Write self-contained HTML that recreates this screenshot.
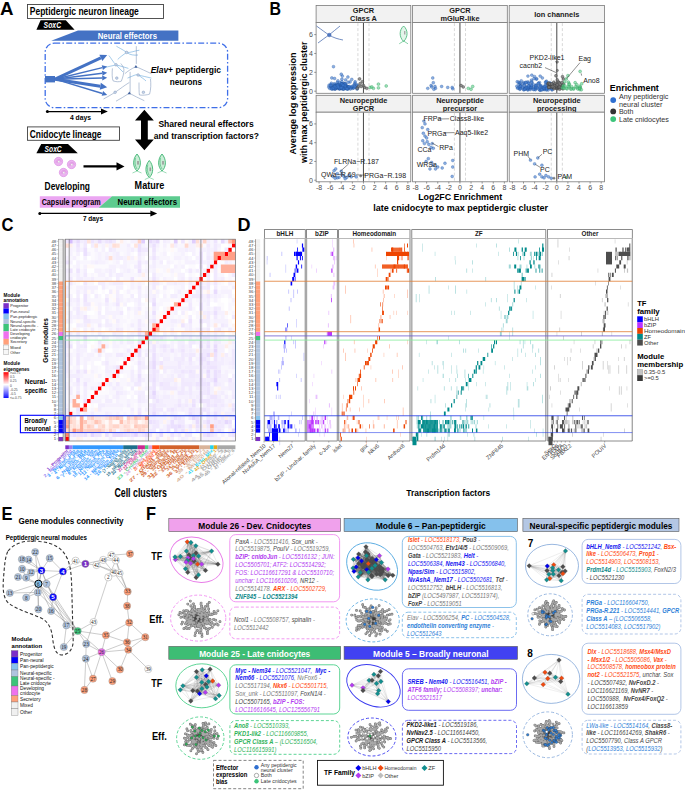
<!DOCTYPE html>
<html><head><meta charset="utf-8"><title>Figure</title>
<style>html,body{margin:0;padding:0;background:#fff;overflow:hidden;width:685px;height:790px;}svg{display:block;}text{font-family:"Liberation Sans",sans-serif;}</style>
</head><body>
<svg width="685" height="790" viewBox="0 0 685 790" font-family='"Liberation Sans", sans-serif'>
<rect width="685" height="790" fill="#fff"/>
<text x="0.0" y="15.1" font-size="18" fill="#000" font-weight="bold" textLength="13.5" lengthAdjust="spacingAndGlyphs">A</text>
<rect x="27.50" y="4.50" width="136.00" height="14.00" fill="#fff" stroke="#404040" stroke-width="0.9"/>
<text x="29.8" y="15.4" font-size="10.5" fill="#000" font-weight="bold" textLength="109.0" lengthAdjust="spacingAndGlyphs">Peptidergic neuron lineage</text>
<polygon points="36.40,29.80 40.60,20.20 65.80,20.20 74.60,29.80" fill="#000" stroke="none" stroke-width="1"/>
<text x="43.6" y="28.3" font-size="9.5" fill="#fff" font-weight="bold" font-style="italic" textLength="17.5" lengthAdjust="spacingAndGlyphs">SoxC</text>
<polygon points="51.20,40.80 78.00,30.40 178.40,30.40 178.40,40.80" fill="#4472c4" stroke="none" stroke-width="1"/>
<text x="97.7" y="38.9" font-size="9" fill="#fff" font-weight="bold" textLength="59.3" lengthAdjust="spacingAndGlyphs">Neural effectors</text>
<rect x="45.20" y="43.20" width="182.40" height="64.40" fill="none" stroke="#3f6fe8" stroke-width="1.3" rx="9" stroke-dasharray="6 2.2 1.6 2.2"/>
<rect x="45.00" y="76.00" width="10.00" height="6.40" fill="#4472c4" stroke="none" stroke-width="1"/>
<line x1="55.00" y1="79.20" x2="100.85" y2="57.94" stroke="#4472c4" stroke-width="3.0"/>
<polygon points="107.20,55.00 102.32,61.12 99.38,54.77" fill="#4472c4" stroke="none" stroke-width="1"/>
<line x1="55.00" y1="79.20" x2="102.34" y2="67.59" stroke="#4472c4" stroke-width="1.4"/>
<polygon points="107.20,66.40 102.94,70.02 101.75,65.16" fill="#4472c4" stroke="none" stroke-width="1"/>
<line x1="55.00" y1="79.20" x2="102.24" y2="73.32" stroke="#4472c4" stroke-width="1.6"/>
<polygon points="107.20,72.70 102.55,75.80 101.93,70.84" fill="#4472c4" stroke="none" stroke-width="1"/>
<line x1="55.00" y1="79.20" x2="102.20" y2="77.93" stroke="#4472c4" stroke-width="1.6"/>
<polygon points="107.20,77.80 102.27,80.43 102.13,75.43" fill="#4472c4" stroke="none" stroke-width="1"/>
<line x1="55.00" y1="79.20" x2="100.28" y2="86.23" stroke="#4472c4" stroke-width="3.0"/>
<polygon points="107.20,87.30 99.75,89.69 100.82,82.77" fill="#4472c4" stroke="none" stroke-width="1"/>
<line x1="55.00" y1="79.20" x2="102.41" y2="93.46" stroke="#4472c4" stroke-width="1.4"/>
<polygon points="107.20,94.90 101.69,95.85 103.13,91.07" fill="#4472c4" stroke="none" stroke-width="1"/>
<path d="M116.4 46.2 C119 48 122 49 126.6 52.4 C130 53 134 51 139.4 50.2" fill="none" stroke="#5aa0d8" stroke-width="0.55"/>
<path d="M117.7 59.5 C120 57 123 55 126.6 52.4" fill="none" stroke="#5aa0d8" stroke-width="0.55"/>
<path d="M126.6 52.4 C130 55 134 55.5 138 55" fill="none" stroke="#5aa0d8" stroke-width="0.55"/>
<path d="M108.9 55.5 C111 58 113 62 116 64.8" fill="none" stroke="#5aa0d8" stroke-width="0.55"/>
<path d="M105.3 67.5 C108 66.5 112 66 116 64.8 C120 66 124 67 128.4 68.4" fill="none" stroke="#5aa0d8" stroke-width="0.55"/>
<path d="M116 64.8 C118 67 121 70 123 72" fill="none" stroke="#5aa0d8" stroke-width="0.55"/>
<path d="M127.5 78.1 C133 76 136 74 138.1 75 C142 76 147 77 151.4 78.1" fill="none" stroke="#5aa0d8" stroke-width="0.55"/>
<path d="M138.1 75 C141 77 144 79 146 81" fill="none" stroke="#5aa0d8" stroke-width="0.55"/>
<path d="M136.3 46.2 L136.3 63.9" fill="none" stroke="#6f88b0" stroke-width="0.5"/>
<path d="M112.4 68.4 C112 73 112 78 113 80.8 C116 82 119 82 121.3 81.2 C123 77 124 73 123.9 69.2" fill="none" stroke="#6f88b0" stroke-width="0.5"/>
<path d="M120.8 63.5 C122 65 123.5 67 123.9 69.2" fill="none" stroke="#6f88b0" stroke-width="0.5"/>
<path d="M139 82.5 C139 87 139 92 139.4 95 C143 95.5 147 95 149.6 94.1 C151 89 151 84 150.5 79" fill="none" stroke="#6f88b0" stroke-width="0.5"/>
<path d="M135.9 66.6 C141 69 146 71 151.4 73.7" fill="none" stroke="#6f88b0" stroke-width="0.5"/>
<path d="M135.9 66.6 C131 69 128 71 124.8 73.7" fill="none" stroke="#6f88b0" stroke-width="0.5"/>
<path d="M130.1 71.9 L130.1 93.2" fill="none" stroke="#6f88b0" stroke-width="0.5"/>
<path d="M129.3 93.2 C125 96 120 99 116 101.2" fill="none" stroke="#6f88b0" stroke-width="0.5"/>
<path d="M129.3 93.2 C134 96 139 98 144.3 100.7" fill="none" stroke="#6f88b0" stroke-width="0.5"/>
<path d="M115.1 92.3 C111 95 107 97 103.5 99" fill="none" stroke="#6f88b0" stroke-width="0.5"/>
<path d="M115.1 92.3 C120 89 125 85 129.3 82.5" fill="none" stroke="#6f88b0" stroke-width="0.5"/>
<circle cx="126.60" cy="52.40" r="1.30" fill="#c8d6ea" stroke="#6f88b0" stroke-width="0.4"/>
<circle cx="116.00" cy="64.80" r="1.30" fill="#c8d6ea" stroke="#6f88b0" stroke-width="0.4"/>
<circle cx="138.10" cy="75.00" r="1.30" fill="#c8d6ea" stroke="#6f88b0" stroke-width="0.4"/>
<circle cx="116.80" cy="78.10" r="1.30" fill="#c8d6ea" stroke="#6f88b0" stroke-width="0.4"/>
<circle cx="115.10" cy="92.30" r="1.30" fill="#c8d6ea" stroke="#6f88b0" stroke-width="0.4"/>
<circle cx="143.40" cy="92.30" r="1.30" fill="#c8d6ea" stroke="#6f88b0" stroke-width="0.4"/>
<polygon points="135.90,65.00 137.50,67.70 134.30,67.70" fill="#3e5f9c" stroke="none" stroke-width="1"/>
<polygon points="129.30,91.60 130.90,94.30 127.70,94.30" fill="#3e5f9c" stroke="none" stroke-width="1"/>
<text x="150.7" y="73.4" font-size="9.5" font-weight="bold" textLength="70.3" lengthAdjust="spacingAndGlyphs"><tspan font-style="italic">Elav</tspan>+ peptidergic</text>
<text x="169.7" y="85.0" font-size="9.5" fill="#000" font-weight="bold" textLength="32.3" lengthAdjust="spacingAndGlyphs">neurons</text>
<circle cx="47.40" cy="111.60" r="1.50" fill="#000" stroke="none" stroke-width="1"/>
<line x1="47.40" y1="111.60" x2="102.00" y2="111.60" stroke="#000" stroke-width="1.3"/>
<polygon points="107.80,111.60 101.00,108.60 101.00,114.60" fill="#000" stroke="none" stroke-width="1"/>
<text x="70.0" y="119.9" font-size="7" fill="#000" font-weight="bold" textLength="21.0" lengthAdjust="spacingAndGlyphs">4 days</text>
<polygon points="144.40,109.80 135.00,120.50 141.00,120.50 141.00,139.50 135.00,139.50 144.40,150.30 153.80,139.50 147.80,139.50 147.80,120.50 153.80,120.50" fill="#000" stroke="none" stroke-width="1"/>
<text x="158.4" y="127.4" font-size="9.5" fill="#000" font-weight="bold" textLength="95.3" lengthAdjust="spacingAndGlyphs">Shared neural effectors</text>
<text x="153.7" y="138.6" font-size="9.5" fill="#000" font-weight="bold" textLength="105.2" lengthAdjust="spacingAndGlyphs">and transcription factors?</text>
<rect x="27.50" y="126.90" width="92.00" height="13.40" fill="#fff" stroke="#404040" stroke-width="0.9"/>
<text x="29.8" y="137.6" font-size="10.5" fill="#000" font-weight="bold" textLength="71.7" lengthAdjust="spacingAndGlyphs">Cnidocyte lineage</text>
<polygon points="36.40,153.30 41.20,143.90 68.00,143.90 77.80,153.30" fill="#000" stroke="none" stroke-width="1"/>
<text x="44.6" y="152.2" font-size="9.5" fill="#fff" font-weight="bold" font-style="italic" textLength="17.1" lengthAdjust="spacingAndGlyphs">SoxC</text>
<circle cx="58.50" cy="161.50" r="4.20" fill="#ebb2f0" stroke="#d98ae0" stroke-width="0.6"/>
<path d="M56.0 162.5 C56.5 159.0 60.5 158.5 61.5 161.5" fill="none" stroke="#d88ad8" stroke-width="0.6"/>
<path d="M57.0 163.0 C57.5 160.5 59.5 160.0 60.5 162.0" fill="none" stroke="#d88ad8" stroke-width="0.5"/>
<circle cx="58.80" cy="161.70" r="0.90" fill="#fff" stroke="#bbb" stroke-width="0.3"/>
<circle cx="71.50" cy="164.50" r="4.20" fill="#ebb2f0" stroke="#d98ae0" stroke-width="0.6"/>
<path d="M69.0 165.5 C69.5 162.0 73.5 161.5 74.5 164.5" fill="none" stroke="#d88ad8" stroke-width="0.6"/>
<path d="M70.0 166.0 C70.5 163.5 72.5 163.0 73.5 165.0" fill="none" stroke="#d88ad8" stroke-width="0.5"/>
<circle cx="71.80" cy="164.70" r="0.90" fill="#fff" stroke="#bbb" stroke-width="0.3"/>
<circle cx="63.50" cy="172.50" r="4.20" fill="#ebb2f0" stroke="#d98ae0" stroke-width="0.6"/>
<path d="M61.0 173.5 C61.5 170.0 65.5 169.5 66.5 172.5" fill="none" stroke="#d88ad8" stroke-width="0.6"/>
<path d="M62.0 174.0 C62.5 171.5 64.5 171.0 65.5 173.0" fill="none" stroke="#d88ad8" stroke-width="0.5"/>
<circle cx="63.80" cy="172.70" r="0.90" fill="#fff" stroke="#bbb" stroke-width="0.3"/>
<line x1="83.50" y1="166.40" x2="118.00" y2="166.40" stroke="#000" stroke-width="2.2"/>
<polygon points="124.50,166.40 116.50,162.20 116.50,170.60" fill="#000" stroke="none" stroke-width="1"/>
<path d="M137 154 C141.5 159 141.5 167 137 171 C132.5 167 132.5 159 137 154 Z" fill="#c9edd6" stroke="#3cb371" stroke-width="0.9"/>
<path d="M135.5 158 C134.5 162 135 166 137 169" fill="none" stroke="#3cb371" stroke-width="0.6"/>
<rect x="137.20" y="161.00" width="1.60" height="3.60" fill="#9a9a9a" stroke="none" stroke-width="1"/>
<path d="M132.5 173 L137 171 L141.5 173" fill="none" stroke="#5cc48a" stroke-width="0.6"/>
<path d="M149.3 160.5 C153.8 165.5 153.8 173.5 149.3 177.5 C144.8 173.5 144.8 165.5 149.3 160.5 Z" fill="#c9edd6" stroke="#3cb371" stroke-width="0.9"/>
<path d="M147.8 164.5 C146.8 168.5 147.3 172.5 149.3 175.5" fill="none" stroke="#3cb371" stroke-width="0.6"/>
<rect x="149.50" y="167.50" width="1.60" height="3.60" fill="#9a9a9a" stroke="none" stroke-width="1"/>
<path d="M144.8 179.5 L149.3 177.5 L153.8 179.5" fill="none" stroke="#5cc48a" stroke-width="0.6"/>
<path d="M162 154 C166.5 159 166.5 167 162 171 C157.5 167 157.5 159 162 154 Z" fill="#c9edd6" stroke="#3cb371" stroke-width="0.9"/>
<path d="M160.5 158 C159.5 162 160 166 162 169" fill="none" stroke="#3cb371" stroke-width="0.6"/>
<rect x="162.20" y="161.00" width="1.60" height="3.60" fill="#9a9a9a" stroke="none" stroke-width="1"/>
<path d="M157.5 173 L162 171 L166.5 173" fill="none" stroke="#5cc48a" stroke-width="0.6"/>
<text x="44.6" y="189.6" font-size="10" fill="#000" font-weight="bold" textLength="45.4" lengthAdjust="spacingAndGlyphs">Developing</text>
<text x="134.6" y="189.1" font-size="10" fill="#000" font-weight="bold" textLength="29.7" lengthAdjust="spacingAndGlyphs">Mature</text>
<polygon points="39.80,196.30 112.00,196.30 98.70,207.70 39.80,207.70" fill="#eba6f2" stroke="none" stroke-width="1"/>
<polygon points="112.00,196.30 180.00,196.30 180.00,207.70 98.70,207.70" fill="#5dcb8f" stroke="none" stroke-width="1"/>
<text x="41.7" y="204.5" font-size="8.5" fill="#000" font-weight="bold" textLength="58.9" lengthAdjust="spacingAndGlyphs">Capsule program</text>
<text x="117.5" y="204.9" font-size="8.5" fill="#000" font-weight="bold" textLength="59.5" lengthAdjust="spacingAndGlyphs">Neural effectors</text>
<circle cx="39.80" cy="213.40" r="1.50" fill="#000" stroke="none" stroke-width="1"/>
<line x1="39.80" y1="213.40" x2="151.00" y2="213.40" stroke="#000" stroke-width="1.3"/>
<polygon points="157.20,213.40 150.40,210.40 150.40,216.40" fill="#000" stroke="none" stroke-width="1"/>
<text x="83.0" y="221.2" font-size="7" fill="#000" font-weight="bold" textLength="20.0" lengthAdjust="spacingAndGlyphs">7 days</text>
<text x="269.5" y="15.1" font-size="18" fill="#000" font-weight="bold" textLength="11.5" lengthAdjust="spacingAndGlyphs">B</text>
<rect x="316.10" y="5.50" width="94.70" height="17.10" fill="#f2f2f2" stroke="#7a7a7a" stroke-width="0.8"/>
<text x="363.5" y="13.2" font-size="7.4" fill="#1a1a1a" font-weight="bold" text-anchor="middle">GPCR</text>
<text x="363.5" y="20.8" font-size="7.4" fill="#1a1a1a" font-weight="bold" text-anchor="middle">Class A</text>
<rect x="316.10" y="22.60" width="94.70" height="70.70" fill="#fff" stroke="#7a7a7a" stroke-width="0.8"/>
<line x1="357.90" y1="23.10" x2="357.90" y2="92.80" stroke="#cfcfcf" stroke-width="0.8" stroke-dasharray="3 2"/>
<line x1="369.00" y1="23.10" x2="369.00" y2="92.80" stroke="#cfcfcf" stroke-width="0.8" stroke-dasharray="3 2"/>
<line x1="363.45" y1="23.00" x2="363.45" y2="92.90" stroke="#333" stroke-width="0.9"/>
<rect x="412.60" y="5.50" width="94.70" height="17.10" fill="#f2f2f2" stroke="#7a7a7a" stroke-width="0.8"/>
<text x="460.0" y="13.2" font-size="7.4" fill="#1a1a1a" font-weight="bold" text-anchor="middle">GPCR</text>
<text x="460.0" y="20.8" font-size="7.4" fill="#1a1a1a" font-weight="bold" text-anchor="middle">mGluR-like</text>
<rect x="412.60" y="22.60" width="94.70" height="70.70" fill="#fff" stroke="#7a7a7a" stroke-width="0.8"/>
<line x1="454.40" y1="23.10" x2="454.40" y2="92.80" stroke="#cfcfcf" stroke-width="0.8" stroke-dasharray="3 2"/>
<line x1="465.50" y1="23.10" x2="465.50" y2="92.80" stroke="#cfcfcf" stroke-width="0.8" stroke-dasharray="3 2"/>
<line x1="459.95" y1="23.00" x2="459.95" y2="92.90" stroke="#333" stroke-width="0.9"/>
<rect x="509.20" y="5.50" width="95.20" height="17.10" fill="#f2f2f2" stroke="#7a7a7a" stroke-width="0.8"/>
<text x="556.8" y="16.7" font-size="7.4" fill="#1a1a1a" font-weight="bold" text-anchor="middle">Ion channels</text>
<rect x="509.20" y="22.60" width="95.20" height="70.70" fill="#fff" stroke="#7a7a7a" stroke-width="0.8"/>
<line x1="551.25" y1="23.10" x2="551.25" y2="92.80" stroke="#cfcfcf" stroke-width="0.8" stroke-dasharray="3 2"/>
<line x1="562.35" y1="23.10" x2="562.35" y2="92.80" stroke="#cfcfcf" stroke-width="0.8" stroke-dasharray="3 2"/>
<line x1="556.80" y1="23.00" x2="556.80" y2="92.90" stroke="#333" stroke-width="0.9"/>
<rect x="316.10" y="95.30" width="94.70" height="16.90" fill="#f2f2f2" stroke="#7a7a7a" stroke-width="0.8"/>
<text x="363.5" y="103.0" font-size="7.4" fill="#1a1a1a" font-weight="bold" text-anchor="middle">Neuropeptide</text>
<text x="363.5" y="110.6" font-size="7.4" fill="#1a1a1a" font-weight="bold" text-anchor="middle">GPCR</text>
<rect x="316.10" y="112.20" width="94.70" height="69.60" fill="#fff" stroke="#7a7a7a" stroke-width="0.8"/>
<line x1="357.90" y1="112.70" x2="357.90" y2="181.30" stroke="#cfcfcf" stroke-width="0.8" stroke-dasharray="3 2"/>
<line x1="369.00" y1="112.70" x2="369.00" y2="181.30" stroke="#cfcfcf" stroke-width="0.8" stroke-dasharray="3 2"/>
<line x1="363.45" y1="112.60" x2="363.45" y2="181.40" stroke="#333" stroke-width="0.9"/>
<rect x="412.60" y="95.30" width="94.70" height="16.90" fill="#f2f2f2" stroke="#7a7a7a" stroke-width="0.8"/>
<text x="460.0" y="103.0" font-size="7.4" fill="#1a1a1a" font-weight="bold" text-anchor="middle">Neuropeptide</text>
<text x="460.0" y="110.6" font-size="7.4" fill="#1a1a1a" font-weight="bold" text-anchor="middle">precursor</text>
<rect x="412.60" y="112.20" width="94.70" height="69.60" fill="#fff" stroke="#7a7a7a" stroke-width="0.8"/>
<line x1="454.40" y1="112.70" x2="454.40" y2="181.30" stroke="#cfcfcf" stroke-width="0.8" stroke-dasharray="3 2"/>
<line x1="465.50" y1="112.70" x2="465.50" y2="181.30" stroke="#cfcfcf" stroke-width="0.8" stroke-dasharray="3 2"/>
<line x1="459.95" y1="112.60" x2="459.95" y2="181.40" stroke="#333" stroke-width="0.9"/>
<rect x="509.20" y="95.30" width="95.20" height="16.90" fill="#f2f2f2" stroke="#7a7a7a" stroke-width="0.8"/>
<text x="556.8" y="103.0" font-size="7.4" fill="#1a1a1a" font-weight="bold" text-anchor="middle">Neuropeptide</text>
<text x="556.8" y="110.6" font-size="7.4" fill="#1a1a1a" font-weight="bold" text-anchor="middle">processing</text>
<rect x="509.20" y="112.20" width="95.20" height="69.60" fill="#fff" stroke="#7a7a7a" stroke-width="0.8"/>
<line x1="551.25" y1="112.70" x2="551.25" y2="181.30" stroke="#cfcfcf" stroke-width="0.8" stroke-dasharray="3 2"/>
<line x1="562.35" y1="112.70" x2="562.35" y2="181.30" stroke="#cfcfcf" stroke-width="0.8" stroke-dasharray="3 2"/>
<line x1="556.80" y1="112.60" x2="556.80" y2="181.40" stroke="#333" stroke-width="0.9"/>
<line x1="314.20" y1="91.20" x2="316.10" y2="91.20" stroke="#555" stroke-width="0.6"/>
<text x="312.8" y="93.7" font-size="7" fill="#4d4d4d" text-anchor="end">0</text>
<line x1="314.20" y1="72.34" x2="316.10" y2="72.34" stroke="#555" stroke-width="0.6"/>
<text x="312.8" y="74.9" font-size="7" fill="#4d4d4d" text-anchor="end">2</text>
<line x1="314.20" y1="53.48" x2="316.10" y2="53.48" stroke="#555" stroke-width="0.6"/>
<text x="312.8" y="56.0" font-size="7" fill="#4d4d4d" text-anchor="end">4</text>
<line x1="314.20" y1="34.62" x2="316.10" y2="34.62" stroke="#555" stroke-width="0.6"/>
<text x="312.8" y="37.1" font-size="7" fill="#4d4d4d" text-anchor="end">6</text>
<line x1="314.20" y1="180.20" x2="316.10" y2="180.20" stroke="#555" stroke-width="0.6"/>
<text x="312.8" y="182.7" font-size="7" fill="#4d4d4d" text-anchor="end">0</text>
<line x1="314.20" y1="161.44" x2="316.10" y2="161.44" stroke="#555" stroke-width="0.6"/>
<text x="312.8" y="164.0" font-size="7" fill="#4d4d4d" text-anchor="end">2</text>
<line x1="314.20" y1="142.68" x2="316.10" y2="142.68" stroke="#555" stroke-width="0.6"/>
<text x="312.8" y="145.2" font-size="7" fill="#4d4d4d" text-anchor="end">4</text>
<line x1="314.20" y1="123.92" x2="316.10" y2="123.92" stroke="#555" stroke-width="0.6"/>
<text x="312.8" y="126.4" font-size="7" fill="#4d4d4d" text-anchor="end">6</text>
<line x1="319.05" y1="181.80" x2="319.05" y2="183.60" stroke="#555" stroke-width="0.6"/>
<text x="319.1" y="189.5" font-size="7" fill="#4d4d4d" text-anchor="middle">-8</text>
<line x1="330.15" y1="181.80" x2="330.15" y2="183.60" stroke="#555" stroke-width="0.6"/>
<text x="330.2" y="189.5" font-size="7" fill="#4d4d4d" text-anchor="middle">-6</text>
<line x1="341.25" y1="181.80" x2="341.25" y2="183.60" stroke="#555" stroke-width="0.6"/>
<text x="341.3" y="189.5" font-size="7" fill="#4d4d4d" text-anchor="middle">-4</text>
<line x1="352.35" y1="181.80" x2="352.35" y2="183.60" stroke="#555" stroke-width="0.6"/>
<text x="352.4" y="189.5" font-size="7" fill="#4d4d4d" text-anchor="middle">-2</text>
<line x1="363.45" y1="181.80" x2="363.45" y2="183.60" stroke="#555" stroke-width="0.6"/>
<text x="363.5" y="189.5" font-size="7" fill="#4d4d4d" text-anchor="middle">0</text>
<line x1="374.55" y1="181.80" x2="374.55" y2="183.60" stroke="#555" stroke-width="0.6"/>
<text x="374.6" y="189.5" font-size="7" fill="#4d4d4d" text-anchor="middle">2</text>
<line x1="385.65" y1="181.80" x2="385.65" y2="183.60" stroke="#555" stroke-width="0.6"/>
<text x="385.7" y="189.5" font-size="7" fill="#4d4d4d" text-anchor="middle">4</text>
<line x1="396.75" y1="181.80" x2="396.75" y2="183.60" stroke="#555" stroke-width="0.6"/>
<text x="396.8" y="189.5" font-size="7" fill="#4d4d4d" text-anchor="middle">6</text>
<line x1="407.85" y1="181.80" x2="407.85" y2="183.60" stroke="#555" stroke-width="0.6"/>
<text x="407.9" y="189.5" font-size="7" fill="#4d4d4d" text-anchor="middle">8</text>
<line x1="415.55" y1="181.80" x2="415.55" y2="183.60" stroke="#555" stroke-width="0.6"/>
<text x="415.6" y="189.5" font-size="7" fill="#4d4d4d" text-anchor="middle">-8</text>
<line x1="426.65" y1="181.80" x2="426.65" y2="183.60" stroke="#555" stroke-width="0.6"/>
<text x="426.7" y="189.5" font-size="7" fill="#4d4d4d" text-anchor="middle">-6</text>
<line x1="437.75" y1="181.80" x2="437.75" y2="183.60" stroke="#555" stroke-width="0.6"/>
<text x="437.8" y="189.5" font-size="7" fill="#4d4d4d" text-anchor="middle">-4</text>
<line x1="448.85" y1="181.80" x2="448.85" y2="183.60" stroke="#555" stroke-width="0.6"/>
<text x="448.9" y="189.5" font-size="7" fill="#4d4d4d" text-anchor="middle">-2</text>
<line x1="459.95" y1="181.80" x2="459.95" y2="183.60" stroke="#555" stroke-width="0.6"/>
<text x="460.0" y="189.5" font-size="7" fill="#4d4d4d" text-anchor="middle">0</text>
<line x1="471.05" y1="181.80" x2="471.05" y2="183.60" stroke="#555" stroke-width="0.6"/>
<text x="471.1" y="189.5" font-size="7" fill="#4d4d4d" text-anchor="middle">2</text>
<line x1="482.15" y1="181.80" x2="482.15" y2="183.60" stroke="#555" stroke-width="0.6"/>
<text x="482.2" y="189.5" font-size="7" fill="#4d4d4d" text-anchor="middle">4</text>
<line x1="493.25" y1="181.80" x2="493.25" y2="183.60" stroke="#555" stroke-width="0.6"/>
<text x="493.3" y="189.5" font-size="7" fill="#4d4d4d" text-anchor="middle">6</text>
<line x1="504.35" y1="181.80" x2="504.35" y2="183.60" stroke="#555" stroke-width="0.6"/>
<text x="504.4" y="189.5" font-size="7" fill="#4d4d4d" text-anchor="middle">8</text>
<line x1="512.40" y1="181.80" x2="512.40" y2="183.60" stroke="#555" stroke-width="0.6"/>
<text x="512.4" y="189.5" font-size="7" fill="#4d4d4d" text-anchor="middle">-8</text>
<line x1="523.50" y1="181.80" x2="523.50" y2="183.60" stroke="#555" stroke-width="0.6"/>
<text x="523.5" y="189.5" font-size="7" fill="#4d4d4d" text-anchor="middle">-6</text>
<line x1="534.60" y1="181.80" x2="534.60" y2="183.60" stroke="#555" stroke-width="0.6"/>
<text x="534.6" y="189.5" font-size="7" fill="#4d4d4d" text-anchor="middle">-4</text>
<line x1="545.70" y1="181.80" x2="545.70" y2="183.60" stroke="#555" stroke-width="0.6"/>
<text x="545.7" y="189.5" font-size="7" fill="#4d4d4d" text-anchor="middle">-2</text>
<line x1="556.80" y1="181.80" x2="556.80" y2="183.60" stroke="#555" stroke-width="0.6"/>
<text x="556.8" y="189.5" font-size="7" fill="#4d4d4d" text-anchor="middle">0</text>
<line x1="567.90" y1="181.80" x2="567.90" y2="183.60" stroke="#555" stroke-width="0.6"/>
<text x="567.9" y="189.5" font-size="7" fill="#4d4d4d" text-anchor="middle">2</text>
<line x1="579.00" y1="181.80" x2="579.00" y2="183.60" stroke="#555" stroke-width="0.6"/>
<text x="579.0" y="189.5" font-size="7" fill="#4d4d4d" text-anchor="middle">4</text>
<line x1="590.10" y1="181.80" x2="590.10" y2="183.60" stroke="#555" stroke-width="0.6"/>
<text x="590.1" y="189.5" font-size="7" fill="#4d4d4d" text-anchor="middle">6</text>
<line x1="601.20" y1="181.80" x2="601.20" y2="183.60" stroke="#555" stroke-width="0.6"/>
<text x="601.2" y="189.5" font-size="7" fill="#4d4d4d" text-anchor="middle">8</text>
<text transform="translate(296.4,103.4) rotate(-90)" font-size="9.1" font-weight="bold" text-anchor="middle" textLength="102" lengthAdjust="spacingAndGlyphs">Average log expression</text>
<text transform="translate(306.8,102.3) rotate(-90)" font-size="9.1" font-weight="bold" text-anchor="middle" textLength="121.6" lengthAdjust="spacingAndGlyphs">with max peptidergic cluster</text>
<text x="460.2" y="200.1" font-size="9.6" fill="#000" font-weight="bold" text-anchor="middle" textLength="84.0" lengthAdjust="spacingAndGlyphs">Log2FC Enrichment</text>
<text x="460.6" y="210.7" font-size="9.6" fill="#000" font-weight="bold" text-anchor="middle" textLength="174.7" lengthAdjust="spacingAndGlyphs">late cnidocyte to max peptidergic cluster</text>
<text x="609.8" y="90.7" font-size="9.2" fill="#000" font-weight="bold" textLength="49.0" lengthAdjust="spacingAndGlyphs">Enrichment</text>
<circle cx="613.20" cy="100.10" r="2.90" fill="#2f6fd0" stroke="none" stroke-width="1"/>
<circle cx="613.20" cy="111.40" r="2.90" fill="#333" stroke="none" stroke-width="1"/>
<circle cx="613.20" cy="119.10" r="2.90" fill="#3cc47a" stroke="none" stroke-width="1"/>
<text x="618.9" y="99.3" font-size="7" fill="#333" textLength="49.5" lengthAdjust="spacingAndGlyphs">Any peptidergic</text>
<text x="618.9" y="106.6" font-size="7" fill="#333" textLength="43.5" lengthAdjust="spacingAndGlyphs">neural cluster</text>
<text x="618.9" y="113.9" font-size="7" fill="#333" textLength="14.5" lengthAdjust="spacingAndGlyphs">Both</text>
<text x="618.9" y="121.6" font-size="7" fill="#333" textLength="50.0" lengthAdjust="spacingAndGlyphs">Late cnidocytes</text>
<circle cx="334.33" cy="88.24" r="1.45" fill="#3d7ad0" stroke="#1f4f96" stroke-width="0.35" fill-opacity="0.6" stroke-opacity="0.8"/>
<circle cx="338.67" cy="87.84" r="1.45" fill="#3d7ad0" stroke="#1f4f96" stroke-width="0.35" fill-opacity="0.6" stroke-opacity="0.8"/>
<circle cx="334.38" cy="84.75" r="1.45" fill="#3d7ad0" stroke="#1f4f96" stroke-width="0.35" fill-opacity="0.6" stroke-opacity="0.8"/>
<circle cx="344.70" cy="87.80" r="1.45" fill="#3d7ad0" stroke="#1f4f96" stroke-width="0.35" fill-opacity="0.6" stroke-opacity="0.8"/>
<circle cx="357.35" cy="88.44" r="1.45" fill="#3d7ad0" stroke="#1f4f96" stroke-width="0.35" fill-opacity="0.6" stroke-opacity="0.8"/>
<circle cx="334.86" cy="86.03" r="1.45" fill="#3d7ad0" stroke="#1f4f96" stroke-width="0.35" fill-opacity="0.6" stroke-opacity="0.8"/>
<circle cx="343.47" cy="85.42" r="1.45" fill="#3d7ad0" stroke="#1f4f96" stroke-width="0.35" fill-opacity="0.6" stroke-opacity="0.8"/>
<circle cx="343.09" cy="87.56" r="1.45" fill="#3d7ad0" stroke="#1f4f96" stroke-width="0.35" fill-opacity="0.6" stroke-opacity="0.8"/>
<circle cx="332.81" cy="89.12" r="1.45" fill="#3d7ad0" stroke="#1f4f96" stroke-width="0.35" fill-opacity="0.6" stroke-opacity="0.8"/>
<circle cx="343.11" cy="84.61" r="1.45" fill="#3d7ad0" stroke="#1f4f96" stroke-width="0.35" fill-opacity="0.6" stroke-opacity="0.8"/>
<circle cx="340.05" cy="87.56" r="1.45" fill="#3d7ad0" stroke="#1f4f96" stroke-width="0.35" fill-opacity="0.6" stroke-opacity="0.8"/>
<circle cx="344.06" cy="83.29" r="1.45" fill="#3d7ad0" stroke="#1f4f96" stroke-width="0.35" fill-opacity="0.6" stroke-opacity="0.8"/>
<circle cx="353.23" cy="87.93" r="1.45" fill="#3d7ad0" stroke="#1f4f96" stroke-width="0.35" fill-opacity="0.6" stroke-opacity="0.8"/>
<circle cx="341.82" cy="81.64" r="1.45" fill="#3d7ad0" stroke="#1f4f96" stroke-width="0.35" fill-opacity="0.6" stroke-opacity="0.8"/>
<circle cx="349.52" cy="87.39" r="1.45" fill="#3d7ad0" stroke="#1f4f96" stroke-width="0.35" fill-opacity="0.6" stroke-opacity="0.8"/>
<circle cx="337.04" cy="86.11" r="1.45" fill="#3d7ad0" stroke="#1f4f96" stroke-width="0.35" fill-opacity="0.6" stroke-opacity="0.8"/>
<circle cx="345.19" cy="87.93" r="1.45" fill="#3d7ad0" stroke="#1f4f96" stroke-width="0.35" fill-opacity="0.6" stroke-opacity="0.8"/>
<circle cx="343.08" cy="85.63" r="1.45" fill="#3d7ad0" stroke="#1f4f96" stroke-width="0.35" fill-opacity="0.6" stroke-opacity="0.8"/>
<circle cx="345.41" cy="83.72" r="1.45" fill="#3d7ad0" stroke="#1f4f96" stroke-width="0.35" fill-opacity="0.6" stroke-opacity="0.8"/>
<circle cx="348.24" cy="87.07" r="1.45" fill="#3d7ad0" stroke="#1f4f96" stroke-width="0.35" fill-opacity="0.6" stroke-opacity="0.8"/>
<circle cx="352.63" cy="88.35" r="1.45" fill="#3d7ad0" stroke="#1f4f96" stroke-width="0.35" fill-opacity="0.6" stroke-opacity="0.8"/>
<circle cx="353.77" cy="85.48" r="1.45" fill="#3d7ad0" stroke="#1f4f96" stroke-width="0.35" fill-opacity="0.6" stroke-opacity="0.8"/>
<circle cx="356.66" cy="84.94" r="1.45" fill="#3d7ad0" stroke="#1f4f96" stroke-width="0.35" fill-opacity="0.6" stroke-opacity="0.8"/>
<circle cx="346.40" cy="86.79" r="1.45" fill="#3d7ad0" stroke="#1f4f96" stroke-width="0.35" fill-opacity="0.6" stroke-opacity="0.8"/>
<circle cx="348.62" cy="87.34" r="1.45" fill="#3d7ad0" stroke="#1f4f96" stroke-width="0.35" fill-opacity="0.6" stroke-opacity="0.8"/>
<circle cx="350.08" cy="82.04" r="1.45" fill="#3d7ad0" stroke="#1f4f96" stroke-width="0.35" fill-opacity="0.6" stroke-opacity="0.8"/>
<circle cx="330.87" cy="86.99" r="1.45" fill="#3d7ad0" stroke="#1f4f96" stroke-width="0.35" fill-opacity="0.6" stroke-opacity="0.8"/>
<circle cx="345.03" cy="88.39" r="1.45" fill="#3d7ad0" stroke="#1f4f96" stroke-width="0.35" fill-opacity="0.6" stroke-opacity="0.8"/>
<circle cx="340.84" cy="83.54" r="1.45" fill="#3d7ad0" stroke="#1f4f96" stroke-width="0.35" fill-opacity="0.6" stroke-opacity="0.8"/>
<circle cx="355.92" cy="87.16" r="1.45" fill="#3d7ad0" stroke="#1f4f96" stroke-width="0.35" fill-opacity="0.6" stroke-opacity="0.8"/>
<circle cx="357.00" cy="87.46" r="1.45" fill="#3d7ad0" stroke="#1f4f96" stroke-width="0.35" fill-opacity="0.6" stroke-opacity="0.8"/>
<circle cx="351.31" cy="87.71" r="1.45" fill="#3d7ad0" stroke="#1f4f96" stroke-width="0.35" fill-opacity="0.6" stroke-opacity="0.8"/>
<circle cx="346.21" cy="85.77" r="1.45" fill="#3d7ad0" stroke="#1f4f96" stroke-width="0.35" fill-opacity="0.6" stroke-opacity="0.8"/>
<circle cx="343.65" cy="87.17" r="1.45" fill="#3d7ad0" stroke="#1f4f96" stroke-width="0.35" fill-opacity="0.6" stroke-opacity="0.8"/>
<circle cx="345.39" cy="86.85" r="1.45" fill="#3d7ad0" stroke="#1f4f96" stroke-width="0.35" fill-opacity="0.6" stroke-opacity="0.8"/>
<circle cx="342.31" cy="87.33" r="1.45" fill="#3d7ad0" stroke="#1f4f96" stroke-width="0.35" fill-opacity="0.6" stroke-opacity="0.8"/>
<circle cx="338.89" cy="88.58" r="1.45" fill="#3d7ad0" stroke="#1f4f96" stroke-width="0.35" fill-opacity="0.6" stroke-opacity="0.8"/>
<circle cx="351.60" cy="87.13" r="1.45" fill="#3d7ad0" stroke="#1f4f96" stroke-width="0.35" fill-opacity="0.6" stroke-opacity="0.8"/>
<circle cx="342.84" cy="88.64" r="1.45" fill="#3d7ad0" stroke="#1f4f96" stroke-width="0.35" fill-opacity="0.6" stroke-opacity="0.8"/>
<circle cx="343.31" cy="88.65" r="1.45" fill="#3d7ad0" stroke="#1f4f96" stroke-width="0.35" fill-opacity="0.6" stroke-opacity="0.8"/>
<circle cx="331.98" cy="88.70" r="1.45" fill="#3d7ad0" stroke="#1f4f96" stroke-width="0.35" fill-opacity="0.6" stroke-opacity="0.8"/>
<circle cx="357.35" cy="85.43" r="1.45" fill="#3d7ad0" stroke="#1f4f96" stroke-width="0.35" fill-opacity="0.6" stroke-opacity="0.8"/>
<circle cx="341.03" cy="84.34" r="1.45" fill="#3d7ad0" stroke="#1f4f96" stroke-width="0.35" fill-opacity="0.6" stroke-opacity="0.8"/>
<circle cx="328.75" cy="87.12" r="1.45" fill="#3d7ad0" stroke="#1f4f96" stroke-width="0.35" fill-opacity="0.6" stroke-opacity="0.8"/>
<circle cx="332.44" cy="87.05" r="1.45" fill="#3d7ad0" stroke="#1f4f96" stroke-width="0.35" fill-opacity="0.6" stroke-opacity="0.8"/>
<circle cx="335.78" cy="86.82" r="1.45" fill="#3d7ad0" stroke="#1f4f96" stroke-width="0.35" fill-opacity="0.6" stroke-opacity="0.8"/>
<circle cx="349.44" cy="87.50" r="1.45" fill="#3d7ad0" stroke="#1f4f96" stroke-width="0.35" fill-opacity="0.6" stroke-opacity="0.8"/>
<circle cx="341.28" cy="86.19" r="1.45" fill="#3d7ad0" stroke="#1f4f96" stroke-width="0.35" fill-opacity="0.6" stroke-opacity="0.8"/>
<circle cx="330.95" cy="84.77" r="1.45" fill="#3d7ad0" stroke="#1f4f96" stroke-width="0.35" fill-opacity="0.6" stroke-opacity="0.8"/>
<circle cx="346.91" cy="86.95" r="1.45" fill="#3d7ad0" stroke="#1f4f96" stroke-width="0.35" fill-opacity="0.6" stroke-opacity="0.8"/>
<circle cx="339.52" cy="86.51" r="1.45" fill="#3d7ad0" stroke="#1f4f96" stroke-width="0.35" fill-opacity="0.6" stroke-opacity="0.8"/>
<circle cx="332.75" cy="87.14" r="1.45" fill="#3d7ad0" stroke="#1f4f96" stroke-width="0.35" fill-opacity="0.6" stroke-opacity="0.8"/>
<circle cx="342.90" cy="85.45" r="1.45" fill="#3d7ad0" stroke="#1f4f96" stroke-width="0.35" fill-opacity="0.6" stroke-opacity="0.8"/>
<circle cx="336.80" cy="87.49" r="1.45" fill="#3d7ad0" stroke="#1f4f96" stroke-width="0.35" fill-opacity="0.6" stroke-opacity="0.8"/>
<circle cx="343.87" cy="86.75" r="1.45" fill="#3d7ad0" stroke="#1f4f96" stroke-width="0.35" fill-opacity="0.6" stroke-opacity="0.8"/>
<circle cx="329.10" cy="85.14" r="1.45" fill="#3d7ad0" stroke="#1f4f96" stroke-width="0.35" fill-opacity="0.6" stroke-opacity="0.8"/>
<circle cx="346.49" cy="87.04" r="1.45" fill="#3d7ad0" stroke="#1f4f96" stroke-width="0.35" fill-opacity="0.6" stroke-opacity="0.8"/>
<circle cx="331.67" cy="87.32" r="1.45" fill="#3d7ad0" stroke="#1f4f96" stroke-width="0.35" fill-opacity="0.6" stroke-opacity="0.8"/>
<circle cx="337.14" cy="88.55" r="1.45" fill="#3d7ad0" stroke="#1f4f96" stroke-width="0.35" fill-opacity="0.6" stroke-opacity="0.8"/>
<circle cx="347.96" cy="87.07" r="1.45" fill="#3d7ad0" stroke="#1f4f96" stroke-width="0.35" fill-opacity="0.6" stroke-opacity="0.8"/>
<circle cx="348.46" cy="88.83" r="1.45" fill="#3d7ad0" stroke="#1f4f96" stroke-width="0.35" fill-opacity="0.6" stroke-opacity="0.8"/>
<circle cx="342.50" cy="85.55" r="1.45" fill="#3d7ad0" stroke="#1f4f96" stroke-width="0.35" fill-opacity="0.6" stroke-opacity="0.8"/>
<circle cx="337.89" cy="84.22" r="1.45" fill="#3d7ad0" stroke="#1f4f96" stroke-width="0.35" fill-opacity="0.6" stroke-opacity="0.8"/>
<circle cx="342.20" cy="84.19" r="1.45" fill="#3d7ad0" stroke="#1f4f96" stroke-width="0.35" fill-opacity="0.6" stroke-opacity="0.8"/>
<circle cx="343.00" cy="88.56" r="1.45" fill="#3d7ad0" stroke="#1f4f96" stroke-width="0.35" fill-opacity="0.6" stroke-opacity="0.8"/>
<circle cx="336.99" cy="86.72" r="1.45" fill="#3d7ad0" stroke="#1f4f96" stroke-width="0.35" fill-opacity="0.6" stroke-opacity="0.8"/>
<circle cx="340.18" cy="87.68" r="1.45" fill="#3d7ad0" stroke="#1f4f96" stroke-width="0.35" fill-opacity="0.6" stroke-opacity="0.8"/>
<circle cx="342.40" cy="84.93" r="1.45" fill="#3d7ad0" stroke="#1f4f96" stroke-width="0.35" fill-opacity="0.6" stroke-opacity="0.8"/>
<circle cx="341.02" cy="86.98" r="1.45" fill="#3d7ad0" stroke="#1f4f96" stroke-width="0.35" fill-opacity="0.6" stroke-opacity="0.8"/>
<circle cx="334.81" cy="89.03" r="1.45" fill="#3d7ad0" stroke="#1f4f96" stroke-width="0.35" fill-opacity="0.6" stroke-opacity="0.8"/>
<circle cx="343.97" cy="85.81" r="1.45" fill="#3d7ad0" stroke="#1f4f96" stroke-width="0.35" fill-opacity="0.6" stroke-opacity="0.8"/>
<circle cx="337.79" cy="85.96" r="1.45" fill="#3d7ad0" stroke="#1f4f96" stroke-width="0.35" fill-opacity="0.6" stroke-opacity="0.8"/>
<circle cx="336.14" cy="86.99" r="1.45" fill="#3d7ad0" stroke="#1f4f96" stroke-width="0.35" fill-opacity="0.6" stroke-opacity="0.8"/>
<circle cx="334.31" cy="85.17" r="1.45" fill="#3d7ad0" stroke="#1f4f96" stroke-width="0.35" fill-opacity="0.6" stroke-opacity="0.8"/>
<circle cx="339.83" cy="84.84" r="1.45" fill="#3d7ad0" stroke="#1f4f96" stroke-width="0.35" fill-opacity="0.6" stroke-opacity="0.8"/>
<circle cx="334.26" cy="83.77" r="1.45" fill="#3d7ad0" stroke="#1f4f96" stroke-width="0.35" fill-opacity="0.6" stroke-opacity="0.8"/>
<circle cx="331.30" cy="88.17" r="1.45" fill="#3d7ad0" stroke="#1f4f96" stroke-width="0.35" fill-opacity="0.6" stroke-opacity="0.8"/>
<circle cx="353.91" cy="87.92" r="1.45" fill="#3d7ad0" stroke="#1f4f96" stroke-width="0.35" fill-opacity="0.6" stroke-opacity="0.8"/>
<circle cx="331.88" cy="87.87" r="1.45" fill="#3d7ad0" stroke="#1f4f96" stroke-width="0.35" fill-opacity="0.6" stroke-opacity="0.8"/>
<circle cx="341.92" cy="83.91" r="1.45" fill="#3d7ad0" stroke="#1f4f96" stroke-width="0.35" fill-opacity="0.6" stroke-opacity="0.8"/>
<circle cx="336.33" cy="85.55" r="1.45" fill="#3d7ad0" stroke="#1f4f96" stroke-width="0.35" fill-opacity="0.6" stroke-opacity="0.8"/>
<circle cx="344.48" cy="88.38" r="1.45" fill="#3d7ad0" stroke="#1f4f96" stroke-width="0.35" fill-opacity="0.6" stroke-opacity="0.8"/>
<circle cx="348.51" cy="87.45" r="1.45" fill="#3d7ad0" stroke="#1f4f96" stroke-width="0.35" fill-opacity="0.6" stroke-opacity="0.8"/>
<circle cx="340.99" cy="87.20" r="1.45" fill="#3d7ad0" stroke="#1f4f96" stroke-width="0.35" fill-opacity="0.6" stroke-opacity="0.8"/>
<circle cx="337.03" cy="85.59" r="1.45" fill="#3d7ad0" stroke="#1f4f96" stroke-width="0.35" fill-opacity="0.6" stroke-opacity="0.8"/>
<circle cx="335.30" cy="85.78" r="1.45" fill="#3d7ad0" stroke="#1f4f96" stroke-width="0.35" fill-opacity="0.6" stroke-opacity="0.8"/>
<circle cx="344.89" cy="84.68" r="1.45" fill="#3d7ad0" stroke="#1f4f96" stroke-width="0.35" fill-opacity="0.6" stroke-opacity="0.8"/>
<circle cx="340.34" cy="88.24" r="1.45" fill="#3d7ad0" stroke="#1f4f96" stroke-width="0.35" fill-opacity="0.6" stroke-opacity="0.8"/>
<circle cx="340.66" cy="86.55" r="1.45" fill="#3d7ad0" stroke="#1f4f96" stroke-width="0.35" fill-opacity="0.6" stroke-opacity="0.8"/>
<circle cx="340.40" cy="88.17" r="1.45" fill="#3d7ad0" stroke="#1f4f96" stroke-width="0.35" fill-opacity="0.6" stroke-opacity="0.8"/>
<circle cx="340.99" cy="88.31" r="1.45" fill="#3d7ad0" stroke="#1f4f96" stroke-width="0.35" fill-opacity="0.6" stroke-opacity="0.8"/>
<circle cx="340.29" cy="87.47" r="1.45" fill="#3d7ad0" stroke="#1f4f96" stroke-width="0.35" fill-opacity="0.6" stroke-opacity="0.8"/>
<circle cx="346.35" cy="85.70" r="1.45" fill="#3d7ad0" stroke="#1f4f96" stroke-width="0.35" fill-opacity="0.6" stroke-opacity="0.8"/>
<circle cx="329.79" cy="88.50" r="1.45" fill="#3d7ad0" stroke="#1f4f96" stroke-width="0.35" fill-opacity="0.6" stroke-opacity="0.8"/>
<circle cx="344.67" cy="88.49" r="1.45" fill="#3d7ad0" stroke="#1f4f96" stroke-width="0.35" fill-opacity="0.6" stroke-opacity="0.8"/>
<circle cx="340.52" cy="85.77" r="1.45" fill="#3d7ad0" stroke="#1f4f96" stroke-width="0.35" fill-opacity="0.6" stroke-opacity="0.8"/>
<circle cx="336.59" cy="84.12" r="1.45" fill="#3d7ad0" stroke="#1f4f96" stroke-width="0.35" fill-opacity="0.6" stroke-opacity="0.8"/>
<circle cx="347.86" cy="87.34" r="1.45" fill="#3d7ad0" stroke="#1f4f96" stroke-width="0.35" fill-opacity="0.6" stroke-opacity="0.8"/>
<circle cx="335.38" cy="88.65" r="1.45" fill="#3d7ad0" stroke="#1f4f96" stroke-width="0.35" fill-opacity="0.6" stroke-opacity="0.8"/>
<circle cx="346.24" cy="88.27" r="1.45" fill="#3d7ad0" stroke="#1f4f96" stroke-width="0.35" fill-opacity="0.6" stroke-opacity="0.8"/>
<circle cx="336.97" cy="86.91" r="1.45" fill="#3d7ad0" stroke="#1f4f96" stroke-width="0.35" fill-opacity="0.6" stroke-opacity="0.8"/>
<circle cx="335.05" cy="88.70" r="1.45" fill="#3d7ad0" stroke="#1f4f96" stroke-width="0.35" fill-opacity="0.6" stroke-opacity="0.8"/>
<circle cx="346.16" cy="87.95" r="1.45" fill="#3d7ad0" stroke="#1f4f96" stroke-width="0.35" fill-opacity="0.6" stroke-opacity="0.8"/>
<circle cx="354.49" cy="84.20" r="1.45" fill="#3d7ad0" stroke="#1f4f96" stroke-width="0.35" fill-opacity="0.6" stroke-opacity="0.8"/>
<circle cx="342.46" cy="85.34" r="1.45" fill="#3d7ad0" stroke="#1f4f96" stroke-width="0.35" fill-opacity="0.6" stroke-opacity="0.8"/>
<circle cx="344.56" cy="83.88" r="1.45" fill="#3d7ad0" stroke="#1f4f96" stroke-width="0.35" fill-opacity="0.6" stroke-opacity="0.8"/>
<circle cx="334.20" cy="87.07" r="1.45" fill="#3d7ad0" stroke="#1f4f96" stroke-width="0.35" fill-opacity="0.6" stroke-opacity="0.8"/>
<circle cx="342.26" cy="83.87" r="1.45" fill="#3d7ad0" stroke="#1f4f96" stroke-width="0.35" fill-opacity="0.6" stroke-opacity="0.8"/>
<circle cx="331.53" cy="88.98" r="1.45" fill="#3d7ad0" stroke="#1f4f96" stroke-width="0.35" fill-opacity="0.6" stroke-opacity="0.8"/>
<circle cx="341.64" cy="87.73" r="1.45" fill="#3d7ad0" stroke="#1f4f96" stroke-width="0.35" fill-opacity="0.6" stroke-opacity="0.8"/>
<circle cx="334.85" cy="88.22" r="1.45" fill="#3d7ad0" stroke="#1f4f96" stroke-width="0.35" fill-opacity="0.6" stroke-opacity="0.8"/>
<circle cx="340.37" cy="87.84" r="1.45" fill="#3d7ad0" stroke="#1f4f96" stroke-width="0.35" fill-opacity="0.6" stroke-opacity="0.8"/>
<circle cx="344.25" cy="84.36" r="1.45" fill="#3d7ad0" stroke="#1f4f96" stroke-width="0.35" fill-opacity="0.6" stroke-opacity="0.8"/>
<circle cx="347.50" cy="88.93" r="1.45" fill="#3d7ad0" stroke="#1f4f96" stroke-width="0.35" fill-opacity="0.6" stroke-opacity="0.8"/>
<circle cx="335.36" cy="88.89" r="1.45" fill="#3d7ad0" stroke="#1f4f96" stroke-width="0.35" fill-opacity="0.6" stroke-opacity="0.8"/>
<circle cx="341.21" cy="88.29" r="1.45" fill="#3d7ad0" stroke="#1f4f96" stroke-width="0.35" fill-opacity="0.6" stroke-opacity="0.8"/>
<circle cx="341.39" cy="86.73" r="1.45" fill="#3d7ad0" stroke="#1f4f96" stroke-width="0.35" fill-opacity="0.6" stroke-opacity="0.8"/>
<circle cx="345.26" cy="84.16" r="1.45" fill="#3d7ad0" stroke="#1f4f96" stroke-width="0.35" fill-opacity="0.6" stroke-opacity="0.8"/>
<circle cx="338.40" cy="84.63" r="1.45" fill="#3d7ad0" stroke="#1f4f96" stroke-width="0.35" fill-opacity="0.6" stroke-opacity="0.8"/>
<circle cx="337.29" cy="82.41" r="1.45" fill="#3d7ad0" stroke="#1f4f96" stroke-width="0.35" fill-opacity="0.6" stroke-opacity="0.8"/>
<circle cx="341.11" cy="83.94" r="1.45" fill="#3d7ad0" stroke="#1f4f96" stroke-width="0.35" fill-opacity="0.6" stroke-opacity="0.8"/>
<circle cx="331.22" cy="84.96" r="1.45" fill="#3d7ad0" stroke="#1f4f96" stroke-width="0.35" fill-opacity="0.6" stroke-opacity="0.8"/>
<circle cx="338.26" cy="85.34" r="1.45" fill="#3d7ad0" stroke="#1f4f96" stroke-width="0.35" fill-opacity="0.6" stroke-opacity="0.8"/>
<circle cx="335.60" cy="86.44" r="1.45" fill="#3d7ad0" stroke="#1f4f96" stroke-width="0.35" fill-opacity="0.6" stroke-opacity="0.8"/>
<circle cx="347.52" cy="88.98" r="1.45" fill="#3d7ad0" stroke="#1f4f96" stroke-width="0.35" fill-opacity="0.6" stroke-opacity="0.8"/>
<circle cx="335.27" cy="85.84" r="1.45" fill="#3d7ad0" stroke="#1f4f96" stroke-width="0.35" fill-opacity="0.6" stroke-opacity="0.8"/>
<circle cx="337.55" cy="86.54" r="1.45" fill="#3d7ad0" stroke="#1f4f96" stroke-width="0.35" fill-opacity="0.6" stroke-opacity="0.8"/>
<circle cx="340.55" cy="86.83" r="1.45" fill="#3d7ad0" stroke="#1f4f96" stroke-width="0.35" fill-opacity="0.6" stroke-opacity="0.8"/>
<circle cx="343.11" cy="89.06" r="1.45" fill="#3d7ad0" stroke="#1f4f96" stroke-width="0.35" fill-opacity="0.6" stroke-opacity="0.8"/>
<circle cx="335.17" cy="88.16" r="1.45" fill="#3d7ad0" stroke="#1f4f96" stroke-width="0.35" fill-opacity="0.6" stroke-opacity="0.8"/>
<circle cx="339.83" cy="88.37" r="1.45" fill="#3d7ad0" stroke="#1f4f96" stroke-width="0.35" fill-opacity="0.6" stroke-opacity="0.8"/>
<circle cx="355.07" cy="82.97" r="1.45" fill="#3d7ad0" stroke="#1f4f96" stroke-width="0.35" fill-opacity="0.6" stroke-opacity="0.8"/>
<circle cx="350.50" cy="89.02" r="1.45" fill="#3d7ad0" stroke="#1f4f96" stroke-width="0.35" fill-opacity="0.6" stroke-opacity="0.8"/>
<circle cx="339.54" cy="89.08" r="1.45" fill="#3d7ad0" stroke="#1f4f96" stroke-width="0.35" fill-opacity="0.6" stroke-opacity="0.8"/>
<circle cx="345.50" cy="86.88" r="1.45" fill="#3d7ad0" stroke="#1f4f96" stroke-width="0.35" fill-opacity="0.6" stroke-opacity="0.8"/>
<circle cx="348.04" cy="82.19" r="1.45" fill="#3d7ad0" stroke="#1f4f96" stroke-width="0.35" fill-opacity="0.6" stroke-opacity="0.8"/>
<circle cx="333.68" cy="88.59" r="1.45" fill="#3d7ad0" stroke="#1f4f96" stroke-width="0.35" fill-opacity="0.6" stroke-opacity="0.8"/>
<circle cx="345.55" cy="87.34" r="1.45" fill="#3d7ad0" stroke="#1f4f96" stroke-width="0.35" fill-opacity="0.6" stroke-opacity="0.8"/>
<circle cx="341.51" cy="88.73" r="1.45" fill="#3d7ad0" stroke="#1f4f96" stroke-width="0.35" fill-opacity="0.6" stroke-opacity="0.8"/>
<circle cx="343.61" cy="89.06" r="1.45" fill="#3d7ad0" stroke="#1f4f96" stroke-width="0.35" fill-opacity="0.6" stroke-opacity="0.8"/>
<circle cx="341.78" cy="83.85" r="1.45" fill="#3d7ad0" stroke="#1f4f96" stroke-width="0.35" fill-opacity="0.6" stroke-opacity="0.8"/>
<circle cx="340.77" cy="87.05" r="1.45" fill="#3d7ad0" stroke="#1f4f96" stroke-width="0.35" fill-opacity="0.6" stroke-opacity="0.8"/>
<circle cx="346.30" cy="88.83" r="1.45" fill="#3d7ad0" stroke="#1f4f96" stroke-width="0.35" fill-opacity="0.6" stroke-opacity="0.8"/>
<circle cx="339.70" cy="82.71" r="1.45" fill="#3d7ad0" stroke="#1f4f96" stroke-width="0.35" fill-opacity="0.6" stroke-opacity="0.8"/>
<circle cx="339.40" cy="88.42" r="1.45" fill="#3d7ad0" stroke="#1f4f96" stroke-width="0.35" fill-opacity="0.6" stroke-opacity="0.8"/>
<circle cx="337.07" cy="85.65" r="1.45" fill="#3d7ad0" stroke="#1f4f96" stroke-width="0.35" fill-opacity="0.6" stroke-opacity="0.8"/>
<circle cx="333.32" cy="87.90" r="1.45" fill="#3d7ad0" stroke="#1f4f96" stroke-width="0.35" fill-opacity="0.6" stroke-opacity="0.8"/>
<circle cx="343.12" cy="85.55" r="1.45" fill="#3d7ad0" stroke="#1f4f96" stroke-width="0.35" fill-opacity="0.6" stroke-opacity="0.8"/>
<circle cx="356.88" cy="89.04" r="1.45" fill="#3d7ad0" stroke="#1f4f96" stroke-width="0.35" fill-opacity="0.6" stroke-opacity="0.8"/>
<circle cx="337.32" cy="85.90" r="1.45" fill="#3d7ad0" stroke="#1f4f96" stroke-width="0.35" fill-opacity="0.6" stroke-opacity="0.8"/>
<circle cx="338.73" cy="87.67" r="1.45" fill="#3d7ad0" stroke="#1f4f96" stroke-width="0.35" fill-opacity="0.6" stroke-opacity="0.8"/>
<circle cx="334.58" cy="86.48" r="1.45" fill="#3d7ad0" stroke="#1f4f96" stroke-width="0.35" fill-opacity="0.6" stroke-opacity="0.8"/>
<circle cx="341.92" cy="79.20" r="1.45" fill="#3d7ad0" stroke="#1f4f96" stroke-width="0.35" fill-opacity="0.6" stroke-opacity="0.8"/>
<circle cx="335.47" cy="86.83" r="1.45" fill="#3d7ad0" stroke="#1f4f96" stroke-width="0.35" fill-opacity="0.6" stroke-opacity="0.8"/>
<circle cx="339.78" cy="88.36" r="1.45" fill="#3d7ad0" stroke="#1f4f96" stroke-width="0.35" fill-opacity="0.6" stroke-opacity="0.8"/>
<circle cx="341.19" cy="87.79" r="1.45" fill="#3d7ad0" stroke="#1f4f96" stroke-width="0.35" fill-opacity="0.6" stroke-opacity="0.8"/>
<circle cx="336.94" cy="87.20" r="1.45" fill="#3d7ad0" stroke="#1f4f96" stroke-width="0.35" fill-opacity="0.6" stroke-opacity="0.8"/>
<circle cx="347.24" cy="88.64" r="1.45" fill="#3d7ad0" stroke="#1f4f96" stroke-width="0.35" fill-opacity="0.6" stroke-opacity="0.8"/>
<circle cx="344.91" cy="85.90" r="1.45" fill="#3d7ad0" stroke="#1f4f96" stroke-width="0.35" fill-opacity="0.6" stroke-opacity="0.8"/>
<circle cx="337.61" cy="85.48" r="1.45" fill="#3d7ad0" stroke="#1f4f96" stroke-width="0.35" fill-opacity="0.6" stroke-opacity="0.8"/>
<circle cx="331.35" cy="83.29" r="1.45" fill="#3d7ad0" stroke="#1f4f96" stroke-width="0.35" fill-opacity="0.6" stroke-opacity="0.8"/>
<circle cx="348.66" cy="86.94" r="1.45" fill="#3d7ad0" stroke="#1f4f96" stroke-width="0.35" fill-opacity="0.6" stroke-opacity="0.8"/>
<circle cx="352.02" cy="86.37" r="1.45" fill="#3d7ad0" stroke="#1f4f96" stroke-width="0.35" fill-opacity="0.6" stroke-opacity="0.8"/>
<circle cx="343.01" cy="85.28" r="1.45" fill="#3d7ad0" stroke="#1f4f96" stroke-width="0.35" fill-opacity="0.6" stroke-opacity="0.8"/>
<circle cx="342.19" cy="87.56" r="1.45" fill="#3d7ad0" stroke="#1f4f96" stroke-width="0.35" fill-opacity="0.6" stroke-opacity="0.8"/>
<circle cx="350.56" cy="87.87" r="1.45" fill="#3d7ad0" stroke="#1f4f96" stroke-width="0.35" fill-opacity="0.6" stroke-opacity="0.8"/>
<circle cx="341.11" cy="87.84" r="1.45" fill="#3d7ad0" stroke="#1f4f96" stroke-width="0.35" fill-opacity="0.6" stroke-opacity="0.8"/>
<circle cx="349.46" cy="86.38" r="1.45" fill="#3d7ad0" stroke="#1f4f96" stroke-width="0.35" fill-opacity="0.6" stroke-opacity="0.8"/>
<circle cx="354.43" cy="86.39" r="1.45" fill="#3d7ad0" stroke="#1f4f96" stroke-width="0.35" fill-opacity="0.6" stroke-opacity="0.8"/>
<circle cx="338.41" cy="86.88" r="1.45" fill="#3d7ad0" stroke="#1f4f96" stroke-width="0.35" fill-opacity="0.6" stroke-opacity="0.8"/>
<circle cx="331.82" cy="78.00" r="1.45" fill="#3d7ad0" stroke="#1f4f96" stroke-width="0.35" fill-opacity="0.6" stroke-opacity="0.8"/>
<circle cx="334.59" cy="78.47" r="1.45" fill="#3d7ad0" stroke="#1f4f96" stroke-width="0.35" fill-opacity="0.6" stroke-opacity="0.8"/>
<circle cx="341.25" cy="74.23" r="1.45" fill="#3d7ad0" stroke="#1f4f96" stroke-width="0.35" fill-opacity="0.6" stroke-opacity="0.8"/>
<circle cx="342.36" cy="76.11" r="1.45" fill="#3d7ad0" stroke="#1f4f96" stroke-width="0.35" fill-opacity="0.6" stroke-opacity="0.8"/>
<circle cx="347.91" cy="77.06" r="1.45" fill="#3d7ad0" stroke="#1f4f96" stroke-width="0.35" fill-opacity="0.6" stroke-opacity="0.8"/>
<circle cx="351.80" cy="79.41" r="1.45" fill="#3d7ad0" stroke="#1f4f96" stroke-width="0.35" fill-opacity="0.6" stroke-opacity="0.8"/>
<circle cx="337.92" cy="80.83" r="1.45" fill="#3d7ad0" stroke="#1f4f96" stroke-width="0.35" fill-opacity="0.6" stroke-opacity="0.8"/>
<circle cx="333.48" cy="66.68" r="1.45" fill="#3d7ad0" stroke="#1f4f96" stroke-width="0.35" fill-opacity="0.6" stroke-opacity="0.8"/>
<circle cx="330.71" cy="85.54" r="1.45" fill="#3d7ad0" stroke="#1f4f96" stroke-width="0.35" fill-opacity="0.6" stroke-opacity="0.8"/>
<circle cx="355.13" cy="81.77" r="1.45" fill="#3d7ad0" stroke="#1f4f96" stroke-width="0.35" fill-opacity="0.6" stroke-opacity="0.8"/>
<circle cx="345.69" cy="79.88" r="1.45" fill="#3d7ad0" stroke="#1f4f96" stroke-width="0.35" fill-opacity="0.6" stroke-opacity="0.8"/>
<circle cx="358.46" cy="86.48" r="1.45" fill="#777" stroke="#333" stroke-width="0.35" fill-opacity="0.8"/>
<circle cx="360.12" cy="83.66" r="1.45" fill="#777" stroke="#333" stroke-width="0.35" fill-opacity="0.8"/>
<circle cx="362.34" cy="81.77" r="1.45" fill="#777" stroke="#333" stroke-width="0.35" fill-opacity="0.8"/>
<circle cx="361.23" cy="86.48" r="1.45" fill="#777" stroke="#333" stroke-width="0.35" fill-opacity="0.8"/>
<circle cx="364.56" cy="87.43" r="1.45" fill="#777" stroke="#333" stroke-width="0.35" fill-opacity="0.8"/>
<circle cx="366.78" cy="88.37" r="1.45" fill="#777" stroke="#333" stroke-width="0.35" fill-opacity="0.8"/>
<circle cx="357.35" cy="88.37" r="1.45" fill="#777" stroke="#333" stroke-width="0.35" fill-opacity="0.8"/>
<circle cx="363.45" cy="85.54" r="1.45" fill="#777" stroke="#333" stroke-width="0.35" fill-opacity="0.8"/>
<circle cx="359.57" cy="78.94" r="1.45" fill="#777" stroke="#333" stroke-width="0.35" fill-opacity="0.8"/>
<circle cx="370.11" cy="87.43" r="1.45" fill="#5ccf8a" stroke="#2d9a5a" stroke-width="0.35" fill-opacity="0.6"/>
<circle cx="373.44" cy="88.37" r="1.45" fill="#5ccf8a" stroke="#2d9a5a" stroke-width="0.35" fill-opacity="0.6"/>
<circle cx="378.44" cy="84.13" r="1.45" fill="#5ccf8a" stroke="#2d9a5a" stroke-width="0.35" fill-opacity="0.6"/>
<circle cx="378.44" cy="87.90" r="1.45" fill="#5ccf8a" stroke="#2d9a5a" stroke-width="0.35" fill-opacity="0.6"/>
<circle cx="386.21" cy="86.01" r="1.45" fill="#5ccf8a" stroke="#2d9a5a" stroke-width="0.35" fill-opacity="0.6"/>
<circle cx="371.78" cy="86.96" r="1.45" fill="#5ccf8a" stroke="#2d9a5a" stroke-width="0.35" fill-opacity="0.6"/>
<circle cx="427.76" cy="88.37" r="1.45" fill="#3d7ad0" stroke="#1f4f96" stroke-width="0.35" fill-opacity="0.6" stroke-opacity="0.8"/>
<circle cx="431.09" cy="85.54" r="1.45" fill="#3d7ad0" stroke="#1f4f96" stroke-width="0.35" fill-opacity="0.6" stroke-opacity="0.8"/>
<circle cx="433.31" cy="82.71" r="1.45" fill="#3d7ad0" stroke="#1f4f96" stroke-width="0.35" fill-opacity="0.6" stroke-opacity="0.8"/>
<circle cx="432.76" cy="78.00" r="1.45" fill="#3d7ad0" stroke="#1f4f96" stroke-width="0.35" fill-opacity="0.6" stroke-opacity="0.8"/>
<circle cx="434.98" cy="86.48" r="1.45" fill="#3d7ad0" stroke="#1f4f96" stroke-width="0.35" fill-opacity="0.6" stroke-opacity="0.8"/>
<circle cx="435.53" cy="88.37" r="1.45" fill="#3d7ad0" stroke="#1f4f96" stroke-width="0.35" fill-opacity="0.6" stroke-opacity="0.8"/>
<circle cx="441.64" cy="86.48" r="1.45" fill="#3d7ad0" stroke="#1f4f96" stroke-width="0.35" fill-opacity="0.6" stroke-opacity="0.8"/>
<circle cx="447.74" cy="87.43" r="1.45" fill="#3d7ad0" stroke="#1f4f96" stroke-width="0.35" fill-opacity="0.6" stroke-opacity="0.8"/>
<circle cx="452.18" cy="87.43" r="1.45" fill="#3d7ad0" stroke="#1f4f96" stroke-width="0.35" fill-opacity="0.6" stroke-opacity="0.8"/>
<circle cx="452.74" cy="88.84" r="1.45" fill="#3d7ad0" stroke="#1f4f96" stroke-width="0.35" fill-opacity="0.6" stroke-opacity="0.8"/>
<circle cx="431.65" cy="86.96" r="1.45" fill="#3d7ad0" stroke="#1f4f96" stroke-width="0.35" fill-opacity="0.6" stroke-opacity="0.8"/>
<circle cx="433.87" cy="89.31" r="1.45" fill="#3d7ad0" stroke="#1f4f96" stroke-width="0.35" fill-opacity="0.6" stroke-opacity="0.8"/>
<circle cx="461.06" cy="85.54" r="1.45" fill="#777" stroke="#333" stroke-width="0.35" fill-opacity="0.8"/>
<circle cx="463.28" cy="86.96" r="1.45" fill="#777" stroke="#333" stroke-width="0.35" fill-opacity="0.8"/>
<circle cx="468.28" cy="88.37" r="1.45" fill="#5ccf8a" stroke="#2d9a5a" stroke-width="0.35" fill-opacity="0.6"/>
<circle cx="472.72" cy="86.48" r="1.45" fill="#5ccf8a" stroke="#2d9a5a" stroke-width="0.35" fill-opacity="0.6"/>
<circle cx="471.05" cy="89.31" r="1.45" fill="#5ccf8a" stroke="#2d9a5a" stroke-width="0.35" fill-opacity="0.6"/>
<circle cx="550.04" cy="87.45" r="1.45" fill="#3d7ad0" stroke="#1f4f96" stroke-width="0.35" fill-opacity="0.6" stroke-opacity="0.8"/>
<circle cx="529.69" cy="88.07" r="1.45" fill="#3d7ad0" stroke="#1f4f96" stroke-width="0.35" fill-opacity="0.6" stroke-opacity="0.8"/>
<circle cx="529.82" cy="87.17" r="1.45" fill="#3d7ad0" stroke="#1f4f96" stroke-width="0.35" fill-opacity="0.6" stroke-opacity="0.8"/>
<circle cx="530.61" cy="86.67" r="1.45" fill="#3d7ad0" stroke="#1f4f96" stroke-width="0.35" fill-opacity="0.6" stroke-opacity="0.8"/>
<circle cx="523.76" cy="82.50" r="1.45" fill="#3d7ad0" stroke="#1f4f96" stroke-width="0.35" fill-opacity="0.6" stroke-opacity="0.8"/>
<circle cx="536.04" cy="86.97" r="1.45" fill="#3d7ad0" stroke="#1f4f96" stroke-width="0.35" fill-opacity="0.6" stroke-opacity="0.8"/>
<circle cx="546.55" cy="87.54" r="1.45" fill="#3d7ad0" stroke="#1f4f96" stroke-width="0.35" fill-opacity="0.6" stroke-opacity="0.8"/>
<circle cx="543.80" cy="89.13" r="1.45" fill="#3d7ad0" stroke="#1f4f96" stroke-width="0.35" fill-opacity="0.6" stroke-opacity="0.8"/>
<circle cx="548.13" cy="90.06" r="1.45" fill="#3d7ad0" stroke="#1f4f96" stroke-width="0.35" fill-opacity="0.6" stroke-opacity="0.8"/>
<circle cx="535.16" cy="89.28" r="1.45" fill="#3d7ad0" stroke="#1f4f96" stroke-width="0.35" fill-opacity="0.6" stroke-opacity="0.8"/>
<circle cx="536.17" cy="79.06" r="1.45" fill="#3d7ad0" stroke="#1f4f96" stroke-width="0.35" fill-opacity="0.6" stroke-opacity="0.8"/>
<circle cx="539.97" cy="85.20" r="1.45" fill="#3d7ad0" stroke="#1f4f96" stroke-width="0.35" fill-opacity="0.6" stroke-opacity="0.8"/>
<circle cx="545.41" cy="84.80" r="1.45" fill="#3d7ad0" stroke="#1f4f96" stroke-width="0.35" fill-opacity="0.6" stroke-opacity="0.8"/>
<circle cx="544.83" cy="87.93" r="1.45" fill="#3d7ad0" stroke="#1f4f96" stroke-width="0.35" fill-opacity="0.6" stroke-opacity="0.8"/>
<circle cx="519.83" cy="83.54" r="1.45" fill="#3d7ad0" stroke="#1f4f96" stroke-width="0.35" fill-opacity="0.6" stroke-opacity="0.8"/>
<circle cx="548.78" cy="86.47" r="1.45" fill="#3d7ad0" stroke="#1f4f96" stroke-width="0.35" fill-opacity="0.6" stroke-opacity="0.8"/>
<circle cx="519.85" cy="88.51" r="1.45" fill="#3d7ad0" stroke="#1f4f96" stroke-width="0.35" fill-opacity="0.6" stroke-opacity="0.8"/>
<circle cx="543.33" cy="88.30" r="1.45" fill="#3d7ad0" stroke="#1f4f96" stroke-width="0.35" fill-opacity="0.6" stroke-opacity="0.8"/>
<circle cx="539.89" cy="90.16" r="1.45" fill="#3d7ad0" stroke="#1f4f96" stroke-width="0.35" fill-opacity="0.6" stroke-opacity="0.8"/>
<circle cx="544.03" cy="86.93" r="1.45" fill="#3d7ad0" stroke="#1f4f96" stroke-width="0.35" fill-opacity="0.6" stroke-opacity="0.8"/>
<circle cx="535.37" cy="89.82" r="1.45" fill="#3d7ad0" stroke="#1f4f96" stroke-width="0.35" fill-opacity="0.6" stroke-opacity="0.8"/>
<circle cx="528.84" cy="85.56" r="1.45" fill="#3d7ad0" stroke="#1f4f96" stroke-width="0.35" fill-opacity="0.6" stroke-opacity="0.8"/>
<circle cx="551.23" cy="87.68" r="1.45" fill="#3d7ad0" stroke="#1f4f96" stroke-width="0.35" fill-opacity="0.6" stroke-opacity="0.8"/>
<circle cx="535.93" cy="85.40" r="1.45" fill="#3d7ad0" stroke="#1f4f96" stroke-width="0.35" fill-opacity="0.6" stroke-opacity="0.8"/>
<circle cx="542.45" cy="87.54" r="1.45" fill="#3d7ad0" stroke="#1f4f96" stroke-width="0.35" fill-opacity="0.6" stroke-opacity="0.8"/>
<circle cx="531.42" cy="80.15" r="1.45" fill="#3d7ad0" stroke="#1f4f96" stroke-width="0.35" fill-opacity="0.6" stroke-opacity="0.8"/>
<circle cx="546.19" cy="85.64" r="1.45" fill="#3d7ad0" stroke="#1f4f96" stroke-width="0.35" fill-opacity="0.6" stroke-opacity="0.8"/>
<circle cx="545.47" cy="82.25" r="1.45" fill="#3d7ad0" stroke="#1f4f96" stroke-width="0.35" fill-opacity="0.6" stroke-opacity="0.8"/>
<circle cx="546.46" cy="81.18" r="1.45" fill="#3d7ad0" stroke="#1f4f96" stroke-width="0.35" fill-opacity="0.6" stroke-opacity="0.8"/>
<circle cx="539.58" cy="82.62" r="1.45" fill="#3d7ad0" stroke="#1f4f96" stroke-width="0.35" fill-opacity="0.6" stroke-opacity="0.8"/>
<circle cx="535.45" cy="88.15" r="1.45" fill="#3d7ad0" stroke="#1f4f96" stroke-width="0.35" fill-opacity="0.6" stroke-opacity="0.8"/>
<circle cx="531.82" cy="82.03" r="1.45" fill="#3d7ad0" stroke="#1f4f96" stroke-width="0.35" fill-opacity="0.6" stroke-opacity="0.8"/>
<circle cx="531.77" cy="85.55" r="1.45" fill="#3d7ad0" stroke="#1f4f96" stroke-width="0.35" fill-opacity="0.6" stroke-opacity="0.8"/>
<circle cx="552.04" cy="84.10" r="1.45" fill="#3d7ad0" stroke="#1f4f96" stroke-width="0.35" fill-opacity="0.6" stroke-opacity="0.8"/>
<circle cx="530.18" cy="88.68" r="1.45" fill="#3d7ad0" stroke="#1f4f96" stroke-width="0.35" fill-opacity="0.6" stroke-opacity="0.8"/>
<circle cx="531.93" cy="87.49" r="1.45" fill="#3d7ad0" stroke="#1f4f96" stroke-width="0.35" fill-opacity="0.6" stroke-opacity="0.8"/>
<circle cx="527.21" cy="88.64" r="1.45" fill="#3d7ad0" stroke="#1f4f96" stroke-width="0.35" fill-opacity="0.6" stroke-opacity="0.8"/>
<circle cx="527.80" cy="89.95" r="1.45" fill="#3d7ad0" stroke="#1f4f96" stroke-width="0.35" fill-opacity="0.6" stroke-opacity="0.8"/>
<circle cx="520.92" cy="85.38" r="1.45" fill="#3d7ad0" stroke="#1f4f96" stroke-width="0.35" fill-opacity="0.6" stroke-opacity="0.8"/>
<circle cx="523.21" cy="83.72" r="1.45" fill="#3d7ad0" stroke="#1f4f96" stroke-width="0.35" fill-opacity="0.6" stroke-opacity="0.8"/>
<circle cx="519.05" cy="84.22" r="1.45" fill="#3d7ad0" stroke="#1f4f96" stroke-width="0.35" fill-opacity="0.6" stroke-opacity="0.8"/>
<circle cx="549.14" cy="88.66" r="1.45" fill="#3d7ad0" stroke="#1f4f96" stroke-width="0.35" fill-opacity="0.6" stroke-opacity="0.8"/>
<circle cx="518.13" cy="87.92" r="1.45" fill="#3d7ad0" stroke="#1f4f96" stroke-width="0.35" fill-opacity="0.6" stroke-opacity="0.8"/>
<circle cx="524.56" cy="88.36" r="1.45" fill="#3d7ad0" stroke="#1f4f96" stroke-width="0.35" fill-opacity="0.6" stroke-opacity="0.8"/>
<circle cx="525.20" cy="88.96" r="1.45" fill="#3d7ad0" stroke="#1f4f96" stroke-width="0.35" fill-opacity="0.6" stroke-opacity="0.8"/>
<circle cx="524.80" cy="84.05" r="1.45" fill="#3d7ad0" stroke="#1f4f96" stroke-width="0.35" fill-opacity="0.6" stroke-opacity="0.8"/>
<circle cx="523.41" cy="89.69" r="1.45" fill="#3d7ad0" stroke="#1f4f96" stroke-width="0.35" fill-opacity="0.6" stroke-opacity="0.8"/>
<circle cx="543.75" cy="87.41" r="1.45" fill="#3d7ad0" stroke="#1f4f96" stroke-width="0.35" fill-opacity="0.6" stroke-opacity="0.8"/>
<circle cx="527.91" cy="81.96" r="1.45" fill="#3d7ad0" stroke="#1f4f96" stroke-width="0.35" fill-opacity="0.6" stroke-opacity="0.8"/>
<circle cx="533.87" cy="87.66" r="1.45" fill="#3d7ad0" stroke="#1f4f96" stroke-width="0.35" fill-opacity="0.6" stroke-opacity="0.8"/>
<circle cx="526.09" cy="82.31" r="1.45" fill="#3d7ad0" stroke="#1f4f96" stroke-width="0.35" fill-opacity="0.6" stroke-opacity="0.8"/>
<circle cx="528.99" cy="83.47" r="1.45" fill="#3d7ad0" stroke="#1f4f96" stroke-width="0.35" fill-opacity="0.6" stroke-opacity="0.8"/>
<circle cx="536.28" cy="85.04" r="1.45" fill="#3d7ad0" stroke="#1f4f96" stroke-width="0.35" fill-opacity="0.6" stroke-opacity="0.8"/>
<circle cx="524.69" cy="88.81" r="1.45" fill="#3d7ad0" stroke="#1f4f96" stroke-width="0.35" fill-opacity="0.6" stroke-opacity="0.8"/>
<circle cx="518.61" cy="82.24" r="1.45" fill="#3d7ad0" stroke="#1f4f96" stroke-width="0.35" fill-opacity="0.6" stroke-opacity="0.8"/>
<circle cx="530.51" cy="87.51" r="1.45" fill="#3d7ad0" stroke="#1f4f96" stroke-width="0.35" fill-opacity="0.6" stroke-opacity="0.8"/>
<circle cx="535.58" cy="86.50" r="1.45" fill="#3d7ad0" stroke="#1f4f96" stroke-width="0.35" fill-opacity="0.6" stroke-opacity="0.8"/>
<circle cx="552.01" cy="89.88" r="1.45" fill="#3d7ad0" stroke="#1f4f96" stroke-width="0.35" fill-opacity="0.6" stroke-opacity="0.8"/>
<circle cx="540.20" cy="90.20" r="1.45" fill="#3d7ad0" stroke="#1f4f96" stroke-width="0.35" fill-opacity="0.6" stroke-opacity="0.8"/>
<circle cx="533.63" cy="89.56" r="1.45" fill="#3d7ad0" stroke="#1f4f96" stroke-width="0.35" fill-opacity="0.6" stroke-opacity="0.8"/>
<circle cx="530.04" cy="88.10" r="1.45" fill="#3d7ad0" stroke="#1f4f96" stroke-width="0.35" fill-opacity="0.6" stroke-opacity="0.8"/>
<circle cx="538.37" cy="83.12" r="1.45" fill="#3d7ad0" stroke="#1f4f96" stroke-width="0.35" fill-opacity="0.6" stroke-opacity="0.8"/>
<circle cx="522.43" cy="87.96" r="1.45" fill="#3d7ad0" stroke="#1f4f96" stroke-width="0.35" fill-opacity="0.6" stroke-opacity="0.8"/>
<circle cx="526.05" cy="86.79" r="1.45" fill="#3d7ad0" stroke="#1f4f96" stroke-width="0.35" fill-opacity="0.6" stroke-opacity="0.8"/>
<circle cx="547.72" cy="83.58" r="1.45" fill="#3d7ad0" stroke="#1f4f96" stroke-width="0.35" fill-opacity="0.6" stroke-opacity="0.8"/>
<circle cx="552.12" cy="89.58" r="1.45" fill="#3d7ad0" stroke="#1f4f96" stroke-width="0.35" fill-opacity="0.6" stroke-opacity="0.8"/>
<circle cx="526.31" cy="87.63" r="1.45" fill="#3d7ad0" stroke="#1f4f96" stroke-width="0.35" fill-opacity="0.6" stroke-opacity="0.8"/>
<circle cx="544.20" cy="89.68" r="1.45" fill="#3d7ad0" stroke="#1f4f96" stroke-width="0.35" fill-opacity="0.6" stroke-opacity="0.8"/>
<circle cx="516.89" cy="86.30" r="1.45" fill="#3d7ad0" stroke="#1f4f96" stroke-width="0.35" fill-opacity="0.6" stroke-opacity="0.8"/>
<circle cx="546.04" cy="82.04" r="1.45" fill="#3d7ad0" stroke="#1f4f96" stroke-width="0.35" fill-opacity="0.6" stroke-opacity="0.8"/>
<circle cx="519.77" cy="89.32" r="1.45" fill="#3d7ad0" stroke="#1f4f96" stroke-width="0.35" fill-opacity="0.6" stroke-opacity="0.8"/>
<circle cx="520.29" cy="82.83" r="1.45" fill="#3d7ad0" stroke="#1f4f96" stroke-width="0.35" fill-opacity="0.6" stroke-opacity="0.8"/>
<circle cx="533.89" cy="78.72" r="1.45" fill="#3d7ad0" stroke="#1f4f96" stroke-width="0.35" fill-opacity="0.6" stroke-opacity="0.8"/>
<circle cx="537.68" cy="87.96" r="1.45" fill="#3d7ad0" stroke="#1f4f96" stroke-width="0.35" fill-opacity="0.6" stroke-opacity="0.8"/>
<circle cx="547.29" cy="87.51" r="1.45" fill="#3d7ad0" stroke="#1f4f96" stroke-width="0.35" fill-opacity="0.6" stroke-opacity="0.8"/>
<circle cx="531.65" cy="82.40" r="1.45" fill="#3d7ad0" stroke="#1f4f96" stroke-width="0.35" fill-opacity="0.6" stroke-opacity="0.8"/>
<circle cx="549.40" cy="82.84" r="1.45" fill="#3d7ad0" stroke="#1f4f96" stroke-width="0.35" fill-opacity="0.6" stroke-opacity="0.8"/>
<circle cx="524.24" cy="85.49" r="1.45" fill="#3d7ad0" stroke="#1f4f96" stroke-width="0.35" fill-opacity="0.6" stroke-opacity="0.8"/>
<circle cx="536.14" cy="87.53" r="1.45" fill="#3d7ad0" stroke="#1f4f96" stroke-width="0.35" fill-opacity="0.6" stroke-opacity="0.8"/>
<circle cx="546.39" cy="89.81" r="1.45" fill="#3d7ad0" stroke="#1f4f96" stroke-width="0.35" fill-opacity="0.6" stroke-opacity="0.8"/>
<circle cx="527.90" cy="89.56" r="1.45" fill="#3d7ad0" stroke="#1f4f96" stroke-width="0.35" fill-opacity="0.6" stroke-opacity="0.8"/>
<circle cx="527.70" cy="88.52" r="1.45" fill="#3d7ad0" stroke="#1f4f96" stroke-width="0.35" fill-opacity="0.6" stroke-opacity="0.8"/>
<circle cx="533.44" cy="89.29" r="1.45" fill="#3d7ad0" stroke="#1f4f96" stroke-width="0.35" fill-opacity="0.6" stroke-opacity="0.8"/>
<circle cx="541.25" cy="85.91" r="1.45" fill="#3d7ad0" stroke="#1f4f96" stroke-width="0.35" fill-opacity="0.6" stroke-opacity="0.8"/>
<circle cx="520.60" cy="86.13" r="1.45" fill="#3d7ad0" stroke="#1f4f96" stroke-width="0.35" fill-opacity="0.6" stroke-opacity="0.8"/>
<circle cx="551.18" cy="87.02" r="1.45" fill="#3d7ad0" stroke="#1f4f96" stroke-width="0.35" fill-opacity="0.6" stroke-opacity="0.8"/>
<circle cx="546.31" cy="89.84" r="1.45" fill="#3d7ad0" stroke="#1f4f96" stroke-width="0.35" fill-opacity="0.6" stroke-opacity="0.8"/>
<circle cx="530.24" cy="89.65" r="1.45" fill="#3d7ad0" stroke="#1f4f96" stroke-width="0.35" fill-opacity="0.6" stroke-opacity="0.8"/>
<circle cx="542.06" cy="89.78" r="1.45" fill="#3d7ad0" stroke="#1f4f96" stroke-width="0.35" fill-opacity="0.6" stroke-opacity="0.8"/>
<circle cx="533.11" cy="84.20" r="1.45" fill="#3d7ad0" stroke="#1f4f96" stroke-width="0.35" fill-opacity="0.6" stroke-opacity="0.8"/>
<circle cx="517.21" cy="81.82" r="1.45" fill="#3d7ad0" stroke="#1f4f96" stroke-width="0.35" fill-opacity="0.6" stroke-opacity="0.8"/>
<circle cx="524.18" cy="89.81" r="1.45" fill="#3d7ad0" stroke="#1f4f96" stroke-width="0.35" fill-opacity="0.6" stroke-opacity="0.8"/>
<circle cx="538.72" cy="89.11" r="1.45" fill="#3d7ad0" stroke="#1f4f96" stroke-width="0.35" fill-opacity="0.6" stroke-opacity="0.8"/>
<circle cx="536.01" cy="85.82" r="1.45" fill="#3d7ad0" stroke="#1f4f96" stroke-width="0.35" fill-opacity="0.6" stroke-opacity="0.8"/>
<circle cx="527.43" cy="87.80" r="1.45" fill="#3d7ad0" stroke="#1f4f96" stroke-width="0.35" fill-opacity="0.6" stroke-opacity="0.8"/>
<circle cx="540.52" cy="86.24" r="1.45" fill="#3d7ad0" stroke="#1f4f96" stroke-width="0.35" fill-opacity="0.6" stroke-opacity="0.8"/>
<circle cx="525.95" cy="87.89" r="1.45" fill="#3d7ad0" stroke="#1f4f96" stroke-width="0.35" fill-opacity="0.6" stroke-opacity="0.8"/>
<circle cx="528.54" cy="82.99" r="1.45" fill="#3d7ad0" stroke="#1f4f96" stroke-width="0.35" fill-opacity="0.6" stroke-opacity="0.8"/>
<circle cx="550.41" cy="83.27" r="1.45" fill="#3d7ad0" stroke="#1f4f96" stroke-width="0.35" fill-opacity="0.6" stroke-opacity="0.8"/>
<circle cx="528.62" cy="87.35" r="1.45" fill="#3d7ad0" stroke="#1f4f96" stroke-width="0.35" fill-opacity="0.6" stroke-opacity="0.8"/>
<circle cx="546.21" cy="88.08" r="1.45" fill="#3d7ad0" stroke="#1f4f96" stroke-width="0.35" fill-opacity="0.6" stroke-opacity="0.8"/>
<circle cx="520.19" cy="88.83" r="1.45" fill="#3d7ad0" stroke="#1f4f96" stroke-width="0.35" fill-opacity="0.6" stroke-opacity="0.8"/>
<circle cx="540.91" cy="89.49" r="1.45" fill="#3d7ad0" stroke="#1f4f96" stroke-width="0.35" fill-opacity="0.6" stroke-opacity="0.8"/>
<circle cx="531.13" cy="87.39" r="1.45" fill="#3d7ad0" stroke="#1f4f96" stroke-width="0.35" fill-opacity="0.6" stroke-opacity="0.8"/>
<circle cx="546.57" cy="88.55" r="1.45" fill="#3d7ad0" stroke="#1f4f96" stroke-width="0.35" fill-opacity="0.6" stroke-opacity="0.8"/>
<circle cx="524.89" cy="89.13" r="1.45" fill="#3d7ad0" stroke="#1f4f96" stroke-width="0.35" fill-opacity="0.6" stroke-opacity="0.8"/>
<circle cx="522.42" cy="86.83" r="1.45" fill="#3d7ad0" stroke="#1f4f96" stroke-width="0.35" fill-opacity="0.6" stroke-opacity="0.8"/>
<circle cx="519.42" cy="86.87" r="1.45" fill="#3d7ad0" stroke="#1f4f96" stroke-width="0.35" fill-opacity="0.6" stroke-opacity="0.8"/>
<circle cx="549.54" cy="85.20" r="1.45" fill="#3d7ad0" stroke="#1f4f96" stroke-width="0.35" fill-opacity="0.6" stroke-opacity="0.8"/>
<circle cx="539.83" cy="87.76" r="1.45" fill="#3d7ad0" stroke="#1f4f96" stroke-width="0.35" fill-opacity="0.6" stroke-opacity="0.8"/>
<circle cx="544.08" cy="88.25" r="1.45" fill="#3d7ad0" stroke="#1f4f96" stroke-width="0.35" fill-opacity="0.6" stroke-opacity="0.8"/>
<circle cx="528.61" cy="86.06" r="1.45" fill="#3d7ad0" stroke="#1f4f96" stroke-width="0.35" fill-opacity="0.6" stroke-opacity="0.8"/>
<circle cx="531.48" cy="85.51" r="1.45" fill="#3d7ad0" stroke="#1f4f96" stroke-width="0.35" fill-opacity="0.6" stroke-opacity="0.8"/>
<circle cx="541.70" cy="89.80" r="1.45" fill="#3d7ad0" stroke="#1f4f96" stroke-width="0.35" fill-opacity="0.6" stroke-opacity="0.8"/>
<circle cx="551.72" cy="88.55" r="1.45" fill="#3d7ad0" stroke="#1f4f96" stroke-width="0.35" fill-opacity="0.6" stroke-opacity="0.8"/>
<circle cx="538.46" cy="83.54" r="1.45" fill="#3d7ad0" stroke="#1f4f96" stroke-width="0.35" fill-opacity="0.6" stroke-opacity="0.8"/>
<circle cx="517.50" cy="88.15" r="1.45" fill="#3d7ad0" stroke="#1f4f96" stroke-width="0.35" fill-opacity="0.6" stroke-opacity="0.8"/>
<circle cx="539.95" cy="86.49" r="1.45" fill="#3d7ad0" stroke="#1f4f96" stroke-width="0.35" fill-opacity="0.6" stroke-opacity="0.8"/>
<circle cx="520.61" cy="86.21" r="1.45" fill="#3d7ad0" stroke="#1f4f96" stroke-width="0.35" fill-opacity="0.6" stroke-opacity="0.8"/>
<circle cx="544.85" cy="86.34" r="1.45" fill="#3d7ad0" stroke="#1f4f96" stroke-width="0.35" fill-opacity="0.6" stroke-opacity="0.8"/>
<circle cx="527.94" cy="76.11" r="1.45" fill="#3d7ad0" stroke="#1f4f96" stroke-width="0.35" fill-opacity="0.6" stroke-opacity="0.8"/>
<circle cx="531.82" cy="75.17" r="1.45" fill="#3d7ad0" stroke="#1f4f96" stroke-width="0.35" fill-opacity="0.6" stroke-opacity="0.8"/>
<circle cx="534.60" cy="76.58" r="1.45" fill="#3d7ad0" stroke="#1f4f96" stroke-width="0.35" fill-opacity="0.6" stroke-opacity="0.8"/>
<circle cx="540.15" cy="76.11" r="1.45" fill="#3d7ad0" stroke="#1f4f96" stroke-width="0.35" fill-opacity="0.6" stroke-opacity="0.8"/>
<circle cx="542.37" cy="78.00" r="1.45" fill="#3d7ad0" stroke="#1f4f96" stroke-width="0.35" fill-opacity="0.6" stroke-opacity="0.8"/>
<circle cx="521.28" cy="80.83" r="1.45" fill="#3d7ad0" stroke="#1f4f96" stroke-width="0.35" fill-opacity="0.6" stroke-opacity="0.8"/>
<circle cx="525.72" cy="82.71" r="1.45" fill="#3d7ad0" stroke="#1f4f96" stroke-width="0.35" fill-opacity="0.6" stroke-opacity="0.8"/>
<circle cx="536.82" cy="78.94" r="1.45" fill="#3d7ad0" stroke="#1f4f96" stroke-width="0.35" fill-opacity="0.6" stroke-opacity="0.8"/>
<circle cx="560.74" cy="87.20" r="1.45" fill="#777" stroke="#333" stroke-width="0.35" fill-opacity="0.8"/>
<circle cx="559.83" cy="87.53" r="1.45" fill="#777" stroke="#333" stroke-width="0.35" fill-opacity="0.8"/>
<circle cx="561.95" cy="85.12" r="1.45" fill="#777" stroke="#333" stroke-width="0.35" fill-opacity="0.8"/>
<circle cx="555.70" cy="88.00" r="1.45" fill="#777" stroke="#333" stroke-width="0.35" fill-opacity="0.8"/>
<circle cx="550.12" cy="86.15" r="1.45" fill="#777" stroke="#333" stroke-width="0.35" fill-opacity="0.8"/>
<circle cx="555.94" cy="75.81" r="1.45" fill="#777" stroke="#333" stroke-width="0.35" fill-opacity="0.8"/>
<circle cx="559.04" cy="87.71" r="1.45" fill="#777" stroke="#333" stroke-width="0.35" fill-opacity="0.8"/>
<circle cx="562.60" cy="86.63" r="1.45" fill="#777" stroke="#333" stroke-width="0.35" fill-opacity="0.8"/>
<circle cx="557.67" cy="88.68" r="1.45" fill="#777" stroke="#333" stroke-width="0.35" fill-opacity="0.8"/>
<circle cx="551.72" cy="87.45" r="1.45" fill="#777" stroke="#333" stroke-width="0.35" fill-opacity="0.8"/>
<circle cx="556.88" cy="87.94" r="1.45" fill="#777" stroke="#333" stroke-width="0.35" fill-opacity="0.8"/>
<circle cx="562.36" cy="85.33" r="1.45" fill="#777" stroke="#333" stroke-width="0.35" fill-opacity="0.8"/>
<circle cx="553.53" cy="86.95" r="1.45" fill="#777" stroke="#333" stroke-width="0.35" fill-opacity="0.8"/>
<circle cx="563.05" cy="88.76" r="1.45" fill="#777" stroke="#333" stroke-width="0.35" fill-opacity="0.8"/>
<circle cx="550.03" cy="84.45" r="1.45" fill="#777" stroke="#333" stroke-width="0.35" fill-opacity="0.8"/>
<circle cx="556.63" cy="85.97" r="1.45" fill="#777" stroke="#333" stroke-width="0.35" fill-opacity="0.8"/>
<circle cx="556.63" cy="88.38" r="1.45" fill="#777" stroke="#333" stroke-width="0.35" fill-opacity="0.8"/>
<circle cx="563.34" cy="79.02" r="1.45" fill="#777" stroke="#333" stroke-width="0.35" fill-opacity="0.8"/>
<circle cx="560.62" cy="87.38" r="1.45" fill="#777" stroke="#333" stroke-width="0.35" fill-opacity="0.8"/>
<circle cx="560.74" cy="87.88" r="1.45" fill="#777" stroke="#333" stroke-width="0.35" fill-opacity="0.8"/>
<circle cx="552.40" cy="86.52" r="1.45" fill="#777" stroke="#333" stroke-width="0.35" fill-opacity="0.8"/>
<circle cx="556.83" cy="87.20" r="1.45" fill="#777" stroke="#333" stroke-width="0.35" fill-opacity="0.8"/>
<circle cx="560.83" cy="86.97" r="1.45" fill="#777" stroke="#333" stroke-width="0.35" fill-opacity="0.8"/>
<circle cx="549.11" cy="83.85" r="1.45" fill="#777" stroke="#333" stroke-width="0.35" fill-opacity="0.8"/>
<circle cx="548.42" cy="83.40" r="1.45" fill="#777" stroke="#333" stroke-width="0.35" fill-opacity="0.8"/>
<circle cx="562.52" cy="76.74" r="1.45" fill="#777" stroke="#333" stroke-width="0.35" fill-opacity="0.8"/>
<circle cx="558.15" cy="86.82" r="1.45" fill="#777" stroke="#333" stroke-width="0.35" fill-opacity="0.8"/>
<circle cx="559.38" cy="82.74" r="1.45" fill="#777" stroke="#333" stroke-width="0.35" fill-opacity="0.8"/>
<circle cx="553.85" cy="82.18" r="1.45" fill="#777" stroke="#333" stroke-width="0.35" fill-opacity="0.8"/>
<circle cx="548.17" cy="84.67" r="1.45" fill="#777" stroke="#333" stroke-width="0.35" fill-opacity="0.8"/>
<circle cx="551.02" cy="86.75" r="1.45" fill="#777" stroke="#333" stroke-width="0.35" fill-opacity="0.8"/>
<circle cx="553.92" cy="88.79" r="1.45" fill="#777" stroke="#333" stroke-width="0.35" fill-opacity="0.8"/>
<circle cx="556.77" cy="86.68" r="1.45" fill="#777" stroke="#333" stroke-width="0.35" fill-opacity="0.8"/>
<circle cx="552.02" cy="84.25" r="1.45" fill="#777" stroke="#333" stroke-width="0.35" fill-opacity="0.8"/>
<circle cx="556.75" cy="85.98" r="1.45" fill="#777" stroke="#333" stroke-width="0.35" fill-opacity="0.8"/>
<circle cx="548.51" cy="83.44" r="1.45" fill="#777" stroke="#333" stroke-width="0.35" fill-opacity="0.8"/>
<circle cx="558.35" cy="81.99" r="1.45" fill="#777" stroke="#333" stroke-width="0.35" fill-opacity="0.8"/>
<circle cx="557.25" cy="79.90" r="1.45" fill="#777" stroke="#333" stroke-width="0.35" fill-opacity="0.8"/>
<circle cx="555.22" cy="83.72" r="1.45" fill="#777" stroke="#333" stroke-width="0.35" fill-opacity="0.8"/>
<circle cx="558.63" cy="85.83" r="1.45" fill="#777" stroke="#333" stroke-width="0.35" fill-opacity="0.8"/>
<circle cx="559.70" cy="89.26" r="1.45" fill="#777" stroke="#333" stroke-width="0.35" fill-opacity="0.8"/>
<circle cx="563.38" cy="83.88" r="1.45" fill="#777" stroke="#333" stroke-width="0.35" fill-opacity="0.8"/>
<circle cx="560.95" cy="86.35" r="1.45" fill="#777" stroke="#333" stroke-width="0.35" fill-opacity="0.8"/>
<circle cx="554.66" cy="85.49" r="1.45" fill="#777" stroke="#333" stroke-width="0.35" fill-opacity="0.8"/>
<circle cx="556.72" cy="84.54" r="1.45" fill="#777" stroke="#333" stroke-width="0.35" fill-opacity="0.8"/>
<circle cx="556.08" cy="86.08" r="1.45" fill="#777" stroke="#333" stroke-width="0.35" fill-opacity="0.8"/>
<circle cx="554.64" cy="85.90" r="1.45" fill="#777" stroke="#333" stroke-width="0.35" fill-opacity="0.8"/>
<circle cx="548.77" cy="86.97" r="1.45" fill="#777" stroke="#333" stroke-width="0.35" fill-opacity="0.8"/>
<circle cx="559.20" cy="83.12" r="1.45" fill="#777" stroke="#333" stroke-width="0.35" fill-opacity="0.8"/>
<circle cx="557.21" cy="84.82" r="1.45" fill="#777" stroke="#333" stroke-width="0.35" fill-opacity="0.8"/>
<circle cx="559.60" cy="87.18" r="1.45" fill="#777" stroke="#333" stroke-width="0.35" fill-opacity="0.8"/>
<circle cx="549.00" cy="83.36" r="1.45" fill="#777" stroke="#333" stroke-width="0.35" fill-opacity="0.8"/>
<circle cx="549.85" cy="84.05" r="1.45" fill="#777" stroke="#333" stroke-width="0.35" fill-opacity="0.8"/>
<circle cx="554.09" cy="87.49" r="1.45" fill="#777" stroke="#333" stroke-width="0.35" fill-opacity="0.8"/>
<circle cx="548.73" cy="87.36" r="1.45" fill="#777" stroke="#333" stroke-width="0.35" fill-opacity="0.8"/>
<circle cx="551.64" cy="83.89" r="1.45" fill="#777" stroke="#333" stroke-width="0.35" fill-opacity="0.8"/>
<circle cx="552.68" cy="86.57" r="1.45" fill="#777" stroke="#333" stroke-width="0.35" fill-opacity="0.8"/>
<circle cx="548.98" cy="87.20" r="1.45" fill="#777" stroke="#333" stroke-width="0.35" fill-opacity="0.8"/>
<circle cx="562.08" cy="82.49" r="1.45" fill="#777" stroke="#333" stroke-width="0.35" fill-opacity="0.8"/>
<circle cx="561.39" cy="87.85" r="1.45" fill="#777" stroke="#333" stroke-width="0.35" fill-opacity="0.8"/>
<circle cx="557.35" cy="61.97" r="1.10" fill="#777" stroke="#333" stroke-width="0.35" fill-opacity="0.8"/>
<circle cx="557.35" cy="70.45" r="1.10" fill="#777" stroke="#333" stroke-width="0.35" fill-opacity="0.8"/>
<circle cx="570.54" cy="88.99" r="1.45" fill="#5ccf8a" stroke="#2d9a5a" stroke-width="0.35" fill-opacity="0.6"/>
<circle cx="576.85" cy="87.59" r="1.45" fill="#5ccf8a" stroke="#2d9a5a" stroke-width="0.35" fill-opacity="0.6"/>
<circle cx="573.36" cy="88.55" r="1.45" fill="#5ccf8a" stroke="#2d9a5a" stroke-width="0.35" fill-opacity="0.6"/>
<circle cx="577.74" cy="88.93" r="1.45" fill="#5ccf8a" stroke="#2d9a5a" stroke-width="0.35" fill-opacity="0.6"/>
<circle cx="564.75" cy="81.91" r="1.45" fill="#5ccf8a" stroke="#2d9a5a" stroke-width="0.35" fill-opacity="0.6"/>
<circle cx="562.36" cy="87.89" r="1.45" fill="#5ccf8a" stroke="#2d9a5a" stroke-width="0.35" fill-opacity="0.6"/>
<circle cx="567.09" cy="88.89" r="1.45" fill="#5ccf8a" stroke="#2d9a5a" stroke-width="0.35" fill-opacity="0.6"/>
<circle cx="563.57" cy="87.00" r="1.45" fill="#5ccf8a" stroke="#2d9a5a" stroke-width="0.35" fill-opacity="0.6"/>
<circle cx="579.74" cy="88.46" r="1.45" fill="#5ccf8a" stroke="#2d9a5a" stroke-width="0.35" fill-opacity="0.6"/>
<circle cx="569.27" cy="86.74" r="1.45" fill="#5ccf8a" stroke="#2d9a5a" stroke-width="0.35" fill-opacity="0.6"/>
<circle cx="573.72" cy="88.99" r="1.45" fill="#5ccf8a" stroke="#2d9a5a" stroke-width="0.35" fill-opacity="0.6"/>
<circle cx="579.80" cy="89.55" r="1.45" fill="#5ccf8a" stroke="#2d9a5a" stroke-width="0.35" fill-opacity="0.6"/>
<circle cx="568.33" cy="82.09" r="1.45" fill="#5ccf8a" stroke="#2d9a5a" stroke-width="0.35" fill-opacity="0.6"/>
<circle cx="581.33" cy="89.71" r="1.45" fill="#5ccf8a" stroke="#2d9a5a" stroke-width="0.35" fill-opacity="0.6"/>
<circle cx="571.53" cy="89.04" r="1.45" fill="#5ccf8a" stroke="#2d9a5a" stroke-width="0.35" fill-opacity="0.6"/>
<circle cx="580.27" cy="87.13" r="1.45" fill="#5ccf8a" stroke="#2d9a5a" stroke-width="0.35" fill-opacity="0.6"/>
<circle cx="579.77" cy="87.67" r="1.45" fill="#5ccf8a" stroke="#2d9a5a" stroke-width="0.35" fill-opacity="0.6"/>
<circle cx="569.23" cy="83.85" r="1.45" fill="#5ccf8a" stroke="#2d9a5a" stroke-width="0.35" fill-opacity="0.6"/>
<circle cx="571.53" cy="86.58" r="1.45" fill="#5ccf8a" stroke="#2d9a5a" stroke-width="0.35" fill-opacity="0.6"/>
<circle cx="581.69" cy="83.79" r="1.45" fill="#5ccf8a" stroke="#2d9a5a" stroke-width="0.35" fill-opacity="0.6"/>
<circle cx="566.27" cy="88.34" r="1.45" fill="#5ccf8a" stroke="#2d9a5a" stroke-width="0.35" fill-opacity="0.6"/>
<circle cx="579.45" cy="88.19" r="1.45" fill="#5ccf8a" stroke="#2d9a5a" stroke-width="0.35" fill-opacity="0.6"/>
<circle cx="563.32" cy="85.61" r="1.45" fill="#5ccf8a" stroke="#2d9a5a" stroke-width="0.35" fill-opacity="0.6"/>
<circle cx="568.43" cy="86.50" r="1.45" fill="#5ccf8a" stroke="#2d9a5a" stroke-width="0.35" fill-opacity="0.6"/>
<circle cx="579.84" cy="86.22" r="1.45" fill="#5ccf8a" stroke="#2d9a5a" stroke-width="0.35" fill-opacity="0.6"/>
<circle cx="564.97" cy="85.97" r="1.45" fill="#5ccf8a" stroke="#2d9a5a" stroke-width="0.35" fill-opacity="0.6"/>
<circle cx="575.87" cy="86.47" r="1.45" fill="#5ccf8a" stroke="#2d9a5a" stroke-width="0.35" fill-opacity="0.6"/>
<circle cx="563.88" cy="88.42" r="1.45" fill="#5ccf8a" stroke="#2d9a5a" stroke-width="0.35" fill-opacity="0.6"/>
<circle cx="567.90" cy="75.64" r="1.45" fill="#5ccf8a" stroke="#2d9a5a" stroke-width="0.35" fill-opacity="0.6"/>
<circle cx="580.11" cy="71.40" r="1.45" fill="#5ccf8a" stroke="#2d9a5a" stroke-width="0.35" fill-opacity="0.6"/>
<circle cx="566.23" cy="78.94" r="1.45" fill="#5ccf8a" stroke="#2d9a5a" stroke-width="0.35" fill-opacity="0.6"/>
<circle cx="575.12" cy="82.71" r="1.45" fill="#5ccf8a" stroke="#2d9a5a" stroke-width="0.35" fill-opacity="0.6"/>
<circle cx="576.78" cy="84.60" r="1.45" fill="#5ccf8a" stroke="#2d9a5a" stroke-width="0.35" fill-opacity="0.6"/>
<circle cx="569.01" cy="84.60" r="1.45" fill="#5ccf8a" stroke="#2d9a5a" stroke-width="0.35" fill-opacity="0.6"/>
<text x="529.5" y="59.5" font-size="7" fill="#222">PKD2-like1</text>
<line x1="555.60" y1="61.00" x2="556.80" y2="63.60" stroke="#222" stroke-width="0.5"/>
<text x="519.5" y="68.3" font-size="7" fill="#222">cacnb2</text>
<line x1="545.00" y1="67.60" x2="556.20" y2="72.60" stroke="#222" stroke-width="0.5"/>
<text x="578.5" y="60.5" font-size="7" fill="#222">Eag</text>
<line x1="580.00" y1="62.60" x2="566.50" y2="78.60" stroke="#222" stroke-width="0.5"/>
<text x="583.3" y="82.7" font-size="7" fill="#222">Ano8</text>
<line x1="581.20" y1="73.40" x2="581.60" y2="75.60" stroke="#222" stroke-width="0.5"/>
<circle cx="334.04" cy="170.82" r="1.45" fill="#3d7ad0" stroke="#1f4f96" stroke-width="0.35" fill-opacity="0.6" stroke-opacity="0.8"/>
<circle cx="335.70" cy="168.94" r="1.45" fill="#3d7ad0" stroke="#1f4f96" stroke-width="0.35" fill-opacity="0.6" stroke-opacity="0.8"/>
<circle cx="337.37" cy="173.63" r="1.45" fill="#3d7ad0" stroke="#1f4f96" stroke-width="0.35" fill-opacity="0.6" stroke-opacity="0.8"/>
<circle cx="332.93" cy="176.45" r="1.45" fill="#3d7ad0" stroke="#1f4f96" stroke-width="0.35" fill-opacity="0.6" stroke-opacity="0.8"/>
<circle cx="335.15" cy="178.32" r="1.45" fill="#3d7ad0" stroke="#1f4f96" stroke-width="0.35" fill-opacity="0.6" stroke-opacity="0.8"/>
<circle cx="339.03" cy="177.39" r="1.45" fill="#3d7ad0" stroke="#1f4f96" stroke-width="0.35" fill-opacity="0.6" stroke-opacity="0.8"/>
<circle cx="341.81" cy="174.57" r="1.45" fill="#3d7ad0" stroke="#1f4f96" stroke-width="0.35" fill-opacity="0.6" stroke-opacity="0.8"/>
<circle cx="344.03" cy="176.45" r="1.45" fill="#3d7ad0" stroke="#1f4f96" stroke-width="0.35" fill-opacity="0.6" stroke-opacity="0.8"/>
<circle cx="346.80" cy="177.39" r="1.45" fill="#3d7ad0" stroke="#1f4f96" stroke-width="0.35" fill-opacity="0.6" stroke-opacity="0.8"/>
<circle cx="349.02" cy="175.51" r="1.45" fill="#3d7ad0" stroke="#1f4f96" stroke-width="0.35" fill-opacity="0.6" stroke-opacity="0.8"/>
<circle cx="341.25" cy="171.29" r="1.45" fill="#3d7ad0" stroke="#1f4f96" stroke-width="0.35" fill-opacity="0.6" stroke-opacity="0.8"/>
<circle cx="345.14" cy="178.79" r="1.45" fill="#3d7ad0" stroke="#1f4f96" stroke-width="0.35" fill-opacity="0.6" stroke-opacity="0.8"/>
<circle cx="351.24" cy="176.92" r="1.45" fill="#3d7ad0" stroke="#1f4f96" stroke-width="0.35" fill-opacity="0.6" stroke-opacity="0.8"/>
<circle cx="356.24" cy="176.92" r="1.45" fill="#3d7ad0" stroke="#1f4f96" stroke-width="0.35" fill-opacity="0.6" stroke-opacity="0.8"/>
<circle cx="337.37" cy="177.85" r="1.45" fill="#3d7ad0" stroke="#1f4f96" stroke-width="0.35" fill-opacity="0.6" stroke-opacity="0.8"/>
<circle cx="360.68" cy="175.98" r="1.10" fill="#777" stroke="#333" stroke-width="0.35" fill-opacity="0.8"/>
<text x="334.0" y="163.5" font-size="7" fill="#222">FLRNa−R.187</text>
<line x1="348.50" y1="164.00" x2="340.00" y2="171.60" stroke="#222" stroke-width="0.5"/>
<text x="321.0" y="176.5" font-size="7" fill="#222">QWa−R.69</text>
<text x="364.3" y="178.0" font-size="7" fill="#222">PRGa−R.198</text>
<line x1="356.00" y1="174.80" x2="365.50" y2="175.20" stroke="#222" stroke-width="0.5"/>
<circle cx="423.88" cy="121.11" r="1.45" fill="#3d7ad0" stroke="#1f4f96" stroke-width="0.35" fill-opacity="0.6" stroke-opacity="0.8"/>
<circle cx="424.99" cy="123.92" r="1.45" fill="#3d7ad0" stroke="#1f4f96" stroke-width="0.35" fill-opacity="0.6" stroke-opacity="0.8"/>
<circle cx="422.21" cy="127.67" r="1.45" fill="#3d7ad0" stroke="#1f4f96" stroke-width="0.35" fill-opacity="0.6" stroke-opacity="0.8"/>
<circle cx="423.32" cy="133.30" r="1.45" fill="#3d7ad0" stroke="#1f4f96" stroke-width="0.35" fill-opacity="0.6" stroke-opacity="0.8"/>
<circle cx="424.99" cy="136.11" r="1.45" fill="#3d7ad0" stroke="#1f4f96" stroke-width="0.35" fill-opacity="0.6" stroke-opacity="0.8"/>
<circle cx="426.65" cy="137.99" r="1.45" fill="#3d7ad0" stroke="#1f4f96" stroke-width="0.35" fill-opacity="0.6" stroke-opacity="0.8"/>
<circle cx="422.77" cy="140.80" r="1.45" fill="#3d7ad0" stroke="#1f4f96" stroke-width="0.35" fill-opacity="0.6" stroke-opacity="0.8"/>
<circle cx="427.21" cy="141.74" r="1.45" fill="#3d7ad0" stroke="#1f4f96" stroke-width="0.35" fill-opacity="0.6" stroke-opacity="0.8"/>
<circle cx="428.87" cy="144.56" r="1.45" fill="#3d7ad0" stroke="#1f4f96" stroke-width="0.35" fill-opacity="0.6" stroke-opacity="0.8"/>
<circle cx="431.09" cy="147.37" r="1.45" fill="#3d7ad0" stroke="#1f4f96" stroke-width="0.35" fill-opacity="0.6" stroke-opacity="0.8"/>
<circle cx="432.20" cy="143.62" r="1.45" fill="#3d7ad0" stroke="#1f4f96" stroke-width="0.35" fill-opacity="0.6" stroke-opacity="0.8"/>
<circle cx="424.43" cy="143.62" r="1.45" fill="#3d7ad0" stroke="#1f4f96" stroke-width="0.35" fill-opacity="0.6" stroke-opacity="0.8"/>
<circle cx="427.76" cy="129.55" r="1.45" fill="#3d7ad0" stroke="#1f4f96" stroke-width="0.35" fill-opacity="0.6" stroke-opacity="0.8"/>
<circle cx="433.31" cy="148.31" r="1.45" fill="#3d7ad0" stroke="#1f4f96" stroke-width="0.35" fill-opacity="0.6" stroke-opacity="0.8"/>
<circle cx="426.10" cy="161.44" r="1.45" fill="#3d7ad0" stroke="#1f4f96" stroke-width="0.35" fill-opacity="0.6" stroke-opacity="0.8"/>
<circle cx="428.32" cy="158.63" r="1.45" fill="#3d7ad0" stroke="#1f4f96" stroke-width="0.35" fill-opacity="0.6" stroke-opacity="0.8"/>
<circle cx="431.65" cy="162.38" r="1.45" fill="#3d7ad0" stroke="#1f4f96" stroke-width="0.35" fill-opacity="0.6" stroke-opacity="0.8"/>
<circle cx="433.31" cy="165.19" r="1.45" fill="#3d7ad0" stroke="#1f4f96" stroke-width="0.35" fill-opacity="0.6" stroke-opacity="0.8"/>
<circle cx="435.53" cy="168.94" r="1.45" fill="#3d7ad0" stroke="#1f4f96" stroke-width="0.35" fill-opacity="0.6" stroke-opacity="0.8"/>
<circle cx="437.75" cy="167.07" r="1.45" fill="#3d7ad0" stroke="#1f4f96" stroke-width="0.35" fill-opacity="0.6" stroke-opacity="0.8"/>
<circle cx="442.19" cy="168.01" r="1.45" fill="#3d7ad0" stroke="#1f4f96" stroke-width="0.35" fill-opacity="0.6" stroke-opacity="0.8"/>
<circle cx="444.97" cy="163.32" r="1.45" fill="#3d7ad0" stroke="#1f4f96" stroke-width="0.35" fill-opacity="0.6" stroke-opacity="0.8"/>
<circle cx="452.74" cy="160.50" r="1.45" fill="#3d7ad0" stroke="#1f4f96" stroke-width="0.35" fill-opacity="0.6" stroke-opacity="0.8"/>
<circle cx="452.74" cy="167.07" r="1.45" fill="#3d7ad0" stroke="#1f4f96" stroke-width="0.35" fill-opacity="0.6" stroke-opacity="0.8"/>
<circle cx="452.18" cy="176.45" r="1.45" fill="#3d7ad0" stroke="#1f4f96" stroke-width="0.35" fill-opacity="0.6" stroke-opacity="0.8"/>
<circle cx="429.98" cy="168.94" r="1.45" fill="#3d7ad0" stroke="#1f4f96" stroke-width="0.35" fill-opacity="0.6" stroke-opacity="0.8"/>
<text x="423.4" y="121.3" font-size="7" fill="#222">FRPa</text>
<line x1="437.50" y1="119.00" x2="449.00" y2="118.80" stroke="#222" stroke-width="0.5"/>
<text x="449.8" y="121.3" font-size="7" fill="#222">Class8-like</text>
<text x="427.4" y="135.9" font-size="7" fill="#222">PRGa</text>
<line x1="444.00" y1="132.80" x2="454.50" y2="132.60" stroke="#222" stroke-width="0.5"/>
<text x="455.0" y="135.1" font-size="7" fill="#222">Aaq5-like2</text>
<text x="417.5" y="151.6" font-size="7" fill="#222">CCa</text>
<line x1="432.00" y1="143.00" x2="438.50" y2="146.60" stroke="#222" stroke-width="0.5"/>
<text x="439.2" y="149.7" font-size="7" fill="#222">RPa</text>
<text x="416.7" y="166.6" font-size="7" fill="#222">WRSa</text>
<circle cx="530.49" cy="160.13" r="1.45" fill="#3d7ad0" stroke="#1f4f96" stroke-width="0.35" fill-opacity="0.6" stroke-opacity="0.8"/>
<circle cx="534.60" cy="163.88" r="1.45" fill="#3d7ad0" stroke="#1f4f96" stroke-width="0.35" fill-opacity="0.6" stroke-opacity="0.8"/>
<circle cx="541.93" cy="165.29" r="1.45" fill="#3d7ad0" stroke="#1f4f96" stroke-width="0.35" fill-opacity="0.6" stroke-opacity="0.8"/>
<circle cx="537.82" cy="157.97" r="1.45" fill="#3d7ad0" stroke="#1f4f96" stroke-width="0.35" fill-opacity="0.6" stroke-opacity="0.8"/>
<circle cx="535.10" cy="176.92" r="1.45" fill="#3d7ad0" stroke="#1f4f96" stroke-width="0.35" fill-opacity="0.6" stroke-opacity="0.8"/>
<circle cx="541.93" cy="176.92" r="1.45" fill="#3d7ad0" stroke="#1f4f96" stroke-width="0.35" fill-opacity="0.6" stroke-opacity="0.8"/>
<circle cx="545.92" cy="175.51" r="1.45" fill="#3d7ad0" stroke="#1f4f96" stroke-width="0.35" fill-opacity="0.6" stroke-opacity="0.8"/>
<circle cx="548.59" cy="176.92" r="1.45" fill="#3d7ad0" stroke="#1f4f96" stroke-width="0.35" fill-opacity="0.6" stroke-opacity="0.8"/>
<circle cx="539.71" cy="174.20" r="1.45" fill="#3d7ad0" stroke="#1f4f96" stroke-width="0.35" fill-opacity="0.6" stroke-opacity="0.8"/>
<circle cx="551.31" cy="178.23" r="1.45" fill="#3d7ad0" stroke="#1f4f96" stroke-width="0.35" fill-opacity="0.6" stroke-opacity="0.8"/>
<circle cx="544.03" cy="177.85" r="1.45" fill="#3d7ad0" stroke="#1f4f96" stroke-width="0.35" fill-opacity="0.6" stroke-opacity="0.8"/>
<circle cx="554.02" cy="178.23" r="1.10" fill="#777" stroke="#333" stroke-width="0.35" fill-opacity="0.8"/>
<circle cx="566.18" cy="177.39" r="1.10" fill="#5ccf8a" stroke="#2d9a5a" stroke-width="0.35" fill-opacity="0.6"/>
<text x="513.5" y="155.9" font-size="7" fill="#222">PHM</text>
<line x1="527.50" y1="155.60" x2="530.20" y2="159.40" stroke="#222" stroke-width="0.5"/>
<text x="542.7" y="153.7" font-size="7" fill="#222">PC</text>
<line x1="542.00" y1="154.20" x2="538.20" y2="157.60" stroke="#222" stroke-width="0.5"/>
<text x="540.0" y="172.1" font-size="7" fill="#222">PC</text>
<line x1="540.00" y1="167.20" x2="535.50" y2="164.50" stroke="#222" stroke-width="0.5"/>
<text x="557.5" y="178.8" font-size="7" fill="#222">PAM</text>
<path d="M316.5 26 C322 30 326 33 329 35 C333 32 336 29 340 26" fill="none" stroke="#3a5fa8" stroke-width="0.7"/>
<path d="M318 43 C322 40 326 37 329 35 C334 38 338 39 343 40" fill="none" stroke="#3a5fa8" stroke-width="0.7"/>
<circle cx="329.30" cy="35.00" r="1.80" fill="#4d79c4" stroke="#3a5fa8" stroke-width="0.5"/>
<path d="M403.6 26.0 C408.2 30 408.2 37 403.6 41.5 C399 37 399 30 403.6 26.0 Z" fill="#e3f5ea" stroke="#3cb371" stroke-width="0.8"/>
<path d="M399.2 43.8 L403.6 41 L408 43.8" fill="none" stroke="#3cb371" stroke-width="0.6"/>
<rect x="404.00" y="31.00" width="1.40" height="3.50" fill="#aaa" stroke="none" stroke-width="1"/>
<text x="1.5" y="231.0" font-size="18" fill="#000" font-weight="bold" textLength="12.0" lengthAdjust="spacingAndGlyphs">C</text>
<path fill="#ff0000" d="M65.3 436.8h3.7v4.3h-3.7zM68.9 411.6h3.7v4.3h-3.7zM79.8 407.4h3.7v4.3h-3.7zM83.4 403.2h3.7v4.3h-3.7zM87.0 399.0h3.7v4.3h-3.7zM90.6 394.8h3.7v4.3h-3.7zM94.3 390.6h3.7v4.3h-3.7zM97.9 386.3h3.7v4.3h-3.7zM101.5 382.1h3.7v4.3h-3.7zM105.1 377.9h3.7v4.3h-3.7zM112.3 373.7h3.7v4.3h-3.7zM116.0 369.5h3.7v4.3h-3.7zM119.6 365.3h3.7v4.3h-3.7zM123.2 361.1h3.7v4.3h-3.7zM126.8 356.9h3.7v4.3h-3.7zM130.4 352.7h3.7v4.3h-3.7zM134.1 348.5h3.7v4.3h-3.7zM137.7 344.3h3.7v4.3h-3.7zM141.3 340.1h3.7v4.3h-3.7zM144.9 335.9h3.7v4.3h-3.7zM148.5 331.7h3.7v4.3h-3.7zM152.2 327.5h3.7v4.3h-3.7zM155.8 323.3h3.7v4.3h-3.7zM159.4 319.1h3.7v4.3h-3.7zM163.0 314.9h3.7v4.3h-3.7zM166.6 310.7h3.7v4.3h-3.7zM170.3 306.5h3.7v4.3h-3.7zM177.5 302.3h3.7v4.3h-3.7zM181.1 298.1h3.7v4.3h-3.7zM184.7 293.9h3.7v4.3h-3.7zM188.4 289.6h3.7v4.3h-3.7zM192.0 285.4h3.7v4.3h-3.7zM195.6 281.2h3.7v4.3h-3.7zM199.2 277.0h3.7v4.3h-3.7zM202.8 272.8h3.7v4.3h-3.7zM206.4 268.6h3.7v4.3h-3.7zM210.1 264.4h3.7v4.3h-3.7zM213.7 260.2h3.7v4.3h-3.7zM217.3 256.0h3.7v4.3h-3.7zM224.5 251.8h3.7v4.3h-3.7zM228.2 247.6h3.7v4.3h-3.7zM231.8 243.4h3.7v4.3h-3.7z"/>
<path fill="#f9f6fe" d="M68.9 436.8h3.7v4.3h-3.7zM72.5 436.8h3.7v4.3h-3.7zM94.3 436.8h3.7v4.3h-3.7zM112.3 436.8h3.7v4.3h-3.7zM177.5 436.8h3.7v4.3h-3.7zM199.2 436.8h3.7v4.3h-3.7zM224.5 436.8h3.7v4.3h-3.7zM231.8 436.8h3.7v4.3h-3.7zM166.6 432.6h3.7v4.3h-3.7zM116.0 428.4h3.7v4.3h-3.7zM94.3 424.2h3.7v4.3h-3.7zM159.4 424.2h3.7v4.3h-3.7zM224.5 424.2h3.7v4.3h-3.7zM72.5 411.6h3.7v4.3h-3.7zM87.0 411.6h3.7v4.3h-3.7zM94.3 411.6h3.7v4.3h-3.7zM97.9 411.6h3.7v4.3h-3.7zM101.5 411.6h3.7v4.3h-3.7zM112.3 411.6h3.7v4.3h-3.7zM123.2 411.6h3.7v4.3h-3.7zM159.4 411.6h3.7v4.3h-3.7zM166.6 411.6h3.7v4.3h-3.7zM202.8 411.6h3.7v4.3h-3.7zM90.6 407.4h3.7v4.3h-3.7zM101.5 407.4h3.7v4.3h-3.7zM105.1 407.4h3.7v4.3h-3.7zM108.7 407.4h3.7v4.3h-3.7zM112.3 407.4h3.7v4.3h-3.7zM116.0 407.4h3.7v4.3h-3.7zM119.6 407.4h3.7v4.3h-3.7zM210.1 407.4h3.7v4.3h-3.7zM224.5 407.4h3.7v4.3h-3.7zM123.2 403.2h3.7v4.3h-3.7zM130.4 403.2h3.7v4.3h-3.7zM141.3 403.2h3.7v4.3h-3.7zM144.9 403.2h3.7v4.3h-3.7zM195.6 403.2h3.7v4.3h-3.7zM65.3 399.0h3.7v4.3h-3.7zM119.6 399.0h3.7v4.3h-3.7zM123.2 399.0h3.7v4.3h-3.7zM130.4 399.0h3.7v4.3h-3.7zM134.1 399.0h3.7v4.3h-3.7zM181.1 399.0h3.7v4.3h-3.7zM224.5 399.0h3.7v4.3h-3.7zM231.8 399.0h3.7v4.3h-3.7zM65.3 394.8h3.7v4.3h-3.7zM68.9 394.8h3.7v4.3h-3.7zM72.5 394.8h3.7v4.3h-3.7zM79.8 394.8h3.7v4.3h-3.7zM94.3 394.8h3.7v4.3h-3.7zM97.9 394.8h3.7v4.3h-3.7zM101.5 394.8h3.7v4.3h-3.7zM119.6 394.8h3.7v4.3h-3.7zM123.2 394.8h3.7v4.3h-3.7zM130.4 394.8h3.7v4.3h-3.7zM144.9 394.8h3.7v4.3h-3.7zM173.9 394.8h3.7v4.3h-3.7zM202.8 394.8h3.7v4.3h-3.7zM220.9 394.8h3.7v4.3h-3.7zM228.2 394.8h3.7v4.3h-3.7zM65.3 390.6h3.7v4.3h-3.7zM108.7 390.6h3.7v4.3h-3.7zM112.3 390.6h3.7v4.3h-3.7zM126.8 390.6h3.7v4.3h-3.7zM159.4 390.6h3.7v4.3h-3.7zM166.6 390.6h3.7v4.3h-3.7zM173.9 390.6h3.7v4.3h-3.7zM224.5 390.6h3.7v4.3h-3.7zM87.0 386.3h3.7v4.3h-3.7zM108.7 386.3h3.7v4.3h-3.7zM141.3 386.3h3.7v4.3h-3.7zM184.7 386.3h3.7v4.3h-3.7zM192.0 386.3h3.7v4.3h-3.7zM68.9 382.1h3.7v4.3h-3.7zM79.8 382.1h3.7v4.3h-3.7zM87.0 382.1h3.7v4.3h-3.7zM90.6 382.1h3.7v4.3h-3.7zM94.3 382.1h3.7v4.3h-3.7zM112.3 382.1h3.7v4.3h-3.7zM119.6 382.1h3.7v4.3h-3.7zM123.2 382.1h3.7v4.3h-3.7zM130.4 382.1h3.7v4.3h-3.7zM144.9 382.1h3.7v4.3h-3.7zM148.5 382.1h3.7v4.3h-3.7zM177.5 382.1h3.7v4.3h-3.7zM210.1 382.1h3.7v4.3h-3.7zM65.3 377.9h3.7v4.3h-3.7zM79.8 377.9h3.7v4.3h-3.7zM90.6 377.9h3.7v4.3h-3.7zM112.3 377.9h3.7v4.3h-3.7zM119.6 377.9h3.7v4.3h-3.7zM123.2 377.9h3.7v4.3h-3.7zM144.9 377.9h3.7v4.3h-3.7zM83.4 373.7h3.7v4.3h-3.7zM87.0 373.7h3.7v4.3h-3.7zM90.6 373.7h3.7v4.3h-3.7zM126.8 373.7h3.7v4.3h-3.7zM134.1 373.7h3.7v4.3h-3.7zM141.3 373.7h3.7v4.3h-3.7zM144.9 373.7h3.7v4.3h-3.7zM163.0 373.7h3.7v4.3h-3.7zM173.9 373.7h3.7v4.3h-3.7zM184.7 373.7h3.7v4.3h-3.7zM72.5 369.5h3.7v4.3h-3.7zM94.3 369.5h3.7v4.3h-3.7zM123.2 369.5h3.7v4.3h-3.7zM126.8 369.5h3.7v4.3h-3.7zM166.6 369.5h3.7v4.3h-3.7zM220.9 369.5h3.7v4.3h-3.7zM228.2 369.5h3.7v4.3h-3.7zM231.8 369.5h3.7v4.3h-3.7zM72.5 365.3h3.7v4.3h-3.7zM90.6 365.3h3.7v4.3h-3.7zM94.3 365.3h3.7v4.3h-3.7zM130.4 365.3h3.7v4.3h-3.7zM155.8 365.3h3.7v4.3h-3.7zM220.9 365.3h3.7v4.3h-3.7zM224.5 365.3h3.7v4.3h-3.7zM79.8 361.1h3.7v4.3h-3.7zM90.6 361.1h3.7v4.3h-3.7zM108.7 361.1h3.7v4.3h-3.7zM112.3 361.1h3.7v4.3h-3.7zM134.1 361.1h3.7v4.3h-3.7zM195.6 361.1h3.7v4.3h-3.7zM79.8 356.9h3.7v4.3h-3.7zM90.6 356.9h3.7v4.3h-3.7zM94.3 356.9h3.7v4.3h-3.7zM97.9 356.9h3.7v4.3h-3.7zM108.7 356.9h3.7v4.3h-3.7zM112.3 356.9h3.7v4.3h-3.7zM116.0 356.9h3.7v4.3h-3.7zM170.3 356.9h3.7v4.3h-3.7zM184.7 356.9h3.7v4.3h-3.7zM72.5 352.7h3.7v4.3h-3.7zM83.4 352.7h3.7v4.3h-3.7zM112.3 352.7h3.7v4.3h-3.7zM126.8 352.7h3.7v4.3h-3.7zM148.5 352.7h3.7v4.3h-3.7zM170.3 352.7h3.7v4.3h-3.7zM177.5 352.7h3.7v4.3h-3.7zM195.6 352.7h3.7v4.3h-3.7zM228.2 352.7h3.7v4.3h-3.7zM72.5 348.5h3.7v4.3h-3.7zM90.6 348.5h3.7v4.3h-3.7zM112.3 348.5h3.7v4.3h-3.7zM116.0 348.5h3.7v4.3h-3.7zM123.2 348.5h3.7v4.3h-3.7zM130.4 348.5h3.7v4.3h-3.7zM141.3 348.5h3.7v4.3h-3.7zM155.8 348.5h3.7v4.3h-3.7zM228.2 348.5h3.7v4.3h-3.7zM119.6 344.3h3.7v4.3h-3.7zM123.2 344.3h3.7v4.3h-3.7zM134.1 344.3h3.7v4.3h-3.7zM210.1 344.3h3.7v4.3h-3.7zM228.2 344.3h3.7v4.3h-3.7zM101.5 340.1h3.7v4.3h-3.7zM105.1 340.1h3.7v4.3h-3.7zM116.0 340.1h3.7v4.3h-3.7zM123.2 340.1h3.7v4.3h-3.7zM173.9 340.1h3.7v4.3h-3.7zM210.1 340.1h3.7v4.3h-3.7zM220.9 340.1h3.7v4.3h-3.7zM224.5 340.1h3.7v4.3h-3.7zM68.9 335.9h3.7v4.3h-3.7zM72.5 335.9h3.7v4.3h-3.7zM79.8 335.9h3.7v4.3h-3.7zM87.0 335.9h3.7v4.3h-3.7zM94.3 335.9h3.7v4.3h-3.7zM112.3 335.9h3.7v4.3h-3.7zM130.4 335.9h3.7v4.3h-3.7zM166.6 335.9h3.7v4.3h-3.7zM192.0 335.9h3.7v4.3h-3.7zM224.5 335.9h3.7v4.3h-3.7zM72.5 331.7h3.7v4.3h-3.7zM79.8 331.7h3.7v4.3h-3.7zM90.6 331.7h3.7v4.3h-3.7zM101.5 331.7h3.7v4.3h-3.7zM126.8 331.7h3.7v4.3h-3.7zM134.1 331.7h3.7v4.3h-3.7zM155.8 331.7h3.7v4.3h-3.7zM173.9 331.7h3.7v4.3h-3.7zM192.0 331.7h3.7v4.3h-3.7zM210.1 331.7h3.7v4.3h-3.7zM217.3 331.7h3.7v4.3h-3.7zM76.2 327.5h3.7v4.3h-3.7zM97.9 327.5h3.7v4.3h-3.7zM112.3 327.5h3.7v4.3h-3.7zM126.8 327.5h3.7v4.3h-3.7zM134.1 327.5h3.7v4.3h-3.7zM141.3 327.5h3.7v4.3h-3.7zM144.9 327.5h3.7v4.3h-3.7zM148.5 327.5h3.7v4.3h-3.7zM159.4 327.5h3.7v4.3h-3.7zM163.0 327.5h3.7v4.3h-3.7zM192.0 327.5h3.7v4.3h-3.7zM220.9 327.5h3.7v4.3h-3.7zM231.8 327.5h3.7v4.3h-3.7zM90.6 323.3h3.7v4.3h-3.7zM101.5 323.3h3.7v4.3h-3.7zM112.3 323.3h3.7v4.3h-3.7zM119.6 323.3h3.7v4.3h-3.7zM126.8 323.3h3.7v4.3h-3.7zM134.1 323.3h3.7v4.3h-3.7zM144.9 323.3h3.7v4.3h-3.7zM148.5 323.3h3.7v4.3h-3.7zM163.0 323.3h3.7v4.3h-3.7zM166.6 323.3h3.7v4.3h-3.7zM173.9 323.3h3.7v4.3h-3.7zM210.1 323.3h3.7v4.3h-3.7zM108.7 319.1h3.7v4.3h-3.7zM119.6 319.1h3.7v4.3h-3.7zM123.2 319.1h3.7v4.3h-3.7zM130.4 319.1h3.7v4.3h-3.7zM134.1 319.1h3.7v4.3h-3.7zM141.3 319.1h3.7v4.3h-3.7zM155.8 319.1h3.7v4.3h-3.7zM163.0 319.1h3.7v4.3h-3.7zM166.6 319.1h3.7v4.3h-3.7zM210.1 319.1h3.7v4.3h-3.7zM87.0 314.9h3.7v4.3h-3.7zM105.1 314.9h3.7v4.3h-3.7zM116.0 314.9h3.7v4.3h-3.7zM119.6 314.9h3.7v4.3h-3.7zM126.8 314.9h3.7v4.3h-3.7zM134.1 314.9h3.7v4.3h-3.7zM137.7 314.9h3.7v4.3h-3.7zM141.3 314.9h3.7v4.3h-3.7zM148.5 314.9h3.7v4.3h-3.7zM170.3 314.9h3.7v4.3h-3.7zM177.5 314.9h3.7v4.3h-3.7zM195.6 314.9h3.7v4.3h-3.7zM217.3 314.9h3.7v4.3h-3.7zM65.3 310.7h3.7v4.3h-3.7zM83.4 310.7h3.7v4.3h-3.7zM126.8 310.7h3.7v4.3h-3.7zM163.0 310.7h3.7v4.3h-3.7zM170.3 310.7h3.7v4.3h-3.7zM195.6 310.7h3.7v4.3h-3.7zM231.8 310.7h3.7v4.3h-3.7zM108.7 306.5h3.7v4.3h-3.7zM119.6 306.5h3.7v4.3h-3.7zM130.4 306.5h3.7v4.3h-3.7zM144.9 306.5h3.7v4.3h-3.7zM155.8 306.5h3.7v4.3h-3.7zM163.0 306.5h3.7v4.3h-3.7zM177.5 306.5h3.7v4.3h-3.7zM192.0 306.5h3.7v4.3h-3.7zM202.8 306.5h3.7v4.3h-3.7zM210.1 306.5h3.7v4.3h-3.7zM228.2 306.5h3.7v4.3h-3.7zM72.5 302.3h3.7v4.3h-3.7zM94.3 302.3h3.7v4.3h-3.7zM101.5 302.3h3.7v4.3h-3.7zM108.7 302.3h3.7v4.3h-3.7zM134.1 302.3h3.7v4.3h-3.7zM141.3 302.3h3.7v4.3h-3.7zM155.8 302.3h3.7v4.3h-3.7zM159.4 302.3h3.7v4.3h-3.7zM202.8 302.3h3.7v4.3h-3.7zM228.2 302.3h3.7v4.3h-3.7zM231.8 302.3h3.7v4.3h-3.7zM87.0 298.1h3.7v4.3h-3.7zM90.6 298.1h3.7v4.3h-3.7zM94.3 298.1h3.7v4.3h-3.7zM97.9 298.1h3.7v4.3h-3.7zM123.2 298.1h3.7v4.3h-3.7zM130.4 298.1h3.7v4.3h-3.7zM159.4 298.1h3.7v4.3h-3.7zM163.0 298.1h3.7v4.3h-3.7zM166.6 298.1h3.7v4.3h-3.7zM177.5 298.1h3.7v4.3h-3.7zM195.6 298.1h3.7v4.3h-3.7zM87.0 293.9h3.7v4.3h-3.7zM97.9 293.9h3.7v4.3h-3.7zM141.3 293.9h3.7v4.3h-3.7zM155.8 293.9h3.7v4.3h-3.7zM177.5 293.9h3.7v4.3h-3.7zM181.1 293.9h3.7v4.3h-3.7zM220.9 293.9h3.7v4.3h-3.7zM79.8 289.6h3.7v4.3h-3.7zM144.9 289.6h3.7v4.3h-3.7zM163.0 289.6h3.7v4.3h-3.7zM173.9 289.6h3.7v4.3h-3.7zM181.1 289.6h3.7v4.3h-3.7zM184.7 289.6h3.7v4.3h-3.7zM217.3 289.6h3.7v4.3h-3.7zM68.9 285.4h3.7v4.3h-3.7zM105.1 285.4h3.7v4.3h-3.7zM134.1 285.4h3.7v4.3h-3.7zM144.9 285.4h3.7v4.3h-3.7zM148.5 285.4h3.7v4.3h-3.7zM173.9 285.4h3.7v4.3h-3.7zM177.5 285.4h3.7v4.3h-3.7zM195.6 285.4h3.7v4.3h-3.7zM220.9 285.4h3.7v4.3h-3.7zM224.5 285.4h3.7v4.3h-3.7zM65.3 281.2h3.7v4.3h-3.7zM72.5 281.2h3.7v4.3h-3.7zM87.0 281.2h3.7v4.3h-3.7zM90.6 281.2h3.7v4.3h-3.7zM105.1 281.2h3.7v4.3h-3.7zM134.1 281.2h3.7v4.3h-3.7zM141.3 281.2h3.7v4.3h-3.7zM159.4 281.2h3.7v4.3h-3.7zM192.0 281.2h3.7v4.3h-3.7zM210.1 281.2h3.7v4.3h-3.7zM217.3 281.2h3.7v4.3h-3.7zM231.8 281.2h3.7v4.3h-3.7zM94.3 277.0h3.7v4.3h-3.7zM97.9 277.0h3.7v4.3h-3.7zM101.5 277.0h3.7v4.3h-3.7zM108.7 277.0h3.7v4.3h-3.7zM123.2 277.0h3.7v4.3h-3.7zM126.8 277.0h3.7v4.3h-3.7zM141.3 277.0h3.7v4.3h-3.7zM144.9 277.0h3.7v4.3h-3.7zM148.5 277.0h3.7v4.3h-3.7zM166.6 277.0h3.7v4.3h-3.7zM170.3 277.0h3.7v4.3h-3.7zM192.0 277.0h3.7v4.3h-3.7zM228.2 277.0h3.7v4.3h-3.7zM72.5 272.8h3.7v4.3h-3.7zM79.8 272.8h3.7v4.3h-3.7zM90.6 272.8h3.7v4.3h-3.7zM112.3 272.8h3.7v4.3h-3.7zM123.2 272.8h3.7v4.3h-3.7zM126.8 272.8h3.7v4.3h-3.7zM130.4 272.8h3.7v4.3h-3.7zM134.1 272.8h3.7v4.3h-3.7zM144.9 272.8h3.7v4.3h-3.7zM155.8 272.8h3.7v4.3h-3.7zM159.4 272.8h3.7v4.3h-3.7zM170.3 272.8h3.7v4.3h-3.7zM188.4 272.8h3.7v4.3h-3.7zM217.3 272.8h3.7v4.3h-3.7zM220.9 272.8h3.7v4.3h-3.7zM228.2 272.8h3.7v4.3h-3.7zM79.8 268.6h3.7v4.3h-3.7zM101.5 268.6h3.7v4.3h-3.7zM119.6 268.6h3.7v4.3h-3.7zM130.4 268.6h3.7v4.3h-3.7zM141.3 268.6h3.7v4.3h-3.7zM148.5 268.6h3.7v4.3h-3.7zM163.0 268.6h3.7v4.3h-3.7zM173.9 268.6h3.7v4.3h-3.7zM177.5 268.6h3.7v4.3h-3.7zM184.7 268.6h3.7v4.3h-3.7zM192.0 268.6h3.7v4.3h-3.7zM65.3 264.4h3.7v4.3h-3.7zM72.5 264.4h3.7v4.3h-3.7zM116.0 264.4h3.7v4.3h-3.7zM126.8 264.4h3.7v4.3h-3.7zM144.9 264.4h3.7v4.3h-3.7zM155.8 264.4h3.7v4.3h-3.7zM159.4 264.4h3.7v4.3h-3.7zM163.0 264.4h3.7v4.3h-3.7zM166.6 264.4h3.7v4.3h-3.7zM177.5 264.4h3.7v4.3h-3.7zM217.3 264.4h3.7v4.3h-3.7zM79.8 260.2h3.7v4.3h-3.7zM83.4 260.2h3.7v4.3h-3.7zM87.0 260.2h3.7v4.3h-3.7zM105.1 260.2h3.7v4.3h-3.7zM112.3 260.2h3.7v4.3h-3.7zM126.8 260.2h3.7v4.3h-3.7zM130.4 260.2h3.7v4.3h-3.7zM134.1 260.2h3.7v4.3h-3.7zM155.8 260.2h3.7v4.3h-3.7zM170.3 260.2h3.7v4.3h-3.7zM177.5 260.2h3.7v4.3h-3.7zM195.6 260.2h3.7v4.3h-3.7zM231.8 260.2h3.7v4.3h-3.7zM68.9 256.0h3.7v4.3h-3.7zM94.3 256.0h3.7v4.3h-3.7zM101.5 256.0h3.7v4.3h-3.7zM141.3 256.0h3.7v4.3h-3.7zM159.4 256.0h3.7v4.3h-3.7zM163.0 256.0h3.7v4.3h-3.7zM166.6 256.0h3.7v4.3h-3.7zM181.1 256.0h3.7v4.3h-3.7zM188.4 256.0h3.7v4.3h-3.7zM65.3 251.8h3.7v4.3h-3.7zM94.3 251.8h3.7v4.3h-3.7zM101.5 251.8h3.7v4.3h-3.7zM108.7 251.8h3.7v4.3h-3.7zM123.2 251.8h3.7v4.3h-3.7zM144.9 251.8h3.7v4.3h-3.7zM159.4 251.8h3.7v4.3h-3.7zM173.9 251.8h3.7v4.3h-3.7zM177.5 251.8h3.7v4.3h-3.7zM210.1 251.8h3.7v4.3h-3.7zM65.3 247.6h3.7v4.3h-3.7zM72.5 247.6h3.7v4.3h-3.7zM116.0 247.6h3.7v4.3h-3.7zM119.6 247.6h3.7v4.3h-3.7zM123.2 247.6h3.7v4.3h-3.7zM134.1 247.6h3.7v4.3h-3.7zM155.8 247.6h3.7v4.3h-3.7zM163.0 247.6h3.7v4.3h-3.7zM217.3 247.6h3.7v4.3h-3.7zM72.5 243.4h3.7v4.3h-3.7zM79.8 243.4h3.7v4.3h-3.7zM97.9 243.4h3.7v4.3h-3.7zM119.6 243.4h3.7v4.3h-3.7zM123.2 243.4h3.7v4.3h-3.7zM144.9 243.4h3.7v4.3h-3.7zM177.5 243.4h3.7v4.3h-3.7zM181.1 243.4h3.7v4.3h-3.7zM210.1 243.4h3.7v4.3h-3.7zM228.2 243.4h3.7v4.3h-3.7zM123.2 239.2h3.7v4.3h-3.7zM210.1 239.2h3.7v4.3h-3.7z"/>
<path fill="#ffefeb" d="M76.2 436.8h3.7v4.3h-3.7zM166.6 436.8h3.7v4.3h-3.7zM184.7 428.4h3.7v4.3h-3.7zM192.0 424.2h3.7v4.3h-3.7zM202.8 424.2h3.7v4.3h-3.7zM101.5 420.0h3.7v4.3h-3.7zM141.3 420.0h3.7v4.3h-3.7zM224.5 415.8h3.7v4.3h-3.7zM228.2 403.2h3.7v4.3h-3.7zM213.7 390.6h3.7v4.3h-3.7zM173.9 377.9h3.7v4.3h-3.7zM220.9 352.7h3.7v4.3h-3.7zM195.6 348.5h3.7v4.3h-3.7zM224.5 344.3h3.7v4.3h-3.7zM228.2 340.1h3.7v4.3h-3.7zM87.0 323.3h3.7v4.3h-3.7zM181.1 319.1h3.7v4.3h-3.7zM202.8 314.9h3.7v4.3h-3.7zM199.2 310.7h3.7v4.3h-3.7zM224.5 310.7h3.7v4.3h-3.7zM83.4 306.5h3.7v4.3h-3.7zM166.6 306.5h3.7v4.3h-3.7zM206.4 289.6h3.7v4.3h-3.7zM141.3 272.8h3.7v4.3h-3.7zM126.8 256.0h3.7v4.3h-3.7zM68.9 243.4h3.7v4.3h-3.7zM195.6 243.4h3.7v4.3h-3.7zM119.6 239.2h3.7v4.3h-3.7z"/>
<path fill="#fff4f1" d="M79.8 436.8h3.7v4.3h-3.7zM199.2 432.6h3.7v4.3h-3.7zM228.2 428.4h3.7v4.3h-3.7zM105.1 424.2h3.7v4.3h-3.7zM130.4 424.2h3.7v4.3h-3.7zM76.2 420.0h3.7v4.3h-3.7zM163.0 420.0h3.7v4.3h-3.7zM166.6 415.8h3.7v4.3h-3.7zM220.9 411.6h3.7v4.3h-3.7zM94.3 407.4h3.7v4.3h-3.7zM188.4 399.0h3.7v4.3h-3.7zM170.3 390.6h3.7v4.3h-3.7zM137.7 386.3h3.7v4.3h-3.7zM217.3 386.3h3.7v4.3h-3.7zM152.2 340.1h3.7v4.3h-3.7zM231.8 331.7h3.7v4.3h-3.7zM72.5 327.5h3.7v4.3h-3.7zM231.8 323.3h3.7v4.3h-3.7zM137.7 310.7h3.7v4.3h-3.7zM79.8 306.5h3.7v4.3h-3.7zM144.9 298.1h3.7v4.3h-3.7zM166.6 268.6h3.7v4.3h-3.7zM105.1 243.4h3.7v4.3h-3.7z"/>
<path fill="#fcfafe" d="M83.4 436.8h3.7v4.3h-3.7zM90.6 436.8h3.7v4.3h-3.7zM97.9 436.8h3.7v4.3h-3.7zM105.1 436.8h3.7v4.3h-3.7zM126.8 436.8h3.7v4.3h-3.7zM134.1 436.8h3.7v4.3h-3.7zM137.7 436.8h3.7v4.3h-3.7zM148.5 436.8h3.7v4.3h-3.7zM159.4 436.8h3.7v4.3h-3.7zM217.3 432.6h3.7v4.3h-3.7zM224.5 432.6h3.7v4.3h-3.7zM192.0 428.4h3.7v4.3h-3.7zM231.8 424.2h3.7v4.3h-3.7zM184.7 420.0h3.7v4.3h-3.7zM188.4 420.0h3.7v4.3h-3.7zM184.7 415.8h3.7v4.3h-3.7zM202.8 415.8h3.7v4.3h-3.7zM79.8 411.6h3.7v4.3h-3.7zM119.6 411.6h3.7v4.3h-3.7zM126.8 411.6h3.7v4.3h-3.7zM141.3 411.6h3.7v4.3h-3.7zM177.5 411.6h3.7v4.3h-3.7zM181.1 411.6h3.7v4.3h-3.7zM68.9 407.4h3.7v4.3h-3.7zM72.5 407.4h3.7v4.3h-3.7zM87.0 407.4h3.7v4.3h-3.7zM123.2 407.4h3.7v4.3h-3.7zM126.8 407.4h3.7v4.3h-3.7zM134.1 407.4h3.7v4.3h-3.7zM141.3 407.4h3.7v4.3h-3.7zM163.0 407.4h3.7v4.3h-3.7zM68.9 403.2h3.7v4.3h-3.7zM90.6 403.2h3.7v4.3h-3.7zM134.1 403.2h3.7v4.3h-3.7zM76.2 399.0h3.7v4.3h-3.7zM79.8 399.0h3.7v4.3h-3.7zM101.5 399.0h3.7v4.3h-3.7zM112.3 399.0h3.7v4.3h-3.7zM87.0 394.8h3.7v4.3h-3.7zM108.7 394.8h3.7v4.3h-3.7zM72.5 390.6h3.7v4.3h-3.7zM79.8 390.6h3.7v4.3h-3.7zM87.0 390.6h3.7v4.3h-3.7zM97.9 390.6h3.7v4.3h-3.7zM101.5 390.6h3.7v4.3h-3.7zM105.1 390.6h3.7v4.3h-3.7zM130.4 390.6h3.7v4.3h-3.7zM228.2 390.6h3.7v4.3h-3.7zM72.5 386.3h3.7v4.3h-3.7zM79.8 386.3h3.7v4.3h-3.7zM105.1 386.3h3.7v4.3h-3.7zM123.2 386.3h3.7v4.3h-3.7zM155.8 386.3h3.7v4.3h-3.7zM141.3 382.1h3.7v4.3h-3.7zM224.5 382.1h3.7v4.3h-3.7zM72.5 377.9h3.7v4.3h-3.7zM94.3 377.9h3.7v4.3h-3.7zM97.9 377.9h3.7v4.3h-3.7zM101.5 377.9h3.7v4.3h-3.7zM101.5 373.7h3.7v4.3h-3.7zM123.2 373.7h3.7v4.3h-3.7zM97.9 369.5h3.7v4.3h-3.7zM101.5 369.5h3.7v4.3h-3.7zM134.1 369.5h3.7v4.3h-3.7zM141.3 369.5h3.7v4.3h-3.7zM68.9 365.3h3.7v4.3h-3.7zM97.9 365.3h3.7v4.3h-3.7zM123.2 365.3h3.7v4.3h-3.7zM72.5 361.1h3.7v4.3h-3.7zM87.0 361.1h3.7v4.3h-3.7zM116.0 361.1h3.7v4.3h-3.7zM130.4 361.1h3.7v4.3h-3.7zM144.9 361.1h3.7v4.3h-3.7zM72.5 356.9h3.7v4.3h-3.7zM119.6 356.9h3.7v4.3h-3.7zM134.1 356.9h3.7v4.3h-3.7zM144.9 356.9h3.7v4.3h-3.7zM159.4 356.9h3.7v4.3h-3.7zM192.0 356.9h3.7v4.3h-3.7zM210.1 356.9h3.7v4.3h-3.7zM94.3 352.7h3.7v4.3h-3.7zM101.5 352.7h3.7v4.3h-3.7zM141.3 352.7h3.7v4.3h-3.7zM68.9 348.5h3.7v4.3h-3.7zM119.6 348.5h3.7v4.3h-3.7zM94.3 344.3h3.7v4.3h-3.7zM108.7 344.3h3.7v4.3h-3.7zM126.8 344.3h3.7v4.3h-3.7zM141.3 344.3h3.7v4.3h-3.7zM144.9 344.3h3.7v4.3h-3.7zM173.9 344.3h3.7v4.3h-3.7zM195.6 344.3h3.7v4.3h-3.7zM72.5 340.1h3.7v4.3h-3.7zM79.8 340.1h3.7v4.3h-3.7zM87.0 340.1h3.7v4.3h-3.7zM94.3 340.1h3.7v4.3h-3.7zM134.1 340.1h3.7v4.3h-3.7zM166.6 340.1h3.7v4.3h-3.7zM184.7 340.1h3.7v4.3h-3.7zM90.6 335.9h3.7v4.3h-3.7zM108.7 335.9h3.7v4.3h-3.7zM123.2 335.9h3.7v4.3h-3.7zM170.3 335.9h3.7v4.3h-3.7zM87.0 331.7h3.7v4.3h-3.7zM94.3 331.7h3.7v4.3h-3.7zM105.1 331.7h3.7v4.3h-3.7zM108.7 331.7h3.7v4.3h-3.7zM166.6 331.7h3.7v4.3h-3.7zM195.6 331.7h3.7v4.3h-3.7zM65.3 327.5h3.7v4.3h-3.7zM68.9 327.5h3.7v4.3h-3.7zM87.0 327.5h3.7v4.3h-3.7zM94.3 327.5h3.7v4.3h-3.7zM105.1 327.5h3.7v4.3h-3.7zM123.2 327.5h3.7v4.3h-3.7zM130.4 327.5h3.7v4.3h-3.7zM166.6 327.5h3.7v4.3h-3.7zM173.9 327.5h3.7v4.3h-3.7zM177.5 327.5h3.7v4.3h-3.7zM181.1 327.5h3.7v4.3h-3.7zM224.5 327.5h3.7v4.3h-3.7zM68.9 323.3h3.7v4.3h-3.7zM94.3 323.3h3.7v4.3h-3.7zM123.2 323.3h3.7v4.3h-3.7zM159.4 323.3h3.7v4.3h-3.7zM192.0 323.3h3.7v4.3h-3.7zM195.6 323.3h3.7v4.3h-3.7zM217.3 323.3h3.7v4.3h-3.7zM228.2 323.3h3.7v4.3h-3.7zM72.5 319.1h3.7v4.3h-3.7zM79.8 319.1h3.7v4.3h-3.7zM126.8 319.1h3.7v4.3h-3.7zM192.0 319.1h3.7v4.3h-3.7zM195.6 319.1h3.7v4.3h-3.7zM65.3 314.9h3.7v4.3h-3.7zM90.6 314.9h3.7v4.3h-3.7zM94.3 314.9h3.7v4.3h-3.7zM123.2 314.9h3.7v4.3h-3.7zM130.4 314.9h3.7v4.3h-3.7zM173.9 314.9h3.7v4.3h-3.7zM181.1 314.9h3.7v4.3h-3.7zM210.1 314.9h3.7v4.3h-3.7zM224.5 314.9h3.7v4.3h-3.7zM72.5 310.7h3.7v4.3h-3.7zM94.3 310.7h3.7v4.3h-3.7zM130.4 310.7h3.7v4.3h-3.7zM141.3 310.7h3.7v4.3h-3.7zM148.5 310.7h3.7v4.3h-3.7zM155.8 310.7h3.7v4.3h-3.7zM192.0 310.7h3.7v4.3h-3.7zM228.2 310.7h3.7v4.3h-3.7zM65.3 306.5h3.7v4.3h-3.7zM68.9 306.5h3.7v4.3h-3.7zM90.6 306.5h3.7v4.3h-3.7zM112.3 306.5h3.7v4.3h-3.7zM141.3 306.5h3.7v4.3h-3.7zM220.9 306.5h3.7v4.3h-3.7zM231.8 306.5h3.7v4.3h-3.7zM79.8 302.3h3.7v4.3h-3.7zM144.9 302.3h3.7v4.3h-3.7zM163.0 302.3h3.7v4.3h-3.7zM166.6 302.3h3.7v4.3h-3.7zM181.1 302.3h3.7v4.3h-3.7zM184.7 302.3h3.7v4.3h-3.7zM192.0 302.3h3.7v4.3h-3.7zM195.6 302.3h3.7v4.3h-3.7zM217.3 302.3h3.7v4.3h-3.7zM220.9 302.3h3.7v4.3h-3.7zM79.8 298.1h3.7v4.3h-3.7zM101.5 298.1h3.7v4.3h-3.7zM108.7 298.1h3.7v4.3h-3.7zM155.8 298.1h3.7v4.3h-3.7zM173.9 298.1h3.7v4.3h-3.7zM192.0 298.1h3.7v4.3h-3.7zM210.1 298.1h3.7v4.3h-3.7zM217.3 298.1h3.7v4.3h-3.7zM228.2 298.1h3.7v4.3h-3.7zM112.3 293.9h3.7v4.3h-3.7zM123.2 293.9h3.7v4.3h-3.7zM126.8 293.9h3.7v4.3h-3.7zM166.6 293.9h3.7v4.3h-3.7zM224.5 293.9h3.7v4.3h-3.7zM231.8 293.9h3.7v4.3h-3.7zM68.9 289.6h3.7v4.3h-3.7zM72.5 289.6h3.7v4.3h-3.7zM94.3 289.6h3.7v4.3h-3.7zM101.5 289.6h3.7v4.3h-3.7zM123.2 289.6h3.7v4.3h-3.7zM130.4 289.6h3.7v4.3h-3.7zM134.1 289.6h3.7v4.3h-3.7zM141.3 289.6h3.7v4.3h-3.7zM159.4 289.6h3.7v4.3h-3.7zM166.6 289.6h3.7v4.3h-3.7zM192.0 289.6h3.7v4.3h-3.7zM210.1 289.6h3.7v4.3h-3.7zM72.5 285.4h3.7v4.3h-3.7zM108.7 285.4h3.7v4.3h-3.7zM112.3 285.4h3.7v4.3h-3.7zM126.8 285.4h3.7v4.3h-3.7zM141.3 285.4h3.7v4.3h-3.7zM166.6 285.4h3.7v4.3h-3.7zM170.3 285.4h3.7v4.3h-3.7zM217.3 285.4h3.7v4.3h-3.7zM228.2 285.4h3.7v4.3h-3.7zM76.2 281.2h3.7v4.3h-3.7zM123.2 281.2h3.7v4.3h-3.7zM126.8 281.2h3.7v4.3h-3.7zM163.0 281.2h3.7v4.3h-3.7zM184.7 281.2h3.7v4.3h-3.7zM220.9 281.2h3.7v4.3h-3.7zM72.5 277.0h3.7v4.3h-3.7zM119.6 277.0h3.7v4.3h-3.7zM134.1 277.0h3.7v4.3h-3.7zM159.4 277.0h3.7v4.3h-3.7zM184.7 277.0h3.7v4.3h-3.7zM224.5 277.0h3.7v4.3h-3.7zM231.8 277.0h3.7v4.3h-3.7zM87.0 272.8h3.7v4.3h-3.7zM94.3 272.8h3.7v4.3h-3.7zM105.1 272.8h3.7v4.3h-3.7zM163.0 272.8h3.7v4.3h-3.7zM166.6 272.8h3.7v4.3h-3.7zM192.0 272.8h3.7v4.3h-3.7zM72.5 268.6h3.7v4.3h-3.7zM134.1 268.6h3.7v4.3h-3.7zM159.4 268.6h3.7v4.3h-3.7zM68.9 264.4h3.7v4.3h-3.7zM79.8 264.4h3.7v4.3h-3.7zM94.3 264.4h3.7v4.3h-3.7zM97.9 264.4h3.7v4.3h-3.7zM101.5 264.4h3.7v4.3h-3.7zM105.1 264.4h3.7v4.3h-3.7zM130.4 264.4h3.7v4.3h-3.7zM141.3 264.4h3.7v4.3h-3.7zM188.4 264.4h3.7v4.3h-3.7zM192.0 264.4h3.7v4.3h-3.7zM108.7 260.2h3.7v4.3h-3.7zM148.5 260.2h3.7v4.3h-3.7zM173.9 260.2h3.7v4.3h-3.7zM181.1 260.2h3.7v4.3h-3.7zM217.3 260.2h3.7v4.3h-3.7zM220.9 260.2h3.7v4.3h-3.7zM76.2 256.0h3.7v4.3h-3.7zM90.6 256.0h3.7v4.3h-3.7zM170.3 256.0h3.7v4.3h-3.7zM202.8 256.0h3.7v4.3h-3.7zM72.5 251.8h3.7v4.3h-3.7zM90.6 251.8h3.7v4.3h-3.7zM119.6 251.8h3.7v4.3h-3.7zM130.4 251.8h3.7v4.3h-3.7zM148.5 251.8h3.7v4.3h-3.7zM155.8 251.8h3.7v4.3h-3.7zM170.3 251.8h3.7v4.3h-3.7zM184.7 251.8h3.7v4.3h-3.7zM195.6 251.8h3.7v4.3h-3.7zM202.8 251.8h3.7v4.3h-3.7zM87.0 247.6h3.7v4.3h-3.7zM90.6 247.6h3.7v4.3h-3.7zM97.9 247.6h3.7v4.3h-3.7zM148.5 247.6h3.7v4.3h-3.7zM159.4 247.6h3.7v4.3h-3.7zM166.6 247.6h3.7v4.3h-3.7zM173.9 247.6h3.7v4.3h-3.7zM195.6 247.6h3.7v4.3h-3.7zM130.4 243.4h3.7v4.3h-3.7zM159.4 243.4h3.7v4.3h-3.7zM166.6 243.4h3.7v4.3h-3.7zM202.8 243.4h3.7v4.3h-3.7zM116.0 239.2h3.7v4.3h-3.7zM126.8 239.2h3.7v4.3h-3.7zM144.9 239.2h3.7v4.3h-3.7zM159.4 239.2h3.7v4.3h-3.7zM170.3 239.2h3.7v4.3h-3.7zM217.3 239.2h3.7v4.3h-3.7z"/>
<path fill="#fff9f8" d="M87.0 436.8h3.7v4.3h-3.7zM101.5 436.8h3.7v4.3h-3.7zM119.6 436.8h3.7v4.3h-3.7zM141.3 436.8h3.7v4.3h-3.7zM152.2 436.8h3.7v4.3h-3.7zM163.0 436.8h3.7v4.3h-3.7zM188.4 436.8h3.7v4.3h-3.7zM195.6 436.8h3.7v4.3h-3.7zM220.9 436.8h3.7v4.3h-3.7zM228.2 436.8h3.7v4.3h-3.7zM101.5 432.6h3.7v4.3h-3.7zM152.2 432.6h3.7v4.3h-3.7zM163.0 432.6h3.7v4.3h-3.7zM181.1 432.6h3.7v4.3h-3.7zM105.1 420.0h3.7v4.3h-3.7zM112.3 420.0h3.7v4.3h-3.7zM116.0 420.0h3.7v4.3h-3.7zM137.7 420.0h3.7v4.3h-3.7zM134.1 411.6h3.7v4.3h-3.7zM144.9 411.6h3.7v4.3h-3.7zM213.7 386.3h3.7v4.3h-3.7zM108.7 377.9h3.7v4.3h-3.7zM116.0 377.9h3.7v4.3h-3.7zM126.8 377.9h3.7v4.3h-3.7zM177.5 377.9h3.7v4.3h-3.7zM94.3 373.7h3.7v4.3h-3.7zM202.8 373.7h3.7v4.3h-3.7zM87.0 369.5h3.7v4.3h-3.7zM195.6 369.5h3.7v4.3h-3.7zM126.8 365.3h3.7v4.3h-3.7zM90.6 344.3h3.7v4.3h-3.7zM108.7 340.1h3.7v4.3h-3.7zM228.2 331.7h3.7v4.3h-3.7zM177.5 323.3h3.7v4.3h-3.7zM76.2 319.1h3.7v4.3h-3.7zM112.3 319.1h3.7v4.3h-3.7zM144.9 319.1h3.7v4.3h-3.7zM228.2 319.1h3.7v4.3h-3.7zM108.7 314.9h3.7v4.3h-3.7zM155.8 314.9h3.7v4.3h-3.7zM159.4 314.9h3.7v4.3h-3.7zM184.7 314.9h3.7v4.3h-3.7zM159.4 310.7h3.7v4.3h-3.7zM184.7 310.7h3.7v4.3h-3.7zM94.3 306.5h3.7v4.3h-3.7zM148.5 306.5h3.7v4.3h-3.7zM90.6 302.3h3.7v4.3h-3.7zM119.6 302.3h3.7v4.3h-3.7zM112.3 298.1h3.7v4.3h-3.7zM170.3 298.1h3.7v4.3h-3.7zM108.7 293.9h3.7v4.3h-3.7zM87.0 289.6h3.7v4.3h-3.7zM112.3 289.6h3.7v4.3h-3.7zM152.2 289.6h3.7v4.3h-3.7zM202.8 289.6h3.7v4.3h-3.7zM155.8 285.4h3.7v4.3h-3.7zM137.7 277.0h3.7v4.3h-3.7zM173.9 272.8h3.7v4.3h-3.7zM155.8 268.6h3.7v4.3h-3.7zM210.1 268.6h3.7v4.3h-3.7zM217.3 268.6h3.7v4.3h-3.7zM87.0 264.4h3.7v4.3h-3.7zM90.6 264.4h3.7v4.3h-3.7zM134.1 256.0h3.7v4.3h-3.7zM170.3 247.6h3.7v4.3h-3.7zM177.5 239.2h3.7v4.3h-3.7zM184.7 239.2h3.7v4.3h-3.7z"/>
<path fill="#f3edfe" d="M108.7 436.8h3.7v4.3h-3.7zM144.9 436.8h3.7v4.3h-3.7zM181.1 436.8h3.7v4.3h-3.7zM213.7 432.6h3.7v4.3h-3.7zM177.5 428.4h3.7v4.3h-3.7zM188.4 428.4h3.7v4.3h-3.7zM206.4 428.4h3.7v4.3h-3.7zM220.9 428.4h3.7v4.3h-3.7zM210.1 420.0h3.7v4.3h-3.7zM148.5 415.8h3.7v4.3h-3.7zM152.2 415.8h3.7v4.3h-3.7zM170.3 415.8h3.7v4.3h-3.7zM181.1 415.8h3.7v4.3h-3.7zM199.2 415.8h3.7v4.3h-3.7zM210.1 415.8h3.7v4.3h-3.7zM228.2 415.8h3.7v4.3h-3.7zM231.8 415.8h3.7v4.3h-3.7zM65.3 411.6h3.7v4.3h-3.7zM90.6 411.6h3.7v4.3h-3.7zM105.1 411.6h3.7v4.3h-3.7zM148.5 411.6h3.7v4.3h-3.7zM155.8 411.6h3.7v4.3h-3.7zM163.0 411.6h3.7v4.3h-3.7zM170.3 411.6h3.7v4.3h-3.7zM195.6 411.6h3.7v4.3h-3.7zM217.3 411.6h3.7v4.3h-3.7zM224.5 411.6h3.7v4.3h-3.7zM228.2 411.6h3.7v4.3h-3.7zM231.8 411.6h3.7v4.3h-3.7zM65.3 407.4h3.7v4.3h-3.7zM97.9 407.4h3.7v4.3h-3.7zM130.4 407.4h3.7v4.3h-3.7zM148.5 407.4h3.7v4.3h-3.7zM173.9 407.4h3.7v4.3h-3.7zM181.1 407.4h3.7v4.3h-3.7zM195.6 407.4h3.7v4.3h-3.7zM213.7 407.4h3.7v4.3h-3.7zM217.3 407.4h3.7v4.3h-3.7zM97.9 403.2h3.7v4.3h-3.7zM101.5 403.2h3.7v4.3h-3.7zM126.8 403.2h3.7v4.3h-3.7zM155.8 403.2h3.7v4.3h-3.7zM159.4 403.2h3.7v4.3h-3.7zM163.0 403.2h3.7v4.3h-3.7zM173.9 403.2h3.7v4.3h-3.7zM181.1 403.2h3.7v4.3h-3.7zM217.3 403.2h3.7v4.3h-3.7zM105.1 399.0h3.7v4.3h-3.7zM108.7 399.0h3.7v4.3h-3.7zM141.3 399.0h3.7v4.3h-3.7zM152.2 399.0h3.7v4.3h-3.7zM159.4 399.0h3.7v4.3h-3.7zM184.7 399.0h3.7v4.3h-3.7zM210.1 399.0h3.7v4.3h-3.7zM220.9 399.0h3.7v4.3h-3.7zM83.4 394.8h3.7v4.3h-3.7zM116.0 394.8h3.7v4.3h-3.7zM141.3 394.8h3.7v4.3h-3.7zM155.8 394.8h3.7v4.3h-3.7zM163.0 394.8h3.7v4.3h-3.7zM166.6 394.8h3.7v4.3h-3.7zM188.4 394.8h3.7v4.3h-3.7zM195.6 394.8h3.7v4.3h-3.7zM206.4 394.8h3.7v4.3h-3.7zM217.3 394.8h3.7v4.3h-3.7zM224.5 394.8h3.7v4.3h-3.7zM68.9 390.6h3.7v4.3h-3.7zM83.4 390.6h3.7v4.3h-3.7zM119.6 390.6h3.7v4.3h-3.7zM137.7 390.6h3.7v4.3h-3.7zM141.3 390.6h3.7v4.3h-3.7zM148.5 390.6h3.7v4.3h-3.7zM184.7 390.6h3.7v4.3h-3.7zM220.9 390.6h3.7v4.3h-3.7zM231.8 390.6h3.7v4.3h-3.7zM68.9 386.3h3.7v4.3h-3.7zM76.2 386.3h3.7v4.3h-3.7zM83.4 386.3h3.7v4.3h-3.7zM90.6 386.3h3.7v4.3h-3.7zM112.3 386.3h3.7v4.3h-3.7zM130.4 386.3h3.7v4.3h-3.7zM159.4 386.3h3.7v4.3h-3.7zM195.6 386.3h3.7v4.3h-3.7zM228.2 386.3h3.7v4.3h-3.7zM231.8 386.3h3.7v4.3h-3.7zM108.7 382.1h3.7v4.3h-3.7zM173.9 382.1h3.7v4.3h-3.7zM192.0 382.1h3.7v4.3h-3.7zM217.3 382.1h3.7v4.3h-3.7zM228.2 382.1h3.7v4.3h-3.7zM231.8 382.1h3.7v4.3h-3.7zM130.4 377.9h3.7v4.3h-3.7zM141.3 377.9h3.7v4.3h-3.7zM155.8 377.9h3.7v4.3h-3.7zM163.0 377.9h3.7v4.3h-3.7zM166.6 377.9h3.7v4.3h-3.7zM170.3 377.9h3.7v4.3h-3.7zM184.7 377.9h3.7v4.3h-3.7zM188.4 377.9h3.7v4.3h-3.7zM192.0 377.9h3.7v4.3h-3.7zM206.4 377.9h3.7v4.3h-3.7zM68.9 373.7h3.7v4.3h-3.7zM72.5 373.7h3.7v4.3h-3.7zM76.2 373.7h3.7v4.3h-3.7zM116.0 373.7h3.7v4.3h-3.7zM130.4 373.7h3.7v4.3h-3.7zM155.8 373.7h3.7v4.3h-3.7zM170.3 373.7h3.7v4.3h-3.7zM181.1 373.7h3.7v4.3h-3.7zM195.6 373.7h3.7v4.3h-3.7zM231.8 373.7h3.7v4.3h-3.7zM65.3 369.5h3.7v4.3h-3.7zM105.1 369.5h3.7v4.3h-3.7zM108.7 369.5h3.7v4.3h-3.7zM130.4 369.5h3.7v4.3h-3.7zM148.5 369.5h3.7v4.3h-3.7zM163.0 369.5h3.7v4.3h-3.7zM173.9 369.5h3.7v4.3h-3.7zM177.5 369.5h3.7v4.3h-3.7zM65.3 365.3h3.7v4.3h-3.7zM105.1 365.3h3.7v4.3h-3.7zM112.3 365.3h3.7v4.3h-3.7zM141.3 365.3h3.7v4.3h-3.7zM163.0 365.3h3.7v4.3h-3.7zM166.6 365.3h3.7v4.3h-3.7zM170.3 365.3h3.7v4.3h-3.7zM173.9 365.3h3.7v4.3h-3.7zM184.7 365.3h3.7v4.3h-3.7zM188.4 365.3h3.7v4.3h-3.7zM192.0 365.3h3.7v4.3h-3.7zM195.6 365.3h3.7v4.3h-3.7zM217.3 365.3h3.7v4.3h-3.7zM231.8 365.3h3.7v4.3h-3.7zM65.3 361.1h3.7v4.3h-3.7zM141.3 361.1h3.7v4.3h-3.7zM155.8 361.1h3.7v4.3h-3.7zM181.1 361.1h3.7v4.3h-3.7zM202.8 361.1h3.7v4.3h-3.7zM217.3 361.1h3.7v4.3h-3.7zM220.9 361.1h3.7v4.3h-3.7zM228.2 361.1h3.7v4.3h-3.7zM137.7 356.9h3.7v4.3h-3.7zM163.0 356.9h3.7v4.3h-3.7zM166.6 356.9h3.7v4.3h-3.7zM173.9 356.9h3.7v4.3h-3.7zM177.5 356.9h3.7v4.3h-3.7zM206.4 356.9h3.7v4.3h-3.7zM220.9 356.9h3.7v4.3h-3.7zM65.3 352.7h3.7v4.3h-3.7zM97.9 352.7h3.7v4.3h-3.7zM144.9 352.7h3.7v4.3h-3.7zM159.4 352.7h3.7v4.3h-3.7zM184.7 352.7h3.7v4.3h-3.7zM224.5 352.7h3.7v4.3h-3.7zM76.2 348.5h3.7v4.3h-3.7zM94.3 348.5h3.7v4.3h-3.7zM148.5 348.5h3.7v4.3h-3.7zM177.5 348.5h3.7v4.3h-3.7zM188.4 348.5h3.7v4.3h-3.7zM76.2 344.3h3.7v4.3h-3.7zM79.8 344.3h3.7v4.3h-3.7zM166.6 344.3h3.7v4.3h-3.7zM177.5 344.3h3.7v4.3h-3.7zM76.2 340.1h3.7v4.3h-3.7zM83.4 340.1h3.7v4.3h-3.7zM119.6 340.1h3.7v4.3h-3.7zM126.8 340.1h3.7v4.3h-3.7zM130.4 340.1h3.7v4.3h-3.7zM155.8 340.1h3.7v4.3h-3.7zM177.5 340.1h3.7v4.3h-3.7zM181.1 340.1h3.7v4.3h-3.7zM202.8 340.1h3.7v4.3h-3.7zM217.3 340.1h3.7v4.3h-3.7zM231.8 340.1h3.7v4.3h-3.7zM65.3 335.9h3.7v4.3h-3.7zM101.5 335.9h3.7v4.3h-3.7zM137.7 335.9h3.7v4.3h-3.7zM141.3 335.9h3.7v4.3h-3.7zM163.0 335.9h3.7v4.3h-3.7zM181.1 335.9h3.7v4.3h-3.7zM210.1 335.9h3.7v4.3h-3.7zM217.3 335.9h3.7v4.3h-3.7zM231.8 335.9h3.7v4.3h-3.7zM65.3 331.7h3.7v4.3h-3.7zM68.9 331.7h3.7v4.3h-3.7zM97.9 331.7h3.7v4.3h-3.7zM112.3 331.7h3.7v4.3h-3.7zM141.3 331.7h3.7v4.3h-3.7zM181.1 331.7h3.7v4.3h-3.7zM206.4 331.7h3.7v4.3h-3.7zM213.7 331.7h3.7v4.3h-3.7zM90.6 327.5h3.7v4.3h-3.7zM119.6 327.5h3.7v4.3h-3.7zM170.3 327.5h3.7v4.3h-3.7zM188.4 327.5h3.7v4.3h-3.7zM213.7 327.5h3.7v4.3h-3.7zM228.2 327.5h3.7v4.3h-3.7zM76.2 323.3h3.7v4.3h-3.7zM83.4 323.3h3.7v4.3h-3.7zM105.1 323.3h3.7v4.3h-3.7zM108.7 323.3h3.7v4.3h-3.7zM130.4 323.3h3.7v4.3h-3.7zM188.4 323.3h3.7v4.3h-3.7zM199.2 323.3h3.7v4.3h-3.7zM206.4 323.3h3.7v4.3h-3.7zM224.5 323.3h3.7v4.3h-3.7zM105.1 319.1h3.7v4.3h-3.7zM116.0 319.1h3.7v4.3h-3.7zM148.5 319.1h3.7v4.3h-3.7zM170.3 319.1h3.7v4.3h-3.7zM173.9 319.1h3.7v4.3h-3.7zM202.8 319.1h3.7v4.3h-3.7zM206.4 319.1h3.7v4.3h-3.7zM68.9 314.9h3.7v4.3h-3.7zM76.2 314.9h3.7v4.3h-3.7zM152.2 314.9h3.7v4.3h-3.7zM188.4 314.9h3.7v4.3h-3.7zM68.9 310.7h3.7v4.3h-3.7zM97.9 310.7h3.7v4.3h-3.7zM181.1 310.7h3.7v4.3h-3.7zM202.8 310.7h3.7v4.3h-3.7zM126.8 306.5h3.7v4.3h-3.7zM152.2 306.5h3.7v4.3h-3.7zM217.3 306.5h3.7v4.3h-3.7zM76.2 302.3h3.7v4.3h-3.7zM105.1 302.3h3.7v4.3h-3.7zM137.7 302.3h3.7v4.3h-3.7zM206.4 302.3h3.7v4.3h-3.7zM68.9 298.1h3.7v4.3h-3.7zM137.7 298.1h3.7v4.3h-3.7zM184.7 298.1h3.7v4.3h-3.7zM188.4 298.1h3.7v4.3h-3.7zM206.4 298.1h3.7v4.3h-3.7zM65.3 293.9h3.7v4.3h-3.7zM76.2 293.9h3.7v4.3h-3.7zM94.3 293.9h3.7v4.3h-3.7zM116.0 293.9h3.7v4.3h-3.7zM130.4 293.9h3.7v4.3h-3.7zM137.7 293.9h3.7v4.3h-3.7zM152.2 293.9h3.7v4.3h-3.7zM170.3 293.9h3.7v4.3h-3.7zM173.9 293.9h3.7v4.3h-3.7zM213.7 293.9h3.7v4.3h-3.7zM76.2 289.6h3.7v4.3h-3.7zM83.4 289.6h3.7v4.3h-3.7zM108.7 289.6h3.7v4.3h-3.7zM116.0 289.6h3.7v4.3h-3.7zM137.7 289.6h3.7v4.3h-3.7zM177.5 289.6h3.7v4.3h-3.7zM195.6 289.6h3.7v4.3h-3.7zM65.3 285.4h3.7v4.3h-3.7zM83.4 285.4h3.7v4.3h-3.7zM101.5 285.4h3.7v4.3h-3.7zM163.0 285.4h3.7v4.3h-3.7zM202.8 285.4h3.7v4.3h-3.7zM213.7 285.4h3.7v4.3h-3.7zM231.8 285.4h3.7v4.3h-3.7zM97.9 281.2h3.7v4.3h-3.7zM101.5 281.2h3.7v4.3h-3.7zM112.3 281.2h3.7v4.3h-3.7zM116.0 281.2h3.7v4.3h-3.7zM119.6 281.2h3.7v4.3h-3.7zM155.8 281.2h3.7v4.3h-3.7zM173.9 281.2h3.7v4.3h-3.7zM188.4 281.2h3.7v4.3h-3.7zM76.2 277.0h3.7v4.3h-3.7zM79.8 277.0h3.7v4.3h-3.7zM90.6 277.0h3.7v4.3h-3.7zM116.0 277.0h3.7v4.3h-3.7zM181.1 277.0h3.7v4.3h-3.7zM188.4 277.0h3.7v4.3h-3.7zM206.4 277.0h3.7v4.3h-3.7zM220.9 277.0h3.7v4.3h-3.7zM76.2 272.8h3.7v4.3h-3.7zM108.7 272.8h3.7v4.3h-3.7zM116.0 272.8h3.7v4.3h-3.7zM119.6 272.8h3.7v4.3h-3.7zM199.2 272.8h3.7v4.3h-3.7zM65.3 268.6h3.7v4.3h-3.7zM83.4 268.6h3.7v4.3h-3.7zM108.7 268.6h3.7v4.3h-3.7zM126.8 268.6h3.7v4.3h-3.7zM195.6 268.6h3.7v4.3h-3.7zM134.1 264.4h3.7v4.3h-3.7zM152.2 264.4h3.7v4.3h-3.7zM206.4 264.4h3.7v4.3h-3.7zM94.3 260.2h3.7v4.3h-3.7zM144.9 260.2h3.7v4.3h-3.7zM152.2 260.2h3.7v4.3h-3.7zM159.4 260.2h3.7v4.3h-3.7zM206.4 260.2h3.7v4.3h-3.7zM224.5 260.2h3.7v4.3h-3.7zM105.1 256.0h3.7v4.3h-3.7zM116.0 256.0h3.7v4.3h-3.7zM119.6 256.0h3.7v4.3h-3.7zM137.7 256.0h3.7v4.3h-3.7zM116.0 251.8h3.7v4.3h-3.7zM206.4 251.8h3.7v4.3h-3.7zM112.3 247.6h3.7v4.3h-3.7zM130.4 247.6h3.7v4.3h-3.7zM184.7 247.6h3.7v4.3h-3.7zM206.4 247.6h3.7v4.3h-3.7zM90.6 243.4h3.7v4.3h-3.7zM126.8 243.4h3.7v4.3h-3.7zM148.5 243.4h3.7v4.3h-3.7zM173.9 243.4h3.7v4.3h-3.7zM79.8 239.2h3.7v4.3h-3.7zM94.3 239.2h3.7v4.3h-3.7zM101.5 239.2h3.7v4.3h-3.7zM163.0 239.2h3.7v4.3h-3.7zM199.2 239.2h3.7v4.3h-3.7zM206.4 239.2h3.7v4.3h-3.7z"/>
<path fill="#ffffff" d="M116.0 436.8h3.7v4.3h-3.7zM123.2 436.8h3.7v4.3h-3.7zM173.9 436.8h3.7v4.3h-3.7zM192.0 432.6h3.7v4.3h-3.7zM195.6 432.6h3.7v4.3h-3.7zM155.8 428.4h3.7v4.3h-3.7zM170.3 428.4h3.7v4.3h-3.7zM224.5 428.4h3.7v4.3h-3.7zM231.8 420.0h3.7v4.3h-3.7zM76.2 415.8h3.7v4.3h-3.7zM83.4 415.8h3.7v4.3h-3.7zM123.2 415.8h3.7v4.3h-3.7zM79.8 403.2h3.7v4.3h-3.7zM87.0 403.2h3.7v4.3h-3.7zM94.3 403.2h3.7v4.3h-3.7zM199.2 403.2h3.7v4.3h-3.7zM148.5 399.0h3.7v4.3h-3.7zM126.8 394.8h3.7v4.3h-3.7zM134.1 394.8h3.7v4.3h-3.7zM90.6 390.6h3.7v4.3h-3.7zM144.9 390.6h3.7v4.3h-3.7zM101.5 386.3h3.7v4.3h-3.7zM126.8 386.3h3.7v4.3h-3.7zM134.1 386.3h3.7v4.3h-3.7zM119.6 373.7h3.7v4.3h-3.7zM228.2 373.7h3.7v4.3h-3.7zM144.9 369.5h3.7v4.3h-3.7zM159.4 369.5h3.7v4.3h-3.7zM79.8 365.3h3.7v4.3h-3.7zM87.0 365.3h3.7v4.3h-3.7zM101.5 365.3h3.7v4.3h-3.7zM134.1 365.3h3.7v4.3h-3.7zM94.3 361.1h3.7v4.3h-3.7zM97.9 361.1h3.7v4.3h-3.7zM119.6 361.1h3.7v4.3h-3.7zM126.8 361.1h3.7v4.3h-3.7zM101.5 356.9h3.7v4.3h-3.7zM87.0 348.5h3.7v4.3h-3.7zM105.1 348.5h3.7v4.3h-3.7zM108.7 348.5h3.7v4.3h-3.7zM224.5 348.5h3.7v4.3h-3.7zM72.5 344.3h3.7v4.3h-3.7zM87.0 344.3h3.7v4.3h-3.7zM192.0 344.3h3.7v4.3h-3.7zM90.6 340.1h3.7v4.3h-3.7zM97.9 335.9h3.7v4.3h-3.7zM134.1 335.9h3.7v4.3h-3.7zM123.2 331.7h3.7v4.3h-3.7zM159.4 331.7h3.7v4.3h-3.7zM177.5 331.7h3.7v4.3h-3.7zM224.5 331.7h3.7v4.3h-3.7zM79.8 327.5h3.7v4.3h-3.7zM101.5 327.5h3.7v4.3h-3.7zM210.1 327.5h3.7v4.3h-3.7zM65.3 323.3h3.7v4.3h-3.7zM72.5 323.3h3.7v4.3h-3.7zM202.8 323.3h3.7v4.3h-3.7zM101.5 319.1h3.7v4.3h-3.7zM184.7 319.1h3.7v4.3h-3.7zM231.8 319.1h3.7v4.3h-3.7zM192.0 314.9h3.7v4.3h-3.7zM228.2 314.9h3.7v4.3h-3.7zM87.0 310.7h3.7v4.3h-3.7zM90.6 310.7h3.7v4.3h-3.7zM101.5 310.7h3.7v4.3h-3.7zM123.2 310.7h3.7v4.3h-3.7zM177.5 310.7h3.7v4.3h-3.7zM188.4 310.7h3.7v4.3h-3.7zM101.5 306.5h3.7v4.3h-3.7zM123.2 306.5h3.7v4.3h-3.7zM159.4 306.5h3.7v4.3h-3.7zM195.6 306.5h3.7v4.3h-3.7zM224.5 306.5h3.7v4.3h-3.7zM126.8 302.3h3.7v4.3h-3.7zM130.4 302.3h3.7v4.3h-3.7zM148.5 302.3h3.7v4.3h-3.7zM170.3 302.3h3.7v4.3h-3.7zM210.1 302.3h3.7v4.3h-3.7zM213.7 302.3h3.7v4.3h-3.7zM224.5 302.3h3.7v4.3h-3.7zM65.3 298.1h3.7v4.3h-3.7zM141.3 298.1h3.7v4.3h-3.7zM220.9 298.1h3.7v4.3h-3.7zM224.5 298.1h3.7v4.3h-3.7zM72.5 293.9h3.7v4.3h-3.7zM79.8 293.9h3.7v4.3h-3.7zM90.6 293.9h3.7v4.3h-3.7zM101.5 293.9h3.7v4.3h-3.7zM134.1 293.9h3.7v4.3h-3.7zM159.4 293.9h3.7v4.3h-3.7zM97.9 289.6h3.7v4.3h-3.7zM105.1 289.6h3.7v4.3h-3.7zM119.6 289.6h3.7v4.3h-3.7zM170.3 289.6h3.7v4.3h-3.7zM231.8 289.6h3.7v4.3h-3.7zM97.9 285.4h3.7v4.3h-3.7zM123.2 285.4h3.7v4.3h-3.7zM159.4 285.4h3.7v4.3h-3.7zM184.7 285.4h3.7v4.3h-3.7zM210.1 285.4h3.7v4.3h-3.7zM79.8 281.2h3.7v4.3h-3.7zM94.3 281.2h3.7v4.3h-3.7zM144.9 281.2h3.7v4.3h-3.7zM224.5 281.2h3.7v4.3h-3.7zM112.3 277.0h3.7v4.3h-3.7zM173.9 277.0h3.7v4.3h-3.7zM202.8 277.0h3.7v4.3h-3.7zM210.1 277.0h3.7v4.3h-3.7zM148.5 272.8h3.7v4.3h-3.7zM184.7 272.8h3.7v4.3h-3.7zM195.6 272.8h3.7v4.3h-3.7zM210.1 272.8h3.7v4.3h-3.7zM224.5 272.8h3.7v4.3h-3.7zM87.0 268.6h3.7v4.3h-3.7zM90.6 268.6h3.7v4.3h-3.7zM116.0 268.6h3.7v4.3h-3.7zM181.1 268.6h3.7v4.3h-3.7zM170.3 264.4h3.7v4.3h-3.7zM184.7 264.4h3.7v4.3h-3.7zM195.6 264.4h3.7v4.3h-3.7zM202.8 264.4h3.7v4.3h-3.7zM72.5 260.2h3.7v4.3h-3.7zM119.6 260.2h3.7v4.3h-3.7zM163.0 260.2h3.7v4.3h-3.7zM79.8 256.0h3.7v4.3h-3.7zM87.0 256.0h3.7v4.3h-3.7zM144.9 256.0h3.7v4.3h-3.7zM192.0 256.0h3.7v4.3h-3.7zM79.8 251.8h3.7v4.3h-3.7zM134.1 251.8h3.7v4.3h-3.7zM166.6 251.8h3.7v4.3h-3.7zM188.4 251.8h3.7v4.3h-3.7zM105.1 247.6h3.7v4.3h-3.7zM220.9 247.6h3.7v4.3h-3.7zM231.8 247.6h3.7v4.3h-3.7zM87.0 243.4h3.7v4.3h-3.7zM220.9 243.4h3.7v4.3h-3.7zM224.5 243.4h3.7v4.3h-3.7z"/>
<path fill="#f6f1fe" d="M130.4 436.8h3.7v4.3h-3.7zM170.3 436.8h3.7v4.3h-3.7zM184.7 436.8h3.7v4.3h-3.7zM192.0 436.8h3.7v4.3h-3.7zM202.8 436.8h3.7v4.3h-3.7zM206.4 436.8h3.7v4.3h-3.7zM210.1 436.8h3.7v4.3h-3.7zM213.7 436.8h3.7v4.3h-3.7zM217.3 436.8h3.7v4.3h-3.7zM87.0 432.6h3.7v4.3h-3.7zM108.7 432.6h3.7v4.3h-3.7zM155.8 432.6h3.7v4.3h-3.7zM173.9 432.6h3.7v4.3h-3.7zM220.9 432.6h3.7v4.3h-3.7zM163.0 428.4h3.7v4.3h-3.7zM199.2 428.4h3.7v4.3h-3.7zM202.8 428.4h3.7v4.3h-3.7zM148.5 424.2h3.7v4.3h-3.7zM163.0 424.2h3.7v4.3h-3.7zM184.7 424.2h3.7v4.3h-3.7zM159.4 420.0h3.7v4.3h-3.7zM166.6 420.0h3.7v4.3h-3.7zM173.9 420.0h3.7v4.3h-3.7zM192.0 420.0h3.7v4.3h-3.7zM199.2 420.0h3.7v4.3h-3.7zM155.8 415.8h3.7v4.3h-3.7zM159.4 415.8h3.7v4.3h-3.7zM163.0 415.8h3.7v4.3h-3.7zM217.3 415.8h3.7v4.3h-3.7zM83.4 411.6h3.7v4.3h-3.7zM108.7 411.6h3.7v4.3h-3.7zM116.0 411.6h3.7v4.3h-3.7zM130.4 411.6h3.7v4.3h-3.7zM173.9 411.6h3.7v4.3h-3.7zM184.7 411.6h3.7v4.3h-3.7zM210.1 411.6h3.7v4.3h-3.7zM144.9 407.4h3.7v4.3h-3.7zM177.5 407.4h3.7v4.3h-3.7zM184.7 407.4h3.7v4.3h-3.7zM220.9 407.4h3.7v4.3h-3.7zM228.2 407.4h3.7v4.3h-3.7zM65.3 403.2h3.7v4.3h-3.7zM105.1 403.2h3.7v4.3h-3.7zM108.7 403.2h3.7v4.3h-3.7zM112.3 403.2h3.7v4.3h-3.7zM116.0 403.2h3.7v4.3h-3.7zM119.6 403.2h3.7v4.3h-3.7zM137.7 403.2h3.7v4.3h-3.7zM166.6 403.2h3.7v4.3h-3.7zM170.3 403.2h3.7v4.3h-3.7zM188.4 403.2h3.7v4.3h-3.7zM202.8 403.2h3.7v4.3h-3.7zM224.5 403.2h3.7v4.3h-3.7zM68.9 399.0h3.7v4.3h-3.7zM90.6 399.0h3.7v4.3h-3.7zM94.3 399.0h3.7v4.3h-3.7zM97.9 399.0h3.7v4.3h-3.7zM116.0 399.0h3.7v4.3h-3.7zM126.8 399.0h3.7v4.3h-3.7zM144.9 399.0h3.7v4.3h-3.7zM163.0 399.0h3.7v4.3h-3.7zM166.6 399.0h3.7v4.3h-3.7zM170.3 399.0h3.7v4.3h-3.7zM173.9 399.0h3.7v4.3h-3.7zM195.6 399.0h3.7v4.3h-3.7zM228.2 399.0h3.7v4.3h-3.7zM105.1 394.8h3.7v4.3h-3.7zM112.3 394.8h3.7v4.3h-3.7zM159.4 394.8h3.7v4.3h-3.7zM170.3 394.8h3.7v4.3h-3.7zM177.5 394.8h3.7v4.3h-3.7zM181.1 394.8h3.7v4.3h-3.7zM184.7 394.8h3.7v4.3h-3.7zM192.0 394.8h3.7v4.3h-3.7zM123.2 390.6h3.7v4.3h-3.7zM134.1 390.6h3.7v4.3h-3.7zM155.8 390.6h3.7v4.3h-3.7zM163.0 390.6h3.7v4.3h-3.7zM192.0 390.6h3.7v4.3h-3.7zM195.6 390.6h3.7v4.3h-3.7zM210.1 390.6h3.7v4.3h-3.7zM217.3 390.6h3.7v4.3h-3.7zM65.3 386.3h3.7v4.3h-3.7zM94.3 386.3h3.7v4.3h-3.7zM116.0 386.3h3.7v4.3h-3.7zM119.6 386.3h3.7v4.3h-3.7zM144.9 386.3h3.7v4.3h-3.7zM177.5 386.3h3.7v4.3h-3.7zM210.1 386.3h3.7v4.3h-3.7zM220.9 386.3h3.7v4.3h-3.7zM224.5 386.3h3.7v4.3h-3.7zM65.3 382.1h3.7v4.3h-3.7zM72.5 382.1h3.7v4.3h-3.7zM97.9 382.1h3.7v4.3h-3.7zM105.1 382.1h3.7v4.3h-3.7zM126.8 382.1h3.7v4.3h-3.7zM155.8 382.1h3.7v4.3h-3.7zM170.3 382.1h3.7v4.3h-3.7zM220.9 382.1h3.7v4.3h-3.7zM68.9 377.9h3.7v4.3h-3.7zM83.4 377.9h3.7v4.3h-3.7zM87.0 377.9h3.7v4.3h-3.7zM134.1 377.9h3.7v4.3h-3.7zM159.4 377.9h3.7v4.3h-3.7zM195.6 377.9h3.7v4.3h-3.7zM217.3 377.9h3.7v4.3h-3.7zM220.9 377.9h3.7v4.3h-3.7zM224.5 377.9h3.7v4.3h-3.7zM231.8 377.9h3.7v4.3h-3.7zM65.3 373.7h3.7v4.3h-3.7zM79.8 373.7h3.7v4.3h-3.7zM97.9 373.7h3.7v4.3h-3.7zM105.1 373.7h3.7v4.3h-3.7zM108.7 373.7h3.7v4.3h-3.7zM159.4 373.7h3.7v4.3h-3.7zM166.6 373.7h3.7v4.3h-3.7zM210.1 373.7h3.7v4.3h-3.7zM220.9 373.7h3.7v4.3h-3.7zM224.5 373.7h3.7v4.3h-3.7zM68.9 369.5h3.7v4.3h-3.7zM79.8 369.5h3.7v4.3h-3.7zM90.6 369.5h3.7v4.3h-3.7zM112.3 369.5h3.7v4.3h-3.7zM119.6 369.5h3.7v4.3h-3.7zM170.3 369.5h3.7v4.3h-3.7zM202.8 369.5h3.7v4.3h-3.7zM210.1 369.5h3.7v4.3h-3.7zM224.5 369.5h3.7v4.3h-3.7zM76.2 365.3h3.7v4.3h-3.7zM83.4 365.3h3.7v4.3h-3.7zM108.7 365.3h3.7v4.3h-3.7zM144.9 365.3h3.7v4.3h-3.7zM181.1 365.3h3.7v4.3h-3.7zM228.2 365.3h3.7v4.3h-3.7zM68.9 361.1h3.7v4.3h-3.7zM83.4 361.1h3.7v4.3h-3.7zM101.5 361.1h3.7v4.3h-3.7zM163.0 361.1h3.7v4.3h-3.7zM166.6 361.1h3.7v4.3h-3.7zM170.3 361.1h3.7v4.3h-3.7zM173.9 361.1h3.7v4.3h-3.7zM184.7 361.1h3.7v4.3h-3.7zM192.0 361.1h3.7v4.3h-3.7zM224.5 361.1h3.7v4.3h-3.7zM65.3 356.9h3.7v4.3h-3.7zM68.9 356.9h3.7v4.3h-3.7zM83.4 356.9h3.7v4.3h-3.7zM87.0 356.9h3.7v4.3h-3.7zM105.1 356.9h3.7v4.3h-3.7zM123.2 356.9h3.7v4.3h-3.7zM130.4 356.9h3.7v4.3h-3.7zM141.3 356.9h3.7v4.3h-3.7zM148.5 356.9h3.7v4.3h-3.7zM155.8 356.9h3.7v4.3h-3.7zM195.6 356.9h3.7v4.3h-3.7zM217.3 356.9h3.7v4.3h-3.7zM224.5 356.9h3.7v4.3h-3.7zM228.2 356.9h3.7v4.3h-3.7zM68.9 352.7h3.7v4.3h-3.7zM79.8 352.7h3.7v4.3h-3.7zM87.0 352.7h3.7v4.3h-3.7zM90.6 352.7h3.7v4.3h-3.7zM105.1 352.7h3.7v4.3h-3.7zM108.7 352.7h3.7v4.3h-3.7zM123.2 352.7h3.7v4.3h-3.7zM134.1 352.7h3.7v4.3h-3.7zM155.8 352.7h3.7v4.3h-3.7zM163.0 352.7h3.7v4.3h-3.7zM166.6 352.7h3.7v4.3h-3.7zM173.9 352.7h3.7v4.3h-3.7zM217.3 352.7h3.7v4.3h-3.7zM65.3 348.5h3.7v4.3h-3.7zM79.8 348.5h3.7v4.3h-3.7zM83.4 348.5h3.7v4.3h-3.7zM101.5 348.5h3.7v4.3h-3.7zM144.9 348.5h3.7v4.3h-3.7zM159.4 348.5h3.7v4.3h-3.7zM166.6 348.5h3.7v4.3h-3.7zM173.9 348.5h3.7v4.3h-3.7zM184.7 348.5h3.7v4.3h-3.7zM192.0 348.5h3.7v4.3h-3.7zM210.1 348.5h3.7v4.3h-3.7zM217.3 348.5h3.7v4.3h-3.7zM220.9 348.5h3.7v4.3h-3.7zM97.9 344.3h3.7v4.3h-3.7zM105.1 344.3h3.7v4.3h-3.7zM112.3 344.3h3.7v4.3h-3.7zM116.0 344.3h3.7v4.3h-3.7zM130.4 344.3h3.7v4.3h-3.7zM148.5 344.3h3.7v4.3h-3.7zM155.8 344.3h3.7v4.3h-3.7zM170.3 344.3h3.7v4.3h-3.7zM184.7 344.3h3.7v4.3h-3.7zM202.8 344.3h3.7v4.3h-3.7zM217.3 344.3h3.7v4.3h-3.7zM220.9 344.3h3.7v4.3h-3.7zM231.8 344.3h3.7v4.3h-3.7zM68.9 340.1h3.7v4.3h-3.7zM112.3 340.1h3.7v4.3h-3.7zM144.9 340.1h3.7v4.3h-3.7zM159.4 340.1h3.7v4.3h-3.7zM163.0 340.1h3.7v4.3h-3.7zM170.3 340.1h3.7v4.3h-3.7zM195.6 340.1h3.7v4.3h-3.7zM76.2 335.9h3.7v4.3h-3.7zM105.1 335.9h3.7v4.3h-3.7zM116.0 335.9h3.7v4.3h-3.7zM119.6 335.9h3.7v4.3h-3.7zM126.8 335.9h3.7v4.3h-3.7zM148.5 335.9h3.7v4.3h-3.7zM177.5 335.9h3.7v4.3h-3.7zM184.7 335.9h3.7v4.3h-3.7zM195.6 335.9h3.7v4.3h-3.7zM220.9 335.9h3.7v4.3h-3.7zM83.4 331.7h3.7v4.3h-3.7zM116.0 331.7h3.7v4.3h-3.7zM119.6 331.7h3.7v4.3h-3.7zM130.4 331.7h3.7v4.3h-3.7zM163.0 331.7h3.7v4.3h-3.7zM170.3 331.7h3.7v4.3h-3.7zM184.7 331.7h3.7v4.3h-3.7zM188.4 331.7h3.7v4.3h-3.7zM202.8 331.7h3.7v4.3h-3.7zM220.9 331.7h3.7v4.3h-3.7zM83.4 327.5h3.7v4.3h-3.7zM108.7 327.5h3.7v4.3h-3.7zM184.7 327.5h3.7v4.3h-3.7zM195.6 327.5h3.7v4.3h-3.7zM202.8 327.5h3.7v4.3h-3.7zM79.8 323.3h3.7v4.3h-3.7zM116.0 323.3h3.7v4.3h-3.7zM141.3 323.3h3.7v4.3h-3.7zM170.3 323.3h3.7v4.3h-3.7zM184.7 323.3h3.7v4.3h-3.7zM65.3 319.1h3.7v4.3h-3.7zM68.9 319.1h3.7v4.3h-3.7zM90.6 319.1h3.7v4.3h-3.7zM94.3 319.1h3.7v4.3h-3.7zM97.9 319.1h3.7v4.3h-3.7zM177.5 319.1h3.7v4.3h-3.7zM213.7 319.1h3.7v4.3h-3.7zM217.3 319.1h3.7v4.3h-3.7zM220.9 319.1h3.7v4.3h-3.7zM224.5 319.1h3.7v4.3h-3.7zM72.5 314.9h3.7v4.3h-3.7zM79.8 314.9h3.7v4.3h-3.7zM97.9 314.9h3.7v4.3h-3.7zM101.5 314.9h3.7v4.3h-3.7zM112.3 314.9h3.7v4.3h-3.7zM144.9 314.9h3.7v4.3h-3.7zM166.6 314.9h3.7v4.3h-3.7zM199.2 314.9h3.7v4.3h-3.7zM220.9 314.9h3.7v4.3h-3.7zM79.8 310.7h3.7v4.3h-3.7zM105.1 310.7h3.7v4.3h-3.7zM108.7 310.7h3.7v4.3h-3.7zM112.3 310.7h3.7v4.3h-3.7zM116.0 310.7h3.7v4.3h-3.7zM134.1 310.7h3.7v4.3h-3.7zM144.9 310.7h3.7v4.3h-3.7zM173.9 310.7h3.7v4.3h-3.7zM210.1 310.7h3.7v4.3h-3.7zM217.3 310.7h3.7v4.3h-3.7zM220.9 310.7h3.7v4.3h-3.7zM72.5 306.5h3.7v4.3h-3.7zM87.0 306.5h3.7v4.3h-3.7zM97.9 306.5h3.7v4.3h-3.7zM105.1 306.5h3.7v4.3h-3.7zM116.0 306.5h3.7v4.3h-3.7zM134.1 306.5h3.7v4.3h-3.7zM173.9 306.5h3.7v4.3h-3.7zM181.1 306.5h3.7v4.3h-3.7zM184.7 306.5h3.7v4.3h-3.7zM206.4 306.5h3.7v4.3h-3.7zM65.3 302.3h3.7v4.3h-3.7zM68.9 302.3h3.7v4.3h-3.7zM97.9 302.3h3.7v4.3h-3.7zM112.3 302.3h3.7v4.3h-3.7zM123.2 302.3h3.7v4.3h-3.7zM72.5 298.1h3.7v4.3h-3.7zM119.6 298.1h3.7v4.3h-3.7zM126.8 298.1h3.7v4.3h-3.7zM134.1 298.1h3.7v4.3h-3.7zM148.5 298.1h3.7v4.3h-3.7zM202.8 298.1h3.7v4.3h-3.7zM213.7 298.1h3.7v4.3h-3.7zM231.8 298.1h3.7v4.3h-3.7zM68.9 293.9h3.7v4.3h-3.7zM105.1 293.9h3.7v4.3h-3.7zM119.6 293.9h3.7v4.3h-3.7zM144.9 293.9h3.7v4.3h-3.7zM148.5 293.9h3.7v4.3h-3.7zM163.0 293.9h3.7v4.3h-3.7zM188.4 293.9h3.7v4.3h-3.7zM202.8 293.9h3.7v4.3h-3.7zM210.1 293.9h3.7v4.3h-3.7zM217.3 293.9h3.7v4.3h-3.7zM228.2 293.9h3.7v4.3h-3.7zM65.3 289.6h3.7v4.3h-3.7zM90.6 289.6h3.7v4.3h-3.7zM126.8 289.6h3.7v4.3h-3.7zM148.5 289.6h3.7v4.3h-3.7zM155.8 289.6h3.7v4.3h-3.7zM220.9 289.6h3.7v4.3h-3.7zM224.5 289.6h3.7v4.3h-3.7zM228.2 289.6h3.7v4.3h-3.7zM76.2 285.4h3.7v4.3h-3.7zM79.8 285.4h3.7v4.3h-3.7zM87.0 285.4h3.7v4.3h-3.7zM90.6 285.4h3.7v4.3h-3.7zM94.3 285.4h3.7v4.3h-3.7zM116.0 285.4h3.7v4.3h-3.7zM119.6 285.4h3.7v4.3h-3.7zM130.4 285.4h3.7v4.3h-3.7zM181.1 285.4h3.7v4.3h-3.7zM188.4 285.4h3.7v4.3h-3.7zM108.7 281.2h3.7v4.3h-3.7zM130.4 281.2h3.7v4.3h-3.7zM137.7 281.2h3.7v4.3h-3.7zM148.5 281.2h3.7v4.3h-3.7zM166.6 281.2h3.7v4.3h-3.7zM170.3 281.2h3.7v4.3h-3.7zM177.5 281.2h3.7v4.3h-3.7zM181.1 281.2h3.7v4.3h-3.7zM202.8 281.2h3.7v4.3h-3.7zM228.2 281.2h3.7v4.3h-3.7zM65.3 277.0h3.7v4.3h-3.7zM83.4 277.0h3.7v4.3h-3.7zM87.0 277.0h3.7v4.3h-3.7zM105.1 277.0h3.7v4.3h-3.7zM155.8 277.0h3.7v4.3h-3.7zM163.0 277.0h3.7v4.3h-3.7zM177.5 277.0h3.7v4.3h-3.7zM195.6 277.0h3.7v4.3h-3.7zM217.3 277.0h3.7v4.3h-3.7zM65.3 272.8h3.7v4.3h-3.7zM68.9 272.8h3.7v4.3h-3.7zM97.9 272.8h3.7v4.3h-3.7zM101.5 272.8h3.7v4.3h-3.7zM137.7 272.8h3.7v4.3h-3.7zM177.5 272.8h3.7v4.3h-3.7zM181.1 272.8h3.7v4.3h-3.7zM94.3 268.6h3.7v4.3h-3.7zM97.9 268.6h3.7v4.3h-3.7zM105.1 268.6h3.7v4.3h-3.7zM112.3 268.6h3.7v4.3h-3.7zM123.2 268.6h3.7v4.3h-3.7zM144.9 268.6h3.7v4.3h-3.7zM152.2 268.6h3.7v4.3h-3.7zM170.3 268.6h3.7v4.3h-3.7zM199.2 268.6h3.7v4.3h-3.7zM202.8 268.6h3.7v4.3h-3.7zM76.2 264.4h3.7v4.3h-3.7zM83.4 264.4h3.7v4.3h-3.7zM108.7 264.4h3.7v4.3h-3.7zM112.3 264.4h3.7v4.3h-3.7zM119.6 264.4h3.7v4.3h-3.7zM123.2 264.4h3.7v4.3h-3.7zM148.5 264.4h3.7v4.3h-3.7zM173.9 264.4h3.7v4.3h-3.7zM181.1 264.4h3.7v4.3h-3.7zM68.9 260.2h3.7v4.3h-3.7zM76.2 260.2h3.7v4.3h-3.7zM90.6 260.2h3.7v4.3h-3.7zM97.9 260.2h3.7v4.3h-3.7zM101.5 260.2h3.7v4.3h-3.7zM116.0 260.2h3.7v4.3h-3.7zM123.2 260.2h3.7v4.3h-3.7zM141.3 260.2h3.7v4.3h-3.7zM166.6 260.2h3.7v4.3h-3.7zM184.7 260.2h3.7v4.3h-3.7zM188.4 260.2h3.7v4.3h-3.7zM192.0 260.2h3.7v4.3h-3.7zM202.8 260.2h3.7v4.3h-3.7zM210.1 260.2h3.7v4.3h-3.7zM228.2 260.2h3.7v4.3h-3.7zM65.3 256.0h3.7v4.3h-3.7zM72.5 256.0h3.7v4.3h-3.7zM83.4 256.0h3.7v4.3h-3.7zM97.9 256.0h3.7v4.3h-3.7zM112.3 256.0h3.7v4.3h-3.7zM123.2 256.0h3.7v4.3h-3.7zM130.4 256.0h3.7v4.3h-3.7zM148.5 256.0h3.7v4.3h-3.7zM155.8 256.0h3.7v4.3h-3.7zM173.9 256.0h3.7v4.3h-3.7zM177.5 256.0h3.7v4.3h-3.7zM184.7 256.0h3.7v4.3h-3.7zM195.6 256.0h3.7v4.3h-3.7zM210.1 256.0h3.7v4.3h-3.7zM68.9 251.8h3.7v4.3h-3.7zM76.2 251.8h3.7v4.3h-3.7zM87.0 251.8h3.7v4.3h-3.7zM97.9 251.8h3.7v4.3h-3.7zM105.1 251.8h3.7v4.3h-3.7zM112.3 251.8h3.7v4.3h-3.7zM126.8 251.8h3.7v4.3h-3.7zM141.3 251.8h3.7v4.3h-3.7zM163.0 251.8h3.7v4.3h-3.7zM181.1 251.8h3.7v4.3h-3.7zM192.0 251.8h3.7v4.3h-3.7zM68.9 247.6h3.7v4.3h-3.7zM79.8 247.6h3.7v4.3h-3.7zM94.3 247.6h3.7v4.3h-3.7zM101.5 247.6h3.7v4.3h-3.7zM126.8 247.6h3.7v4.3h-3.7zM177.5 247.6h3.7v4.3h-3.7zM181.1 247.6h3.7v4.3h-3.7zM188.4 247.6h3.7v4.3h-3.7zM192.0 247.6h3.7v4.3h-3.7zM202.8 247.6h3.7v4.3h-3.7zM210.1 247.6h3.7v4.3h-3.7zM101.5 243.4h3.7v4.3h-3.7zM108.7 243.4h3.7v4.3h-3.7zM141.3 243.4h3.7v4.3h-3.7zM155.8 243.4h3.7v4.3h-3.7zM163.0 243.4h3.7v4.3h-3.7zM188.4 243.4h3.7v4.3h-3.7zM192.0 243.4h3.7v4.3h-3.7zM217.3 243.4h3.7v4.3h-3.7zM130.4 239.2h3.7v4.3h-3.7zM134.1 239.2h3.7v4.3h-3.7zM166.6 239.2h3.7v4.3h-3.7zM188.4 239.2h3.7v4.3h-3.7zM224.5 239.2h3.7v4.3h-3.7z"/>
<path fill="#f1e9fe" d="M155.8 436.8h3.7v4.3h-3.7zM68.9 432.6h3.7v4.3h-3.7zM137.7 432.6h3.7v4.3h-3.7zM177.5 432.6h3.7v4.3h-3.7zM184.7 432.6h3.7v4.3h-3.7zM188.4 432.6h3.7v4.3h-3.7zM228.2 432.6h3.7v4.3h-3.7zM148.5 428.4h3.7v4.3h-3.7zM152.2 428.4h3.7v4.3h-3.7zM159.4 428.4h3.7v4.3h-3.7zM195.6 428.4h3.7v4.3h-3.7zM213.7 428.4h3.7v4.3h-3.7zM152.2 424.2h3.7v4.3h-3.7zM155.8 424.2h3.7v4.3h-3.7zM199.2 424.2h3.7v4.3h-3.7zM217.3 424.2h3.7v4.3h-3.7zM220.9 424.2h3.7v4.3h-3.7zM228.2 424.2h3.7v4.3h-3.7zM155.8 420.0h3.7v4.3h-3.7zM177.5 420.0h3.7v4.3h-3.7zM181.1 420.0h3.7v4.3h-3.7zM202.8 420.0h3.7v4.3h-3.7zM213.7 420.0h3.7v4.3h-3.7zM220.9 420.0h3.7v4.3h-3.7zM188.4 415.8h3.7v4.3h-3.7zM206.4 415.8h3.7v4.3h-3.7zM220.9 415.8h3.7v4.3h-3.7zM76.2 411.6h3.7v4.3h-3.7zM192.0 411.6h3.7v4.3h-3.7zM137.7 407.4h3.7v4.3h-3.7zM155.8 407.4h3.7v4.3h-3.7zM159.4 407.4h3.7v4.3h-3.7zM166.6 407.4h3.7v4.3h-3.7zM192.0 407.4h3.7v4.3h-3.7zM206.4 407.4h3.7v4.3h-3.7zM148.5 403.2h3.7v4.3h-3.7zM184.7 403.2h3.7v4.3h-3.7zM210.1 403.2h3.7v4.3h-3.7zM220.9 403.2h3.7v4.3h-3.7zM137.7 399.0h3.7v4.3h-3.7zM177.5 399.0h3.7v4.3h-3.7zM213.7 399.0h3.7v4.3h-3.7zM217.3 399.0h3.7v4.3h-3.7zM137.7 394.8h3.7v4.3h-3.7zM148.5 394.8h3.7v4.3h-3.7zM231.8 394.8h3.7v4.3h-3.7zM76.2 390.6h3.7v4.3h-3.7zM116.0 390.6h3.7v4.3h-3.7zM177.5 390.6h3.7v4.3h-3.7zM181.1 390.6h3.7v4.3h-3.7zM188.4 390.6h3.7v4.3h-3.7zM202.8 390.6h3.7v4.3h-3.7zM148.5 386.3h3.7v4.3h-3.7zM163.0 386.3h3.7v4.3h-3.7zM166.6 386.3h3.7v4.3h-3.7zM170.3 386.3h3.7v4.3h-3.7zM173.9 386.3h3.7v4.3h-3.7zM181.1 386.3h3.7v4.3h-3.7zM188.4 386.3h3.7v4.3h-3.7zM202.8 386.3h3.7v4.3h-3.7zM76.2 382.1h3.7v4.3h-3.7zM116.0 382.1h3.7v4.3h-3.7zM134.1 382.1h3.7v4.3h-3.7zM137.7 382.1h3.7v4.3h-3.7zM163.0 382.1h3.7v4.3h-3.7zM166.6 382.1h3.7v4.3h-3.7zM181.1 382.1h3.7v4.3h-3.7zM184.7 382.1h3.7v4.3h-3.7zM188.4 382.1h3.7v4.3h-3.7zM148.5 377.9h3.7v4.3h-3.7zM181.1 377.9h3.7v4.3h-3.7zM202.8 377.9h3.7v4.3h-3.7zM210.1 377.9h3.7v4.3h-3.7zM148.5 373.7h3.7v4.3h-3.7zM177.5 373.7h3.7v4.3h-3.7zM188.4 373.7h3.7v4.3h-3.7zM192.0 373.7h3.7v4.3h-3.7zM217.3 373.7h3.7v4.3h-3.7zM137.7 369.5h3.7v4.3h-3.7zM155.8 369.5h3.7v4.3h-3.7zM184.7 369.5h3.7v4.3h-3.7zM192.0 369.5h3.7v4.3h-3.7zM137.7 365.3h3.7v4.3h-3.7zM148.5 365.3h3.7v4.3h-3.7zM177.5 365.3h3.7v4.3h-3.7zM202.8 365.3h3.7v4.3h-3.7zM76.2 361.1h3.7v4.3h-3.7zM105.1 361.1h3.7v4.3h-3.7zM148.5 361.1h3.7v4.3h-3.7zM177.5 361.1h3.7v4.3h-3.7zM188.4 361.1h3.7v4.3h-3.7zM210.1 361.1h3.7v4.3h-3.7zM213.7 361.1h3.7v4.3h-3.7zM231.8 361.1h3.7v4.3h-3.7zM76.2 356.9h3.7v4.3h-3.7zM181.1 356.9h3.7v4.3h-3.7zM231.8 356.9h3.7v4.3h-3.7zM76.2 352.7h3.7v4.3h-3.7zM116.0 352.7h3.7v4.3h-3.7zM119.6 352.7h3.7v4.3h-3.7zM181.1 352.7h3.7v4.3h-3.7zM188.4 352.7h3.7v4.3h-3.7zM192.0 352.7h3.7v4.3h-3.7zM202.8 352.7h3.7v4.3h-3.7zM231.8 352.7h3.7v4.3h-3.7zM126.8 348.5h3.7v4.3h-3.7zM163.0 348.5h3.7v4.3h-3.7zM199.2 348.5h3.7v4.3h-3.7zM202.8 348.5h3.7v4.3h-3.7zM206.4 348.5h3.7v4.3h-3.7zM231.8 348.5h3.7v4.3h-3.7zM65.3 344.3h3.7v4.3h-3.7zM83.4 344.3h3.7v4.3h-3.7zM159.4 344.3h3.7v4.3h-3.7zM181.1 344.3h3.7v4.3h-3.7zM188.4 344.3h3.7v4.3h-3.7zM65.3 340.1h3.7v4.3h-3.7zM97.9 340.1h3.7v4.3h-3.7zM148.5 340.1h3.7v4.3h-3.7zM188.4 340.1h3.7v4.3h-3.7zM192.0 340.1h3.7v4.3h-3.7zM213.7 340.1h3.7v4.3h-3.7zM155.8 335.9h3.7v4.3h-3.7zM173.9 335.9h3.7v4.3h-3.7zM188.4 335.9h3.7v4.3h-3.7zM199.2 335.9h3.7v4.3h-3.7zM228.2 335.9h3.7v4.3h-3.7zM76.2 331.7h3.7v4.3h-3.7zM152.2 331.7h3.7v4.3h-3.7zM116.0 327.5h3.7v4.3h-3.7zM206.4 327.5h3.7v4.3h-3.7zM217.3 327.5h3.7v4.3h-3.7zM97.9 323.3h3.7v4.3h-3.7zM137.7 323.3h3.7v4.3h-3.7zM220.9 323.3h3.7v4.3h-3.7zM83.4 319.1h3.7v4.3h-3.7zM87.0 319.1h3.7v4.3h-3.7zM137.7 319.1h3.7v4.3h-3.7zM206.4 314.9h3.7v4.3h-3.7zM213.7 314.9h3.7v4.3h-3.7zM231.8 314.9h3.7v4.3h-3.7zM76.2 310.7h3.7v4.3h-3.7zM119.6 310.7h3.7v4.3h-3.7zM206.4 310.7h3.7v4.3h-3.7zM76.2 306.5h3.7v4.3h-3.7zM137.7 306.5h3.7v4.3h-3.7zM188.4 306.5h3.7v4.3h-3.7zM213.7 306.5h3.7v4.3h-3.7zM83.4 302.3h3.7v4.3h-3.7zM87.0 302.3h3.7v4.3h-3.7zM188.4 302.3h3.7v4.3h-3.7zM76.2 298.1h3.7v4.3h-3.7zM116.0 298.1h3.7v4.3h-3.7zM199.2 298.1h3.7v4.3h-3.7zM192.0 293.9h3.7v4.3h-3.7zM195.6 293.9h3.7v4.3h-3.7zM199.2 289.6h3.7v4.3h-3.7zM137.7 285.4h3.7v4.3h-3.7zM152.2 285.4h3.7v4.3h-3.7zM206.4 285.4h3.7v4.3h-3.7zM68.9 281.2h3.7v4.3h-3.7zM83.4 281.2h3.7v4.3h-3.7zM152.2 281.2h3.7v4.3h-3.7zM206.4 281.2h3.7v4.3h-3.7zM213.7 281.2h3.7v4.3h-3.7zM68.9 277.0h3.7v4.3h-3.7zM213.7 277.0h3.7v4.3h-3.7zM83.4 272.8h3.7v4.3h-3.7zM152.2 272.8h3.7v4.3h-3.7zM206.4 272.8h3.7v4.3h-3.7zM213.7 272.8h3.7v4.3h-3.7zM231.8 272.8h3.7v4.3h-3.7zM188.4 268.6h3.7v4.3h-3.7zM213.7 268.6h3.7v4.3h-3.7zM213.7 264.4h3.7v4.3h-3.7zM206.4 256.0h3.7v4.3h-3.7zM137.7 251.8h3.7v4.3h-3.7zM152.2 251.8h3.7v4.3h-3.7zM76.2 247.6h3.7v4.3h-3.7zM108.7 247.6h3.7v4.3h-3.7zM141.3 247.6h3.7v4.3h-3.7zM144.9 247.6h3.7v4.3h-3.7zM199.2 247.6h3.7v4.3h-3.7zM213.7 247.6h3.7v4.3h-3.7zM224.5 247.6h3.7v4.3h-3.7zM83.4 243.4h3.7v4.3h-3.7zM206.4 243.4h3.7v4.3h-3.7zM213.7 243.4h3.7v4.3h-3.7zM72.5 239.2h3.7v4.3h-3.7zM83.4 239.2h3.7v4.3h-3.7zM112.3 239.2h3.7v4.3h-3.7z"/>
<path fill="#ff896c" d="M65.3 432.6h3.7v4.3h-3.7z"/>
<path fill="#ebe0fe" d="M72.5 432.6h3.7v4.3h-3.7zM83.4 432.6h3.7v4.3h-3.7zM105.1 432.6h3.7v4.3h-3.7zM123.2 432.6h3.7v4.3h-3.7zM130.4 432.6h3.7v4.3h-3.7zM173.9 428.4h3.7v4.3h-3.7zM181.1 428.4h3.7v4.3h-3.7zM217.3 428.4h3.7v4.3h-3.7zM170.3 424.2h3.7v4.3h-3.7zM173.9 424.2h3.7v4.3h-3.7zM195.6 424.2h3.7v4.3h-3.7zM213.7 424.2h3.7v4.3h-3.7zM148.5 420.0h3.7v4.3h-3.7zM170.3 420.0h3.7v4.3h-3.7zM228.2 420.0h3.7v4.3h-3.7zM173.9 415.8h3.7v4.3h-3.7zM195.6 415.8h3.7v4.3h-3.7zM213.7 415.8h3.7v4.3h-3.7zM188.4 411.6h3.7v4.3h-3.7zM199.2 411.6h3.7v4.3h-3.7zM213.7 411.6h3.7v4.3h-3.7zM231.8 407.4h3.7v4.3h-3.7zM192.0 403.2h3.7v4.3h-3.7zM152.2 394.8h3.7v4.3h-3.7zM199.2 390.6h3.7v4.3h-3.7zM206.4 382.1h3.7v4.3h-3.7zM76.2 377.9h3.7v4.3h-3.7zM152.2 377.9h3.7v4.3h-3.7zM137.7 373.7h3.7v4.3h-3.7zM206.4 373.7h3.7v4.3h-3.7zM213.7 373.7h3.7v4.3h-3.7zM213.7 369.5h3.7v4.3h-3.7zM206.4 361.1h3.7v4.3h-3.7zM152.2 356.9h3.7v4.3h-3.7zM137.7 352.7h3.7v4.3h-3.7zM152.2 352.7h3.7v4.3h-3.7zM213.7 352.7h3.7v4.3h-3.7zM137.7 348.5h3.7v4.3h-3.7zM206.4 344.3h3.7v4.3h-3.7zM137.7 340.1h3.7v4.3h-3.7zM199.2 340.1h3.7v4.3h-3.7zM137.7 331.7h3.7v4.3h-3.7zM199.2 331.7h3.7v4.3h-3.7zM199.2 319.1h3.7v4.3h-3.7zM152.2 310.7h3.7v4.3h-3.7zM213.7 310.7h3.7v4.3h-3.7zM199.2 306.5h3.7v4.3h-3.7zM199.2 302.3h3.7v4.3h-3.7zM199.2 293.9h3.7v4.3h-3.7zM199.2 285.4h3.7v4.3h-3.7zM137.7 268.6h3.7v4.3h-3.7zM199.2 260.2h3.7v4.3h-3.7zM199.2 256.0h3.7v4.3h-3.7zM83.4 251.8h3.7v4.3h-3.7zM199.2 251.8h3.7v4.3h-3.7zM83.4 247.6h3.7v4.3h-3.7zM137.7 247.6h3.7v4.3h-3.7zM137.7 243.4h3.7v4.3h-3.7zM152.2 243.4h3.7v4.3h-3.7zM108.7 239.2h3.7v4.3h-3.7z"/>
<path fill="#eee4fe" d="M76.2 432.6h3.7v4.3h-3.7zM79.8 432.6h3.7v4.3h-3.7zM94.3 432.6h3.7v4.3h-3.7zM97.9 432.6h3.7v4.3h-3.7zM126.8 432.6h3.7v4.3h-3.7zM141.3 432.6h3.7v4.3h-3.7zM148.5 432.6h3.7v4.3h-3.7zM170.3 432.6h3.7v4.3h-3.7zM202.8 432.6h3.7v4.3h-3.7zM210.1 432.6h3.7v4.3h-3.7zM231.8 432.6h3.7v4.3h-3.7zM166.6 428.4h3.7v4.3h-3.7zM166.6 424.2h3.7v4.3h-3.7zM181.1 424.2h3.7v4.3h-3.7zM188.4 424.2h3.7v4.3h-3.7zM206.4 424.2h3.7v4.3h-3.7zM152.2 420.0h3.7v4.3h-3.7zM217.3 420.0h3.7v4.3h-3.7zM177.5 415.8h3.7v4.3h-3.7zM137.7 411.6h3.7v4.3h-3.7zM206.4 411.6h3.7v4.3h-3.7zM76.2 407.4h3.7v4.3h-3.7zM152.2 407.4h3.7v4.3h-3.7zM170.3 407.4h3.7v4.3h-3.7zM188.4 407.4h3.7v4.3h-3.7zM199.2 407.4h3.7v4.3h-3.7zM202.8 407.4h3.7v4.3h-3.7zM152.2 403.2h3.7v4.3h-3.7zM177.5 403.2h3.7v4.3h-3.7zM206.4 403.2h3.7v4.3h-3.7zM213.7 403.2h3.7v4.3h-3.7zM231.8 403.2h3.7v4.3h-3.7zM83.4 399.0h3.7v4.3h-3.7zM155.8 399.0h3.7v4.3h-3.7zM192.0 399.0h3.7v4.3h-3.7zM202.8 399.0h3.7v4.3h-3.7zM206.4 399.0h3.7v4.3h-3.7zM199.2 394.8h3.7v4.3h-3.7zM210.1 394.8h3.7v4.3h-3.7zM213.7 394.8h3.7v4.3h-3.7zM206.4 390.6h3.7v4.3h-3.7zM152.2 386.3h3.7v4.3h-3.7zM199.2 386.3h3.7v4.3h-3.7zM206.4 386.3h3.7v4.3h-3.7zM83.4 382.1h3.7v4.3h-3.7zM152.2 382.1h3.7v4.3h-3.7zM159.4 382.1h3.7v4.3h-3.7zM195.6 382.1h3.7v4.3h-3.7zM202.8 382.1h3.7v4.3h-3.7zM213.7 382.1h3.7v4.3h-3.7zM137.7 377.9h3.7v4.3h-3.7zM228.2 377.9h3.7v4.3h-3.7zM152.2 373.7h3.7v4.3h-3.7zM199.2 373.7h3.7v4.3h-3.7zM76.2 369.5h3.7v4.3h-3.7zM83.4 369.5h3.7v4.3h-3.7zM152.2 369.5h3.7v4.3h-3.7zM181.1 369.5h3.7v4.3h-3.7zM188.4 369.5h3.7v4.3h-3.7zM199.2 369.5h3.7v4.3h-3.7zM217.3 369.5h3.7v4.3h-3.7zM116.0 365.3h3.7v4.3h-3.7zM199.2 365.3h3.7v4.3h-3.7zM206.4 365.3h3.7v4.3h-3.7zM210.1 365.3h3.7v4.3h-3.7zM213.7 365.3h3.7v4.3h-3.7zM137.7 361.1h3.7v4.3h-3.7zM159.4 361.1h3.7v4.3h-3.7zM188.4 356.9h3.7v4.3h-3.7zM202.8 356.9h3.7v4.3h-3.7zM213.7 356.9h3.7v4.3h-3.7zM152.2 348.5h3.7v4.3h-3.7zM170.3 348.5h3.7v4.3h-3.7zM181.1 348.5h3.7v4.3h-3.7zM68.9 344.3h3.7v4.3h-3.7zM152.2 344.3h3.7v4.3h-3.7zM163.0 344.3h3.7v4.3h-3.7zM206.4 340.1h3.7v4.3h-3.7zM152.2 335.9h3.7v4.3h-3.7zM159.4 335.9h3.7v4.3h-3.7zM202.8 335.9h3.7v4.3h-3.7zM206.4 335.9h3.7v4.3h-3.7zM213.7 335.9h3.7v4.3h-3.7zM137.7 327.5h3.7v4.3h-3.7zM199.2 327.5h3.7v4.3h-3.7zM181.1 323.3h3.7v4.3h-3.7zM152.2 319.1h3.7v4.3h-3.7zM188.4 319.1h3.7v4.3h-3.7zM83.4 314.9h3.7v4.3h-3.7zM116.0 302.3h3.7v4.3h-3.7zM83.4 298.1h3.7v4.3h-3.7zM105.1 298.1h3.7v4.3h-3.7zM152.2 298.1h3.7v4.3h-3.7zM83.4 293.9h3.7v4.3h-3.7zM206.4 293.9h3.7v4.3h-3.7zM199.2 281.2h3.7v4.3h-3.7zM130.4 277.0h3.7v4.3h-3.7zM152.2 277.0h3.7v4.3h-3.7zM68.9 268.6h3.7v4.3h-3.7zM76.2 268.6h3.7v4.3h-3.7zM137.7 264.4h3.7v4.3h-3.7zM199.2 264.4h3.7v4.3h-3.7zM65.3 260.2h3.7v4.3h-3.7zM137.7 260.2h3.7v4.3h-3.7zM152.2 256.0h3.7v4.3h-3.7zM152.2 247.6h3.7v4.3h-3.7zM76.2 243.4h3.7v4.3h-3.7zM65.3 239.2h3.7v4.3h-3.7zM90.6 239.2h3.7v4.3h-3.7zM105.1 239.2h3.7v4.3h-3.7zM152.2 239.2h3.7v4.3h-3.7zM181.1 239.2h3.7v4.3h-3.7zM213.7 239.2h3.7v4.3h-3.7z"/>
<path fill="#e5d7fd" d="M90.6 432.6h3.7v4.3h-3.7zM231.8 428.4h3.7v4.3h-3.7zM224.5 420.0h3.7v4.3h-3.7zM192.0 415.8h3.7v4.3h-3.7zM152.2 390.6h3.7v4.3h-3.7zM213.7 377.9h3.7v4.3h-3.7zM199.2 356.9h3.7v4.3h-3.7zM213.7 348.5h3.7v4.3h-3.7zM220.9 239.2h3.7v4.3h-3.7z"/>
<path fill="#e8dbfd" d="M112.3 432.6h3.7v4.3h-3.7zM116.0 432.6h3.7v4.3h-3.7zM119.6 432.6h3.7v4.3h-3.7zM144.9 432.6h3.7v4.3h-3.7zM159.4 432.6h3.7v4.3h-3.7zM206.4 432.6h3.7v4.3h-3.7zM177.5 424.2h3.7v4.3h-3.7zM195.6 420.0h3.7v4.3h-3.7zM206.4 420.0h3.7v4.3h-3.7zM152.2 411.6h3.7v4.3h-3.7zM199.2 399.0h3.7v4.3h-3.7zM199.2 382.1h3.7v4.3h-3.7zM199.2 377.9h3.7v4.3h-3.7zM206.4 369.5h3.7v4.3h-3.7zM152.2 365.3h3.7v4.3h-3.7zM152.2 361.1h3.7v4.3h-3.7zM199.2 361.1h3.7v4.3h-3.7zM199.2 352.7h3.7v4.3h-3.7zM206.4 352.7h3.7v4.3h-3.7zM199.2 344.3h3.7v4.3h-3.7zM213.7 344.3h3.7v4.3h-3.7zM83.4 335.9h3.7v4.3h-3.7zM152.2 302.3h3.7v4.3h-3.7zM213.7 289.6h3.7v4.3h-3.7zM76.2 239.2h3.7v4.3h-3.7zM97.9 239.2h3.7v4.3h-3.7zM148.5 239.2h3.7v4.3h-3.7zM155.8 239.2h3.7v4.3h-3.7z"/>
<path fill="#e3d3fd" d="M134.1 432.6h3.7v4.3h-3.7z"/>
<path fill="#ffd9d0" d="M65.3 428.4h3.7v4.3h-3.7zM101.5 428.4h3.7v4.3h-3.7zM141.3 428.4h3.7v4.3h-3.7zM90.6 424.2h3.7v4.3h-3.7zM123.2 424.2h3.7v4.3h-3.7zM126.8 420.0h3.7v4.3h-3.7zM134.1 420.0h3.7v4.3h-3.7zM68.9 415.8h3.7v4.3h-3.7zM87.0 415.8h3.7v4.3h-3.7zM184.7 243.4h3.7v4.3h-3.7z"/>
<path fill="#ffdfd7" d="M68.9 428.4h3.7v4.3h-3.7zM123.2 428.4h3.7v4.3h-3.7zM130.4 428.4h3.7v4.3h-3.7zM72.5 424.2h3.7v4.3h-3.7zM97.9 424.2h3.7v4.3h-3.7zM108.7 424.2h3.7v4.3h-3.7zM126.8 424.2h3.7v4.3h-3.7zM72.5 420.0h3.7v4.3h-3.7zM108.7 420.0h3.7v4.3h-3.7zM144.9 420.0h3.7v4.3h-3.7zM105.1 415.8h3.7v4.3h-3.7zM130.4 415.8h3.7v4.3h-3.7zM141.3 415.8h3.7v4.3h-3.7zM108.7 256.0h3.7v4.3h-3.7zM65.3 243.4h3.7v4.3h-3.7zM112.3 243.4h3.7v4.3h-3.7zM195.6 239.2h3.7v4.3h-3.7z"/>
<path fill="#ff9f87" d="M72.5 428.4h3.7v4.3h-3.7zM65.3 424.2h3.7v4.3h-3.7zM210.1 424.2h3.7v4.3h-3.7zM144.9 415.8h3.7v4.3h-3.7zM213.7 256.0h3.7v4.3h-3.7zM220.9 256.0h3.7v4.3h-3.7zM224.5 256.0h3.7v4.3h-3.7zM228.2 256.0h3.7v4.3h-3.7zM231.8 256.0h3.7v4.3h-3.7zM213.7 251.8h3.7v4.3h-3.7zM217.3 251.8h3.7v4.3h-3.7zM220.9 251.8h3.7v4.3h-3.7zM228.2 251.8h3.7v4.3h-3.7zM231.8 251.8h3.7v4.3h-3.7z"/>
<path fill="#ffbfaf" d="M76.2 428.4h3.7v4.3h-3.7zM210.1 428.4h3.7v4.3h-3.7zM119.6 420.0h3.7v4.3h-3.7zM228.2 239.2h3.7v4.3h-3.7z"/>
<path fill="#ffaf9b" d="M79.8 428.4h3.7v4.3h-3.7zM79.8 424.2h3.7v4.3h-3.7zM65.3 420.0h3.7v4.3h-3.7zM79.8 420.0h3.7v4.3h-3.7zM79.8 415.8h3.7v4.3h-3.7zM83.4 407.4h3.7v4.3h-3.7zM72.5 403.2h3.7v4.3h-3.7zM76.2 403.2h3.7v4.3h-3.7zM72.5 399.0h3.7v4.3h-3.7zM76.2 394.8h3.7v4.3h-3.7zM97.9 348.5h3.7v4.3h-3.7zM101.5 344.3h3.7v4.3h-3.7zM144.9 331.7h3.7v4.3h-3.7zM155.8 327.5h3.7v4.3h-3.7zM152.2 323.3h3.7v4.3h-3.7zM173.9 302.3h3.7v4.3h-3.7zM220.9 268.6h3.7v4.3h-3.7zM224.5 268.6h3.7v4.3h-3.7zM228.2 268.6h3.7v4.3h-3.7zM231.8 268.6h3.7v4.3h-3.7zM220.9 264.4h3.7v4.3h-3.7zM224.5 264.4h3.7v4.3h-3.7zM228.2 264.4h3.7v4.3h-3.7zM231.8 264.4h3.7v4.3h-3.7z"/>
<path fill="#ffd4c9" d="M83.4 428.4h3.7v4.3h-3.7zM126.8 428.4h3.7v4.3h-3.7zM137.7 428.4h3.7v4.3h-3.7zM101.5 424.2h3.7v4.3h-3.7zM112.3 424.2h3.7v4.3h-3.7zM116.0 424.2h3.7v4.3h-3.7zM137.7 424.2h3.7v4.3h-3.7zM144.9 424.2h3.7v4.3h-3.7zM97.9 420.0h3.7v4.3h-3.7zM112.3 415.8h3.7v4.3h-3.7zM119.6 415.8h3.7v4.3h-3.7zM137.7 415.8h3.7v4.3h-3.7zM137.7 239.2h3.7v4.3h-3.7zM202.8 239.2h3.7v4.3h-3.7z"/>
<path fill="#ffcfc3" d="M87.0 428.4h3.7v4.3h-3.7zM90.6 428.4h3.7v4.3h-3.7zM94.3 428.4h3.7v4.3h-3.7zM108.7 428.4h3.7v4.3h-3.7zM141.3 424.2h3.7v4.3h-3.7zM68.9 420.0h3.7v4.3h-3.7zM90.6 415.8h3.7v4.3h-3.7zM108.7 415.8h3.7v4.3h-3.7zM126.8 415.8h3.7v4.3h-3.7z"/>
<path fill="#ffc9bc" d="M97.9 428.4h3.7v4.3h-3.7zM87.0 424.2h3.7v4.3h-3.7zM134.1 424.2h3.7v4.3h-3.7zM83.4 420.0h3.7v4.3h-3.7zM65.3 415.8h3.7v4.3h-3.7z"/>
<path fill="#ffe9e4" d="M105.1 428.4h3.7v4.3h-3.7zM119.6 428.4h3.7v4.3h-3.7zM144.9 428.4h3.7v4.3h-3.7zM76.2 424.2h3.7v4.3h-3.7zM119.6 424.2h3.7v4.3h-3.7zM87.0 420.0h3.7v4.3h-3.7zM123.2 420.0h3.7v4.3h-3.7zM130.4 420.0h3.7v4.3h-3.7zM101.5 415.8h3.7v4.3h-3.7zM159.4 365.3h3.7v4.3h-3.7zM213.7 323.3h3.7v4.3h-3.7zM170.3 243.4h3.7v4.3h-3.7z"/>
<path fill="#ffe4dd" d="M112.3 428.4h3.7v4.3h-3.7zM134.1 428.4h3.7v4.3h-3.7zM68.9 424.2h3.7v4.3h-3.7zM83.4 424.2h3.7v4.3h-3.7zM90.6 420.0h3.7v4.3h-3.7zM72.5 415.8h3.7v4.3h-3.7zM94.3 415.8h3.7v4.3h-3.7zM97.9 415.8h3.7v4.3h-3.7zM210.1 352.7h3.7v4.3h-3.7zM94.3 243.4h3.7v4.3h-3.7zM116.0 243.4h3.7v4.3h-3.7zM134.1 243.4h3.7v4.3h-3.7zM199.2 243.4h3.7v4.3h-3.7zM87.0 239.2h3.7v4.3h-3.7z"/>
<path fill="#ffc4b5" d="M94.3 420.0h3.7v4.3h-3.7zM116.0 415.8h3.7v4.3h-3.7zM134.1 415.8h3.7v4.3h-3.7z"/>
<path fill="#d5bdfd" d="M68.9 239.2h3.7v4.3h-3.7z"/>
<path fill="#e0cefd" d="M141.3 239.2h3.7v4.3h-3.7zM173.9 239.2h3.7v4.3h-3.7zM192.0 239.2h3.7v4.3h-3.7z"/>
<path fill="#ff9479" d="M231.8 239.2h3.7v4.3h-3.7z"/>
<rect x="65.30" y="239.20" width="170.10" height="201.80" fill="none" stroke="#6e6e6e" stroke-width="0.7"/>
<line x1="69.20" y1="239.20" x2="69.20" y2="441.00" stroke="#6e6e6e" stroke-width="0.7"/>
<line x1="148.50" y1="239.20" x2="148.50" y2="441.00" stroke="#6e6e6e" stroke-width="0.7"/>
<line x1="200.90" y1="239.20" x2="200.90" y2="441.00" stroke="#6e6e6e" stroke-width="0.7"/>
<rect x="58.40" y="436.80" width="4.60" height="4.25" fill="#7b2fc8" stroke="none" stroke-width="1"/>
<rect x="58.40" y="432.59" width="4.60" height="4.25" fill="#ffffff" stroke="none" stroke-width="1"/>
<rect x="58.40" y="428.39" width="4.60" height="4.25" fill="#0000ff" stroke="none" stroke-width="1"/>
<rect x="58.40" y="424.18" width="4.60" height="4.25" fill="#0000ff" stroke="none" stroke-width="1"/>
<rect x="58.40" y="419.98" width="4.60" height="4.25" fill="#0000ff" stroke="none" stroke-width="1"/>
<rect x="58.40" y="415.77" width="4.60" height="4.25" fill="#86c3ee" stroke="none" stroke-width="1"/>
<rect x="58.40" y="411.57" width="4.60" height="4.25" fill="#b0c4de" stroke="none" stroke-width="1"/>
<rect x="58.40" y="407.37" width="4.60" height="4.25" fill="#b0c4de" stroke="none" stroke-width="1"/>
<rect x="58.40" y="403.16" width="4.60" height="4.25" fill="#b0c4de" stroke="none" stroke-width="1"/>
<rect x="58.40" y="398.96" width="4.60" height="4.25" fill="#b0c4de" stroke="none" stroke-width="1"/>
<rect x="58.40" y="394.75" width="4.60" height="4.25" fill="#b0c4de" stroke="none" stroke-width="1"/>
<rect x="58.40" y="390.55" width="4.60" height="4.25" fill="#b0c4de" stroke="none" stroke-width="1"/>
<rect x="58.40" y="386.35" width="4.60" height="4.25" fill="#b0c4de" stroke="none" stroke-width="1"/>
<rect x="58.40" y="382.14" width="4.60" height="4.25" fill="#b0c4de" stroke="none" stroke-width="1"/>
<rect x="58.40" y="377.94" width="4.60" height="4.25" fill="#b0c4de" stroke="none" stroke-width="1"/>
<rect x="58.40" y="373.73" width="4.60" height="4.25" fill="#b0c4de" stroke="none" stroke-width="1"/>
<rect x="58.40" y="369.53" width="4.60" height="4.25" fill="#b0c4de" stroke="none" stroke-width="1"/>
<rect x="58.40" y="365.32" width="4.60" height="4.25" fill="#b0c4de" stroke="none" stroke-width="1"/>
<rect x="58.40" y="361.12" width="4.60" height="4.25" fill="#b0c4de" stroke="none" stroke-width="1"/>
<rect x="58.40" y="356.92" width="4.60" height="4.25" fill="#b0c4de" stroke="none" stroke-width="1"/>
<rect x="58.40" y="352.71" width="4.60" height="4.25" fill="#b0c4de" stroke="none" stroke-width="1"/>
<rect x="58.40" y="348.51" width="4.60" height="4.25" fill="#b0c4de" stroke="none" stroke-width="1"/>
<rect x="58.40" y="344.30" width="4.60" height="4.25" fill="#b0c4de" stroke="none" stroke-width="1"/>
<rect x="58.40" y="340.10" width="4.60" height="4.25" fill="#b0c4de" stroke="none" stroke-width="1"/>
<rect x="58.40" y="335.90" width="4.60" height="4.25" fill="#3cc47a" stroke="none" stroke-width="1"/>
<rect x="58.40" y="331.69" width="4.60" height="4.25" fill="#ee72ee" stroke="none" stroke-width="1"/>
<rect x="58.40" y="327.49" width="4.60" height="4.25" fill="#ffa07a" stroke="none" stroke-width="1"/>
<rect x="58.40" y="323.28" width="4.60" height="4.25" fill="#ffa07a" stroke="none" stroke-width="1"/>
<rect x="58.40" y="319.08" width="4.60" height="4.25" fill="#ffa07a" stroke="none" stroke-width="1"/>
<rect x="58.40" y="314.88" width="4.60" height="4.25" fill="#ffa07a" stroke="none" stroke-width="1"/>
<rect x="58.40" y="310.67" width="4.60" height="4.25" fill="#ffa07a" stroke="none" stroke-width="1"/>
<rect x="58.40" y="306.47" width="4.60" height="4.25" fill="#ffa07a" stroke="none" stroke-width="1"/>
<rect x="58.40" y="302.26" width="4.60" height="4.25" fill="#ffa07a" stroke="none" stroke-width="1"/>
<rect x="58.40" y="298.06" width="4.60" height="4.25" fill="#ffa07a" stroke="none" stroke-width="1"/>
<rect x="58.40" y="293.85" width="4.60" height="4.25" fill="#ffa07a" stroke="none" stroke-width="1"/>
<rect x="58.40" y="289.65" width="4.60" height="4.25" fill="#ffa07a" stroke="none" stroke-width="1"/>
<rect x="58.40" y="285.45" width="4.60" height="4.25" fill="#ffa07a" stroke="none" stroke-width="1"/>
<rect x="58.40" y="281.24" width="4.60" height="4.25" fill="#ffa07a" stroke="none" stroke-width="1"/>
<rect x="58.40" y="277.04" width="4.60" height="4.25" fill="#f0f0f0" stroke="none" stroke-width="1"/>
<rect x="58.40" y="272.83" width="4.60" height="4.25" fill="#f0f0f0" stroke="none" stroke-width="1"/>
<rect x="58.40" y="268.63" width="4.60" height="4.25" fill="#f0f0f0" stroke="none" stroke-width="1"/>
<rect x="58.40" y="264.43" width="4.60" height="4.25" fill="#f0f0f0" stroke="none" stroke-width="1"/>
<rect x="58.40" y="260.22" width="4.60" height="4.25" fill="#f0f0f0" stroke="none" stroke-width="1"/>
<rect x="58.40" y="256.02" width="4.60" height="4.25" fill="#f0f0f0" stroke="none" stroke-width="1"/>
<rect x="58.40" y="251.81" width="4.60" height="4.25" fill="#f0f0f0" stroke="none" stroke-width="1"/>
<rect x="58.40" y="247.61" width="4.60" height="4.25" fill="#f0f0f0" stroke="none" stroke-width="1"/>
<rect x="58.40" y="243.40" width="4.60" height="4.25" fill="#f0f0f0" stroke="none" stroke-width="1"/>
<rect x="58.40" y="239.20" width="4.60" height="4.25" fill="#f0f0f0" stroke="none" stroke-width="1"/>
<rect x="63.00" y="239.20" width="2.00" height="201.80" fill="#c4c4c4" stroke="none" stroke-width="1"/>
<rect x="58.40" y="239.20" width="4.60" height="201.80" fill="none" stroke="#777" stroke-width="0.5"/>
<rect x="65.30" y="281.24" width="170.10" height="50.45" fill="none" stroke="#e07b30" stroke-width="0.8"/>
<rect x="65.30" y="335.90" width="170.10" height="79.88" fill="none" stroke="#6a86b4" stroke-width="0.8"/>
<line x1="65.30" y1="340.10" x2="235.40" y2="340.10" stroke="#86ee9a" stroke-width="0.8"/>
<rect x="65.30" y="415.77" width="170.10" height="16.82" fill="none" stroke="#1c35e6" stroke-width="0.9"/>
<rect x="20.40" y="415.30" width="43.50" height="17.40" fill="none" stroke="#0000ff" stroke-width="1.1"/>
<text x="56.2" y="440.4" font-size="4.3" fill="#444" text-anchor="end">1</text>
<line x1="56.60" y1="438.90" x2="58.40" y2="438.90" stroke="#777" stroke-width="0.35"/>
<text x="56.2" y="436.2" font-size="4.3" fill="#444" text-anchor="end">2</text>
<line x1="56.60" y1="434.69" x2="58.40" y2="434.69" stroke="#777" stroke-width="0.35"/>
<text x="56.2" y="432.0" font-size="4.3" fill="#444" text-anchor="end">3</text>
<line x1="56.60" y1="430.49" x2="58.40" y2="430.49" stroke="#777" stroke-width="0.35"/>
<text x="56.2" y="427.8" font-size="4.3" fill="#444" text-anchor="end">4</text>
<line x1="56.60" y1="426.29" x2="58.40" y2="426.29" stroke="#777" stroke-width="0.35"/>
<text x="56.2" y="423.6" font-size="4.3" fill="#444" text-anchor="end">5</text>
<line x1="56.60" y1="422.08" x2="58.40" y2="422.08" stroke="#777" stroke-width="0.35"/>
<text x="56.2" y="419.4" font-size="4.3" fill="#444" text-anchor="end">6</text>
<line x1="56.60" y1="417.88" x2="58.40" y2="417.88" stroke="#777" stroke-width="0.35"/>
<text x="56.2" y="415.2" font-size="4.3" fill="#444" text-anchor="end">7</text>
<line x1="56.60" y1="413.67" x2="58.40" y2="413.67" stroke="#777" stroke-width="0.35"/>
<text x="56.2" y="411.0" font-size="4.3" fill="#444" text-anchor="end">8</text>
<line x1="56.60" y1="409.47" x2="58.40" y2="409.47" stroke="#777" stroke-width="0.35"/>
<text x="56.2" y="406.8" font-size="4.3" fill="#444" text-anchor="end">9</text>
<line x1="56.60" y1="405.26" x2="58.40" y2="405.26" stroke="#777" stroke-width="0.35"/>
<text x="56.2" y="402.6" font-size="4.3" fill="#444" text-anchor="end">10</text>
<line x1="56.60" y1="401.06" x2="58.40" y2="401.06" stroke="#777" stroke-width="0.35"/>
<text x="56.2" y="398.4" font-size="4.3" fill="#444" text-anchor="end">11</text>
<line x1="56.60" y1="396.86" x2="58.40" y2="396.86" stroke="#777" stroke-width="0.35"/>
<text x="56.2" y="394.2" font-size="4.3" fill="#444" text-anchor="end">12</text>
<line x1="56.60" y1="392.65" x2="58.40" y2="392.65" stroke="#777" stroke-width="0.35"/>
<text x="56.2" y="389.9" font-size="4.3" fill="#444" text-anchor="end">13</text>
<line x1="56.60" y1="388.45" x2="58.40" y2="388.45" stroke="#777" stroke-width="0.35"/>
<text x="56.2" y="385.7" font-size="4.3" fill="#444" text-anchor="end">14</text>
<line x1="56.60" y1="384.24" x2="58.40" y2="384.24" stroke="#777" stroke-width="0.35"/>
<text x="56.2" y="381.5" font-size="4.3" fill="#444" text-anchor="end">15</text>
<line x1="56.60" y1="380.04" x2="58.40" y2="380.04" stroke="#777" stroke-width="0.35"/>
<text x="56.2" y="377.3" font-size="4.3" fill="#444" text-anchor="end">16</text>
<line x1="56.60" y1="375.84" x2="58.40" y2="375.84" stroke="#777" stroke-width="0.35"/>
<text x="56.2" y="373.1" font-size="4.3" fill="#444" text-anchor="end">17</text>
<line x1="56.60" y1="371.63" x2="58.40" y2="371.63" stroke="#777" stroke-width="0.35"/>
<text x="56.2" y="368.9" font-size="4.3" fill="#444" text-anchor="end">18</text>
<line x1="56.60" y1="367.43" x2="58.40" y2="367.43" stroke="#777" stroke-width="0.35"/>
<text x="56.2" y="364.7" font-size="4.3" fill="#444" text-anchor="end">19</text>
<line x1="56.60" y1="363.22" x2="58.40" y2="363.22" stroke="#777" stroke-width="0.35"/>
<text x="56.2" y="360.5" font-size="4.3" fill="#444" text-anchor="end">20</text>
<line x1="56.60" y1="359.02" x2="58.40" y2="359.02" stroke="#777" stroke-width="0.35"/>
<text x="56.2" y="356.3" font-size="4.3" fill="#444" text-anchor="end">21</text>
<line x1="56.60" y1="354.81" x2="58.40" y2="354.81" stroke="#777" stroke-width="0.35"/>
<text x="56.2" y="352.1" font-size="4.3" fill="#444" text-anchor="end">22</text>
<line x1="56.60" y1="350.61" x2="58.40" y2="350.61" stroke="#777" stroke-width="0.35"/>
<text x="56.2" y="347.9" font-size="4.3" fill="#444" text-anchor="end">23</text>
<line x1="56.60" y1="346.41" x2="58.40" y2="346.41" stroke="#777" stroke-width="0.35"/>
<text x="56.2" y="343.7" font-size="4.3" fill="#444" text-anchor="end">24</text>
<line x1="56.60" y1="342.20" x2="58.40" y2="342.20" stroke="#777" stroke-width="0.35"/>
<text x="56.2" y="339.5" font-size="4.3" fill="#444" text-anchor="end">25</text>
<line x1="56.60" y1="338.00" x2="58.40" y2="338.00" stroke="#777" stroke-width="0.35"/>
<text x="56.2" y="335.3" font-size="4.3" fill="#444" text-anchor="end">26</text>
<line x1="56.60" y1="333.79" x2="58.40" y2="333.79" stroke="#777" stroke-width="0.35"/>
<text x="56.2" y="331.1" font-size="4.3" fill="#444" text-anchor="end">27</text>
<line x1="56.60" y1="329.59" x2="58.40" y2="329.59" stroke="#777" stroke-width="0.35"/>
<text x="56.2" y="326.9" font-size="4.3" fill="#444" text-anchor="end">28</text>
<line x1="56.60" y1="325.39" x2="58.40" y2="325.39" stroke="#777" stroke-width="0.35"/>
<text x="56.2" y="322.7" font-size="4.3" fill="#444" text-anchor="end">29</text>
<line x1="56.60" y1="321.18" x2="58.40" y2="321.18" stroke="#777" stroke-width="0.35"/>
<text x="56.2" y="318.5" font-size="4.3" fill="#444" text-anchor="end">30</text>
<line x1="56.60" y1="316.98" x2="58.40" y2="316.98" stroke="#777" stroke-width="0.35"/>
<text x="56.2" y="314.3" font-size="4.3" fill="#444" text-anchor="end">31</text>
<line x1="56.60" y1="312.77" x2="58.40" y2="312.77" stroke="#777" stroke-width="0.35"/>
<text x="56.2" y="310.1" font-size="4.3" fill="#444" text-anchor="end">32</text>
<line x1="56.60" y1="308.57" x2="58.40" y2="308.57" stroke="#777" stroke-width="0.35"/>
<text x="56.2" y="305.9" font-size="4.3" fill="#444" text-anchor="end">33</text>
<line x1="56.60" y1="304.36" x2="58.40" y2="304.36" stroke="#777" stroke-width="0.35"/>
<text x="56.2" y="301.7" font-size="4.3" fill="#444" text-anchor="end">34</text>
<line x1="56.60" y1="300.16" x2="58.40" y2="300.16" stroke="#777" stroke-width="0.35"/>
<text x="56.2" y="297.5" font-size="4.3" fill="#444" text-anchor="end">35</text>
<line x1="56.60" y1="295.96" x2="58.40" y2="295.96" stroke="#777" stroke-width="0.35"/>
<text x="56.2" y="293.3" font-size="4.3" fill="#444" text-anchor="end">36</text>
<line x1="56.60" y1="291.75" x2="58.40" y2="291.75" stroke="#777" stroke-width="0.35"/>
<text x="56.2" y="289.0" font-size="4.3" fill="#444" text-anchor="end">37</text>
<line x1="56.60" y1="287.55" x2="58.40" y2="287.55" stroke="#777" stroke-width="0.35"/>
<text x="56.2" y="284.8" font-size="4.3" fill="#444" text-anchor="end">38</text>
<line x1="56.60" y1="283.34" x2="58.40" y2="283.34" stroke="#777" stroke-width="0.35"/>
<text x="56.2" y="280.6" font-size="4.3" fill="#444" text-anchor="end">39</text>
<line x1="56.60" y1="279.14" x2="58.40" y2="279.14" stroke="#777" stroke-width="0.35"/>
<text x="56.2" y="276.4" font-size="4.3" fill="#444" text-anchor="end">40</text>
<line x1="56.60" y1="274.94" x2="58.40" y2="274.94" stroke="#777" stroke-width="0.35"/>
<text x="56.2" y="272.2" font-size="4.3" fill="#444" text-anchor="end">41</text>
<line x1="56.60" y1="270.73" x2="58.40" y2="270.73" stroke="#777" stroke-width="0.35"/>
<text x="56.2" y="268.0" font-size="4.3" fill="#444" text-anchor="end">42</text>
<line x1="56.60" y1="266.53" x2="58.40" y2="266.53" stroke="#777" stroke-width="0.35"/>
<text x="56.2" y="263.8" font-size="4.3" fill="#444" text-anchor="end">43</text>
<line x1="56.60" y1="262.32" x2="58.40" y2="262.32" stroke="#777" stroke-width="0.35"/>
<text x="56.2" y="259.6" font-size="4.3" fill="#444" text-anchor="end">44</text>
<line x1="56.60" y1="258.12" x2="58.40" y2="258.12" stroke="#777" stroke-width="0.35"/>
<text x="56.2" y="255.4" font-size="4.3" fill="#444" text-anchor="end">45</text>
<line x1="56.60" y1="253.91" x2="58.40" y2="253.91" stroke="#777" stroke-width="0.35"/>
<text x="56.2" y="251.2" font-size="4.3" fill="#444" text-anchor="end">46</text>
<line x1="56.60" y1="249.71" x2="58.40" y2="249.71" stroke="#777" stroke-width="0.35"/>
<text x="56.2" y="247.0" font-size="4.3" fill="#444" text-anchor="end">47</text>
<line x1="56.60" y1="245.51" x2="58.40" y2="245.51" stroke="#777" stroke-width="0.35"/>
<text x="56.2" y="242.8" font-size="4.3" fill="#444" text-anchor="end">48</text>
<line x1="56.60" y1="241.30" x2="58.40" y2="241.30" stroke="#777" stroke-width="0.35"/>
<rect x="65.30" y="445.30" width="3.62" height="3.90" fill="#7b2fc8" stroke="none" stroke-width="1"/>
<rect x="68.92" y="445.30" width="3.62" height="3.90" fill="#9a7ff0" stroke="none" stroke-width="1"/>
<rect x="72.54" y="445.30" width="50.67" height="3.90" fill="#3399ff" stroke="none" stroke-width="1"/>
<rect x="123.21" y="445.30" width="14.48" height="3.90" fill="#1f6f8b" stroke="none" stroke-width="1"/>
<rect x="137.68" y="445.30" width="7.24" height="3.90" fill="#cc2a90" stroke="none" stroke-width="1"/>
<rect x="144.92" y="445.30" width="3.62" height="3.90" fill="#4fd17f" stroke="none" stroke-width="1"/>
<rect x="148.54" y="445.30" width="3.62" height="3.90" fill="#dba2dd" stroke="none" stroke-width="1"/>
<rect x="152.16" y="445.30" width="7.24" height="3.90" fill="#ff4a12" stroke="none" stroke-width="1"/>
<rect x="159.40" y="445.30" width="39.81" height="3.90" fill="#d2632c" stroke="none" stroke-width="1"/>
<rect x="199.21" y="445.30" width="10.86" height="3.90" fill="#d9b49a" stroke="none" stroke-width="1"/>
<rect x="210.07" y="445.30" width="3.62" height="3.90" fill="#22d3ee" stroke="none" stroke-width="1"/>
<rect x="213.69" y="445.30" width="3.62" height="3.90" fill="#e6a817" stroke="none" stroke-width="1"/>
<rect x="217.30" y="445.30" width="18.10" height="3.90" fill="#a8a8a8" stroke="none" stroke-width="1"/>
<text transform="translate(68.4,451.0) rotate(-45)" font-size="4.4" font-weight="bold" fill="#7b2fc8" text-anchor="end" textLength="28.0" lengthAdjust="spacingAndGlyphs">1 - Progenitor</text>
<text transform="translate(72.0,451.0) rotate(-45)" font-size="4.4" font-weight="bold" fill="#9a7ff0" text-anchor="end" textLength="38.0" lengthAdjust="spacingAndGlyphs">2 - Neural_prog</text>
<text transform="translate(75.6,451.0) rotate(-45)" font-size="4.4" font-weight="bold" fill="#3399ff" text-anchor="end" textLength="37.5" lengthAdjust="spacingAndGlyphs">3 - Neuron_pep</text>
<text transform="translate(79.3,451.0) rotate(-45)" font-size="4.4" font-weight="bold" fill="#3399ff" text-anchor="end" textLength="33.3" lengthAdjust="spacingAndGlyphs">4 - Neuron_pep</text>
<text transform="translate(82.9,451.0) rotate(-45)" font-size="4.4" font-weight="bold" fill="#3399ff" text-anchor="end" textLength="24.0" lengthAdjust="spacingAndGlyphs">5 - Neuron_GLWa</text>
<text transform="translate(86.5,451.0) rotate(-45)" font-size="4.4" font-weight="bold" fill="#3399ff" text-anchor="end" textLength="40.7" lengthAdjust="spacingAndGlyphs">6 - Neuron_RFa</text>
<text transform="translate(90.1,451.0) rotate(-45)" font-size="4.4" font-weight="bold" fill="#3399ff" text-anchor="end" textLength="37.7" lengthAdjust="spacingAndGlyphs">7 - Neuron_PRGa</text>
<text transform="translate(93.7,451.0) rotate(-45)" font-size="4.4" font-weight="bold" fill="#3399ff" text-anchor="end" textLength="34.4" lengthAdjust="spacingAndGlyphs">8 - Neuron_lwa</text>
<text transform="translate(97.4,451.0) rotate(-45)" font-size="4.4" font-weight="bold" fill="#3399ff" text-anchor="end" textLength="32.5" lengthAdjust="spacingAndGlyphs">9 - Neuron_Nem</text>
<text transform="translate(101.0,451.0) rotate(-45)" font-size="4.4" font-weight="bold" fill="#3399ff" text-anchor="end" textLength="38.0" lengthAdjust="spacingAndGlyphs">10 - Neuron_pep2</text>
<text transform="translate(104.6,451.0) rotate(-45)" font-size="4.4" font-weight="bold" fill="#3399ff" text-anchor="end" textLength="34.9" lengthAdjust="spacingAndGlyphs">11 - Neuron_RPa</text>
<text transform="translate(108.2,451.0) rotate(-45)" font-size="4.4" font-weight="bold" fill="#3399ff" text-anchor="end" textLength="35.0" lengthAdjust="spacingAndGlyphs">12 - Neuron_CCa</text>
<text transform="translate(111.8,451.0) rotate(-45)" font-size="4.4" font-weight="bold" fill="#3399ff" text-anchor="end" textLength="25.4" lengthAdjust="spacingAndGlyphs">13 - Neuron_WRSa</text>
<text transform="translate(115.5,451.0) rotate(-45)" font-size="4.4" font-weight="bold" fill="#3399ff" text-anchor="end" textLength="42.0" lengthAdjust="spacingAndGlyphs">14 - Neuron_QWa</text>
<text transform="translate(119.1,451.0) rotate(-45)" font-size="4.4" font-weight="bold" fill="#3399ff" text-anchor="end" textLength="34.4" lengthAdjust="spacingAndGlyphs">15 - Neuron_FLRNa</text>
<text transform="translate(122.7,451.0) rotate(-45)" font-size="4.4" font-weight="bold" fill="#3399ff" text-anchor="end" textLength="35.7" lengthAdjust="spacingAndGlyphs">16 - Neuron_x</text>
<text transform="translate(126.3,451.0) rotate(-45)" font-size="4.4" font-weight="bold" fill="#1f6f8b" text-anchor="end" textLength="31.7" lengthAdjust="spacingAndGlyphs">17 - Neuron_cnido</text>
<text transform="translate(129.9,451.0) rotate(-45)" font-size="4.4" font-weight="bold" fill="#1f6f8b" text-anchor="end" textLength="23.0" lengthAdjust="spacingAndGlyphs">18 - Neuron_sens</text>
<text transform="translate(133.6,451.0) rotate(-45)" font-size="4.4" font-weight="bold" fill="#1f6f8b" text-anchor="end" textLength="36.3" lengthAdjust="spacingAndGlyphs">19 - Neuron_sens2</text>
<text transform="translate(137.2,451.0) rotate(-45)" font-size="4.4" font-weight="bold" fill="#1f6f8b" text-anchor="end" textLength="34.1" lengthAdjust="spacingAndGlyphs">20 - Neuron_unk</text>
<text transform="translate(140.8,451.0) rotate(-45)" font-size="4.4" font-weight="bold" fill="#cc2a90" text-anchor="end" textLength="29.8" lengthAdjust="spacingAndGlyphs">21 - Cnido_early</text>
<text transform="translate(144.4,451.0) rotate(-45)" font-size="4.4" font-weight="bold" fill="#cc2a90" text-anchor="end" textLength="27.4" lengthAdjust="spacingAndGlyphs">22 - Cnido_mid</text>
<text transform="translate(148.0,451.0) rotate(-45)" font-size="4.4" font-weight="bold" fill="#4fd17f" text-anchor="end" textLength="41.3" lengthAdjust="spacingAndGlyphs">23 - Cnido_late</text>
<text transform="translate(151.7,451.0) rotate(-45)" font-size="4.4" font-weight="bold" fill="#dba2dd" text-anchor="end" textLength="34.9" lengthAdjust="spacingAndGlyphs">24 - Cnido_dev</text>
<text transform="translate(155.3,451.0) rotate(-45)" font-size="4.4" font-weight="bold" fill="#ff4a12" text-anchor="end" textLength="28.2" lengthAdjust="spacingAndGlyphs">25 - Gland_mucous</text>
<text transform="translate(158.9,451.0) rotate(-45)" font-size="4.4" font-weight="bold" fill="#ff4a12" text-anchor="end" textLength="24.5" lengthAdjust="spacingAndGlyphs">26 - Gland_S1</text>
<text transform="translate(162.5,451.0) rotate(-45)" font-size="4.4" font-weight="bold" fill="#d2632c" text-anchor="end" textLength="44.7" lengthAdjust="spacingAndGlyphs">27 - Gland_S2</text>
<text transform="translate(166.1,451.0) rotate(-45)" font-size="4.4" font-weight="bold" fill="#d2632c" text-anchor="end" textLength="34.7" lengthAdjust="spacingAndGlyphs">28 - Gland_digest</text>
<text transform="translate(169.7,451.0) rotate(-45)" font-size="4.4" font-weight="bold" fill="#d2632c" text-anchor="end" textLength="37.5" lengthAdjust="spacingAndGlyphs">29 - Gland_Sec</text>
<text transform="translate(173.4,451.0) rotate(-45)" font-size="4.4" font-weight="bold" fill="#d2632c" text-anchor="end" textLength="28.8" lengthAdjust="spacingAndGlyphs">30 - Gland_A</text>
<text transform="translate(177.0,451.0) rotate(-45)" font-size="4.4" font-weight="bold" fill="#d2632c" text-anchor="end" textLength="39.5" lengthAdjust="spacingAndGlyphs">31 - Gland_B</text>
<text transform="translate(180.6,451.0) rotate(-45)" font-size="4.4" font-weight="bold" fill="#d2632c" text-anchor="end" textLength="39.1" lengthAdjust="spacingAndGlyphs">32 - Gland_C</text>
<text transform="translate(184.2,451.0) rotate(-45)" font-size="4.4" font-weight="bold" fill="#d2632c" text-anchor="end" textLength="30.7" lengthAdjust="spacingAndGlyphs">33 - Gland_D</text>
<text transform="translate(187.8,451.0) rotate(-45)" font-size="4.4" font-weight="bold" fill="#d2632c" text-anchor="end" textLength="28.2" lengthAdjust="spacingAndGlyphs">34 - Gland_E</text>
<text transform="translate(191.5,451.0) rotate(-45)" font-size="4.4" font-weight="bold" fill="#d2632c" text-anchor="end" textLength="27.3" lengthAdjust="spacingAndGlyphs">35 - Gland_F</text>
<text transform="translate(195.1,451.0) rotate(-45)" font-size="4.4" font-weight="bold" fill="#d2632c" text-anchor="end" textLength="38.3" lengthAdjust="spacingAndGlyphs">36 - Gland_G</text>
<text transform="translate(198.7,451.0) rotate(-45)" font-size="4.4" font-weight="bold" fill="#d2632c" text-anchor="end" textLength="31.7" lengthAdjust="spacingAndGlyphs">37 - Endo_1</text>
<text transform="translate(202.3,451.0) rotate(-45)" font-size="4.4" font-weight="bold" fill="#d9b49a" text-anchor="end" textLength="32.9" lengthAdjust="spacingAndGlyphs">38 - Endo_2</text>
<text transform="translate(205.9,451.0) rotate(-45)" font-size="4.4" font-weight="bold" fill="#d9b49a" text-anchor="end" textLength="25.3" lengthAdjust="spacingAndGlyphs">39 - Endo_3</text>
<text transform="translate(209.6,451.0) rotate(-45)" font-size="4.4" font-weight="bold" fill="#d9b49a" text-anchor="end" textLength="44.7" lengthAdjust="spacingAndGlyphs">40 - Muscle</text>
<text transform="translate(213.2,451.0) rotate(-45)" font-size="4.4" font-weight="bold" fill="#22d3ee" text-anchor="end" textLength="33.7" lengthAdjust="spacingAndGlyphs">41 - Ecto_Mix</text>
<text transform="translate(216.8,451.0) rotate(-45)" font-size="4.4" font-weight="bold" fill="#e6a817" text-anchor="end" textLength="29.5" lengthAdjust="spacingAndGlyphs">42 - Other_1</text>
<text transform="translate(220.4,451.0) rotate(-45)" font-size="4.4" font-weight="bold" fill="#a8a8a8" text-anchor="end" textLength="26.6" lengthAdjust="spacingAndGlyphs">43 - Other_2</text>
<text transform="translate(224.0,451.0) rotate(-45)" font-size="4.4" font-weight="bold" fill="#a8a8a8" text-anchor="end" textLength="44.3" lengthAdjust="spacingAndGlyphs">44 - Other_3</text>
<text transform="translate(227.7,451.0) rotate(-45)" font-size="4.4" font-weight="bold" fill="#a8a8a8" text-anchor="end" textLength="40.9" lengthAdjust="spacingAndGlyphs">45 - Other_4</text>
<text transform="translate(231.3,451.0) rotate(-45)" font-size="4.4" font-weight="bold" fill="#a8a8a8" text-anchor="end" textLength="36.3" lengthAdjust="spacingAndGlyphs">46 - Other_5</text>
<text transform="translate(234.9,451.0) rotate(-45)" font-size="4.4" font-weight="bold" fill="#a8a8a8" text-anchor="end" textLength="27.0" lengthAdjust="spacingAndGlyphs">47 - Other_6</text>
<text x="140.6" y="496.9" font-size="12" fill="#000" font-weight="bold" text-anchor="middle" textLength="52.4" lengthAdjust="spacingAndGlyphs">Cell clusters</text>
<text transform="translate(48.3,340.5) rotate(-90)" font-size="6.6" font-weight="bold" text-anchor="middle" textLength="44.5" lengthAdjust="spacingAndGlyphs">Gene modules</text>
<text x="3.5" y="296.5" font-size="5.2" fill="#000" font-weight="bold" textLength="16.5" lengthAdjust="spacingAndGlyphs">Module</text>
<text x="3.5" y="301.8" font-size="5.2" fill="#000" font-weight="bold" textLength="24.6" lengthAdjust="spacingAndGlyphs">annotation</text>
<rect x="3.40" y="303.20" width="5.40" height="5.30" fill="#7b2fc8" stroke="none" stroke-width="0.4"/>
<text x="10.3" y="307.3" font-size="3.9" fill="#222">Progenitor</text>
<rect x="3.40" y="308.50" width="5.40" height="5.20" fill="#0000ff" stroke="none" stroke-width="0.4"/>
<text x="10.3" y="312.5" font-size="3.9" fill="#222">Pan-neural</text>
<rect x="3.40" y="313.70" width="5.40" height="5.30" fill="#86c3ee" stroke="none" stroke-width="0.4"/>
<text x="10.3" y="317.8" font-size="3.9" fill="#222">Pan-peptidergic</text>
<rect x="3.40" y="319.00" width="5.40" height="5.00" fill="#b0c4de" stroke="none" stroke-width="0.4"/>
<text x="10.3" y="322.9" font-size="3.9" fill="#222">Neural-specific</text>
<rect x="3.40" y="324.00" width="5.40" height="7.40" fill="#3cc47a" stroke="none" stroke-width="0.4"/>
<rect x="3.40" y="331.40" width="5.40" height="7.50" fill="#ee72ee" stroke="none" stroke-width="0.4"/>
<rect x="3.40" y="338.90" width="5.40" height="5.70" fill="#ffa07a" stroke="none" stroke-width="0.4"/>
<text x="10.3" y="343.2" font-size="3.9" fill="#222">Secretory</text>
<rect x="3.40" y="345.00" width="5.40" height="4.60" fill="#f7f7f7" stroke="#999" stroke-width="0.4"/>
<text x="10.3" y="348.7" font-size="3.9" fill="#222">Mixed</text>
<rect x="3.40" y="349.60" width="5.40" height="5.10" fill="#f7f7f7" stroke="#999" stroke-width="0.4"/>
<text x="10.3" y="353.6" font-size="3.9" fill="#222">Other</text>
<text x="10.3" y="327.2" font-size="3.9" fill="#222">Neural-specific -</text>
<text x="10.3" y="331.2" font-size="3.9" fill="#222">Late cnidocyte</text>
<text x="10.3" y="334.8" font-size="3.9" fill="#222">Developing</text>
<text x="10.3" y="338.8" font-size="3.9" fill="#222">cnidocyte</text>
<text x="3.5" y="365.4" font-size="5.2" fill="#000" font-weight="bold" textLength="16.5" lengthAdjust="spacingAndGlyphs">Module</text>
<text x="3.5" y="370.8" font-size="5.2" fill="#000" font-weight="bold" textLength="26.0" lengthAdjust="spacingAndGlyphs">eigengenes</text>
<defs><linearGradient id="eg" x1="0" y1="0" x2="0" y2="1"><stop offset="0" stop-color="#ff0000"/><stop offset="0.48" stop-color="#ffffff"/><stop offset="1" stop-color="#1010ff"/></linearGradient></defs>
<rect x="3.50" y="372.20" width="5.10" height="25.80" fill="url(#eg)" stroke="none" stroke-width="1"/>
<text x="10.1" y="374.0" font-size="3.3" fill="#444">&gt;=0.75</text>
<text x="10.1" y="378.2" font-size="3.3" fill="#444">0.5</text>
<text x="10.1" y="382.4" font-size="3.3" fill="#444">0.25</text>
<text x="10.1" y="386.6" font-size="3.3" fill="#444">0</text>
<text x="10.1" y="390.8" font-size="3.3" fill="#444">-0.25</text>
<text x="10.1" y="395.0" font-size="3.3" fill="#444">-0.5</text>
<text x="10.1" y="399.2" font-size="3.3" fill="#444">&lt;=-0.75</text>
<text x="24.8" y="383.9" font-size="8" fill="#000" font-weight="bold" textLength="22.3" lengthAdjust="spacingAndGlyphs">Neural-</text>
<text x="24.8" y="392.6" font-size="8" fill="#000" font-weight="bold" textLength="22.3" lengthAdjust="spacingAndGlyphs">specific</text>
<text x="24.5" y="422.6" font-size="7.5" fill="#000" font-weight="bold" textLength="22.5" lengthAdjust="spacingAndGlyphs">Broadly</text>
<text x="24.5" y="431.3" font-size="7.5" fill="#000" font-weight="bold" textLength="26.1" lengthAdjust="spacingAndGlyphs">neuronal</text>
<text x="237.5" y="230.6" font-size="18" fill="#000" font-weight="bold" textLength="13.0" lengthAdjust="spacingAndGlyphs">D</text>
<rect x="255.60" y="436.80" width="4.60" height="4.25" fill="#7b2fc8" stroke="none" stroke-width="1"/>
<rect x="255.60" y="432.59" width="4.60" height="4.25" fill="#ffffff" stroke="none" stroke-width="1"/>
<rect x="255.60" y="428.39" width="4.60" height="4.25" fill="#0000ff" stroke="none" stroke-width="1"/>
<rect x="255.60" y="424.18" width="4.60" height="4.25" fill="#0000ff" stroke="none" stroke-width="1"/>
<rect x="255.60" y="419.98" width="4.60" height="4.25" fill="#0000ff" stroke="none" stroke-width="1"/>
<rect x="255.60" y="415.77" width="4.60" height="4.25" fill="#86c3ee" stroke="none" stroke-width="1"/>
<rect x="255.60" y="411.57" width="4.60" height="4.25" fill="#b0c4de" stroke="none" stroke-width="1"/>
<rect x="255.60" y="407.37" width="4.60" height="4.25" fill="#b0c4de" stroke="none" stroke-width="1"/>
<rect x="255.60" y="403.16" width="4.60" height="4.25" fill="#b0c4de" stroke="none" stroke-width="1"/>
<rect x="255.60" y="398.96" width="4.60" height="4.25" fill="#b0c4de" stroke="none" stroke-width="1"/>
<rect x="255.60" y="394.75" width="4.60" height="4.25" fill="#b0c4de" stroke="none" stroke-width="1"/>
<rect x="255.60" y="390.55" width="4.60" height="4.25" fill="#b0c4de" stroke="none" stroke-width="1"/>
<rect x="255.60" y="386.35" width="4.60" height="4.25" fill="#b0c4de" stroke="none" stroke-width="1"/>
<rect x="255.60" y="382.14" width="4.60" height="4.25" fill="#b0c4de" stroke="none" stroke-width="1"/>
<rect x="255.60" y="377.94" width="4.60" height="4.25" fill="#b0c4de" stroke="none" stroke-width="1"/>
<rect x="255.60" y="373.73" width="4.60" height="4.25" fill="#b0c4de" stroke="none" stroke-width="1"/>
<rect x="255.60" y="369.53" width="4.60" height="4.25" fill="#b0c4de" stroke="none" stroke-width="1"/>
<rect x="255.60" y="365.32" width="4.60" height="4.25" fill="#b0c4de" stroke="none" stroke-width="1"/>
<rect x="255.60" y="361.12" width="4.60" height="4.25" fill="#b0c4de" stroke="none" stroke-width="1"/>
<rect x="255.60" y="356.92" width="4.60" height="4.25" fill="#b0c4de" stroke="none" stroke-width="1"/>
<rect x="255.60" y="352.71" width="4.60" height="4.25" fill="#b0c4de" stroke="none" stroke-width="1"/>
<rect x="255.60" y="348.51" width="4.60" height="4.25" fill="#b0c4de" stroke="none" stroke-width="1"/>
<rect x="255.60" y="344.30" width="4.60" height="4.25" fill="#b0c4de" stroke="none" stroke-width="1"/>
<rect x="255.60" y="340.10" width="4.60" height="4.25" fill="#b0c4de" stroke="none" stroke-width="1"/>
<rect x="255.60" y="335.90" width="4.60" height="4.25" fill="#3cc47a" stroke="none" stroke-width="1"/>
<rect x="255.60" y="331.69" width="4.60" height="4.25" fill="#ee72ee" stroke="none" stroke-width="1"/>
<rect x="255.60" y="327.49" width="4.60" height="4.25" fill="#ffa07a" stroke="none" stroke-width="1"/>
<rect x="255.60" y="323.28" width="4.60" height="4.25" fill="#ffa07a" stroke="none" stroke-width="1"/>
<rect x="255.60" y="319.08" width="4.60" height="4.25" fill="#ffa07a" stroke="none" stroke-width="1"/>
<rect x="255.60" y="314.88" width="4.60" height="4.25" fill="#ffa07a" stroke="none" stroke-width="1"/>
<rect x="255.60" y="310.67" width="4.60" height="4.25" fill="#ffa07a" stroke="none" stroke-width="1"/>
<rect x="255.60" y="306.47" width="4.60" height="4.25" fill="#ffa07a" stroke="none" stroke-width="1"/>
<rect x="255.60" y="302.26" width="4.60" height="4.25" fill="#ffa07a" stroke="none" stroke-width="1"/>
<rect x="255.60" y="298.06" width="4.60" height="4.25" fill="#ffa07a" stroke="none" stroke-width="1"/>
<rect x="255.60" y="293.85" width="4.60" height="4.25" fill="#ffa07a" stroke="none" stroke-width="1"/>
<rect x="255.60" y="289.65" width="4.60" height="4.25" fill="#ffa07a" stroke="none" stroke-width="1"/>
<rect x="255.60" y="285.45" width="4.60" height="4.25" fill="#ffa07a" stroke="none" stroke-width="1"/>
<rect x="255.60" y="281.24" width="4.60" height="4.25" fill="#ffa07a" stroke="none" stroke-width="1"/>
<rect x="255.60" y="277.04" width="4.60" height="4.25" fill="#f0f0f0" stroke="none" stroke-width="1"/>
<rect x="255.60" y="272.83" width="4.60" height="4.25" fill="#f0f0f0" stroke="none" stroke-width="1"/>
<rect x="255.60" y="268.63" width="4.60" height="4.25" fill="#f0f0f0" stroke="none" stroke-width="1"/>
<rect x="255.60" y="264.43" width="4.60" height="4.25" fill="#f0f0f0" stroke="none" stroke-width="1"/>
<rect x="255.60" y="260.22" width="4.60" height="4.25" fill="#f0f0f0" stroke="none" stroke-width="1"/>
<rect x="255.60" y="256.02" width="4.60" height="4.25" fill="#f0f0f0" stroke="none" stroke-width="1"/>
<rect x="255.60" y="251.81" width="4.60" height="4.25" fill="#f0f0f0" stroke="none" stroke-width="1"/>
<rect x="255.60" y="247.61" width="4.60" height="4.25" fill="#f0f0f0" stroke="none" stroke-width="1"/>
<rect x="255.60" y="243.40" width="4.60" height="4.25" fill="#f0f0f0" stroke="none" stroke-width="1"/>
<rect x="255.60" y="239.20" width="4.60" height="4.25" fill="#f0f0f0" stroke="none" stroke-width="1"/>
<line x1="255.50" y1="239.20" x2="255.50" y2="441.00" stroke="#7a6a60" stroke-width="0.6"/>
<text x="253.4" y="440.4" font-size="4.3" fill="#444" text-anchor="end">1</text>
<line x1="253.80" y1="438.90" x2="255.50" y2="438.90" stroke="#777" stroke-width="0.35"/>
<text x="253.4" y="436.2" font-size="4.3" fill="#444" text-anchor="end">2</text>
<line x1="253.80" y1="434.69" x2="255.50" y2="434.69" stroke="#777" stroke-width="0.35"/>
<text x="253.4" y="432.0" font-size="4.3" fill="#444" text-anchor="end">3</text>
<line x1="253.80" y1="430.49" x2="255.50" y2="430.49" stroke="#777" stroke-width="0.35"/>
<text x="253.4" y="427.8" font-size="4.3" fill="#444" text-anchor="end">4</text>
<line x1="253.80" y1="426.29" x2="255.50" y2="426.29" stroke="#777" stroke-width="0.35"/>
<text x="253.4" y="423.6" font-size="4.3" fill="#444" text-anchor="end">5</text>
<line x1="253.80" y1="422.08" x2="255.50" y2="422.08" stroke="#777" stroke-width="0.35"/>
<text x="253.4" y="419.4" font-size="4.3" fill="#444" text-anchor="end">6</text>
<line x1="253.80" y1="417.88" x2="255.50" y2="417.88" stroke="#777" stroke-width="0.35"/>
<text x="253.4" y="415.2" font-size="4.3" fill="#444" text-anchor="end">7</text>
<line x1="253.80" y1="413.67" x2="255.50" y2="413.67" stroke="#777" stroke-width="0.35"/>
<text x="253.4" y="411.0" font-size="4.3" fill="#444" text-anchor="end">8</text>
<line x1="253.80" y1="409.47" x2="255.50" y2="409.47" stroke="#777" stroke-width="0.35"/>
<text x="253.4" y="406.8" font-size="4.3" fill="#444" text-anchor="end">9</text>
<line x1="253.80" y1="405.26" x2="255.50" y2="405.26" stroke="#777" stroke-width="0.35"/>
<text x="253.4" y="402.6" font-size="4.3" fill="#444" text-anchor="end">10</text>
<line x1="253.80" y1="401.06" x2="255.50" y2="401.06" stroke="#777" stroke-width="0.35"/>
<text x="253.4" y="398.4" font-size="4.3" fill="#444" text-anchor="end">11</text>
<line x1="253.80" y1="396.86" x2="255.50" y2="396.86" stroke="#777" stroke-width="0.35"/>
<text x="253.4" y="394.2" font-size="4.3" fill="#444" text-anchor="end">12</text>
<line x1="253.80" y1="392.65" x2="255.50" y2="392.65" stroke="#777" stroke-width="0.35"/>
<text x="253.4" y="389.9" font-size="4.3" fill="#444" text-anchor="end">13</text>
<line x1="253.80" y1="388.45" x2="255.50" y2="388.45" stroke="#777" stroke-width="0.35"/>
<text x="253.4" y="385.7" font-size="4.3" fill="#444" text-anchor="end">14</text>
<line x1="253.80" y1="384.24" x2="255.50" y2="384.24" stroke="#777" stroke-width="0.35"/>
<text x="253.4" y="381.5" font-size="4.3" fill="#444" text-anchor="end">15</text>
<line x1="253.80" y1="380.04" x2="255.50" y2="380.04" stroke="#777" stroke-width="0.35"/>
<text x="253.4" y="377.3" font-size="4.3" fill="#444" text-anchor="end">16</text>
<line x1="253.80" y1="375.84" x2="255.50" y2="375.84" stroke="#777" stroke-width="0.35"/>
<text x="253.4" y="373.1" font-size="4.3" fill="#444" text-anchor="end">17</text>
<line x1="253.80" y1="371.63" x2="255.50" y2="371.63" stroke="#777" stroke-width="0.35"/>
<text x="253.4" y="368.9" font-size="4.3" fill="#444" text-anchor="end">18</text>
<line x1="253.80" y1="367.43" x2="255.50" y2="367.43" stroke="#777" stroke-width="0.35"/>
<text x="253.4" y="364.7" font-size="4.3" fill="#444" text-anchor="end">19</text>
<line x1="253.80" y1="363.22" x2="255.50" y2="363.22" stroke="#777" stroke-width="0.35"/>
<text x="253.4" y="360.5" font-size="4.3" fill="#444" text-anchor="end">20</text>
<line x1="253.80" y1="359.02" x2="255.50" y2="359.02" stroke="#777" stroke-width="0.35"/>
<text x="253.4" y="356.3" font-size="4.3" fill="#444" text-anchor="end">21</text>
<line x1="253.80" y1="354.81" x2="255.50" y2="354.81" stroke="#777" stroke-width="0.35"/>
<text x="253.4" y="352.1" font-size="4.3" fill="#444" text-anchor="end">22</text>
<line x1="253.80" y1="350.61" x2="255.50" y2="350.61" stroke="#777" stroke-width="0.35"/>
<text x="253.4" y="347.9" font-size="4.3" fill="#444" text-anchor="end">23</text>
<line x1="253.80" y1="346.41" x2="255.50" y2="346.41" stroke="#777" stroke-width="0.35"/>
<text x="253.4" y="343.7" font-size="4.3" fill="#444" text-anchor="end">24</text>
<line x1="253.80" y1="342.20" x2="255.50" y2="342.20" stroke="#777" stroke-width="0.35"/>
<text x="253.4" y="339.5" font-size="4.3" fill="#444" text-anchor="end">25</text>
<line x1="253.80" y1="338.00" x2="255.50" y2="338.00" stroke="#777" stroke-width="0.35"/>
<text x="253.4" y="335.3" font-size="4.3" fill="#444" text-anchor="end">26</text>
<line x1="253.80" y1="333.79" x2="255.50" y2="333.79" stroke="#777" stroke-width="0.35"/>
<text x="253.4" y="331.1" font-size="4.3" fill="#444" text-anchor="end">27</text>
<line x1="253.80" y1="329.59" x2="255.50" y2="329.59" stroke="#777" stroke-width="0.35"/>
<text x="253.4" y="326.9" font-size="4.3" fill="#444" text-anchor="end">28</text>
<line x1="253.80" y1="325.39" x2="255.50" y2="325.39" stroke="#777" stroke-width="0.35"/>
<text x="253.4" y="322.7" font-size="4.3" fill="#444" text-anchor="end">29</text>
<line x1="253.80" y1="321.18" x2="255.50" y2="321.18" stroke="#777" stroke-width="0.35"/>
<text x="253.4" y="318.5" font-size="4.3" fill="#444" text-anchor="end">30</text>
<line x1="253.80" y1="316.98" x2="255.50" y2="316.98" stroke="#777" stroke-width="0.35"/>
<text x="253.4" y="314.3" font-size="4.3" fill="#444" text-anchor="end">31</text>
<line x1="253.80" y1="312.77" x2="255.50" y2="312.77" stroke="#777" stroke-width="0.35"/>
<text x="253.4" y="310.1" font-size="4.3" fill="#444" text-anchor="end">32</text>
<line x1="253.80" y1="308.57" x2="255.50" y2="308.57" stroke="#777" stroke-width="0.35"/>
<text x="253.4" y="305.9" font-size="4.3" fill="#444" text-anchor="end">33</text>
<line x1="253.80" y1="304.36" x2="255.50" y2="304.36" stroke="#777" stroke-width="0.35"/>
<text x="253.4" y="301.7" font-size="4.3" fill="#444" text-anchor="end">34</text>
<line x1="253.80" y1="300.16" x2="255.50" y2="300.16" stroke="#777" stroke-width="0.35"/>
<text x="253.4" y="297.5" font-size="4.3" fill="#444" text-anchor="end">35</text>
<line x1="253.80" y1="295.96" x2="255.50" y2="295.96" stroke="#777" stroke-width="0.35"/>
<text x="253.4" y="293.3" font-size="4.3" fill="#444" text-anchor="end">36</text>
<line x1="253.80" y1="291.75" x2="255.50" y2="291.75" stroke="#777" stroke-width="0.35"/>
<text x="253.4" y="289.0" font-size="4.3" fill="#444" text-anchor="end">37</text>
<line x1="253.80" y1="287.55" x2="255.50" y2="287.55" stroke="#777" stroke-width="0.35"/>
<text x="253.4" y="284.8" font-size="4.3" fill="#444" text-anchor="end">38</text>
<line x1="253.80" y1="283.34" x2="255.50" y2="283.34" stroke="#777" stroke-width="0.35"/>
<text x="253.4" y="280.6" font-size="4.3" fill="#444" text-anchor="end">39</text>
<line x1="253.80" y1="279.14" x2="255.50" y2="279.14" stroke="#777" stroke-width="0.35"/>
<text x="253.4" y="276.4" font-size="4.3" fill="#444" text-anchor="end">40</text>
<line x1="253.80" y1="274.94" x2="255.50" y2="274.94" stroke="#777" stroke-width="0.35"/>
<text x="253.4" y="272.2" font-size="4.3" fill="#444" text-anchor="end">41</text>
<line x1="253.80" y1="270.73" x2="255.50" y2="270.73" stroke="#777" stroke-width="0.35"/>
<text x="253.4" y="268.0" font-size="4.3" fill="#444" text-anchor="end">42</text>
<line x1="253.80" y1="266.53" x2="255.50" y2="266.53" stroke="#777" stroke-width="0.35"/>
<text x="253.4" y="263.8" font-size="4.3" fill="#444" text-anchor="end">43</text>
<line x1="253.80" y1="262.32" x2="255.50" y2="262.32" stroke="#777" stroke-width="0.35"/>
<text x="253.4" y="259.6" font-size="4.3" fill="#444" text-anchor="end">44</text>
<line x1="253.80" y1="258.12" x2="255.50" y2="258.12" stroke="#777" stroke-width="0.35"/>
<text x="253.4" y="255.4" font-size="4.3" fill="#444" text-anchor="end">45</text>
<line x1="253.80" y1="253.91" x2="255.50" y2="253.91" stroke="#777" stroke-width="0.35"/>
<text x="253.4" y="251.2" font-size="4.3" fill="#444" text-anchor="end">46</text>
<line x1="253.80" y1="249.71" x2="255.50" y2="249.71" stroke="#777" stroke-width="0.35"/>
<text x="253.4" y="247.0" font-size="4.3" fill="#444" text-anchor="end">47</text>
<line x1="253.80" y1="245.51" x2="255.50" y2="245.51" stroke="#777" stroke-width="0.35"/>
<text x="253.4" y="242.8" font-size="4.3" fill="#444" text-anchor="end">48</text>
<line x1="253.80" y1="241.30" x2="255.50" y2="241.30" stroke="#777" stroke-width="0.35"/>
<rect x="264.40" y="229.60" width="40.90" height="8.90" fill="#fff" stroke="#6e6e6e" stroke-width="0.8"/>
<text x="284.9" y="236.3" font-size="6.3" fill="#1a1a1a" font-weight="bold" text-anchor="middle">bHLH</text>
<rect x="264.40" y="238.60" width="40.90" height="202.40" fill="#fff" stroke="none" stroke-width="1"/>
<path fill="#b4b4ff" d="M281.5 251.8h0.7v4.2h-0.7zM296.4 373.7h0.5v4.2h-0.5zM279.6 436.8h0.5v8.4h-0.5zM300.8 377.9h0.7v4.2h-0.7zM295.0 340.1h0.7v8.4h-0.7zM286.1 348.5h0.7v4.2h-0.7zM296.8 239.2h0.5v4.2h-0.5zM293.4 289.6h0.7v8.4h-0.7zM266.8 260.2h0.5v4.2h-0.5zM291.3 411.6h0.5v4.2h-0.5zM297.2 289.6h0.7v4.2h-0.7zM281.1 365.3h0.7v4.2h-0.7zM303.6 352.7h0.7v8.4h-0.7zM271.5 415.8h0.5v8.4h-0.5zM288.4 289.6h0.7v4.2h-0.7zM269.7 272.8h0.7v4.2h-0.7zM278.7 394.8h0.5v4.2h-0.5zM300.8 420.0h0.7v4.2h-0.7zM266.8 256.0h0.7v4.2h-0.7zM302.3 415.8h0.7v4.2h-0.7zM291.0 335.9h0.5v4.2h-0.5zM296.3 319.1h0.5v8.4h-0.5zM298.2 432.6h0.5v4.2h-0.5zM280.5 394.8h0.5v4.2h-0.5zM293.4 340.1h0.7v4.2h-0.7zM285.6 264.4h0.5v8.4h-0.5zM274.0 411.6h0.8v4.2h-0.8zM273.1 411.6h1.8v4.2h-1.8zM275.9 394.8h0.6v4.2h-0.6zM279.3 377.9h0.8v4.2h-0.8zM278.4 369.5h0.6v4.2h-0.6zM279.6 369.5h0.6v4.2h-0.6zM281.5 361.1h1.0v4.2h-1.0zM282.1 361.1h1.8v4.2h-1.8zM282.3 356.9h1.0v4.2h-1.0zM284.0 348.5h0.6v4.2h-0.6zM283.9 348.5h1.0v4.2h-1.0zM284.1 344.3h1.8v4.2h-1.8zM283.4 344.3h1.0v4.2h-1.0zM285.3 335.9h1.2v4.2h-1.2zM286.2 327.5h1.2v4.2h-1.2zM288.8 306.5h0.8v4.2h-0.8zM290.6 298.1h0.8v4.2h-0.8zM294.5 268.6h1.0v4.2h-1.0zM270.6 428.4h1.5v4.2h-1.5zM281.3 420.0h1.0v4.2h-1.0zM278.1 428.4h1.5v4.2h-1.5zM277.9 428.4h1.5v4.2h-1.5zM283.4 420.0h0.6v4.2h-0.6zM284.5 428.4h0.6v4.2h-0.6zM268.8 428.4h1.5v4.2h-1.5zM270.3 428.4h1.0v4.2h-1.0zM269.5 415.8h0.6v4.2h-0.6zM275.6 428.4h1.0v4.2h-1.0zM276.2 420.0h0.6v4.2h-0.6zM267.1 424.2h1.5v4.2h-1.5zM279.4 428.4h0.6v4.2h-0.6zM269.8 415.8h1.0v4.2h-1.0zM282.1 420.0h1.0v4.2h-1.0zM269.2 424.2h1.5v4.2h-1.5zM269.7 415.8h1.5v4.2h-1.5zM276.5 420.0h1.0v4.2h-1.0zM290.7 424.2h1.0v4.2h-1.0zM295.1 428.4h1.5v4.2h-1.5zM270.5 424.2h1.0v4.2h-1.0zM288.8 415.8h0.6v4.2h-0.6zM271.1 415.8h1.5v4.2h-1.5zM266.8 424.2h1.0v4.2h-1.0zM272.1 420.0h0.6v4.2h-0.6zM299.2 420.0h0.6v4.2h-0.6zM287.2 420.0h1.0v4.2h-1.0zM274.0 428.4h0.6v4.2h-0.6zM273.5 415.8h1.5v4.2h-1.5zM286.6 428.4h0.6v4.2h-0.6zM276.8 420.0h0.6v4.2h-0.6zM281.7 424.2h1.0v4.2h-1.0zM287.7 428.4h0.6v4.2h-0.6zM271.9 428.4h0.6v4.2h-0.6zM278.1 424.2h1.5v4.2h-1.5zM285.2 428.4h1.0v4.2h-1.0zM273.9 428.4h0.6v4.2h-0.6zM267.1 420.0h1.5v4.2h-1.5zM268.0 428.4h1.5v4.2h-1.5zM299.2 428.4h0.6v4.2h-0.6zM277.8 415.8h1.5v4.2h-1.5zM275.9 420.0h0.6v4.2h-0.6zM268.4 420.0h1.0v4.2h-1.0zM283.7 424.2h1.5v4.2h-1.5zM294.5 424.2h0.6v4.2h-0.6zM287.8 428.4h1.0v4.2h-1.0zM300.5 256.0h0.8v4.2h-0.8z"/>
<path fill="#0000ff" d="M267.0 436.8h1.8v4.2h-1.8zM265.2 436.8h1.2v4.2h-1.2zM269.1 432.6h0.8v4.2h-0.8zM269.2 432.6h0.6v4.2h-0.6zM277.2 386.3h1.0v4.2h-1.0zM276.4 382.1h1.8v4.2h-1.8zM284.2 340.1h1.2v4.2h-1.2zM285.6 327.5h0.6v4.2h-0.6zM287.4 323.3h0.6v4.2h-0.6zM291.2 281.2h1.0v4.2h-1.0zM290.6 281.2h1.2v4.2h-1.2zM294.9 277.0h0.6v4.2h-0.6zM292.2 277.0h0.8v4.2h-0.8zM292.4 277.0h1.8v4.2h-1.8zM294.1 272.8h1.2v4.2h-1.2zM293.5 272.8h0.8v4.2h-0.8zM294.0 272.8h0.8v4.2h-0.8zM294.8 268.6h0.6v4.2h-0.6zM296.6 268.6h1.8v4.2h-1.8zM295.9 264.4h1.2v4.2h-1.2zM295.7 264.4h1.2v4.2h-1.2zM297.9 260.2h1.2v4.2h-1.2zM299.9 256.0h1.0v4.2h-1.0zM300.1 251.8h1.2v4.2h-1.2zM302.8 247.6h0.8v4.2h-0.8zM302.1 243.4h1.0v4.2h-1.0zM301.9 243.4h1.2v4.2h-1.2zM272.2 428.4h1.0v4.2h-1.0zM284.1 428.4h0.6v4.2h-0.6zM287.7 420.0h1.5v4.2h-1.5zM268.6 420.0h0.6v4.2h-0.6zM291.3 424.2h1.0v4.2h-1.0zM289.6 424.2h1.0v4.2h-1.0zM278.3 424.2h1.5v4.2h-1.5zM283.1 428.4h1.5v4.2h-1.5zM273.9 424.2h1.0v4.2h-1.0zM273.9 420.0h1.0v4.2h-1.0zM275.1 424.2h0.6v4.2h-0.6zM287.5 424.2h1.5v4.2h-1.5zM279.0 428.4h1.5v4.2h-1.5zM269.2 420.0h1.0v4.2h-1.0zM274.2 424.2h1.0v4.2h-1.0zM284.3 420.0h1.5v4.2h-1.5zM267.7 420.0h1.5v4.2h-1.5zM288.0 424.2h1.0v4.2h-1.0zM276.1 424.2h0.6v4.2h-0.6zM294.0 251.8h1.2v4.2h-1.2zM297.0 247.6h0.8v4.2h-0.8zM295.5 251.8h2.0v4.2h-2.0zM296.2 251.8h0.8v4.2h-0.8zM301.3 251.8h0.8v4.2h-0.8zM302.1 256.0h0.8v4.2h-0.8zM296.5 256.0h1.2v4.2h-1.2zM301.3 264.4h0.8v4.2h-0.8zM302.4 247.6h2.0v4.2h-2.0z"/>
<line x1="264.40" y1="238.60" x2="264.40" y2="441.00" stroke="#a8a8a8" stroke-width="1.4"/>
<line x1="305.30" y1="238.60" x2="305.30" y2="441.00" stroke="#a8a8a8" stroke-width="1.4"/>
<line x1="264.40" y1="441.00" x2="305.30" y2="441.00" stroke="#6e6e6e" stroke-width="0.8"/>
<rect x="306.50" y="229.60" width="30.90" height="8.90" fill="#fff" stroke="#6e6e6e" stroke-width="0.8"/>
<text x="321.9" y="236.3" font-size="6.3" fill="#1a1a1a" font-weight="bold" text-anchor="middle">bZIP</text>
<rect x="306.50" y="238.60" width="30.90" height="202.40" fill="#fff" stroke="none" stroke-width="1"/>
<path fill="#e9c2ff" d="M323.9 432.6h0.7v4.2h-0.7zM321.2 361.1h0.5v4.2h-0.5zM329.5 403.2h0.5v4.2h-0.5zM326.4 340.1h0.7v4.2h-0.7zM309.0 399.0h0.5v4.2h-0.5zM328.9 403.2h0.7v4.2h-0.7zM315.2 407.4h0.5v8.4h-0.5zM332.1 239.2h0.5v8.4h-0.5zM313.7 373.7h0.5v4.2h-0.5zM316.1 268.6h0.7v4.2h-0.7zM319.6 432.6h0.5v4.2h-0.5zM312.2 382.1h0.5v4.2h-0.5zM331.6 407.4h0.5v8.4h-0.5zM331.5 369.5h0.7v4.2h-0.7zM327.1 415.8h0.5v8.4h-0.5zM311.6 264.4h0.5v4.2h-0.5zM313.3 411.6h1.0v4.2h-1.0zM315.6 394.8h1.8v4.2h-1.8zM316.2 394.8h0.8v4.2h-0.8zM323.4 344.3h0.6v4.2h-0.6zM326.6 331.7h1.0v4.2h-1.0zM327.0 331.7h1.2v4.2h-1.2zM327.9 323.3h1.0v4.2h-1.0zM328.4 310.7h0.8v4.2h-0.8zM330.8 293.9h1.0v4.2h-1.0zM332.6 285.4h1.8v4.2h-1.8zM333.4 281.2h1.8v4.2h-1.8zM333.4 272.8h1.0v4.2h-1.0zM333.2 264.4h0.6v4.2h-0.6zM334.2 260.2h0.8v4.2h-0.8zM332.9 256.0h1.2v4.2h-1.2zM333.1 247.6h1.2v4.2h-1.2zM333.3 247.6h0.6v4.2h-0.6zM325.5 424.2h0.6v4.2h-0.6zM322.7 428.4h0.6v4.2h-0.6zM313.5 415.8h1.5v4.2h-1.5zM309.9 424.2h1.0v4.2h-1.0zM309.3 424.2h1.5v4.2h-1.5zM320.3 428.4h0.6v4.2h-0.6zM312.1 415.8h0.6v4.2h-0.6zM311.9 415.8h0.6v4.2h-0.6zM312.6 420.0h1.5v4.2h-1.5zM314.7 428.4h0.6v4.2h-0.6zM319.3 420.0h1.5v4.2h-1.5zM310.1 428.4h0.6v4.2h-0.6zM322.0 415.8h1.5v4.2h-1.5zM308.5 424.2h1.0v4.2h-1.0zM310.5 415.8h1.5v4.2h-1.5zM329.3 420.0h1.5v4.2h-1.5zM316.4 415.8h1.5v4.2h-1.5zM309.9 424.2h0.6v4.2h-0.6zM310.1 428.4h1.5v4.2h-1.5zM319.3 424.2h0.6v4.2h-0.6zM321.2 420.0h1.5v4.2h-1.5zM330.2 424.2h1.0v4.2h-1.0zM321.1 424.2h1.5v4.2h-1.5zM325.0 415.8h1.0v4.2h-1.0zM328.7 424.2h0.6v4.2h-0.6zM309.0 415.8h0.6v4.2h-0.6zM320.7 415.8h1.0v4.2h-1.0zM324.1 428.4h1.5v4.2h-1.5zM318.1 420.0h0.6v4.2h-0.6zM324.3 424.2h1.0v4.2h-1.0zM310.3 420.0h1.0v4.2h-1.0zM323.7 420.0h1.0v4.2h-1.0zM336.5 256.0h0.8v4.2h-0.8zM334.1 256.0h1.2v4.2h-1.2zM333.0 251.8h0.8v4.2h-0.8zM330.2 251.8h2.0v4.2h-2.0zM332.0 264.4h0.8v4.2h-0.8z"/>
<path fill="#bb33ff" d="M324.2 340.1h1.2v4.2h-1.2zM331.1 298.1h0.8v4.2h-0.8zM309.7 428.4h1.5v4.2h-1.5zM327.3 428.4h1.0v4.2h-1.0zM315.2 420.0h1.5v4.2h-1.5zM312.2 428.4h0.6v4.2h-0.6zM311.5 428.4h1.0v4.2h-1.0zM311.6 420.0h1.5v4.2h-1.5zM317.3 428.4h0.6v4.2h-0.6zM310.3 424.2h1.0v4.2h-1.0zM311.7 428.4h1.5v4.2h-1.5zM312.1 420.0h0.6v4.2h-0.6zM316.8 428.4h1.5v4.2h-1.5zM311.5 415.8h1.5v4.2h-1.5zM308.8 424.2h1.0v4.2h-1.0zM317.4 420.0h1.5v4.2h-1.5zM312.9 428.4h0.6v4.2h-0.6zM324.6 415.8h0.6v4.2h-0.6zM313.9 428.4h1.5v4.2h-1.5zM325.1 415.8h1.0v4.2h-1.0zM309.2 424.2h1.0v4.2h-1.0zM322.9 420.0h1.0v4.2h-1.0zM318.6 428.4h0.6v4.2h-0.6zM325.1 428.4h1.0v4.2h-1.0zM311.2 420.0h1.0v4.2h-1.0zM331.3 268.6h1.2v4.2h-1.2zM331.7 251.8h1.2v4.2h-1.2z"/>
<line x1="306.50" y1="238.60" x2="306.50" y2="441.00" stroke="#a8a8a8" stroke-width="1.4"/>
<line x1="337.40" y1="238.60" x2="337.40" y2="441.00" stroke="#a8a8a8" stroke-width="1.4"/>
<line x1="306.50" y1="441.00" x2="337.40" y2="441.00" stroke="#6e6e6e" stroke-width="0.8"/>
<rect x="338.60" y="229.60" width="71.40" height="8.90" fill="#fff" stroke="#6e6e6e" stroke-width="0.8"/>
<text x="374.3" y="236.3" font-size="6.3" fill="#1a1a1a" font-weight="bold" text-anchor="middle">Homeodomain</text>
<rect x="338.60" y="238.60" width="71.40" height="202.40" fill="#fff" stroke="none" stroke-width="1"/>
<path fill="#ffb9a0" d="M345.6 420.0h0.7v8.4h-0.7zM355.3 377.9h0.5v4.2h-0.5zM353.6 243.4h0.7v4.2h-0.7zM353.2 239.2h0.7v4.2h-0.7zM396.5 415.8h0.5v4.2h-0.5zM402.8 407.4h0.7v8.4h-0.7zM407.3 340.1h0.5v4.2h-0.5zM341.9 403.2h0.7v8.4h-0.7zM371.6 247.6h0.7v4.2h-0.7zM343.1 348.5h0.7v4.2h-0.7zM348.7 428.4h0.5v4.2h-0.5zM398.1 369.5h0.5v8.4h-0.5zM357.5 428.4h0.7v4.2h-0.7zM393.6 310.7h0.5v4.2h-0.5zM390.5 268.6h0.5v4.2h-0.5zM354.6 348.5h0.7v4.2h-0.7zM383.7 352.7h0.5v4.2h-0.5zM407.1 310.7h0.5v4.2h-0.5zM349.2 428.4h0.7v4.2h-0.7zM396.8 352.7h0.7v4.2h-0.7zM343.1 394.8h0.5v4.2h-0.5zM368.5 399.0h0.7v4.2h-0.7zM353.9 340.1h0.7v4.2h-0.7zM400.0 432.6h0.5v4.2h-0.5zM377.0 268.6h0.5v8.4h-0.5zM363.0 394.8h0.5v4.2h-0.5zM350.4 314.9h0.7v8.4h-0.7zM396.9 420.0h0.7v8.4h-0.7zM349.8 407.4h0.7v4.2h-0.7zM407.0 289.6h0.7v8.4h-0.7zM359.2 407.4h0.7v4.2h-0.7zM396.3 310.7h0.5v4.2h-0.5zM389.7 314.9h0.7v4.2h-0.7zM398.9 247.6h0.7v4.2h-0.7zM374.9 264.4h0.7v4.2h-0.7zM365.6 428.4h0.7v4.2h-0.7zM392.4 377.9h0.7v4.2h-0.7zM345.2 352.7h0.7v8.4h-0.7zM375.5 377.9h0.7v4.2h-0.7zM394.5 293.9h0.5v4.2h-0.5zM366.4 436.8h0.5v8.4h-0.5zM386.8 415.8h0.5v4.2h-0.5zM386.1 251.8h0.5v8.4h-0.5zM367.0 348.5h0.5v4.2h-0.5zM345.0 285.4h0.7v8.4h-0.7zM372.9 420.0h0.5v8.4h-0.5zM398.1 264.4h0.7v4.2h-0.7zM361.0 386.3h0.7v4.2h-0.7zM389.2 344.3h0.7v4.2h-0.7zM370.7 365.3h0.5v4.2h-0.5zM348.5 424.2h0.7v8.4h-0.7zM384.2 399.0h0.7v4.2h-0.7zM402.3 365.3h0.7v4.2h-0.7zM392.1 369.5h0.7v4.2h-0.7zM363.0 399.0h0.5v8.4h-0.5zM378.3 327.5h1.8v4.2h-1.8zM378.3 323.3h0.8v4.2h-0.8zM380.2 319.1h0.6v4.2h-0.6zM380.6 314.9h0.6v4.2h-0.6zM380.3 314.9h1.2v4.2h-1.2zM383.2 298.1h0.8v4.2h-0.8zM383.7 293.9h1.0v4.2h-1.0zM382.8 289.6h0.8v4.2h-0.8zM399.6 256.0h0.6v4.2h-0.6zM378.7 415.8h0.6v4.2h-0.6zM362.5 424.2h0.6v4.2h-0.6zM398.3 415.8h0.6v4.2h-0.6zM343.9 424.2h1.0v4.2h-1.0zM347.5 424.2h1.0v4.2h-1.0zM351.9 415.8h1.5v4.2h-1.5zM346.7 415.8h1.5v4.2h-1.5zM383.8 424.2h1.0v4.2h-1.0zM373.4 424.2h1.0v4.2h-1.0zM377.7 415.8h0.6v4.2h-0.6zM356.8 420.0h0.6v4.2h-0.6zM344.6 428.4h1.0v4.2h-1.0zM343.9 428.4h0.6v4.2h-0.6zM400.6 247.6h2.0v4.2h-2.0zM393.4 251.8h1.2v4.2h-1.2zM392.5 247.6h1.2v4.2h-1.2zM406.5 268.6h2.0v4.2h-2.0zM394.3 251.8h2.0v4.2h-2.0zM401.0 256.0h2.0v4.2h-2.0z"/>
<path fill="#ee4400" d="M340.6 436.8h1.2v4.2h-1.2zM340.2 432.6h0.8v4.2h-0.8zM343.4 411.6h1.2v4.2h-1.2zM341.7 411.6h1.0v4.2h-1.0zM345.9 407.4h0.6v4.2h-0.6zM346.7 403.2h1.0v4.2h-1.0zM346.5 403.2h0.8v4.2h-0.8zM347.6 399.0h0.8v4.2h-0.8zM349.0 399.0h1.2v4.2h-1.2zM350.5 394.8h1.2v4.2h-1.2zM351.3 394.8h1.0v4.2h-1.0zM349.0 394.8h1.8v4.2h-1.8zM353.4 390.6h0.8v4.2h-0.8zM353.0 386.3h1.0v4.2h-1.0zM355.0 386.3h1.0v4.2h-1.0zM357.0 382.1h0.6v4.2h-0.6zM358.0 377.9h1.2v4.2h-1.2zM358.3 377.9h1.8v4.2h-1.8zM356.9 377.9h0.6v4.2h-0.6zM359.8 373.7h1.2v4.2h-1.2zM359.9 373.7h1.2v4.2h-1.2zM358.8 373.7h0.8v4.2h-0.8zM360.2 369.5h0.8v4.2h-0.8zM363.8 365.3h0.8v4.2h-0.8zM365.0 361.1h1.8v4.2h-1.8zM367.1 361.1h1.8v4.2h-1.8zM368.5 356.9h1.8v4.2h-1.8zM368.4 356.9h1.2v4.2h-1.2zM368.5 356.9h1.8v4.2h-1.8zM370.8 352.7h0.8v4.2h-0.8zM370.2 352.7h0.6v4.2h-0.6zM372.0 348.5h0.8v4.2h-0.8zM372.7 344.3h0.8v4.2h-0.8zM373.0 344.3h1.8v4.2h-1.8zM376.1 340.1h1.2v4.2h-1.2zM375.9 340.1h0.6v4.2h-0.6zM375.1 340.1h1.0v4.2h-1.0zM379.0 335.9h1.0v4.2h-1.0zM377.1 335.9h0.6v4.2h-0.6zM378.8 327.5h1.2v4.2h-1.2zM381.5 319.1h1.2v4.2h-1.2zM379.6 319.1h0.6v4.2h-0.6zM382.1 310.7h1.8v4.2h-1.8zM382.2 306.5h0.6v4.2h-0.6zM382.5 302.3h0.6v4.2h-0.6zM380.0 302.3h0.6v4.2h-0.6zM385.0 285.4h1.8v4.2h-1.8zM387.3 285.4h1.8v4.2h-1.8zM385.7 277.0h1.0v4.2h-1.0zM386.4 277.0h1.2v4.2h-1.2zM387.9 277.0h0.6v4.2h-0.6zM388.7 272.8h1.8v4.2h-1.8zM391.8 268.6h1.8v4.2h-1.8zM393.0 268.6h0.6v4.2h-0.6zM394.5 264.4h1.0v4.2h-1.0zM393.7 264.4h1.0v4.2h-1.0zM397.0 260.2h1.2v4.2h-1.2zM400.2 251.8h1.2v4.2h-1.2zM401.9 251.8h0.6v4.2h-0.6zM401.3 251.8h1.2v4.2h-1.2zM404.4 247.6h0.6v4.2h-0.6zM404.2 247.6h0.6v4.2h-0.6zM404.3 243.4h0.6v4.2h-0.6zM407.0 243.4h1.0v4.2h-1.0zM358.5 420.0h1.0v4.2h-1.0zM351.5 428.4h1.5v4.2h-1.5zM369.0 424.2h0.6v4.2h-0.6zM405.5 420.0h1.0v4.2h-1.0zM342.8 428.4h0.6v4.2h-0.6zM359.6 424.2h1.5v4.2h-1.5zM353.1 415.8h1.5v4.2h-1.5zM344.2 420.0h1.0v4.2h-1.0zM355.0 428.4h1.5v4.2h-1.5zM393.1 428.4h1.5v4.2h-1.5zM403.6 424.2h1.5v4.2h-1.5zM391.0 247.6h2.0v4.2h-2.0zM397.0 256.0h2.0v4.2h-2.0zM407.5 256.0h1.2v4.2h-1.2zM403.8 264.4h1.2v4.2h-1.2zM407.1 251.8h2.0v4.2h-2.0zM398.3 251.8h0.8v4.2h-0.8zM404.8 251.8h1.2v4.2h-1.2zM396.6 251.8h0.8v4.2h-0.8zM407.3 268.6h2.0v4.2h-2.0zM396.3 268.6h0.8v4.2h-0.8zM393.5 264.4h1.2v4.2h-1.2z"/>
<line x1="338.60" y1="238.60" x2="338.60" y2="441.00" stroke="#a8a8a8" stroke-width="1.4"/>
<line x1="410.00" y1="238.60" x2="410.00" y2="441.00" stroke="#a8a8a8" stroke-width="1.4"/>
<line x1="338.60" y1="441.00" x2="410.00" y2="441.00" stroke="#6e6e6e" stroke-width="0.8"/>
<rect x="411.80" y="229.60" width="134.00" height="8.90" fill="#fff" stroke="#6e6e6e" stroke-width="0.8"/>
<text x="478.8" y="236.3" font-size="6.3" fill="#1a1a1a" font-weight="bold" text-anchor="middle">ZF</text>
<rect x="411.80" y="238.60" width="134.00" height="202.40" fill="#fff" stroke="none" stroke-width="1"/>
<path fill="#9fd6d6" d="M526.8 382.1h0.5v8.4h-0.5zM468.2 382.1h0.5v8.4h-0.5zM417.6 386.3h0.5v4.2h-0.5zM538.4 348.5h0.7v4.2h-0.7zM450.9 386.3h0.7v4.2h-0.7zM488.6 407.4h0.5v4.2h-0.5zM466.6 289.6h0.5v4.2h-0.5zM485.5 382.1h0.5v4.2h-0.5zM448.1 285.4h0.5v4.2h-0.5zM526.4 298.1h0.5v4.2h-0.5zM512.1 356.9h0.5v4.2h-0.5zM488.2 424.2h0.5v4.2h-0.5zM532.0 344.3h0.5v8.4h-0.5zM465.4 348.5h0.7v4.2h-0.7zM434.0 365.3h0.5v4.2h-0.5zM522.9 340.1h0.7v8.4h-0.7zM456.8 369.5h0.5v4.2h-0.5zM457.1 373.7h0.7v4.2h-0.7zM434.8 394.8h0.5v8.4h-0.5zM517.9 399.0h0.5v8.4h-0.5zM487.9 352.7h0.7v4.2h-0.7zM455.4 377.9h0.7v4.2h-0.7zM466.3 399.0h0.7v8.4h-0.7zM507.0 293.9h0.5v8.4h-0.5zM483.6 365.3h0.5v4.2h-0.5zM421.3 432.6h0.5v4.2h-0.5zM542.8 428.4h0.5v8.4h-0.5zM535.3 377.9h0.5v4.2h-0.5zM436.5 340.1h0.7v4.2h-0.7zM445.1 403.2h0.7v4.2h-0.7zM510.5 382.1h0.5v8.4h-0.5zM428.2 369.5h0.5v4.2h-0.5zM524.7 340.1h0.5v4.2h-0.5zM455.1 260.2h0.5v4.2h-0.5zM518.7 399.0h0.7v8.4h-0.7zM472.1 268.6h0.5v4.2h-0.5zM430.6 399.0h0.7v4.2h-0.7zM464.8 428.4h0.7v4.2h-0.7zM513.6 411.6h0.5v8.4h-0.5zM489.6 403.2h0.7v4.2h-0.7zM459.2 340.1h0.7v4.2h-0.7zM426.5 432.6h0.7v4.2h-0.7zM451.2 310.7h0.5v4.2h-0.5zM418.9 352.7h0.5v4.2h-0.5zM518.3 239.2h0.5v4.2h-0.5zM454.5 310.7h0.5v4.2h-0.5zM530.1 340.1h0.7v4.2h-0.7zM504.3 365.3h0.5v4.2h-0.5zM533.4 256.0h0.5v8.4h-0.5zM437.3 340.1h0.7v4.2h-0.7zM500.8 310.7h0.5v8.4h-0.5zM455.2 285.4h0.7v8.4h-0.7zM534.5 428.4h0.5v4.2h-0.5zM476.3 382.1h0.5v4.2h-0.5zM540.0 251.8h0.7v4.2h-0.7zM463.1 348.5h0.7v4.2h-0.7zM447.6 432.6h0.5v8.4h-0.5zM465.3 377.9h0.5v4.2h-0.5zM416.3 415.8h0.5v8.4h-0.5zM507.5 382.1h0.7v8.4h-0.7zM525.0 352.7h0.5v4.2h-0.5zM466.4 268.6h0.7v4.2h-0.7zM446.0 420.0h0.7v4.2h-0.7zM476.5 243.4h0.5v4.2h-0.5zM422.8 377.9h0.5v4.2h-0.5zM415.8 293.9h0.7v8.4h-0.7zM443.9 386.3h0.7v4.2h-0.7zM485.4 277.0h0.7v4.2h-0.7zM464.6 369.5h0.7v8.4h-0.7zM435.3 436.8h0.5v4.2h-0.5zM437.5 365.3h0.7v8.4h-0.7zM532.4 369.5h0.5v4.2h-0.5zM483.6 415.8h0.5v4.2h-0.5zM485.0 302.3h0.5v4.2h-0.5zM494.9 361.1h0.5v4.2h-0.5zM536.3 432.6h0.7v4.2h-0.7zM419.2 293.9h0.5v8.4h-0.5zM426.2 340.1h0.5v4.2h-0.5zM443.2 373.7h0.5v4.2h-0.5zM443.3 361.1h0.5v8.4h-0.5zM513.4 407.4h0.5v4.2h-0.5zM506.5 386.3h0.7v8.4h-0.7zM521.8 247.6h0.5v4.2h-0.5zM442.7 373.7h0.7v4.2h-0.7zM448.4 335.9h0.5v4.2h-0.5zM509.1 331.7h0.5v8.4h-0.5zM441.3 436.8h0.5v4.2h-0.5zM473.6 432.6h0.7v4.2h-0.7zM465.3 403.2h0.5v8.4h-0.5zM449.4 377.9h0.5v4.2h-0.5zM542.3 394.8h0.7v8.4h-0.7zM449.0 428.4h0.7v8.4h-0.7zM448.0 428.4h0.7v8.4h-0.7zM486.9 394.8h0.5v4.2h-0.5zM430.3 411.6h0.7v8.4h-0.7zM532.8 310.7h0.5v8.4h-0.5zM434.5 436.8h0.7v4.2h-0.7zM513.8 281.2h0.7v8.4h-0.7zM478.4 348.5h0.5v4.2h-0.5zM526.6 264.4h0.7v4.2h-0.7zM521.0 348.5h0.7v4.2h-0.7zM509.4 373.7h0.5v4.2h-0.5zM421.5 428.4h0.5v4.2h-0.5zM535.2 365.3h0.5v4.2h-0.5zM472.2 260.2h0.7v4.2h-0.7zM429.7 420.0h0.7v4.2h-0.7zM454.8 256.0h0.5v4.2h-0.5zM528.2 436.8h0.5v4.2h-0.5zM442.6 361.1h0.5v4.2h-0.5zM422.5 243.4h0.5v8.4h-0.5zM540.1 373.7h0.7v4.2h-0.7zM519.7 340.1h0.7v4.2h-0.7zM535.1 352.7h0.7v4.2h-0.7zM506.1 424.2h0.5v4.2h-0.5zM474.5 436.8h0.7v4.2h-0.7zM428.7 285.4h0.7v8.4h-0.7zM431.8 361.1h0.7v4.2h-0.7zM498.9 306.5h0.7v4.2h-0.7zM533.0 382.1h0.7v4.2h-0.7zM435.2 277.0h0.7v4.2h-0.7zM451.0 365.3h0.5v8.4h-0.5zM532.8 344.3h0.5v4.2h-0.5zM525.7 268.6h0.5v4.2h-0.5zM456.4 390.6h0.7v4.2h-0.7zM517.6 348.5h0.5v8.4h-0.5zM527.5 386.3h0.7v4.2h-0.7zM479.6 365.3h0.5v4.2h-0.5zM530.5 420.0h0.5v8.4h-0.5zM466.6 428.4h0.5v4.2h-0.5zM482.9 369.5h0.5v4.2h-0.5zM502.3 436.8h0.7v4.2h-0.7zM496.3 243.4h0.7v4.2h-0.7zM418.0 432.6h0.7v8.4h-0.7zM467.3 432.6h0.5v4.2h-0.5zM451.1 352.7h0.5v4.2h-0.5zM498.1 251.8h0.5v4.2h-0.5zM496.1 298.1h0.7v4.2h-0.7zM485.8 394.8h0.7v4.2h-0.7zM434.8 251.8h0.5v4.2h-0.5zM456.6 365.3h0.5v8.4h-0.5zM456.6 386.3h0.7v4.2h-0.7zM444.4 436.8h0.5v4.2h-0.5zM501.3 327.5h0.5v8.4h-0.5zM470.3 310.7h0.5v4.2h-0.5zM490.9 298.1h0.7v4.2h-0.7zM535.4 285.4h0.5v4.2h-0.5zM540.0 356.9h0.7v8.4h-0.7zM512.4 327.5h0.7v8.4h-0.7zM500.1 331.7h1.2v4.2h-1.2zM499.9 331.7h0.8v4.2h-0.8zM502.7 327.5h0.6v4.2h-0.6zM502.9 323.3h0.8v4.2h-0.8zM505.8 319.1h1.8v4.2h-1.8zM506.6 314.9h1.8v4.2h-1.8zM504.1 314.9h1.8v4.2h-1.8zM509.2 306.5h1.8v4.2h-1.8zM512.5 302.3h0.6v4.2h-0.6zM512.2 302.3h1.0v4.2h-1.0zM517.4 289.6h1.8v4.2h-1.8zM519.6 285.4h1.0v4.2h-1.0zM517.4 285.4h0.6v4.2h-0.6zM520.8 281.2h0.8v4.2h-0.8zM432.7 428.4h0.6v4.2h-0.6zM436.9 424.2h1.0v4.2h-1.0zM454.7 428.4h0.6v4.2h-0.6zM466.1 420.0h0.6v4.2h-0.6zM476.8 420.0h1.0v4.2h-1.0zM461.2 424.2h0.6v4.2h-0.6zM449.9 424.2h1.5v4.2h-1.5zM441.8 428.4h1.0v4.2h-1.0zM416.8 424.2h0.6v4.2h-0.6zM439.0 428.4h1.0v4.2h-1.0zM422.9 424.2h1.5v4.2h-1.5zM443.6 428.4h0.6v4.2h-0.6zM450.0 420.0h1.5v4.2h-1.5zM473.6 420.0h1.5v4.2h-1.5zM429.8 420.0h1.5v4.2h-1.5zM468.0 424.2h1.0v4.2h-1.0zM475.5 424.2h1.0v4.2h-1.0zM438.1 428.4h1.5v4.2h-1.5zM456.9 428.4h1.5v4.2h-1.5zM430.1 420.0h1.0v4.2h-1.0zM450.2 415.8h1.5v4.2h-1.5zM440.8 424.2h1.5v4.2h-1.5zM444.1 428.4h0.6v4.2h-0.6zM417.4 415.8h1.5v4.2h-1.5zM467.3 420.0h1.0v4.2h-1.0zM464.2 420.0h0.6v4.2h-0.6zM448.4 424.2h1.5v4.2h-1.5zM459.8 415.8h1.5v4.2h-1.5zM431.2 420.0h1.5v4.2h-1.5zM458.6 428.4h0.6v4.2h-0.6zM426.9 428.4h0.6v4.2h-0.6zM422.6 415.8h0.6v4.2h-0.6zM425.9 420.0h1.5v4.2h-1.5zM449.7 424.2h0.6v4.2h-0.6zM417.5 424.2h1.5v4.2h-1.5zM466.9 420.0h0.6v4.2h-0.6zM419.6 428.4h0.6v4.2h-0.6zM465.7 428.4h0.6v4.2h-0.6zM453.6 420.0h1.0v4.2h-1.0zM442.0 424.2h1.0v4.2h-1.0zM432.2 428.4h0.6v4.2h-0.6zM466.9 415.8h0.6v4.2h-0.6zM447.3 424.2h1.0v4.2h-1.0zM424.6 428.4h1.5v4.2h-1.5zM426.3 428.4h1.0v4.2h-1.0zM439.4 424.2h1.5v4.2h-1.5zM432.7 428.4h0.6v4.2h-0.6zM470.7 420.0h0.6v4.2h-0.6zM471.7 420.0h1.0v4.2h-1.0zM466.0 415.8h1.0v4.2h-1.0zM442.2 420.0h1.0v4.2h-1.0zM464.8 424.2h1.5v4.2h-1.5zM447.2 428.4h1.5v4.2h-1.5zM436.4 428.4h1.0v4.2h-1.0zM422.5 415.8h0.6v4.2h-0.6zM418.8 424.2h1.0v4.2h-1.0zM429.6 428.4h0.6v4.2h-0.6zM422.7 424.2h1.5v4.2h-1.5zM419.3 420.0h0.6v4.2h-0.6zM436.6 420.0h1.5v4.2h-1.5zM455.4 420.0h1.5v4.2h-1.5zM429.7 415.8h1.5v4.2h-1.5zM423.1 424.2h0.6v4.2h-0.6zM423.3 420.0h1.5v4.2h-1.5zM465.2 428.4h1.5v4.2h-1.5zM421.6 424.2h0.6v4.2h-0.6zM463.9 420.0h0.6v4.2h-0.6zM459.6 428.4h1.0v4.2h-1.0zM427.8 424.2h1.5v4.2h-1.5zM465.0 420.0h0.6v4.2h-0.6zM425.0 428.4h1.5v4.2h-1.5zM439.0 420.0h1.0v4.2h-1.0zM429.6 424.2h1.0v4.2h-1.0zM426.2 415.8h1.0v4.2h-1.0zM422.6 420.0h1.0v4.2h-1.0zM454.5 420.0h0.6v4.2h-0.6zM443.0 420.0h1.0v4.2h-1.0zM464.9 424.2h1.5v4.2h-1.5zM523.6 256.0h0.8v4.2h-0.8zM530.8 256.0h1.2v4.2h-1.2zM522.2 251.8h2.0v4.2h-2.0zM530.6 251.8h1.2v4.2h-1.2zM517.5 256.0h0.8v4.2h-0.8zM539.6 264.4h1.2v4.2h-1.2zM517.8 251.8h0.8v4.2h-0.8zM519.5 264.4h2.0v4.2h-2.0zM537.5 251.8h1.2v4.2h-1.2zM534.4 264.4h0.8v4.2h-0.8zM517.7 268.6h1.2v4.2h-1.2zM508.8 264.4h2.0v4.2h-2.0zM509.2 247.6h0.8v4.2h-0.8zM529.9 251.8h1.2v4.2h-1.2zM541.8 251.8h1.2v4.2h-1.2z"/>
<path fill="#008b8b" d="M412.8 436.8h1.8v4.2h-1.8zM416.9 436.8h1.2v4.2h-1.2zM412.6 436.8h0.8v4.2h-0.8zM417.1 432.6h1.0v4.2h-1.0zM415.8 432.6h1.2v4.2h-1.2zM443.9 411.6h1.8v4.2h-1.8zM448.2 407.4h1.2v4.2h-1.2zM448.2 407.4h0.6v4.2h-0.6zM447.4 407.4h1.8v4.2h-1.8zM451.0 403.2h1.2v4.2h-1.2zM453.6 399.0h1.2v4.2h-1.2zM456.6 394.8h0.6v4.2h-0.6zM457.8 390.6h0.8v4.2h-0.8zM460.7 390.6h1.0v4.2h-1.0zM461.1 386.3h0.6v4.2h-0.6zM463.3 386.3h0.8v4.2h-0.8zM461.6 386.3h1.2v4.2h-1.2zM466.1 382.1h1.2v4.2h-1.2zM465.8 382.1h1.8v4.2h-1.8zM468.7 377.9h1.8v4.2h-1.8zM470.4 377.9h1.0v4.2h-1.0zM472.3 373.7h1.0v4.2h-1.0zM468.0 373.7h0.6v4.2h-0.6zM475.8 369.5h1.0v4.2h-1.0zM474.6 369.5h0.8v4.2h-0.8zM473.8 369.5h1.2v4.2h-1.2zM475.7 365.3h1.2v4.2h-1.2zM478.5 365.3h1.8v4.2h-1.8zM477.1 361.1h1.2v4.2h-1.2zM480.5 361.1h1.8v4.2h-1.8zM484.0 356.9h1.2v4.2h-1.2zM482.7 356.9h1.8v4.2h-1.8zM487.4 352.7h0.6v4.2h-0.6zM491.2 348.5h1.8v4.2h-1.8zM493.1 344.3h1.2v4.2h-1.2zM491.3 344.3h0.6v4.2h-0.6zM496.0 340.1h1.0v4.2h-1.0zM494.0 340.1h1.2v4.2h-1.2zM508.3 310.7h0.8v4.2h-0.8zM508.1 310.7h1.2v4.2h-1.2zM509.3 306.5h1.2v4.2h-1.2zM511.1 306.5h1.0v4.2h-1.0zM513.6 298.1h1.2v4.2h-1.2zM514.4 289.6h1.0v4.2h-1.0zM518.9 289.6h1.2v4.2h-1.2zM519.6 285.4h1.8v4.2h-1.8zM521.6 277.0h1.8v4.2h-1.8zM523.4 277.0h0.8v4.2h-0.8zM524.6 277.0h1.0v4.2h-1.0zM521.8 272.8h0.6v4.2h-0.6zM527.2 268.6h0.6v4.2h-0.6zM527.1 268.6h1.8v4.2h-1.8zM525.8 268.6h0.8v4.2h-0.8zM530.0 264.4h1.8v4.2h-1.8zM529.5 260.2h1.2v4.2h-1.2zM533.4 260.2h1.2v4.2h-1.2zM536.1 256.0h0.8v4.2h-0.8zM535.6 251.8h1.8v4.2h-1.8zM539.3 251.8h1.8v4.2h-1.8zM539.0 247.6h0.8v4.2h-0.8zM542.2 243.4h1.2v4.2h-1.2zM463.4 428.4h1.0v4.2h-1.0zM419.7 420.0h1.0v4.2h-1.0zM419.7 428.4h0.6v4.2h-0.6zM427.4 420.0h0.6v4.2h-0.6zM418.1 420.0h0.6v4.2h-0.6zM419.2 420.0h1.5v4.2h-1.5zM422.2 420.0h1.0v4.2h-1.0zM444.0 428.4h0.6v4.2h-0.6zM470.5 415.8h0.6v4.2h-0.6zM454.4 424.2h1.5v4.2h-1.5zM460.7 424.2h1.0v4.2h-1.0zM433.6 424.2h1.5v4.2h-1.5zM419.7 424.2h0.6v4.2h-0.6zM445.0 420.0h1.0v4.2h-1.0zM418.9 428.4h1.0v4.2h-1.0zM423.8 420.0h0.6v4.2h-0.6zM421.1 415.8h1.5v4.2h-1.5zM421.0 424.2h0.6v4.2h-0.6zM422.4 420.0h1.0v4.2h-1.0zM418.4 420.0h1.5v4.2h-1.5zM448.2 428.4h1.5v4.2h-1.5zM468.6 424.2h0.6v4.2h-0.6zM448.5 428.4h0.6v4.2h-0.6zM422.0 424.2h1.0v4.2h-1.0zM459.4 424.2h0.6v4.2h-0.6zM418.9 428.4h1.5v4.2h-1.5zM440.7 424.2h1.0v4.2h-1.0zM417.6 420.0h0.6v4.2h-0.6zM426.0 420.0h1.0v4.2h-1.0zM454.9 428.4h1.0v4.2h-1.0zM457.2 424.2h0.6v4.2h-0.6zM434.4 420.0h1.5v4.2h-1.5zM418.9 420.0h1.0v4.2h-1.0zM418.4 424.2h0.6v4.2h-0.6zM440.2 428.4h1.5v4.2h-1.5zM445.1 428.4h1.5v4.2h-1.5zM455.0 424.2h1.0v4.2h-1.0zM419.9 428.4h1.0v4.2h-1.0zM452.0 420.0h0.6v4.2h-0.6zM455.4 424.2h1.0v4.2h-1.0zM432.2 428.4h1.0v4.2h-1.0zM427.2 428.4h0.6v4.2h-0.6zM454.3 428.4h1.5v4.2h-1.5zM443.3 424.2h1.5v4.2h-1.5zM440.0 424.2h0.6v4.2h-0.6zM433.9 428.4h1.5v4.2h-1.5zM425.1 424.2h0.6v4.2h-0.6zM457.6 428.4h0.6v4.2h-0.6zM472.0 428.4h1.0v4.2h-1.0zM454.0 428.4h0.6v4.2h-0.6zM421.6 424.2h1.0v4.2h-1.0zM427.6 428.4h1.5v4.2h-1.5zM434.2 428.4h1.5v4.2h-1.5zM422.4 424.2h1.0v4.2h-1.0zM429.6 424.2h0.6v4.2h-0.6zM418.2 428.4h0.6v4.2h-0.6zM471.3 415.8h1.5v4.2h-1.5zM419.5 428.4h0.6v4.2h-0.6zM462.6 424.2h1.5v4.2h-1.5zM465.8 424.2h1.0v4.2h-1.0zM448.0 420.0h1.5v4.2h-1.5zM446.3 420.0h1.5v4.2h-1.5zM475.9 428.4h1.5v4.2h-1.5zM432.2 428.4h1.5v4.2h-1.5zM418.5 420.0h1.0v4.2h-1.0zM462.5 420.0h1.0v4.2h-1.0zM421.1 424.2h1.0v4.2h-1.0zM454.2 420.0h0.6v4.2h-0.6zM454.4 420.0h1.5v4.2h-1.5zM525.5 247.6h1.2v4.2h-1.2zM524.7 247.6h1.2v4.2h-1.2zM542.0 247.6h2.0v4.2h-2.0zM535.6 268.6h0.8v4.2h-0.8zM517.3 268.6h1.2v4.2h-1.2zM521.7 247.6h1.2v4.2h-1.2zM518.9 268.6h2.0v4.2h-2.0zM524.0 251.8h1.2v4.2h-1.2zM534.1 251.8h0.8v4.2h-0.8zM514.2 264.4h2.0v4.2h-2.0zM520.2 256.0h0.8v4.2h-0.8zM513.1 251.8h0.8v4.2h-0.8zM515.9 251.8h1.2v4.2h-1.2zM538.4 264.4h1.2v4.2h-1.2zM541.7 268.6h0.8v4.2h-0.8zM539.4 268.6h0.8v4.2h-0.8zM514.4 247.6h2.0v4.2h-2.0zM538.7 256.0h2.0v4.2h-2.0z"/>
<line x1="411.80" y1="238.60" x2="411.80" y2="441.00" stroke="#a8a8a8" stroke-width="1.4"/>
<line x1="545.80" y1="238.60" x2="545.80" y2="441.00" stroke="#a8a8a8" stroke-width="1.4"/>
<line x1="411.80" y1="441.00" x2="545.80" y2="441.00" stroke="#6e6e6e" stroke-width="0.8"/>
<rect x="547.60" y="229.60" width="84.70" height="8.90" fill="#fff" stroke="#6e6e6e" stroke-width="0.8"/>
<text x="590.0" y="236.3" font-size="6.3" fill="#1a1a1a" font-weight="bold" text-anchor="middle">Other</text>
<rect x="547.60" y="238.60" width="84.70" height="202.40" fill="#fff" stroke="none" stroke-width="1"/>
<path fill="#c4c4c4" d="M627.9 302.3h0.5v4.2h-0.5zM559.9 293.9h0.7v4.2h-0.7zM610.8 403.2h0.7v8.4h-0.7zM629.6 340.1h0.7v4.2h-0.7zM551.5 285.4h0.5v4.2h-0.5zM550.4 428.4h0.5v8.4h-0.5zM563.0 335.9h0.7v4.2h-0.7zM607.5 361.1h0.5v8.4h-0.5zM592.2 361.1h0.7v8.4h-0.7zM611.6 331.7h0.5v4.2h-0.5zM618.1 356.9h0.5v4.2h-0.5zM623.9 356.9h0.7v4.2h-0.7zM601.9 298.1h0.7v4.2h-0.7zM627.5 403.2h0.5v4.2h-0.5zM594.6 340.1h0.7v4.2h-0.7zM568.3 377.9h0.5v4.2h-0.5zM549.0 394.8h0.5v4.2h-0.5zM557.6 239.2h0.7v8.4h-0.7zM579.3 407.4h0.5v4.2h-0.5zM602.8 361.1h0.7v8.4h-0.7zM626.8 260.2h0.7v4.2h-0.7zM564.7 424.2h0.5v8.4h-0.5zM550.1 386.3h0.7v4.2h-0.7zM626.7 386.3h0.5v4.2h-0.5zM551.6 272.8h0.7v4.2h-0.7zM609.5 386.3h0.5v4.2h-0.5zM568.7 256.0h0.7v4.2h-0.7zM601.1 340.1h0.5v8.4h-0.5zM596.4 348.5h0.7v8.4h-0.7zM592.8 344.3h0.7v4.2h-0.7zM620.2 285.4h0.5v4.2h-0.5zM569.5 247.6h0.5v4.2h-0.5zM603.8 310.7h0.7v8.4h-0.7zM589.1 428.4h0.5v4.2h-0.5zM567.5 403.2h0.5v8.4h-0.5zM626.4 365.3h0.7v8.4h-0.7zM569.9 356.9h0.7v4.2h-0.7zM607.4 298.1h0.7v4.2h-0.7zM618.9 386.3h0.7v8.4h-0.7zM556.7 331.7h0.5v4.2h-0.5zM554.0 365.3h0.7v4.2h-0.7zM560.8 310.7h0.5v8.4h-0.5zM618.4 365.3h0.7v8.4h-0.7zM559.4 327.5h0.7v4.2h-0.7zM570.7 348.5h0.7v4.2h-0.7zM600.7 436.8h0.7v4.2h-0.7zM573.8 340.1h0.5v4.2h-0.5zM595.3 281.2h0.5v4.2h-0.5zM620.9 386.3h0.7v8.4h-0.7zM550.2 386.3h0.7v4.2h-0.7zM614.8 239.2h0.5v4.2h-0.5zM572.1 432.6h0.7v4.2h-0.7zM564.4 356.9h0.5v4.2h-0.5zM551.7 403.2h0.5v4.2h-0.5zM621.1 344.3h0.7v4.2h-0.7zM603.1 432.6h0.5v4.2h-0.5zM625.7 344.3h0.5v4.2h-0.5zM560.5 390.6h0.5v4.2h-0.5zM580.5 348.5h0.5v4.2h-0.5zM602.3 331.7h0.7v4.2h-0.7zM608.1 365.3h0.5v8.4h-0.5zM609.6 365.3h0.7v8.4h-0.7zM597.7 268.6h0.5v4.2h-0.5zM624.3 428.4h0.7v4.2h-0.7zM558.3 373.7h0.5v8.4h-0.5zM558.1 260.2h0.5v4.2h-0.5zM559.8 377.9h0.7v4.2h-0.7zM582.2 365.3h0.7v4.2h-0.7zM582.3 361.1h0.7v4.2h-0.7zM567.5 356.9h0.5v8.4h-0.5zM581.2 331.7h0.7v4.2h-0.7zM580.7 382.1h1.2v4.2h-1.2zM601.8 331.7h0.6v4.2h-0.6zM602.8 327.5h1.8v4.2h-1.8zM604.1 319.1h0.8v4.2h-0.8zM607.3 310.7h1.0v4.2h-1.0zM604.5 302.3h1.2v4.2h-1.2zM605.0 293.9h0.8v4.2h-0.8zM607.2 285.4h0.6v4.2h-0.6zM622.0 256.0h1.0v4.2h-1.0zM567.2 428.4h1.0v4.2h-1.0zM589.1 428.4h0.6v4.2h-0.6zM568.4 420.0h1.0v4.2h-1.0zM579.6 424.2h1.5v4.2h-1.5zM556.7 415.8h1.5v4.2h-1.5zM573.9 428.4h1.5v4.2h-1.5zM586.1 424.2h1.0v4.2h-1.0zM565.6 420.0h1.5v4.2h-1.5zM573.7 428.4h1.0v4.2h-1.0zM551.9 428.4h0.6v4.2h-0.6zM568.0 424.2h0.6v4.2h-0.6zM560.5 424.2h0.6v4.2h-0.6zM582.4 428.4h1.5v4.2h-1.5zM558.9 424.2h0.6v4.2h-0.6zM562.4 424.2h0.6v4.2h-0.6zM551.7 420.0h1.5v4.2h-1.5zM576.9 420.0h0.6v4.2h-0.6zM568.2 424.2h1.5v4.2h-1.5zM572.1 420.0h1.5v4.2h-1.5zM551.2 420.0h0.6v4.2h-0.6zM577.5 424.2h1.0v4.2h-1.0zM552.8 420.0h0.6v4.2h-0.6zM563.8 424.2h1.5v4.2h-1.5zM584.6 424.2h1.0v4.2h-1.0zM551.9 420.0h1.0v4.2h-1.0zM577.9 420.0h1.5v4.2h-1.5zM566.2 420.0h1.5v4.2h-1.5zM569.4 428.4h1.0v4.2h-1.0zM558.1 424.2h0.6v4.2h-0.6zM553.8 424.2h0.6v4.2h-0.6zM584.1 420.0h0.6v4.2h-0.6zM564.1 420.0h1.5v4.2h-1.5zM555.7 420.0h1.0v4.2h-1.0zM572.3 415.8h1.0v4.2h-1.0zM581.2 428.4h1.5v4.2h-1.5zM551.8 420.0h1.0v4.2h-1.0zM585.7 420.0h0.6v4.2h-0.6zM562.0 420.0h1.5v4.2h-1.5zM558.0 415.8h1.0v4.2h-1.0zM566.2 415.8h0.6v4.2h-0.6zM582.8 420.0h0.6v4.2h-0.6zM624.1 268.6h0.8v4.2h-0.8zM628.1 247.6h2.0v4.2h-2.0zM626.9 268.6h1.2v4.2h-1.2zM628.7 256.0h2.0v4.2h-2.0zM616.8 251.8h2.0v4.2h-2.0zM614.9 251.8h2.0v4.2h-2.0z"/>
<path fill="#4d4d4d" d="M548.4 436.8h1.0v4.2h-1.0zM551.9 436.8h0.8v4.2h-0.8zM550.9 432.6h1.2v4.2h-1.2zM551.2 432.6h1.8v4.2h-1.8zM552.3 432.6h0.8v4.2h-0.8zM566.7 411.6h0.8v4.2h-0.8zM565.5 407.4h1.2v4.2h-1.2zM566.6 407.4h1.0v4.2h-1.0zM567.5 407.4h1.8v4.2h-1.8zM569.7 403.2h1.0v4.2h-1.0zM568.6 403.2h1.2v4.2h-1.2zM568.4 403.2h0.6v4.2h-0.6zM571.7 399.0h1.0v4.2h-1.0zM569.7 399.0h0.6v4.2h-0.6zM576.2 394.8h1.2v4.2h-1.2zM573.3 394.8h0.8v4.2h-0.8zM574.5 390.6h1.2v4.2h-1.2zM576.2 390.6h1.2v4.2h-1.2zM576.5 390.6h1.8v4.2h-1.8zM577.8 386.3h0.8v4.2h-0.8zM578.1 386.3h1.2v4.2h-1.2zM577.4 386.3h1.0v4.2h-1.0zM584.3 377.9h1.2v4.2h-1.2zM582.6 377.9h1.2v4.2h-1.2zM582.5 377.9h0.8v4.2h-0.8zM585.4 373.7h1.0v4.2h-1.0zM587.8 369.5h1.2v4.2h-1.2zM588.1 369.5h0.6v4.2h-0.6zM586.7 369.5h0.6v4.2h-0.6zM588.2 365.3h1.2v4.2h-1.2zM590.9 365.3h1.8v4.2h-1.8zM588.4 365.3h1.0v4.2h-1.0zM592.6 361.1h1.0v4.2h-1.0zM591.9 361.1h1.0v4.2h-1.0zM594.9 356.9h1.0v4.2h-1.0zM593.8 356.9h0.6v4.2h-0.6zM595.7 352.7h1.8v4.2h-1.8zM595.6 352.7h0.8v4.2h-0.8zM594.5 352.7h1.8v4.2h-1.8zM598.1 348.5h1.2v4.2h-1.2zM597.8 348.5h0.6v4.2h-0.6zM600.0 344.3h1.2v4.2h-1.2zM601.7 340.1h0.6v4.2h-0.6zM600.3 340.1h0.8v4.2h-0.8zM603.2 327.5h1.8v4.2h-1.8zM603.7 323.3h1.0v4.2h-1.0zM604.4 323.3h1.0v4.2h-1.0zM604.5 323.3h1.0v4.2h-1.0zM602.8 319.1h0.6v4.2h-0.6zM604.6 314.9h1.2v4.2h-1.2zM603.4 314.9h0.8v4.2h-0.8zM605.1 310.7h1.0v4.2h-1.0zM606.6 306.5h1.2v4.2h-1.2zM607.1 298.1h1.2v4.2h-1.2zM606.6 293.9h0.8v4.2h-0.8zM606.5 289.6h1.0v4.2h-1.0zM606.0 289.6h0.6v4.2h-0.6zM606.9 285.4h0.8v4.2h-0.8zM608.2 281.2h0.6v4.2h-0.6zM608.6 277.0h1.8v4.2h-1.8zM609.8 272.8h0.8v4.2h-0.8zM611.9 272.8h1.8v4.2h-1.8zM608.3 272.8h0.8v4.2h-0.8zM614.9 268.6h1.0v4.2h-1.0zM616.3 264.4h0.6v4.2h-0.6zM616.3 264.4h1.2v4.2h-1.2zM619.4 260.2h1.0v4.2h-1.0zM619.3 260.2h1.8v4.2h-1.8zM622.4 251.8h1.2v4.2h-1.2zM624.2 251.8h0.6v4.2h-0.6zM629.1 247.6h1.2v4.2h-1.2zM629.3 243.4h1.0v4.2h-1.0zM562.9 420.0h1.0v4.2h-1.0zM562.0 428.4h1.5v4.2h-1.5zM575.3 424.2h1.0v4.2h-1.0zM571.1 428.4h1.0v4.2h-1.0zM563.1 428.4h1.5v4.2h-1.5zM575.4 428.4h1.0v4.2h-1.0zM561.4 424.2h1.5v4.2h-1.5zM574.3 420.0h1.0v4.2h-1.0zM551.5 424.2h0.6v4.2h-0.6zM551.7 424.2h0.6v4.2h-0.6zM551.4 415.8h1.5v4.2h-1.5zM560.8 424.2h1.5v4.2h-1.5zM556.5 428.4h1.5v4.2h-1.5zM555.9 428.4h1.5v4.2h-1.5zM551.9 428.4h1.0v4.2h-1.0zM588.2 420.0h0.6v4.2h-0.6zM579.2 420.0h0.6v4.2h-0.6zM556.7 420.0h1.0v4.2h-1.0zM582.1 415.8h1.0v4.2h-1.0zM552.6 415.8h1.0v4.2h-1.0zM581.2 424.2h1.5v4.2h-1.5zM564.2 424.2h0.6v4.2h-0.6zM576.4 420.0h1.5v4.2h-1.5zM562.1 420.0h1.5v4.2h-1.5zM584.4 415.8h0.6v4.2h-0.6zM553.4 420.0h0.6v4.2h-0.6zM583.7 428.4h1.0v4.2h-1.0zM568.1 428.4h1.5v4.2h-1.5zM587.6 428.4h1.5v4.2h-1.5zM564.1 415.8h1.0v4.2h-1.0zM551.2 424.2h1.0v4.2h-1.0zM557.0 424.2h0.6v4.2h-0.6zM560.0 424.2h1.0v4.2h-1.0zM552.0 424.2h1.0v4.2h-1.0zM587.4 420.0h0.6v4.2h-0.6zM624.6 251.8h1.2v4.2h-1.2zM622.4 247.6h1.2v4.2h-1.2zM618.7 251.8h2.0v4.2h-2.0zM626.6 247.6h1.2v4.2h-1.2zM621.1 256.0h0.8v4.2h-0.8zM616.7 256.0h0.8v4.2h-0.8zM617.2 264.4h2.0v4.2h-2.0zM627.3 256.0h1.2v4.2h-1.2zM625.0 247.6h0.8v4.2h-0.8zM615.5 247.6h1.2v4.2h-1.2zM615.0 256.0h0.8v4.2h-0.8zM629.6 251.8h0.8v4.2h-0.8zM623.7 264.4h2.0v4.2h-2.0zM624.1 264.4h1.2v4.2h-1.2zM627.7 247.6h1.2v4.2h-1.2z"/>
<line x1="547.60" y1="238.60" x2="547.60" y2="441.00" stroke="#a8a8a8" stroke-width="1.4"/>
<line x1="632.30" y1="238.60" x2="632.30" y2="441.00" stroke="#a8a8a8" stroke-width="1.4"/>
<line x1="547.60" y1="441.00" x2="632.30" y2="441.00" stroke="#6e6e6e" stroke-width="0.8"/>
<rect x="272.00" y="428.39" width="6.00" height="12.61" fill="#0000ff" stroke="none" stroke-width="1"/>
<rect x="265.50" y="436.80" width="4.00" height="4.20" fill="#0000ff" stroke="none" stroke-width="1"/>
<rect x="307.00" y="419.98" width="7.00" height="12.61" fill="#bb33ff" stroke="none" stroke-width="1" fill-opacity="0.6"/>
<rect x="327.50" y="331.69" width="4.50" height="4.20" fill="#bb33ff" stroke="none" stroke-width="1"/>
<rect x="296.00" y="251.81" width="5.00" height="4.20" fill="#0000ff" stroke="none" stroke-width="1"/>
<rect x="386.00" y="251.81" width="22.00" height="4.20" fill="#ee4400" stroke="none" stroke-width="1"/>
<rect x="392.00" y="247.61" width="10.00" height="4.20" fill="#ee4400" stroke="none" stroke-width="1" fill-opacity="0.8"/>
<rect x="382.00" y="264.43" width="26.00" height="4.20" fill="#ee4400" stroke="none" stroke-width="1" fill-opacity="0.85"/>
<rect x="412.50" y="436.80" width="4.00" height="8.41" fill="#008b8b" stroke="none" stroke-width="1"/>
<rect x="423.00" y="419.98" width="15.00" height="12.61" fill="#008b8b" stroke="none" stroke-width="1" fill-opacity="0.85"/>
<rect x="606.00" y="251.81" width="6.00" height="12.61" fill="#4d4d4d" stroke="none" stroke-width="1"/>
<rect x="620.00" y="251.81" width="10.00" height="4.20" fill="#4d4d4d" stroke="none" stroke-width="1"/>
<rect x="548.50" y="436.80" width="4.00" height="8.41" fill="#4d4d4d" stroke="none" stroke-width="1"/>
<line x1="264.40" y1="281.24" x2="632.30" y2="281.24" stroke="#e07b30" stroke-width="0.8"/>
<line x1="264.40" y1="331.69" x2="632.30" y2="331.69" stroke="#e07b30" stroke-width="0.8"/>
<line x1="264.40" y1="335.90" x2="632.30" y2="335.90" stroke="#6a5acd" stroke-width="0.8"/>
<line x1="264.40" y1="340.10" x2="632.30" y2="340.10" stroke="#86ee9a" stroke-width="0.8"/>
<line x1="264.40" y1="415.77" x2="632.30" y2="415.77" stroke="#1c35e6" stroke-width="0.8"/>
<line x1="264.40" y1="432.59" x2="632.30" y2="432.59" stroke="#1c35e6" stroke-width="0.8" stroke-opacity="0.7"/>
<text x="637.2" y="305.7" font-size="7.6" fill="#000" font-weight="bold">TF</text>
<text x="637.2" y="313.8" font-size="7.6" fill="#000" font-weight="bold" textLength="22.5" lengthAdjust="spacingAndGlyphs">family</text>
<rect x="637.20" y="316.30" width="5.60" height="5.85" fill="#0000ff" stroke="none" stroke-width="1"/>
<text x="644.0" y="321.3" font-size="5.8" fill="#333">bHLH</text>
<rect x="637.20" y="322.15" width="5.60" height="5.85" fill="#bb33ff" stroke="none" stroke-width="1"/>
<text x="644.0" y="327.1" font-size="5.8" fill="#333">bZIP</text>
<rect x="637.20" y="328.00" width="5.60" height="5.85" fill="#ee4400" stroke="none" stroke-width="1"/>
<text x="644.0" y="333.0" font-size="5.8" fill="#333" textLength="41.0" lengthAdjust="spacingAndGlyphs">Homeodomain</text>
<rect x="637.20" y="333.85" width="5.60" height="5.85" fill="#008b8b" stroke="none" stroke-width="1"/>
<text x="644.0" y="338.8" font-size="5.8" fill="#333">ZF</text>
<rect x="637.20" y="339.70" width="5.60" height="5.85" fill="#4d4d4d" stroke="none" stroke-width="1"/>
<text x="644.0" y="344.7" font-size="5.8" fill="#333">Other</text>
<text x="637.2" y="359.1" font-size="7.6" fill="#000" font-weight="bold" textLength="27.0" lengthAdjust="spacingAndGlyphs">Module</text>
<text x="637.2" y="367.1" font-size="7.6" fill="#000" font-weight="bold" textLength="46.0" lengthAdjust="spacingAndGlyphs">membership</text>
<rect x="637.20" y="369.40" width="5.60" height="5.80" fill="#c4c4c4" stroke="#888" stroke-width="0.3"/>
<rect x="637.20" y="375.20" width="5.60" height="5.80" fill="#3a3a3a" stroke="none" stroke-width="1"/>
<text x="644.0" y="374.4" font-size="5.8" fill="#333">0.35-0.5</text>
<text x="644.0" y="380.2" font-size="5.8" fill="#333">&gt;=0.5</text>
<text transform="translate(266.2,446.3) rotate(-42)" font-size="5.7" fill="#444" text-anchor="end">Atonal-related_Nem10</text>
<line x1="264.00" y1="441.00" x2="264.00" y2="442.60" stroke="#666" stroke-width="0.5"/>
<text transform="translate(275.8,446.3) rotate(-42)" font-size="5.7" fill="#444" text-anchor="end">NvAshA_Nem17</text>
<line x1="273.60" y1="441.00" x2="273.60" y2="442.60" stroke="#666" stroke-width="0.5"/>
<text transform="translate(294.2,446.3) rotate(-42)" font-size="5.7" fill="#444" text-anchor="end">Nem27</text>
<line x1="292.00" y1="441.00" x2="292.00" y2="442.60" stroke="#666" stroke-width="0.5"/>
<text transform="translate(316.1,446.3) rotate(-42)" font-size="5.7" fill="#444" text-anchor="end">bZIP - Unchar. family</text>
<line x1="313.90" y1="441.00" x2="313.90" y2="442.60" stroke="#666" stroke-width="0.5"/>
<text transform="translate(331.0,446.3) rotate(-42)" font-size="5.7" fill="#444" text-anchor="end">c-Jun</text>
<line x1="328.80" y1="441.00" x2="328.80" y2="442.60" stroke="#666" stroke-width="0.5"/>
<text transform="translate(342.2,446.3) rotate(-42)" font-size="5.7" fill="#444" text-anchor="end">islet</text>
<line x1="340.00" y1="441.00" x2="340.00" y2="442.60" stroke="#666" stroke-width="0.5"/>
<text transform="translate(368.3,446.3) rotate(-42)" font-size="5.7" fill="#444" text-anchor="end">gsx</text>
<line x1="366.10" y1="441.00" x2="366.10" y2="442.60" stroke="#666" stroke-width="0.5"/>
<text transform="translate(379.7,446.3) rotate(-42)" font-size="5.7" fill="#444" text-anchor="end">Nkx6</text>
<line x1="377.50" y1="441.00" x2="377.50" y2="442.60" stroke="#666" stroke-width="0.5"/>
<text transform="translate(405.0,446.3) rotate(-42)" font-size="5.7" fill="#444" text-anchor="end">Anthox8</text>
<line x1="402.80" y1="441.00" x2="402.80" y2="442.60" stroke="#666" stroke-width="0.5"/>
<text transform="translate(445.7,446.3) rotate(-42)" font-size="5.7" fill="#444" text-anchor="end">Prdm14d</text>
<line x1="443.50" y1="441.00" x2="443.50" y2="442.60" stroke="#666" stroke-width="0.5"/>
<text transform="translate(503.6,446.3) rotate(-42)" font-size="5.7" fill="#444" text-anchor="end">ZNF845</text>
<line x1="501.40" y1="441.00" x2="501.40" y2="442.60" stroke="#666" stroke-width="0.5"/>
<text transform="translate(556.5,446.3) rotate(-42)" font-size="5.7" fill="#444" text-anchor="end">SoxC</text>
<line x1="554.30" y1="441.00" x2="554.30" y2="442.60" stroke="#666" stroke-width="0.5"/>
<text transform="translate(559.5,446.3) rotate(-42)" font-size="5.7" fill="#444" text-anchor="end">Etv1/4/5</text>
<line x1="557.30" y1="441.00" x2="557.30" y2="442.60" stroke="#666" stroke-width="0.5"/>
<text transform="translate(563.5,446.3) rotate(-42)" font-size="5.7" fill="#444" text-anchor="end">GATA</text>
<line x1="561.30" y1="441.00" x2="561.30" y2="442.60" stroke="#666" stroke-width="0.5"/>
<text transform="translate(567.5,446.3) rotate(-42)" font-size="5.7" fill="#444" text-anchor="end">SoxB(2)</text>
<line x1="565.30" y1="441.00" x2="565.30" y2="442.60" stroke="#666" stroke-width="0.5"/>
<text transform="translate(572.0,446.3) rotate(-42)" font-size="5.7" fill="#444" text-anchor="end">FBXL2</text>
<line x1="569.80" y1="441.00" x2="569.80" y2="442.60" stroke="#666" stroke-width="0.5"/>
<text transform="translate(606.9,446.3) rotate(-42)" font-size="5.7" fill="#444" text-anchor="end">POUIV</text>
<line x1="604.70" y1="441.00" x2="604.70" y2="442.60" stroke="#666" stroke-width="0.5"/>
<text x="448.3" y="496.4" font-size="9.3" fill="#000" font-weight="bold" text-anchor="middle" textLength="84.0" lengthAdjust="spacingAndGlyphs">Transcription factors</text>
<text x="1.5" y="520.3" font-size="18" fill="#000" font-weight="bold" textLength="11.0" lengthAdjust="spacingAndGlyphs">E</text>
<text x="18.4" y="524.2" font-size="9" fill="#000" font-weight="bold" textLength="105.2" lengthAdjust="spacingAndGlyphs">Gene modules connectivity</text>
<text x="5.7" y="540.3" font-size="7" fill="#000" font-weight="bold" textLength="81.2" lengthAdjust="spacingAndGlyphs">Peptidergic neural modules</text>
<line x1="35.20" y1="552.10" x2="41.50" y2="570.50" stroke="#6a6a6a" stroke-width="0.35"/>
<line x1="21.90" y1="559.30" x2="41.50" y2="570.50" stroke="#6a6a6a" stroke-width="0.35"/>
<line x1="28.60" y1="559.70" x2="41.50" y2="570.50" stroke="#6a6a6a" stroke-width="0.35"/>
<line x1="49.70" y1="558.20" x2="41.50" y2="570.50" stroke="#6a6a6a" stroke-width="0.35"/>
<line x1="22.10" y1="568.90" x2="41.50" y2="570.50" stroke="#6a6a6a" stroke-width="0.35"/>
<line x1="31.10" y1="572.60" x2="41.50" y2="570.50" stroke="#6a6a6a" stroke-width="0.35"/>
<line x1="18.00" y1="577.00" x2="38.40" y2="583.80" stroke="#6a6a6a" stroke-width="0.35"/>
<line x1="26.20" y1="577.70" x2="38.40" y2="583.80" stroke="#6a6a6a" stroke-width="0.35"/>
<line x1="41.50" y1="570.50" x2="62.90" y2="571.50" stroke="#6a6a6a" stroke-width="0.35"/>
<line x1="41.50" y1="570.50" x2="38.40" y2="583.80" stroke="#6a6a6a" stroke-width="0.35"/>
<line x1="38.40" y1="583.80" x2="46.60" y2="583.80" stroke="#6a6a6a" stroke-width="0.35"/>
<line x1="38.40" y1="583.80" x2="37.80" y2="592.40" stroke="#6a6a6a" stroke-width="0.35"/>
<line x1="38.40" y1="583.80" x2="9.80" y2="593.00" stroke="#6a6a6a" stroke-width="0.35"/>
<line x1="38.40" y1="583.80" x2="26.20" y2="597.70" stroke="#6a6a6a" stroke-width="0.35"/>
<line x1="38.40" y1="583.80" x2="53.10" y2="597.10" stroke="#6a6a6a" stroke-width="0.35"/>
<line x1="38.40" y1="583.80" x2="38.40" y2="609.30" stroke="#6a6a6a" stroke-width="0.35"/>
<line x1="38.40" y1="583.80" x2="51.10" y2="611.00" stroke="#6a6a6a" stroke-width="0.35"/>
<line x1="38.40" y1="583.80" x2="66.40" y2="625.30" stroke="#6a6a6a" stroke-width="0.35"/>
<line x1="38.40" y1="583.80" x2="77.70" y2="631.00" stroke="#6a6a6a" stroke-width="0.35"/>
<line x1="41.50" y1="570.50" x2="53.10" y2="597.10" stroke="#6a6a6a" stroke-width="0.35"/>
<line x1="62.90" y1="571.50" x2="53.10" y2="597.10" stroke="#6a6a6a" stroke-width="0.35"/>
<line x1="62.90" y1="571.50" x2="75.60" y2="560.70" stroke="#6a6a6a" stroke-width="0.35"/>
<line x1="75.60" y1="560.70" x2="85.40" y2="563.80" stroke="#6a6a6a" stroke-width="0.35"/>
<line x1="62.90" y1="571.50" x2="85.40" y2="563.80" stroke="#6a6a6a" stroke-width="0.35"/>
<line x1="85.40" y1="563.80" x2="96.50" y2="565.00" stroke="#6a6a6a" stroke-width="0.35"/>
<line x1="85.40" y1="563.80" x2="103.20" y2="559.90" stroke="#6a6a6a" stroke-width="0.35"/>
<line x1="96.50" y1="565.00" x2="103.20" y2="559.90" stroke="#6a6a6a" stroke-width="0.35"/>
<line x1="103.20" y1="559.90" x2="111.40" y2="555.20" stroke="#6a6a6a" stroke-width="0.35"/>
<line x1="103.20" y1="559.90" x2="115.90" y2="560.30" stroke="#6a6a6a" stroke-width="0.35"/>
<line x1="111.40" y1="555.20" x2="115.90" y2="560.30" stroke="#6a6a6a" stroke-width="0.35"/>
<line x1="96.50" y1="565.00" x2="113.80" y2="572.60" stroke="#6a6a6a" stroke-width="0.35"/>
<line x1="96.50" y1="565.00" x2="119.60" y2="573.20" stroke="#6a6a6a" stroke-width="0.35"/>
<line x1="103.20" y1="559.90" x2="113.80" y2="572.60" stroke="#6a6a6a" stroke-width="0.35"/>
<line x1="115.90" y1="560.30" x2="119.60" y2="573.20" stroke="#6a6a6a" stroke-width="0.35"/>
<line x1="113.80" y1="572.60" x2="119.60" y2="573.20" stroke="#6a6a6a" stroke-width="0.35"/>
<line x1="108.30" y1="577.30" x2="113.80" y2="572.60" stroke="#6a6a6a" stroke-width="0.35"/>
<line x1="108.30" y1="577.30" x2="119.60" y2="573.20" stroke="#6a6a6a" stroke-width="0.35"/>
<line x1="111.40" y1="555.20" x2="130.00" y2="553.80" stroke="#6a6a6a" stroke-width="0.35"/>
<line x1="115.90" y1="560.30" x2="127.70" y2="591.60" stroke="#6a6a6a" stroke-width="0.35"/>
<line x1="119.60" y1="573.20" x2="127.70" y2="591.60" stroke="#6a6a6a" stroke-width="0.35"/>
<line x1="113.80" y1="572.60" x2="127.70" y2="591.60" stroke="#6a6a6a" stroke-width="0.35"/>
<line x1="127.70" y1="591.60" x2="127.10" y2="605.90" stroke="#6a6a6a" stroke-width="0.35"/>
<line x1="127.10" y1="605.90" x2="129.20" y2="622.60" stroke="#6a6a6a" stroke-width="0.35"/>
<line x1="108.30" y1="577.30" x2="93.60" y2="622.10" stroke="#6a6a6a" stroke-width="0.35"/>
<line x1="93.60" y1="622.10" x2="77.70" y2="631.00" stroke="#6a6a6a" stroke-width="0.35"/>
<line x1="77.70" y1="631.00" x2="105.90" y2="635.20" stroke="#6a6a6a" stroke-width="0.35"/>
<line x1="105.90" y1="635.20" x2="129.20" y2="622.60" stroke="#6a6a6a" stroke-width="0.35"/>
<line x1="129.20" y1="622.60" x2="127.10" y2="642.30" stroke="#6a6a6a" stroke-width="0.35"/>
<line x1="129.20" y1="622.60" x2="145.30" y2="637.20" stroke="#6a6a6a" stroke-width="0.35"/>
<line x1="127.10" y1="642.30" x2="128.30" y2="649.70" stroke="#6a6a6a" stroke-width="0.35"/>
<line x1="128.30" y1="649.70" x2="101.60" y2="652.10" stroke="#6a6a6a" stroke-width="0.35"/>
<line x1="127.10" y1="642.30" x2="101.60" y2="652.10" stroke="#6a6a6a" stroke-width="0.35"/>
<line x1="101.60" y1="652.10" x2="105.90" y2="635.20" stroke="#6a6a6a" stroke-width="0.35"/>
<line x1="101.60" y1="652.10" x2="120.00" y2="669.50" stroke="#6a6a6a" stroke-width="0.35"/>
<line x1="101.60" y1="652.10" x2="112.40" y2="681.10" stroke="#6a6a6a" stroke-width="0.35"/>
<line x1="101.60" y1="652.10" x2="93.00" y2="678.70" stroke="#6a6a6a" stroke-width="0.35"/>
<line x1="101.60" y1="652.10" x2="85.80" y2="658.70" stroke="#6a6a6a" stroke-width="0.35"/>
<line x1="77.70" y1="631.00" x2="86.20" y2="643.90" stroke="#6a6a6a" stroke-width="0.35"/>
<line x1="86.20" y1="643.90" x2="85.80" y2="658.70" stroke="#6a6a6a" stroke-width="0.35"/>
<line x1="85.80" y1="658.70" x2="93.00" y2="678.70" stroke="#6a6a6a" stroke-width="0.35"/>
<line x1="85.80" y1="658.70" x2="84.40" y2="689.90" stroke="#6a6a6a" stroke-width="0.35"/>
<line x1="93.00" y1="678.70" x2="84.40" y2="689.90" stroke="#6a6a6a" stroke-width="0.35"/>
<line x1="120.00" y1="669.50" x2="128.30" y2="649.70" stroke="#6a6a6a" stroke-width="0.35"/>
<line x1="128.30" y1="649.70" x2="148.30" y2="669.10" stroke="#6a6a6a" stroke-width="0.35"/>
<line x1="66.40" y1="625.30" x2="63.80" y2="647.00" stroke="#6a6a6a" stroke-width="0.35"/>
<line x1="63.80" y1="647.00" x2="77.70" y2="631.00" stroke="#6a6a6a" stroke-width="0.35"/>
<line x1="66.40" y1="625.30" x2="77.70" y2="631.00" stroke="#6a6a6a" stroke-width="0.35"/>
<line x1="86.20" y1="643.90" x2="101.60" y2="652.10" stroke="#6a6a6a" stroke-width="0.35"/>
<line x1="93.60" y1="622.10" x2="86.20" y2="643.90" stroke="#6a6a6a" stroke-width="0.35"/>
<line x1="77.70" y1="631.00" x2="101.60" y2="652.10" stroke="#6a6a6a" stroke-width="0.35"/>
<line x1="37.80" y1="592.40" x2="77.70" y2="631.00" stroke="#6a6a6a" stroke-width="0.35"/>
<line x1="46.60" y1="583.80" x2="53.10" y2="597.10" stroke="#6a6a6a" stroke-width="0.35"/>
<line x1="53.10" y1="597.10" x2="51.10" y2="611.00" stroke="#6a6a6a" stroke-width="0.35"/>
<line x1="53.10" y1="597.10" x2="77.70" y2="631.00" stroke="#6a6a6a" stroke-width="0.35"/>
<line x1="37.80" y1="592.40" x2="38.40" y2="609.30" stroke="#6a6a6a" stroke-width="0.35"/>
<line x1="41.50" y1="570.50" x2="46.60" y2="583.80" stroke="#6a6a6a" stroke-width="0.35"/>
<line x1="31.10" y1="572.60" x2="26.20" y2="577.70" stroke="#6a6a6a" stroke-width="0.35"/>
<line x1="22.10" y1="568.90" x2="26.20" y2="577.70" stroke="#6a6a6a" stroke-width="0.35"/>
<line x1="35.20" y1="552.10" x2="38.40" y2="583.80" stroke="#6a6a6a" stroke-width="0.35"/>
<line x1="49.70" y1="558.20" x2="62.90" y2="571.50" stroke="#6a6a6a" stroke-width="0.35"/>
<line x1="115.90" y1="560.30" x2="108.30" y2="577.30" stroke="#6a6a6a" stroke-width="0.35"/>
<line x1="145.30" y1="637.20" x2="128.30" y2="649.70" stroke="#6a6a6a" stroke-width="0.35"/>
<line x1="53.10" y1="597.10" x2="66.40" y2="625.30" stroke="#6a6a6a" stroke-width="0.35"/>
<line x1="41.50" y1="570.50" x2="37.80" y2="592.40" stroke="#6a6a6a" stroke-width="0.35"/>
<line x1="127.10" y1="642.30" x2="145.30" y2="637.20" stroke="#6a6a6a" stroke-width="0.35"/>
<line x1="62.90" y1="571.50" x2="38.40" y2="583.80" stroke="#6a6a6a" stroke-width="0.35"/>
<line x1="9.80" y1="593.00" x2="37.80" y2="592.40" stroke="#6a6a6a" stroke-width="0.35"/>
<line x1="26.20" y1="597.70" x2="37.80" y2="592.40" stroke="#6a6a6a" stroke-width="0.35"/>
<line x1="46.60" y1="583.80" x2="77.70" y2="631.00" stroke="#6a6a6a" stroke-width="0.35"/>
<line x1="51.10" y1="611.00" x2="77.70" y2="631.00" stroke="#6a6a6a" stroke-width="0.35"/>
<line x1="21.90" y1="559.30" x2="28.60" y2="559.70" stroke="#6a6a6a" stroke-width="0.35"/>
<line x1="105.90" y1="635.20" x2="127.10" y2="642.30" stroke="#6a6a6a" stroke-width="0.35"/>
<path d="M8 551 C16 541 30 540 40 541.5 C55 543 63 549 67.5 559 C71 567 71.5 578 71.8 590 L72.6 620 L73.2 641 C73 650 68 655 61 655 C55 654 53.5 646 52.6 638 C51.5 628 48 621 40 617.5 C30 613 18 610 9 603.5 C3.5 599 2.5 590 3.5 578 C4.5 566 5 557 8 551 Z" fill="none" stroke="#333" stroke-width="1.1" stroke-dasharray="3.3 2.2"/>
<circle cx="35.20" cy="552.10" r="3.60" fill="#b0c4de" stroke="#888" stroke-width="0.4"/>
<text x="35.2" y="553.9" font-size="5.2" fill="#222" text-anchor="middle" style="font-family:Liberation Serif,serif">22</text>
<circle cx="21.90" cy="559.30" r="3.60" fill="#b0c4de" stroke="#888" stroke-width="0.4"/>
<text x="21.9" y="561.1" font-size="5.2" fill="#222" text-anchor="middle" style="font-family:Liberation Serif,serif">18</text>
<circle cx="28.60" cy="559.70" r="3.60" fill="#b0c4de" stroke="#888" stroke-width="0.4"/>
<text x="28.6" y="561.5" font-size="5.2" fill="#222" text-anchor="middle" style="font-family:Liberation Serif,serif">14</text>
<circle cx="49.70" cy="558.20" r="3.60" fill="#b0c4de" stroke="#888" stroke-width="0.4"/>
<text x="49.7" y="560.0" font-size="5.2" fill="#222" text-anchor="middle" style="font-family:Liberation Serif,serif">15</text>
<circle cx="22.10" cy="568.90" r="3.60" fill="#b0c4de" stroke="#888" stroke-width="0.4"/>
<text x="22.1" y="570.7" font-size="5.2" fill="#222" text-anchor="middle" style="font-family:Liberation Serif,serif">10</text>
<circle cx="31.10" cy="572.60" r="3.60" fill="#b0c4de" stroke="#888" stroke-width="0.4"/>
<text x="31.1" y="574.4" font-size="5.2" fill="#222" text-anchor="middle" style="font-family:Liberation Serif,serif">12</text>
<circle cx="18.00" cy="577.00" r="3.60" fill="#b0c4de" stroke="#888" stroke-width="0.4"/>
<text x="18.0" y="578.8" font-size="5.2" fill="#222" text-anchor="middle" style="font-family:Liberation Serif,serif">21</text>
<circle cx="26.20" cy="577.70" r="3.60" fill="#b0c4de" stroke="#888" stroke-width="0.4"/>
<text x="26.2" y="579.5" font-size="5.2" fill="#222" text-anchor="middle" style="font-family:Liberation Serif,serif">9</text>
<circle cx="41.50" cy="570.50" r="3.60" fill="#0000ff" stroke="#888" stroke-width="0.4"/>
<text x="41.5" y="572.6" font-size="6.2" font-weight="bold" fill="#fff" text-anchor="middle">3</text>
<circle cx="62.90" cy="571.50" r="3.60" fill="#0000ff" stroke="#888" stroke-width="0.4"/>
<text x="62.9" y="573.6" font-size="6.2" font-weight="bold" fill="#fff" text-anchor="middle">4</text>
<circle cx="38.40" cy="583.80" r="3.60" fill="#86c3ee" stroke="#000" stroke-width="1.0"/>
<text x="38.4" y="585.6" font-size="5.2" fill="#222" text-anchor="middle" style="font-family:Liberation Serif,serif">6</text>
<circle cx="46.60" cy="583.80" r="3.60" fill="#b0c4de" stroke="#888" stroke-width="0.4"/>
<text x="46.6" y="585.6" font-size="5.2" fill="#222" text-anchor="middle" style="font-family:Liberation Serif,serif">7</text>
<circle cx="37.80" cy="592.40" r="3.60" fill="#b0c4de" stroke="#888" stroke-width="0.4"/>
<text x="37.8" y="594.2" font-size="5.2" fill="#222" text-anchor="middle" style="font-family:Liberation Serif,serif">11</text>
<circle cx="9.80" cy="593.00" r="3.60" fill="#b0c4de" stroke="#888" stroke-width="0.4"/>
<text x="9.8" y="594.8" font-size="5.2" fill="#222" text-anchor="middle" style="font-family:Liberation Serif,serif">13</text>
<circle cx="26.20" cy="597.70" r="3.60" fill="#b0c4de" stroke="#888" stroke-width="0.4"/>
<text x="26.2" y="599.5" font-size="5.2" fill="#222" text-anchor="middle" style="font-family:Liberation Serif,serif">8</text>
<circle cx="53.10" cy="597.10" r="3.60" fill="#0000ff" stroke="#888" stroke-width="0.4"/>
<text x="53.1" y="599.2" font-size="6.2" font-weight="bold" fill="#fff" text-anchor="middle">5</text>
<circle cx="38.40" cy="609.30" r="3.60" fill="#b0c4de" stroke="#888" stroke-width="0.4"/>
<text x="38.4" y="611.1" font-size="5.2" fill="#222" text-anchor="middle" style="font-family:Liberation Serif,serif">20</text>
<circle cx="51.10" cy="611.00" r="3.60" fill="#b0c4de" stroke="#888" stroke-width="0.4"/>
<text x="51.1" y="612.8" font-size="5.2" fill="#222" text-anchor="middle" style="font-family:Liberation Serif,serif">16</text>
<circle cx="66.40" cy="625.30" r="3.60" fill="#b0c4de" stroke="#888" stroke-width="0.4"/>
<text x="66.4" y="627.1" font-size="5.2" fill="#222" text-anchor="middle" style="font-family:Liberation Serif,serif">17</text>
<circle cx="77.70" cy="631.00" r="3.60" fill="#3cc47a" stroke="#888" stroke-width="0.4"/>
<text x="77.7" y="632.8" font-size="5.2" fill="#222" text-anchor="middle" style="font-family:Liberation Serif,serif">25</text>
<circle cx="75.60" cy="560.70" r="3.60" fill="#fff" stroke="#888" stroke-width="0.4"/>
<text x="75.6" y="562.5" font-size="5.2" fill="#222" text-anchor="middle" style="font-family:Liberation Serif,serif">41</text>
<circle cx="85.40" cy="563.80" r="3.60" fill="#7b2fc8" stroke="#888" stroke-width="0.4"/>
<text x="85.4" y="565.9" font-size="6.2" font-weight="bold" fill="#fff" text-anchor="middle">1</text>
<circle cx="96.50" cy="565.00" r="3.60" fill="#fff" stroke="#888" stroke-width="0.4"/>
<text x="96.5" y="566.8" font-size="5.2" fill="#222" text-anchor="middle" style="font-family:Liberation Serif,serif">42</text>
<circle cx="103.20" cy="559.90" r="3.60" fill="#fff" stroke="#888" stroke-width="0.4"/>
<text x="103.2" y="561.7" font-size="5.2" fill="#222" text-anchor="middle" style="font-family:Liberation Serif,serif">48</text>
<circle cx="111.40" cy="555.20" r="3.60" fill="#fff" stroke="#888" stroke-width="0.4"/>
<text x="111.4" y="557.0" font-size="5.2" fill="#222" text-anchor="middle" style="font-family:Liberation Serif,serif">47</text>
<circle cx="115.90" cy="560.30" r="3.60" fill="#fff" stroke="#888" stroke-width="0.4"/>
<text x="115.9" y="562.1" font-size="5.2" fill="#222" text-anchor="middle" style="font-family:Liberation Serif,serif">44</text>
<circle cx="113.80" cy="572.60" r="3.60" fill="#fff" stroke="#888" stroke-width="0.4"/>
<text x="113.8" y="574.4" font-size="5.2" fill="#222" text-anchor="middle" style="font-family:Liberation Serif,serif">40</text>
<circle cx="119.60" cy="573.20" r="3.60" fill="#fff" stroke="#888" stroke-width="0.4"/>
<text x="119.6" y="575.0" font-size="5.2" fill="#222" text-anchor="middle" style="font-family:Liberation Serif,serif">45</text>
<circle cx="108.30" cy="577.30" r="3.60" fill="#fff" stroke="#888" stroke-width="0.4"/>
<text x="108.3" y="579.1" font-size="5.2" fill="#222" text-anchor="middle" style="font-family:Liberation Serif,serif">2</text>
<circle cx="130.00" cy="553.80" r="3.60" fill="#ffa07a" stroke="#888" stroke-width="0.4"/>
<text x="130.0" y="555.6" font-size="5.2" fill="#222" text-anchor="middle" style="font-family:Liberation Serif,serif">37</text>
<circle cx="127.70" cy="591.60" r="3.60" fill="#ffa07a" stroke="#888" stroke-width="0.4"/>
<text x="127.7" y="593.4" font-size="5.2" fill="#222" text-anchor="middle" style="font-family:Liberation Serif,serif">33</text>
<circle cx="127.10" cy="605.90" r="3.60" fill="#ffa07a" stroke="#888" stroke-width="0.4"/>
<text x="127.1" y="607.7" font-size="5.2" fill="#222" text-anchor="middle" style="font-family:Liberation Serif,serif">38</text>
<circle cx="129.20" cy="622.60" r="3.60" fill="#ffa07a" stroke="#888" stroke-width="0.4"/>
<text x="129.2" y="624.4" font-size="5.2" fill="#222" text-anchor="middle" style="font-family:Liberation Serif,serif">32</text>
<circle cx="105.90" cy="635.20" r="3.60" fill="#ffa07a" stroke="#888" stroke-width="0.4"/>
<text x="105.9" y="637.0" font-size="5.2" fill="#222" text-anchor="middle" style="font-family:Liberation Serif,serif">35</text>
<circle cx="93.60" cy="622.10" r="3.60" fill="#fff" stroke="#888" stroke-width="0.4"/>
<text x="93.6" y="623.9" font-size="5.2" fill="#222" text-anchor="middle" style="font-family:Liberation Serif,serif">43</text>
<circle cx="63.80" cy="647.00" r="3.60" fill="#b0c4de" stroke="#888" stroke-width="0.4"/>
<text x="63.8" y="648.8" font-size="5.2" fill="#222" text-anchor="middle" style="font-family:Liberation Serif,serif">19</text>
<circle cx="86.20" cy="643.90" r="3.60" fill="#b0c4de" stroke="#888" stroke-width="0.4"/>
<text x="86.2" y="645.7" font-size="5.2" fill="#222" text-anchor="middle" style="font-family:Liberation Serif,serif">23</text>
<circle cx="85.80" cy="658.70" r="3.60" fill="#b0c4de" stroke="#888" stroke-width="0.4"/>
<text x="85.8" y="660.5" font-size="5.2" fill="#222" text-anchor="middle" style="font-family:Liberation Serif,serif">24</text>
<circle cx="101.60" cy="652.10" r="3.60" fill="#ee72ee" stroke="#888" stroke-width="0.4"/>
<text x="101.6" y="653.9" font-size="5.2" fill="#222" text-anchor="middle" style="font-family:Liberation Serif,serif">26</text>
<circle cx="127.10" cy="642.30" r="3.60" fill="#ffa07a" stroke="#888" stroke-width="0.4"/>
<text x="127.1" y="644.1" font-size="5.2" fill="#222" text-anchor="middle" style="font-family:Liberation Serif,serif">36</text>
<circle cx="128.30" cy="649.70" r="3.60" fill="#ffa07a" stroke="#888" stroke-width="0.4"/>
<text x="128.3" y="651.5" font-size="5.2" fill="#222" text-anchor="middle" style="font-family:Liberation Serif,serif">34</text>
<circle cx="120.00" cy="669.50" r="3.60" fill="#ffa07a" stroke="#888" stroke-width="0.4"/>
<text x="120.0" y="671.3" font-size="5.2" fill="#222" text-anchor="middle" style="font-family:Liberation Serif,serif">30</text>
<circle cx="112.40" cy="681.10" r="3.60" fill="#ffa07a" stroke="#888" stroke-width="0.4"/>
<text x="112.4" y="682.9" font-size="5.2" fill="#222" text-anchor="middle" style="font-family:Liberation Serif,serif">29</text>
<circle cx="93.00" cy="678.70" r="3.60" fill="#ffa07a" stroke="#888" stroke-width="0.4"/>
<text x="93.0" y="680.5" font-size="5.2" fill="#222" text-anchor="middle" style="font-family:Liberation Serif,serif">27</text>
<circle cx="84.40" cy="689.90" r="3.60" fill="#ffa07a" stroke="#888" stroke-width="0.4"/>
<text x="84.4" y="691.7" font-size="5.2" fill="#222" text-anchor="middle" style="font-family:Liberation Serif,serif">28</text>
<circle cx="145.30" cy="637.20" r="3.60" fill="#ffa07a" stroke="#888" stroke-width="0.4"/>
<text x="145.3" y="639.0" font-size="5.2" fill="#222" text-anchor="middle" style="font-family:Liberation Serif,serif">31</text>
<circle cx="148.30" cy="669.10" r="3.60" fill="#fff" stroke="#888" stroke-width="0.4"/>
<text x="148.3" y="670.9" font-size="5.2" fill="#222" text-anchor="middle" style="font-family:Liberation Serif,serif">39</text>
<text x="11.6" y="640.9" font-size="5.8" fill="#000" font-weight="bold" textLength="20.6" lengthAdjust="spacingAndGlyphs">Module</text>
<text x="11.6" y="647.5" font-size="5.8" fill="#000" font-weight="bold" textLength="30.5" lengthAdjust="spacingAndGlyphs">annotation</text>
<rect x="11.20" y="650.50" width="6.80" height="6.50" fill="#7b2fc8" stroke="#777" stroke-width="0.35"/>
<text x="20.0" y="655.5" font-size="4.8" fill="#111">Progenitor</text>
<rect x="11.20" y="657.00" width="6.80" height="6.40" fill="#0000ff" stroke="#777" stroke-width="0.35"/>
<text x="20.0" y="661.9" font-size="4.8" fill="#111">Pan-neural</text>
<rect x="11.20" y="663.40" width="6.80" height="6.60" fill="#86c3ee" stroke="#777" stroke-width="0.35"/>
<text x="20.0" y="668.4" font-size="4.8" fill="#111">Pan-peptidergic</text>
<rect x="11.20" y="670.00" width="6.80" height="6.40" fill="#b0c4de" stroke="#777" stroke-width="0.35"/>
<text x="20.0" y="674.9" font-size="4.8" fill="#111">Neural-specific</text>
<rect x="11.20" y="676.40" width="6.80" height="9.60" fill="#3cc47a" stroke="#777" stroke-width="0.35"/>
<text x="20.0" y="680.4" font-size="4.8" fill="#111">Neural-specific -</text>
<text x="20.0" y="685.4" font-size="4.8" fill="#111">Late cnidocyte</text>
<rect x="11.20" y="686.00" width="6.80" height="9.60" fill="#ee72ee" stroke="#777" stroke-width="0.35"/>
<text x="20.0" y="690.0" font-size="4.8" fill="#111">Developing</text>
<text x="20.0" y="695.0" font-size="4.8" fill="#111">cnidocyte</text>
<rect x="11.20" y="695.60" width="6.80" height="6.40" fill="#ffa07a" stroke="#777" stroke-width="0.35"/>
<text x="20.0" y="700.5" font-size="4.8" fill="#111">Secretory</text>
<rect x="11.20" y="702.00" width="6.80" height="6.70" fill="#f0f0f0" stroke="#777" stroke-width="0.35"/>
<text x="20.0" y="707.1" font-size="4.8" fill="#111">Mixed</text>
<rect x="11.20" y="708.70" width="6.80" height="6.70" fill="#f0f0f0" stroke="#777" stroke-width="0.35"/>
<text x="20.0" y="713.8" font-size="4.8" fill="#111">Other</text>
<text x="146.0" y="519.5" font-size="18" fill="#000" font-weight="bold" textLength="10.0" lengthAdjust="spacingAndGlyphs">F</text>
<rect x="168.80" y="518.30" width="171.80" height="13.30" fill="#f0a1ec" stroke="#5a5a5a" stroke-width="0.6"/>
<text x="254.7" y="528.6" font-size="9.6" fill="#000" font-weight="bold" text-anchor="middle" textLength="113.0" lengthAdjust="spacingAndGlyphs">Module 26 - Dev. Cnidocytes</text>
<rect x="344.10" y="518.30" width="173.40" height="13.30" fill="#85c1ec" stroke="#5a5a5a" stroke-width="0.6"/>
<text x="430.8" y="528.6" font-size="9.6" fill="#000" font-weight="bold" text-anchor="middle" textLength="110.0" lengthAdjust="spacingAndGlyphs">Module 6 – Pan-peptidergic</text>
<rect x="522.90" y="518.30" width="156.10" height="13.30" fill="#b4c7e4" stroke="#5a5a5a" stroke-width="0.6"/>
<text x="601.0" y="528.6" font-size="9.6" fill="#000" font-weight="bold" text-anchor="middle" textLength="142.9" lengthAdjust="spacingAndGlyphs">Neural-specific peptidergic modules</text>
<rect x="168.80" y="646.40" width="171.80" height="12.90" fill="#3dbd74" stroke="#5a5a5a" stroke-width="0.6"/>
<text x="254.7" y="656.5" font-size="9.6" fill="#fff" font-weight="bold" text-anchor="middle" textLength="111.0" lengthAdjust="spacingAndGlyphs">Module 25 - Late cnidocytes</text>
<rect x="344.10" y="646.40" width="173.40" height="12.90" fill="#4141f2" stroke="#5a5a5a" stroke-width="0.6"/>
<text x="430.8" y="656.5" font-size="9.6" fill="#fff" font-weight="bold" text-anchor="middle" textLength="115.4" lengthAdjust="spacingAndGlyphs">Module 5 – Broadly neuronal</text>
<text x="151.2" y="559.8" font-size="10" fill="#000" font-weight="bold" textLength="11.0" lengthAdjust="spacingAndGlyphs">TF</text>
<text x="149.2" y="623.2" font-size="10" fill="#000" font-weight="bold" textLength="15.0" lengthAdjust="spacingAndGlyphs">Eff.</text>
<text x="151.2" y="686.9" font-size="10" fill="#000" font-weight="bold" textLength="11.0" lengthAdjust="spacingAndGlyphs">TF</text>
<text x="151.9" y="739.6" font-size="10" fill="#000" font-weight="bold" textLength="15.0" lengthAdjust="spacingAndGlyphs">Eff.</text>
<text x="527.7" y="547.3" font-size="10" fill="#000" font-weight="bold">7</text>
<text x="527.2" y="656.5" font-size="10" fill="#000" font-weight="bold">8</text>
<ellipse cx="196.5" cy="559.8" rx="27.5" ry="21.5" fill="#fff" stroke="#e87de8" stroke-width="0.9" transform="rotate(25 196.5 559.8)"/>
<path fill="none" stroke="#555" stroke-width="0.22" stroke-opacity="0.5" d="M190.0 558.0L194.0 561.0M190.0 558.0L187.3 541.8M190.0 558.0L190.9 542.5M190.0 558.0L195.8 545.8M190.0 558.0L211.6 551.1M190.0 558.0L175.4 559.6M190.0 558.0L175.0 557.0M190.0 558.0L188.0 557.8M190.0 558.0L198.6 556.1M190.0 558.0L193.4 558.7M190.0 558.0L187.3 560.5M190.0 558.0L186.0 562.2M190.0 558.0L201.7 564.2M190.0 558.0L217.9 564.2M190.0 558.0L187.7 572.3M190.0 558.0L205.5 570.4M190.0 558.0L196.2 577.5M190.0 558.0L198.5 574.9M194.0 561.0L189.0 555.0M194.0 561.0L196.0 553.0M194.0 561.0L187.3 541.8M194.0 561.0L190.9 542.5M194.0 561.0L195.8 545.8M194.0 561.0L211.6 551.1M194.0 561.0L186.4 551.1M194.0 561.0L175.4 559.6M194.0 561.0L175.0 557.0M194.0 561.0L180.4 556.5M194.0 561.0L193.4 555.6M194.0 561.0L198.6 556.1M194.0 561.0L193.4 558.7M194.0 561.0L190.6 563.3M194.0 561.0L197.6 564.2M194.0 561.0L201.7 564.2M194.0 561.0L217.9 564.2M194.0 561.0L185.5 568.8M194.0 561.0L196.2 577.5M194.0 561.0L198.5 574.9M189.0 555.0L196.0 553.0M189.0 555.0L195.8 545.8M189.0 555.0L211.6 551.1M189.0 555.0L186.4 551.1M189.0 555.0L175.4 559.6M189.0 555.0L180.4 556.5M189.0 555.0L188.0 557.8M189.0 555.0L193.4 555.6M189.0 555.0L198.6 556.1M189.0 555.0L193.4 558.7M189.0 555.0L187.3 560.5M189.0 555.0L186.0 562.2M189.0 555.0L190.6 563.3M189.0 555.0L201.7 564.2M189.0 555.0L217.9 564.2M189.0 555.0L187.7 572.3M189.0 555.0L185.5 568.8M189.0 555.0L205.5 570.4M189.0 555.0L196.2 577.5M196.0 553.0L187.3 541.8M196.0 553.0L190.9 542.5M196.0 553.0L195.8 545.8M196.0 553.0L211.6 551.1M196.0 553.0L175.0 557.0M196.0 553.0L188.0 557.8M196.0 553.0L193.4 555.6M196.0 553.0L193.4 558.7M196.0 553.0L187.3 560.5M196.0 553.0L186.0 562.2M196.0 553.0L190.6 563.3M196.0 553.0L201.7 564.2M196.0 553.0L205.5 570.4M196.0 553.0L198.5 574.9M187.3 541.8L190.9 542.5M187.3 541.8L195.8 545.8M187.3 541.8L211.6 551.1M187.3 541.8L175.4 559.6M187.3 541.8L175.0 557.0M187.3 541.8L180.4 556.5M187.3 541.8L188.0 557.8M187.3 541.8L193.4 555.6M187.3 541.8L198.6 556.1M187.3 541.8L193.4 558.7M187.3 541.8L187.3 560.5M187.3 541.8L186.0 562.2M187.3 541.8L190.6 563.3M187.3 541.8L197.6 564.2M187.3 541.8L201.7 564.2M187.3 541.8L217.9 564.2M187.3 541.8L187.7 572.3M190.9 542.5L195.8 545.8M190.9 542.5L186.4 551.1M190.9 542.5L175.4 559.6M190.9 542.5L175.0 557.0M190.9 542.5L180.4 556.5M190.9 542.5L193.4 555.6M190.9 542.5L198.6 556.1M190.9 542.5L193.4 558.7M190.9 542.5L187.3 560.5M190.9 542.5L186.0 562.2M190.9 542.5L190.6 563.3M190.9 542.5L197.6 564.2M190.9 542.5L201.7 564.2M190.9 542.5L217.9 564.2M190.9 542.5L187.7 572.3M190.9 542.5L185.5 568.8M190.9 542.5L205.5 570.4M190.9 542.5L196.2 577.5M190.9 542.5L198.5 574.9M195.8 545.8L211.6 551.1M195.8 545.8L186.4 551.1M195.8 545.8L175.4 559.6M195.8 545.8L175.0 557.0M195.8 545.8L188.0 557.8M195.8 545.8L193.4 555.6M195.8 545.8L198.6 556.1M195.8 545.8L187.3 560.5M195.8 545.8L186.0 562.2M195.8 545.8L190.6 563.3M195.8 545.8L197.6 564.2M195.8 545.8L201.7 564.2M195.8 545.8L217.9 564.2M195.8 545.8L187.7 572.3M195.8 545.8L185.5 568.8M195.8 545.8L205.5 570.4M211.6 551.1L186.4 551.1M211.6 551.1L175.4 559.6M211.6 551.1L175.0 557.0M211.6 551.1L180.4 556.5M211.6 551.1L188.0 557.8M211.6 551.1L193.4 555.6M211.6 551.1L198.6 556.1M211.6 551.1L193.4 558.7M211.6 551.1L187.3 560.5M211.6 551.1L197.6 564.2M211.6 551.1L217.9 564.2M211.6 551.1L185.5 568.8M211.6 551.1L205.5 570.4M211.6 551.1L196.2 577.5M211.6 551.1L198.5 574.9M186.4 551.1L175.0 557.0M186.4 551.1L193.4 555.6M186.4 551.1L198.6 556.1M186.4 551.1L186.0 562.2M186.4 551.1L190.6 563.3M186.4 551.1L197.6 564.2M186.4 551.1L201.7 564.2M186.4 551.1L217.9 564.2M186.4 551.1L187.7 572.3M186.4 551.1L185.5 568.8M186.4 551.1L205.5 570.4M186.4 551.1L196.2 577.5M186.4 551.1L198.5 574.9M175.4 559.6L175.0 557.0M175.4 559.6L180.4 556.5M175.4 559.6L188.0 557.8M175.4 559.6L193.4 558.7M175.4 559.6L187.3 560.5M175.4 559.6L186.0 562.2M175.4 559.6L201.7 564.2M175.4 559.6L217.9 564.2M175.4 559.6L187.7 572.3M175.4 559.6L196.2 577.5M175.0 557.0L180.4 556.5M175.0 557.0L188.0 557.8M175.0 557.0L198.6 556.1M175.0 557.0L193.4 558.7M175.0 557.0L187.3 560.5M175.0 557.0L186.0 562.2M175.0 557.0L197.6 564.2M175.0 557.0L217.9 564.2M175.0 557.0L185.5 568.8M175.0 557.0L205.5 570.4M175.0 557.0L196.2 577.5M180.4 556.5L188.0 557.8M180.4 556.5L193.4 558.7M180.4 556.5L187.3 560.5M180.4 556.5L186.0 562.2M180.4 556.5L190.6 563.3M180.4 556.5L197.6 564.2M180.4 556.5L185.5 568.8M180.4 556.5L205.5 570.4M180.4 556.5L198.5 574.9M188.0 557.8L193.4 555.6M188.0 557.8L198.6 556.1M188.0 557.8L193.4 558.7M188.0 557.8L187.3 560.5M188.0 557.8L190.6 563.3M188.0 557.8L201.7 564.2M188.0 557.8L217.9 564.2M188.0 557.8L205.5 570.4M188.0 557.8L196.2 577.5M188.0 557.8L198.5 574.9M193.4 555.6L198.6 556.1M193.4 555.6L187.3 560.5M193.4 555.6L186.0 562.2M193.4 555.6L197.6 564.2M193.4 555.6L201.7 564.2M193.4 555.6L217.9 564.2M193.4 555.6L187.7 572.3M193.4 555.6L185.5 568.8M193.4 555.6L205.5 570.4M193.4 555.6L198.5 574.9M198.6 556.1L186.0 562.2M198.6 556.1L190.6 563.3M198.6 556.1L197.6 564.2M198.6 556.1L201.7 564.2M198.6 556.1L217.9 564.2M198.6 556.1L187.7 572.3M198.6 556.1L185.5 568.8M198.6 556.1L196.2 577.5M198.6 556.1L198.5 574.9M193.4 558.7L187.3 560.5M193.4 558.7L186.0 562.2M193.4 558.7L190.6 563.3M193.4 558.7L187.7 572.3M193.4 558.7L185.5 568.8M193.4 558.7L205.5 570.4M193.4 558.7L198.5 574.9M187.3 560.5L186.0 562.2M187.3 560.5L190.6 563.3M187.3 560.5L197.6 564.2M187.3 560.5L201.7 564.2M187.3 560.5L217.9 564.2M187.3 560.5L187.7 572.3M187.3 560.5L185.5 568.8M187.3 560.5L205.5 570.4M187.3 560.5L198.5 574.9M186.0 562.2L190.6 563.3M186.0 562.2L197.6 564.2M186.0 562.2L217.9 564.2M186.0 562.2L187.7 572.3M186.0 562.2L185.5 568.8M186.0 562.2L205.5 570.4M190.6 563.3L197.6 564.2M190.6 563.3L201.7 564.2M190.6 563.3L217.9 564.2M190.6 563.3L187.7 572.3M190.6 563.3L185.5 568.8M190.6 563.3L205.5 570.4M190.6 563.3L196.2 577.5M190.6 563.3L198.5 574.9M197.6 564.2L201.7 564.2M197.6 564.2L217.9 564.2M197.6 564.2L187.7 572.3M197.6 564.2L185.5 568.8M197.6 564.2L205.5 570.4M197.6 564.2L196.2 577.5M201.7 564.2L217.9 564.2M201.7 564.2L185.5 568.8M201.7 564.2L205.5 570.4M201.7 564.2L198.5 574.9M217.9 564.2L185.5 568.8M187.7 572.3L185.5 568.8M187.7 572.3L205.5 570.4M187.7 572.3L196.2 577.5M185.5 568.8L205.5 570.4M185.5 568.8L198.5 574.9M205.5 570.4L198.5 574.9M196.2 577.5L198.5 574.9"/>
<polygon points="190.00,555.60 192.40,558.00 190.00,560.40 187.60,558.00" fill="#4d4d4d" stroke="#444" stroke-width="0.2"/>
<polygon points="194.00,558.60 196.40,561.00 194.00,563.40 191.60,561.00" fill="#4d4d4d" stroke="#444" stroke-width="0.2"/>
<polygon points="189.00,552.60 191.40,555.00 189.00,557.40 186.60,555.00" fill="#4d4d4d" stroke="#444" stroke-width="0.2"/>
<polygon points="196.00,550.60 198.40,553.00 196.00,555.40 193.60,553.00" fill="#4d4d4d" stroke="#444" stroke-width="0.2"/>
<polygon points="187.30,539.40 189.70,541.80 187.30,544.20 184.90,541.80" fill="#f04a10" stroke="#444" stroke-width="0.2"/>
<polygon points="190.90,540.10 193.30,542.50 190.90,544.90 188.50,542.50" fill="#138f8f" stroke="#444" stroke-width="0.2"/>
<polygon points="195.80,543.40 198.20,545.80 195.80,548.20 193.40,545.80" fill="#138f8f" stroke="#444" stroke-width="0.2"/>
<polygon points="211.60,548.70 214.00,551.10 211.60,553.50 209.20,551.10" fill="#138f8f" stroke="#444" stroke-width="0.2"/>
<polygon points="186.40,548.70 188.80,551.10 186.40,553.50 184.00,551.10" fill="#138f8f" stroke="#444" stroke-width="0.2"/>
<polygon points="175.40,557.20 177.80,559.60 175.40,562.00 173.00,559.60" fill="#b43cf0" stroke="#444" stroke-width="0.2"/>
<polygon points="175.00,554.60 177.40,557.00 175.00,559.40 172.60,557.00" fill="#138f8f" stroke="#444" stroke-width="0.2"/>
<polygon points="180.40,554.10 182.80,556.50 180.40,558.90 178.00,556.50" fill="#138f8f" stroke="#444" stroke-width="0.2"/>
<polygon points="188.00,555.40 190.40,557.80 188.00,560.20 185.60,557.80" fill="#b43cf0" stroke="#444" stroke-width="0.2"/>
<polygon points="193.40,553.20 195.80,555.60 193.40,558.00 191.00,555.60" fill="#138f8f" stroke="#444" stroke-width="0.2"/>
<polygon points="198.60,553.70 201.00,556.10 198.60,558.50 196.20,556.10" fill="#138f8f" stroke="#444" stroke-width="0.2"/>
<polygon points="193.40,556.30 195.80,558.70 193.40,561.10 191.00,558.70" fill="#b43cf0" stroke="#444" stroke-width="0.2"/>
<polygon points="187.30,558.10 189.70,560.50 187.30,562.90 184.90,560.50" fill="#138f8f" stroke="#444" stroke-width="0.2"/>
<polygon points="186.00,559.80 188.40,562.20 186.00,564.60 183.60,562.20" fill="#b43cf0" stroke="#444" stroke-width="0.2"/>
<polygon points="190.60,560.90 193.00,563.30 190.60,565.70 188.20,563.30" fill="#b43cf0" stroke="#444" stroke-width="0.2"/>
<polygon points="197.60,561.80 200.00,564.20 197.60,566.60 195.20,564.20" fill="#f04a10" stroke="#444" stroke-width="0.2"/>
<polygon points="201.70,561.80 204.10,564.20 201.70,566.60 199.30,564.20" fill="#b43cf0" stroke="#444" stroke-width="0.2"/>
<polygon points="217.90,561.80 220.30,564.20 217.90,566.60 215.50,564.20" fill="#4d4d4d" stroke="#444" stroke-width="0.2"/>
<polygon points="187.70,569.90 190.10,572.30 187.70,574.70 185.30,572.30" fill="#4d4d4d" stroke="#444" stroke-width="0.2"/>
<polygon points="185.50,566.40 187.90,568.80 185.50,571.20 183.10,568.80" fill="#138f8f" stroke="#444" stroke-width="0.2"/>
<polygon points="205.50,568.00 207.90,570.40 205.50,572.80 203.10,570.40" fill="#4d4d4d" stroke="#444" stroke-width="0.2"/>
<polygon points="196.20,575.10 198.60,577.50 196.20,579.90 193.80,577.50" fill="#4d4d4d" stroke="#444" stroke-width="0.2"/>
<polygon points="198.50,572.50 200.90,574.90 198.50,577.30 196.10,574.90" fill="#138f8f" stroke="#444" stroke-width="0.2"/>
<rect x="229.80" y="534.60" width="109.80" height="67.20" fill="#fff" stroke="#f08cf0" stroke-width="0.9" rx="6"/>
<text x="235.3" y="543.5" font-size="6.6" font-style="italic" xml:space="preserve" textLength="82.4" lengthAdjust="spacingAndGlyphs"><tspan fill="#454545">PaxA</tspan><tspan fill="#7a7a7a"> - LOC5511416, </tspan><tspan fill="#454545">Sox_unk</tspan><tspan fill="#7a7a7a"> -</tspan></text>
<text x="235.3" y="551.3" font-size="6.6" font-style="italic" xml:space="preserve" textLength="94.8" lengthAdjust="spacingAndGlyphs"><tspan fill="#7a7a7a">LOC5519875, </tspan><tspan fill="#454545">PouIV</tspan><tspan fill="#7a7a7a"> - LOC5519259,</tspan></text>
<text x="235.3" y="559.2" font-size="6.6" font-style="italic" xml:space="preserve" textLength="99.3" lengthAdjust="spacingAndGlyphs"><tspan fill="#b23cf0" font-weight="bold">bZIP: cnidoJun</tspan><tspan fill="#b23cf0"> - LOC5516132 ; JUN:</tspan></text>
<text x="235.3" y="567.1" font-size="6.6" font-style="italic" xml:space="preserve" textLength="90.6" lengthAdjust="spacingAndGlyphs"><tspan fill="#b23cf0">LOC5505701; ATF2: LOC5514292;</tspan></text>
<text x="235.3" y="575.0" font-size="6.6" font-style="italic" xml:space="preserve" textLength="98.9" lengthAdjust="spacingAndGlyphs"><tspan fill="#b23cf0">FOS: LOC116617291 &amp; LOC5510710;</tspan></text>
<text x="235.3" y="582.8" font-size="6.6" font-style="italic" xml:space="preserve" textLength="83.1" lengthAdjust="spacingAndGlyphs"><tspan fill="#b23cf0">unchar: LOC116610206, </tspan><tspan fill="#454545">NR12</tspan><tspan fill="#7a7a7a"> -</tspan></text>
<text x="235.3" y="590.7" font-size="6.6" font-style="italic" xml:space="preserve" textLength="91.2" lengthAdjust="spacingAndGlyphs"><tspan fill="#7a7a7a">LOC5514178. </tspan><tspan fill="#ff4a12" font-weight="bold">ARX</tspan><tspan fill="#ff4a12"> - LOC5502729,</tspan></text>
<text x="235.3" y="598.6" font-size="6.6" font-style="italic" xml:space="preserve" textLength="62.2" lengthAdjust="spacingAndGlyphs"><tspan fill="#118a8a" font-weight="bold">ZNF845 – LOC5521394</tspan></text>
<ellipse cx="198.2" cy="618.1" rx="27.6" ry="23" fill="#fff" stroke="#f08cf0" stroke-width="0.9" stroke-dasharray="3 2"/>
<ellipse cx="198.2" cy="618.1" rx="11.0" ry="9.2" fill="#555" fill-opacity="0.45"/>
<path fill="none" stroke="#333" stroke-width="0.35" stroke-opacity="0.45" d="M198.3 619.1L205.2 618.5M197.6 616.8L210.0 619.4M196.5 620.2L213.6 619.3M198.5 620.8L215.6 620.2M197.2 617.0L220.0 621.7M198.8 616.9L205.1 620.6M200.7 615.7L207.3 621.4M195.9 618.1L208.9 622.2M200.5 617.3L211.9 622.7M198.2 615.1L214.0 624.9M200.5 617.1L216.6 624.0M199.4 617.9L218.1 625.0M196.6 616.5L204.5 622.0M197.2 619.2L205.9 622.7M199.9 621.5L207.2 623.7M197.2 619.5L209.6 623.4M199.0 617.5L210.9 624.5M199.0 617.9L209.7 628.3M199.6 618.3L212.3 627.3M196.1 620.7L202.5 622.9M200.1 616.4L203.8 624.2M196.5 618.8L204.0 626.2M198.4 620.9L204.2 627.7M197.3 618.9L206.3 628.7M197.6 617.4L208.1 629.4M196.8 621.2L207.4 632.0M198.9 618.6L207.4 633.7M198.5 619.2L200.1 623.9M197.2 618.6L199.9 626.3M197.6 619.0L200.8 627.5M198.3 620.2L201.0 629.4M197.5 619.3L201.0 630.7M198.3 617.6L199.3 632.9M200.0 620.4L201.9 634.0M195.8 619.2L202.0 636.4M199.4 619.5L198.5 624.6M199.0 617.0L198.0 626.6M198.4 616.1L197.4 630.5M194.1 621.3L195.6 632.9M196.9 619.2L195.0 635.7M197.2 617.2L194.4 622.9M199.3 616.4L192.5 624.3M196.6 617.1L191.1 626.1M202.7 617.7L189.2 628.5M199.1 616.7L186.8 628.7M196.6 619.1L191.7 621.3M198.9 618.3L190.0 622.9M199.0 618.1L187.9 624.7M200.3 617.2L186.0 627.3M198.7 617.8L183.9 628.7M197.3 620.6L191.5 620.5M198.9 618.1L190.3 620.9M197.7 618.8L188.8 621.5M199.5 619.9L187.1 622.1M201.6 620.3L186.4 622.7M197.9 617.7L185.6 623.9M199.1 617.4L182.4 622.2M196.3 618.3L181.7 624.1M199.3 619.5L191.1 618.5M199.1 618.5L189.3 618.5M200.6 616.7L186.8 618.0M196.0 617.8L185.3 617.9M198.8 617.5L183.3 617.1M197.4 618.1L180.9 617.3M198.7 618.6L178.9 614.8M198.3 618.6L191.4 616.9M198.5 619.5L189.4 615.7M196.1 616.0L187.0 616.2M200.2 616.7L184.9 615.0M194.9 618.0L184.1 613.0M198.6 618.7L181.5 613.2M199.1 616.2L180.0 612.3M198.6 619.5L192.9 614.3M197.7 619.6L190.6 613.5M196.8 618.8L188.4 613.2M199.0 615.5L187.6 610.9M196.6 617.5L186.1 610.6M197.7 620.6L183.7 610.8M199.3 618.0L193.9 612.2M197.5 615.9L192.9 611.2M198.0 617.8L192.0 607.6M197.2 617.8L190.9 605.8M198.9 620.0L187.8 604.1M196.9 616.4L190.3 601.1M198.1 615.8L196.9 611.6M197.7 618.2L196.0 609.9M198.6 615.3L194.7 607.4M199.2 616.4L194.4 606.2M199.2 618.3L193.5 603.8M199.9 619.4L199.1 612.1M197.3 617.8L199.8 610.6M202.2 617.0L199.3 609.3M199.6 617.1L201.8 608.2M197.9 619.1L201.7 606.2M199.2 616.0L201.0 604.3M197.6 621.3L201.1 603.1M196.8 617.5L202.4 613.2M196.1 619.3L203.2 611.6M196.1 618.7L205.2 610.5M199.9 619.7L204.8 608.0M197.7 621.4L205.3 606.7M198.5 619.4L207.9 606.0M196.7 617.7L207.6 604.1M194.8 617.6L209.3 602.4M199.0 620.6L203.9 614.7M197.3 615.6L206.9 613.4M196.6 618.6L208.8 611.9M197.2 619.5L208.7 609.0M198.2 619.1L214.1 611.3M197.2 618.2L205.2 616.1M196.3 618.5L207.6 615.6M197.9 619.0L210.2 614.8M195.8 616.3L212.2 614.4M198.6 620.1L214.3 613.6M196.5 615.5L216.1 613.3M197.7 616.9L217.9 610.8M199.0 620.9L188.7 623.6M198.1 618.3L200.0 610.9M198.9 617.4L202.9 623.2M197.7 619.3L207.0 619.5M198.1 620.5L201.8 615.3M197.3 619.4L190.2 617.7M195.7 619.5L190.1 622.7M200.2 618.3L207.2 615.0M198.8 618.7L187.0 619.7M197.1 617.2L193.3 625.4M200.0 618.9L192.7 611.0M200.1 617.0L201.5 614.4M195.5 618.2L192.9 613.9M198.9 617.7L192.5 609.8M197.0 621.8L197.4 617.3M199.1 617.6L188.7 619.9M197.3 615.2L205.1 612.9M196.2 616.8L198.8 616.9M197.1 617.9L207.5 615.2M198.3 618.6L189.5 612.4M197.8 617.4L201.0 616.1M197.1 617.1L202.3 610.3M194.5 619.7L201.3 626.0M196.9 619.2L193.9 615.9M197.4 618.8L199.6 614.7M198.5 619.9L192.4 614.0M198.5 617.5L198.0 625.4M200.3 617.3L193.1 619.0M200.4 618.9L201.3 617.6M196.7 619.1L206.3 618.2M199.6 619.2L203.1 611.4M195.6 617.8L198.4 611.4M196.2 617.0L195.1 613.1M198.1 617.0L197.3 624.9M199.9 618.4L201.4 618.6M198.8 618.7L198.3 614.1M197.4 619.8L198.2 609.5M196.6 616.7L190.3 622.6M198.9 617.9L200.7 609.4M197.6 617.9L201.3 621.0M197.4 616.7L192.4 622.6M199.0 619.1L197.9 619.0M197.3 616.7L187.5 614.7M199.5 617.6L192.5 623.4M196.4 621.0L192.5 622.4M197.6 617.7L202.6 614.2M198.5 616.7L193.4 612.7M200.2 617.4L187.4 615.9M199.3 615.1L207.5 622.2M194.3 617.9L195.1 625.4M199.6 618.3L200.9 610.6M198.3 617.9L189.9 623.6M195.6 613.1L205.9 622.3M197.6 615.2L191.7 622.5M199.9 619.0L204.3 611.1M197.0 617.1L193.8 614.2M195.9 619.4L199.0 624.6M198.4 618.5L198.9 623.2M194.9 615.9L201.9 617.3M199.2 616.1L201.2 612.7M197.3 621.2L193.9 622.2M199.3 618.4L205.1 621.2M199.0 615.0L202.1 623.7M195.5 620.0L195.3 626.9M199.8 619.4L205.0 615.1M199.2 618.6L191.1 610.9M198.3 618.3L196.5 620.8"/>
<path fill="none" stroke="#6a6a6a" stroke-width="2.8" stroke-linecap="round" d="M205.2 618.5h0M210.0 619.4h0M213.6 619.3h0M215.6 620.2h0M220.0 621.7h0M205.1 620.6h0M207.3 621.4h0M208.9 622.2h0M211.9 622.7h0M214.0 624.9h0M216.6 624.0h0M218.1 625.0h0M204.5 622.0h0M205.9 622.7h0M207.2 623.7h0M209.6 623.4h0M210.9 624.5h0M209.7 628.3h0M212.3 627.3h0M202.5 622.9h0M203.8 624.2h0M204.0 626.2h0M204.2 627.7h0M206.3 628.7h0M208.1 629.4h0M207.4 632.0h0M207.4 633.7h0M200.1 623.9h0M199.9 626.3h0M200.8 627.5h0M201.0 629.4h0M201.0 630.7h0M199.3 632.9h0M201.9 634.0h0M202.0 636.4h0M198.5 624.6h0M198.0 626.6h0M197.4 630.5h0M195.6 632.9h0M195.0 635.7h0M194.4 622.9h0M192.5 624.3h0M191.1 626.1h0M189.2 628.5h0M186.8 628.7h0M191.7 621.3h0M190.0 622.9h0M187.9 624.7h0M186.0 627.3h0M183.9 628.7h0M191.5 620.5h0M190.3 620.9h0M188.8 621.5h0M187.1 622.1h0M186.4 622.7h0M185.6 623.9h0M182.4 622.2h0M181.7 624.1h0M191.1 618.5h0M189.3 618.5h0M186.8 618.0h0M185.3 617.9h0M183.3 617.1h0M180.9 617.3h0M178.9 614.8h0M191.4 616.9h0M189.4 615.7h0M187.0 616.2h0M184.9 615.0h0M184.1 613.0h0M181.5 613.2h0M180.0 612.3h0M192.9 614.3h0M190.6 613.5h0M188.4 613.2h0M187.6 610.9h0M186.1 610.6h0M183.7 610.8h0M193.9 612.2h0M192.9 611.2h0M192.0 607.6h0M190.9 605.8h0M187.8 604.1h0M190.3 601.1h0M196.9 611.6h0M196.0 609.9h0M194.7 607.4h0M194.4 606.2h0M193.5 603.8h0M199.1 612.1h0M199.8 610.6h0M199.3 609.3h0M201.8 608.2h0M201.7 606.2h0M201.0 604.3h0M201.1 603.1h0M202.4 613.2h0M203.2 611.6h0M205.2 610.5h0M204.8 608.0h0M205.3 606.7h0M207.9 606.0h0M207.6 604.1h0M209.3 602.4h0M203.9 614.7h0M206.9 613.4h0M208.8 611.9h0M208.7 609.0h0M214.1 611.3h0M205.2 616.1h0M207.6 615.6h0M210.2 614.8h0M212.2 614.4h0M214.3 613.6h0M216.1 613.3h0M217.9 610.8h0M188.7 623.6h0M200.0 610.9h0M202.9 623.2h0M207.0 619.5h0M201.8 615.3h0M190.2 617.7h0M190.1 622.7h0M207.2 615.0h0M187.0 619.7h0M193.3 625.4h0M192.7 611.0h0M201.5 614.4h0M192.9 613.9h0M192.5 609.8h0M197.4 617.3h0M188.7 619.9h0M205.1 612.9h0M198.8 616.9h0M207.5 615.2h0M189.5 612.4h0M201.0 616.1h0M202.3 610.3h0M201.3 626.0h0M193.9 615.9h0M199.6 614.7h0M192.4 614.0h0M198.0 625.4h0M193.1 619.0h0M201.3 617.6h0M206.3 618.2h0M203.1 611.4h0M198.4 611.4h0M195.1 613.1h0M197.3 624.9h0M201.4 618.6h0M198.3 614.1h0M198.2 609.5h0M190.3 622.6h0M200.7 609.4h0M201.3 621.0h0M192.4 622.6h0M197.9 619.0h0M187.5 614.7h0M192.5 623.4h0M192.5 622.4h0M202.6 614.2h0M193.4 612.7h0M187.4 615.9h0M207.5 622.2h0M195.1 625.4h0M200.9 610.6h0M189.9 623.6h0M205.9 622.3h0M191.7 622.5h0M204.3 611.1h0M193.8 614.2h0M199.0 624.6h0M198.9 623.2h0M201.9 617.3h0M201.2 612.7h0M193.9 622.2h0M205.1 621.2h0M202.1 623.7h0M195.3 626.9h0M205.0 615.1h0M191.1 610.9h0M196.5 620.8h0"/>
<path fill="none" stroke="#a8a8a8" stroke-width="2.0" stroke-linecap="round" d="M205.2 618.5h0M210.0 619.4h0M213.6 619.3h0M215.6 620.2h0M220.0 621.7h0M205.1 620.6h0M207.3 621.4h0M208.9 622.2h0M211.9 622.7h0M214.0 624.9h0M216.6 624.0h0M218.1 625.0h0M204.5 622.0h0M205.9 622.7h0M207.2 623.7h0M209.6 623.4h0M210.9 624.5h0M209.7 628.3h0M212.3 627.3h0M202.5 622.9h0M203.8 624.2h0M204.0 626.2h0M204.2 627.7h0M206.3 628.7h0M208.1 629.4h0M207.4 632.0h0M207.4 633.7h0M200.1 623.9h0M199.9 626.3h0M200.8 627.5h0M201.0 629.4h0M201.0 630.7h0M199.3 632.9h0M201.9 634.0h0M202.0 636.4h0M198.5 624.6h0M198.0 626.6h0M197.4 630.5h0M195.6 632.9h0M195.0 635.7h0M194.4 622.9h0M192.5 624.3h0M191.1 626.1h0M189.2 628.5h0M186.8 628.7h0M191.7 621.3h0M190.0 622.9h0M187.9 624.7h0M186.0 627.3h0M183.9 628.7h0M191.5 620.5h0M190.3 620.9h0M188.8 621.5h0M187.1 622.1h0M186.4 622.7h0M185.6 623.9h0M182.4 622.2h0M181.7 624.1h0M191.1 618.5h0M189.3 618.5h0M186.8 618.0h0M185.3 617.9h0M183.3 617.1h0M180.9 617.3h0M178.9 614.8h0M191.4 616.9h0M189.4 615.7h0M187.0 616.2h0M184.9 615.0h0M184.1 613.0h0M181.5 613.2h0M180.0 612.3h0M192.9 614.3h0M190.6 613.5h0M188.4 613.2h0M187.6 610.9h0M186.1 610.6h0M183.7 610.8h0M193.9 612.2h0M192.9 611.2h0M192.0 607.6h0M190.9 605.8h0M187.8 604.1h0M190.3 601.1h0M196.9 611.6h0M196.0 609.9h0M194.7 607.4h0M194.4 606.2h0M193.5 603.8h0M199.1 612.1h0M199.8 610.6h0M199.3 609.3h0M201.8 608.2h0M201.7 606.2h0M201.0 604.3h0M201.1 603.1h0M202.4 613.2h0M203.2 611.6h0M205.2 610.5h0M204.8 608.0h0M205.3 606.7h0M207.9 606.0h0M207.6 604.1h0M209.3 602.4h0M203.9 614.7h0M206.9 613.4h0M208.8 611.9h0M208.7 609.0h0M214.1 611.3h0M205.2 616.1h0M207.6 615.6h0M210.2 614.8h0M212.2 614.4h0M214.3 613.6h0M216.1 613.3h0M217.9 610.8h0M188.7 623.6h0M200.0 610.9h0M202.9 623.2h0M207.0 619.5h0M201.8 615.3h0M190.2 617.7h0M190.1 622.7h0M207.2 615.0h0M187.0 619.7h0M193.3 625.4h0M192.7 611.0h0M201.5 614.4h0M192.9 613.9h0M192.5 609.8h0M197.4 617.3h0M188.7 619.9h0M205.1 612.9h0M198.8 616.9h0M207.5 615.2h0M189.5 612.4h0M201.0 616.1h0M202.3 610.3h0M201.3 626.0h0M193.9 615.9h0M199.6 614.7h0M192.4 614.0h0M198.0 625.4h0M193.1 619.0h0M201.3 617.6h0M206.3 618.2h0M203.1 611.4h0M198.4 611.4h0M195.1 613.1h0M197.3 624.9h0M201.4 618.6h0M198.3 614.1h0M198.2 609.5h0M190.3 622.6h0M200.7 609.4h0M201.3 621.0h0M192.4 622.6h0M197.9 619.0h0M187.5 614.7h0M192.5 623.4h0M192.5 622.4h0M202.6 614.2h0M193.4 612.7h0M187.4 615.9h0M207.5 622.2h0M195.1 625.4h0M200.9 610.6h0M189.9 623.6h0M205.9 622.3h0M191.7 622.5h0M204.3 611.1h0M193.8 614.2h0M199.0 624.6h0M198.9 623.2h0M201.9 617.3h0M201.2 612.7h0M193.9 622.2h0M205.1 621.2h0M202.1 623.7h0M195.3 626.9h0M205.0 615.1h0M191.1 610.9h0M196.5 620.8h0"/>
<rect x="229.80" y="607.10" width="109.80" height="31.70" fill="#fff" stroke="#f08cf0" stroke-width="0.9" rx="6" stroke-dasharray="3 2"/>
<text x="234.0" y="621.7" font-size="6.6" font-style="italic" xml:space="preserve" textLength="80.9" lengthAdjust="spacingAndGlyphs"><tspan fill="#454545">Ncol1</tspan><tspan fill="#7a7a7a"> - LOC5508757, </tspan><tspan fill="#454545">spinalin</tspan><tspan fill="#7a7a7a"> -</tspan></text>
<text x="234.0" y="629.9" font-size="6.6" font-style="italic" xml:space="preserve" textLength="34.5" lengthAdjust="spacingAndGlyphs"><tspan fill="#7a7a7a">LOC5512442</tspan></text>
<ellipse cx="372.1" cy="566.5" rx="27" ry="22" fill="#fff" stroke="#5dade2" stroke-width="0.9" transform="rotate(35 372.1 566.5)"/>
<path fill="none" stroke="#555" stroke-width="0.22" stroke-opacity="0.6" d="M364.9 564.5L382.1 572.0M364.9 564.5L375.3 563.5M364.9 564.5L371.5 575.5M364.9 564.5L362.7 566.7M364.9 564.5L388.2 575.6M364.9 564.5L379.3 566.2M364.9 564.5L380.1 571.3M364.9 564.5L365.7 568.3M364.9 564.5L369.1 567.7M364.9 564.5L376.3 569.6M364.9 564.5L370.3 563.3M364.9 564.5L361.0 573.8M364.9 564.5L371.9 576.5M364.9 564.5L368.5 571.4M364.9 564.5L366.0 546.8M364.9 564.5L365.5 552.0M364.9 564.5L366.5 555.7M364.9 564.5L358.0 557.8M364.9 564.5L376.3 559.7M364.9 564.5L368.3 563.7M364.9 564.5L366.8 569.6M364.9 564.5L360.3 572.5M364.9 564.5L368.5 572.1M364.9 564.5L392.8 575.3M367.8 554.6L382.1 572.0M367.8 554.6L372.6 560.3M367.8 554.6L376.7 574.0M367.8 554.6L362.7 566.7M367.8 554.6L388.2 575.6M367.8 554.6L371.7 559.6M367.8 554.6L371.4 560.7M367.8 554.6L369.1 567.7M367.8 554.6L382.5 569.2M367.8 554.6L373.7 563.2M367.8 554.6L381.3 570.8M367.8 554.6L366.5 568.9M367.8 554.6L362.0 564.9M367.8 554.6L361.0 573.8M367.8 554.6L381.3 568.1M367.8 554.6L368.5 571.4M367.8 554.6L365.5 552.0M367.8 554.6L366.5 555.7M367.8 554.6L358.0 557.8M367.8 554.6L353.4 559.3M367.8 554.6L361.5 561.0M367.8 554.6L368.3 563.7M367.8 554.6L381.5 562.5M367.8 554.6L358.7 563.7M367.8 554.6L356.2 566.9M367.8 554.6L375.1 565.5M367.8 554.6L371.9 568.3M367.8 554.6L360.3 572.5M367.8 554.6L368.5 572.1M367.8 554.6L358.3 576.8M367.8 554.6L385.2 579.8M382.1 572.0L372.6 560.3M382.1 572.0L375.3 563.5M382.1 572.0L362.7 566.7M382.1 572.0L366.9 559.6M382.1 572.0L388.2 575.6M382.1 572.0L380.1 571.3M382.1 572.0L371.7 559.6M382.1 572.0L371.4 560.7M382.1 572.0L365.7 568.3M382.1 572.0L372.3 558.7M382.1 572.0L382.5 569.2M382.1 572.0L376.3 569.6M382.1 572.0L362.0 564.9M382.1 572.0L381.3 568.1M382.1 572.0L365.5 552.0M382.1 572.0L366.5 555.7M382.1 572.0L379.5 555.7M382.1 572.0L358.0 557.8M382.1 572.0L361.5 561.0M382.1 572.0L368.3 563.7M382.1 572.0L371.9 568.3M382.1 572.0L388.0 569.1M382.1 572.0L360.3 572.5M382.1 572.0L367.9 579.8M368.0 554.0L372.6 560.3M368.0 554.0L375.3 563.5M368.0 554.0L376.7 574.0M368.0 554.0L362.7 566.7M368.0 554.0L366.9 559.6M368.0 554.0L380.1 571.3M368.0 554.0L369.1 567.7M368.0 554.0L373.7 563.2M368.0 554.0L381.3 570.8M368.0 554.0L366.5 568.9M368.0 554.0L370.3 563.3M368.0 554.0L361.0 573.8M368.0 554.0L371.9 576.5M368.0 554.0L368.5 571.4M368.0 554.0L366.0 546.8M368.0 554.0L358.7 554.1M368.0 554.0L365.5 552.0M368.0 554.0L358.0 557.8M368.0 554.0L361.5 561.0M368.0 554.0L376.3 559.7M368.0 554.0L368.3 563.7M368.0 554.0L353.0 568.1M368.0 554.0L356.2 566.9M368.0 554.0L354.0 571.3M368.0 554.0L375.1 565.5M368.0 554.0L388.0 569.1M368.0 554.0L360.3 572.5M368.0 554.0L368.5 572.1M368.0 554.0L358.3 576.8M368.0 554.0L392.8 575.3M372.6 560.3L376.7 574.0M372.6 560.3L380.3 574.7M372.6 560.3L362.7 566.7M372.6 560.3L388.2 575.6M372.6 560.3L380.1 571.3M372.6 560.3L371.7 559.6M372.6 560.3L372.3 558.7M372.6 560.3L369.1 567.7M372.6 560.3L382.5 569.2M372.6 560.3L381.3 570.8M372.6 560.3L370.3 563.3M372.6 560.3L361.0 573.8M372.6 560.3L381.3 568.1M372.6 560.3L358.0 557.8M372.6 560.3L361.5 561.0M372.6 560.3L376.3 559.7M372.6 560.3L381.5 562.5M372.6 560.3L358.7 563.7M372.6 560.3L353.0 568.1M372.6 560.3L354.0 571.3M372.6 560.3L375.1 565.5M372.6 560.3L366.8 569.6M372.6 560.3L392.8 575.3M375.3 563.5L362.7 566.7M375.3 563.5L379.3 566.2M375.3 563.5L380.1 571.3M375.3 563.5L365.7 568.3M375.3 563.5L372.3 558.7M375.3 563.5L369.1 567.7M375.3 563.5L373.7 563.2M375.3 563.5L381.3 570.8M375.3 563.5L366.5 568.9M375.3 563.5L362.0 564.9M375.3 563.5L370.3 563.3M375.3 563.5L361.0 573.8M375.3 563.5L368.5 571.4M375.3 563.5L358.7 554.1M375.3 563.5L353.4 559.3M375.3 563.5L368.3 563.7M375.3 563.5L381.5 562.5M375.3 563.5L354.0 571.3M375.3 563.5L371.9 568.3M375.3 563.5L366.8 569.6M375.3 563.5L388.0 569.1M375.3 563.5L368.5 572.1M375.3 563.5L358.3 576.8M375.3 563.5L392.8 575.3M371.5 575.5L380.3 574.7M371.5 575.5L388.2 575.6M371.5 575.5L379.3 566.2M371.5 575.5L380.1 571.3M371.5 575.5L371.7 559.6M371.5 575.5L371.4 560.7M371.5 575.5L365.7 568.3M371.5 575.5L372.3 558.7M371.5 575.5L369.1 567.7M371.5 575.5L376.3 569.6M371.5 575.5L381.3 570.8M371.5 575.5L362.0 564.9M371.5 575.5L371.9 576.5M371.5 575.5L358.7 554.1M371.5 575.5L379.5 555.7M371.5 575.5L358.0 557.8M371.5 575.5L353.4 559.3M371.5 575.5L358.7 563.7M371.5 575.5L353.0 568.1M371.5 575.5L356.2 566.9M371.5 575.5L354.0 571.3M371.5 575.5L388.0 569.1M371.5 575.5L368.5 572.1M371.5 575.5L358.3 576.8M371.5 575.5L385.2 579.8M371.5 575.5L392.8 575.3M376.7 574.0L362.7 566.7M376.7 574.0L366.9 559.6M376.7 574.0L380.1 571.3M376.7 574.0L371.7 559.6M376.7 574.0L371.4 560.7M376.7 574.0L365.7 568.3M376.7 574.0L372.3 558.7M376.7 574.0L376.3 569.6M376.7 574.0L381.3 570.8M376.7 574.0L366.5 568.9M376.7 574.0L370.3 563.3M376.7 574.0L371.9 576.5M376.7 574.0L366.0 546.8M376.7 574.0L366.5 555.7M376.7 574.0L361.5 561.0M376.7 574.0L353.0 568.1M376.7 574.0L356.2 566.9M376.7 574.0L354.0 571.3M376.7 574.0L388.0 569.1M376.7 574.0L358.3 576.8M376.7 574.0L392.8 575.3M380.3 574.7L366.9 559.6M380.3 574.7L388.2 575.6M380.3 574.7L365.7 568.3M380.3 574.7L372.3 558.7M380.3 574.7L369.1 567.7M380.3 574.7L382.5 569.2M380.3 574.7L362.0 564.9M380.3 574.7L370.3 563.3M380.3 574.7L361.0 573.8M380.3 574.7L371.9 576.5M380.3 574.7L366.0 546.8M380.3 574.7L365.5 552.0M380.3 574.7L366.5 555.7M380.3 574.7L379.5 555.7M380.3 574.7L361.5 561.0M380.3 574.7L368.3 563.7M380.3 574.7L381.5 562.5M380.3 574.7L358.7 563.7M380.3 574.7L353.0 568.1M380.3 574.7L375.1 565.5M380.3 574.7L371.9 568.3M380.3 574.7L366.8 569.6M380.3 574.7L367.9 579.8M380.3 574.7L385.2 579.8M380.3 574.7L392.8 575.3M362.7 566.7L379.3 566.2M362.7 566.7L380.1 571.3M362.7 566.7L371.4 560.7M362.7 566.7L382.5 569.2M362.7 566.7L370.3 563.3M362.7 566.7L381.3 568.1M362.7 566.7L366.0 546.8M362.7 566.7L366.5 555.7M362.7 566.7L358.0 557.8M362.7 566.7L353.4 559.3M362.7 566.7L376.3 559.7M362.7 566.7L358.7 563.7M362.7 566.7L375.1 565.5M362.7 566.7L388.0 569.1M362.7 566.7L360.3 572.5M362.7 566.7L368.5 572.1M362.7 566.7L358.3 576.8M362.7 566.7L392.8 575.3M366.9 559.6L380.1 571.3M366.9 559.6L382.5 569.2M366.9 559.6L366.5 568.9M366.9 559.6L370.3 563.3M366.9 559.6L361.0 573.8M366.9 559.6L381.3 568.1M366.9 559.6L371.9 576.5M366.9 559.6L368.5 571.4M366.9 559.6L366.0 546.8M366.9 559.6L358.7 554.1M366.9 559.6L379.5 555.7M366.9 559.6L353.4 559.3M366.9 559.6L361.5 561.0M366.9 559.6L368.3 563.7M366.9 559.6L381.5 562.5M366.9 559.6L356.2 566.9M366.9 559.6L354.0 571.3M366.9 559.6L366.8 569.6M366.9 559.6L388.0 569.1M366.9 559.6L360.3 572.5M366.9 559.6L358.3 576.8M366.9 559.6L367.9 579.8M366.9 559.6L385.2 579.8M366.9 559.6L392.8 575.3M388.2 575.6L379.3 566.2M388.2 575.6L380.1 571.3M388.2 575.6L371.7 559.6M388.2 575.6L371.4 560.7M388.2 575.6L365.7 568.3M388.2 575.6L372.3 558.7M388.2 575.6L369.1 567.7M388.2 575.6L382.5 569.2M388.2 575.6L376.3 569.6M388.2 575.6L373.7 563.2M388.2 575.6L381.3 570.8M388.2 575.6L362.0 564.9M388.2 575.6L370.3 563.3M388.2 575.6L361.0 573.8M388.2 575.6L381.3 568.1M388.2 575.6L368.5 571.4M388.2 575.6L366.0 546.8M388.2 575.6L358.7 554.1M388.2 575.6L365.5 552.0M388.2 575.6L379.5 555.7M388.2 575.6L358.0 557.8M388.2 575.6L353.4 559.3M388.2 575.6L376.3 559.7M388.2 575.6L381.5 562.5M388.2 575.6L353.0 568.1M388.2 575.6L356.2 566.9M388.2 575.6L354.0 571.3M388.2 575.6L366.8 569.6M388.2 575.6L388.0 569.1M388.2 575.6L367.9 579.8M388.2 575.6L385.2 579.8M388.2 575.6L392.8 575.3M379.3 566.2L380.1 571.3M379.3 566.2L371.7 559.6M379.3 566.2L371.4 560.7M379.3 566.2L369.1 567.7M379.3 566.2L376.3 569.6M379.3 566.2L362.0 564.9M379.3 566.2L370.3 563.3M379.3 566.2L371.9 576.5M379.3 566.2L368.5 571.4M379.3 566.2L358.7 554.1M379.3 566.2L365.5 552.0M379.3 566.2L366.5 555.7M379.3 566.2L353.4 559.3M379.3 566.2L353.0 568.1M379.3 566.2L356.2 566.9M379.3 566.2L354.0 571.3M379.3 566.2L371.9 568.3M379.3 566.2L366.8 569.6M379.3 566.2L388.0 569.1M379.3 566.2L367.9 579.8M379.3 566.2L385.2 579.8M379.3 566.2L392.8 575.3M380.1 571.3L371.4 560.7M380.1 571.3L365.7 568.3M380.1 571.3L382.5 569.2M380.1 571.3L376.3 569.6M380.1 571.3L370.3 563.3M380.1 571.3L371.9 576.5M380.1 571.3L368.5 571.4M380.1 571.3L366.0 546.8M380.1 571.3L358.7 554.1M380.1 571.3L366.5 555.7M380.1 571.3L358.0 557.8M380.1 571.3L353.4 559.3M380.1 571.3L376.3 559.7M380.1 571.3L368.3 563.7M380.1 571.3L381.5 562.5M380.1 571.3L356.2 566.9M380.1 571.3L354.0 571.3M380.1 571.3L371.9 568.3M380.1 571.3L388.0 569.1M380.1 571.3L385.2 579.8M380.1 571.3L392.8 575.3M371.7 559.6L371.4 560.7M371.7 559.6L372.3 558.7M371.7 559.6L369.1 567.7M371.7 559.6L376.3 569.6M371.7 559.6L381.3 570.8M371.7 559.6L366.5 568.9M371.7 559.6L362.0 564.9M371.7 559.6L366.0 546.8M371.7 559.6L365.5 552.0M371.7 559.6L366.5 555.7M371.7 559.6L361.5 561.0M371.7 559.6L368.3 563.7M371.7 559.6L358.7 563.7M371.7 559.6L353.0 568.1M371.7 559.6L356.2 566.9M371.7 559.6L354.0 571.3M371.7 559.6L366.8 569.6M371.7 559.6L368.5 572.1M371.7 559.6L358.3 576.8M371.7 559.6L385.2 579.8M371.7 559.6L392.8 575.3M371.4 560.7L365.7 568.3M371.4 560.7L372.3 558.7M371.4 560.7L369.1 567.7M371.4 560.7L361.0 573.8M371.4 560.7L366.0 546.8M371.4 560.7L365.5 552.0M371.4 560.7L358.0 557.8M371.4 560.7L361.5 561.0M371.4 560.7L376.3 559.7M371.4 560.7L381.5 562.5M371.4 560.7L356.2 566.9M371.4 560.7L375.1 565.5M371.4 560.7L371.9 568.3M371.4 560.7L366.8 569.6M371.4 560.7L368.5 572.1M371.4 560.7L358.3 576.8M371.4 560.7L367.9 579.8M371.4 560.7L385.2 579.8M371.4 560.7L392.8 575.3M365.7 568.3L372.3 558.7M365.7 568.3L366.5 568.9M365.7 568.3L362.0 564.9M365.7 568.3L370.3 563.3M365.7 568.3L361.0 573.8M365.7 568.3L368.5 571.4M365.7 568.3L358.7 554.1M365.7 568.3L365.5 552.0M365.7 568.3L358.0 557.8M365.7 568.3L353.4 559.3M365.7 568.3L376.3 559.7M365.7 568.3L368.3 563.7M365.7 568.3L353.0 568.1M365.7 568.3L356.2 566.9M365.7 568.3L354.0 571.3M365.7 568.3L371.9 568.3M365.7 568.3L368.5 572.1M365.7 568.3L358.3 576.8M365.7 568.3L367.9 579.8M365.7 568.3L385.2 579.8M365.7 568.3L392.8 575.3M372.3 558.7L369.1 567.7M372.3 558.7L376.3 569.6M372.3 558.7L373.7 563.2M372.3 558.7L381.3 570.8M372.3 558.7L362.0 564.9M372.3 558.7L370.3 563.3M372.3 558.7L361.0 573.8M372.3 558.7L381.3 568.1M372.3 558.7L365.5 552.0M372.3 558.7L366.5 555.7M372.3 558.7L368.3 563.7M372.3 558.7L381.5 562.5M372.3 558.7L358.7 563.7M372.3 558.7L375.1 565.5M372.3 558.7L368.5 572.1M372.3 558.7L367.9 579.8M372.3 558.7L385.2 579.8M369.1 567.7L373.7 563.2M369.1 567.7L381.3 570.8M369.1 567.7L366.5 568.9M369.1 567.7L370.3 563.3M369.1 567.7L381.3 568.1M369.1 567.7L371.9 576.5M369.1 567.7L366.0 546.8M369.1 567.7L358.0 557.8M369.1 567.7L376.3 559.7M369.1 567.7L368.3 563.7M369.1 567.7L353.0 568.1M369.1 567.7L354.0 571.3M369.1 567.7L360.3 572.5M369.1 567.7L358.3 576.8M369.1 567.7L367.9 579.8M369.1 567.7L392.8 575.3M382.5 569.2L376.3 569.6M382.5 569.2L366.5 568.9M382.5 569.2L362.0 564.9M382.5 569.2L370.3 563.3M382.5 569.2L361.0 573.8M382.5 569.2L381.3 568.1M382.5 569.2L368.5 571.4M382.5 569.2L366.0 546.8M382.5 569.2L358.7 554.1M382.5 569.2L365.5 552.0M382.5 569.2L376.3 559.7M382.5 569.2L368.3 563.7M382.5 569.2L358.7 563.7M382.5 569.2L353.0 568.1M382.5 569.2L356.2 566.9M382.5 569.2L354.0 571.3M382.5 569.2L371.9 568.3M382.5 569.2L366.8 569.6M382.5 569.2L360.3 572.5M382.5 569.2L358.3 576.8M376.3 569.6L373.7 563.2M376.3 569.6L381.3 570.8M376.3 569.6L362.0 564.9M376.3 569.6L370.3 563.3M376.3 569.6L371.9 576.5M376.3 569.6L358.7 554.1M376.3 569.6L365.5 552.0M376.3 569.6L366.5 555.7M376.3 569.6L358.0 557.8M376.3 569.6L353.4 559.3M376.3 569.6L361.5 561.0M376.3 569.6L376.3 559.7M376.3 569.6L368.3 563.7M376.3 569.6L358.7 563.7M376.3 569.6L353.0 568.1M376.3 569.6L371.9 568.3M376.3 569.6L366.8 569.6M376.3 569.6L360.3 572.5M376.3 569.6L358.3 576.8M376.3 569.6L367.9 579.8M376.3 569.6L385.2 579.8M373.7 563.2L362.0 564.9M373.7 563.2L361.0 573.8M373.7 563.2L368.5 571.4M373.7 563.2L366.5 555.7M373.7 563.2L353.4 559.3M373.7 563.2L361.5 561.0M373.7 563.2L376.3 559.7M373.7 563.2L368.3 563.7M373.7 563.2L358.7 563.7M373.7 563.2L356.2 566.9M373.7 563.2L354.0 571.3M373.7 563.2L358.3 576.8M373.7 563.2L385.2 579.8M373.7 563.2L392.8 575.3M381.3 570.8L362.0 564.9M381.3 570.8L361.0 573.8M381.3 570.8L381.3 568.1M381.3 570.8L371.9 576.5M381.3 570.8L379.5 555.7M381.3 570.8L353.4 559.3M381.3 570.8L361.5 561.0M381.3 570.8L381.5 562.5M381.3 570.8L353.0 568.1M381.3 570.8L354.0 571.3M381.3 570.8L375.1 565.5M381.3 570.8L368.5 572.1M381.3 570.8L367.9 579.8M381.3 570.8L385.2 579.8M366.5 568.9L370.3 563.3M366.5 568.9L381.3 568.1M366.5 568.9L368.5 571.4M366.5 568.9L366.0 546.8M366.5 568.9L366.5 555.7M366.5 568.9L353.4 559.3M366.5 568.9L361.5 561.0M366.5 568.9L368.3 563.7M366.5 568.9L381.5 562.5M366.5 568.9L354.0 571.3M366.5 568.9L375.1 565.5M366.5 568.9L371.9 568.3M366.5 568.9L388.0 569.1M366.5 568.9L360.3 572.5M366.5 568.9L368.5 572.1M366.5 568.9L358.3 576.8M366.5 568.9L367.9 579.8M362.0 564.9L366.0 546.8M362.0 564.9L365.5 552.0M362.0 564.9L379.5 555.7M362.0 564.9L358.0 557.8M362.0 564.9L361.5 561.0M362.0 564.9L376.3 559.7M362.0 564.9L358.7 563.7M362.0 564.9L353.0 568.1M362.0 564.9L356.2 566.9M362.0 564.9L354.0 571.3M362.0 564.9L371.9 568.3M362.0 564.9L366.8 569.6M362.0 564.9L388.0 569.1M362.0 564.9L368.5 572.1M362.0 564.9L385.2 579.8M362.0 564.9L392.8 575.3M370.3 563.3L371.9 576.5M370.3 563.3L368.5 571.4M370.3 563.3L365.5 552.0M370.3 563.3L366.5 555.7M370.3 563.3L379.5 555.7M370.3 563.3L358.0 557.8M370.3 563.3L376.3 559.7M370.3 563.3L368.3 563.7M370.3 563.3L353.0 568.1M370.3 563.3L356.2 566.9M370.3 563.3L354.0 571.3M370.3 563.3L371.9 568.3M370.3 563.3L368.5 572.1M370.3 563.3L358.3 576.8M370.3 563.3L367.9 579.8M361.0 573.8L381.3 568.1M361.0 573.8L358.7 554.1M361.0 573.8L365.5 552.0M361.0 573.8L379.5 555.7M361.0 573.8L361.5 561.0M361.0 573.8L353.0 568.1M361.0 573.8L356.2 566.9M361.0 573.8L354.0 571.3M361.0 573.8L375.1 565.5M361.0 573.8L371.9 568.3M361.0 573.8L388.0 569.1M361.0 573.8L358.3 576.8M361.0 573.8L385.2 579.8M361.0 573.8L392.8 575.3M381.3 568.1L371.9 576.5M381.3 568.1L368.5 571.4M381.3 568.1L366.0 546.8M381.3 568.1L358.7 554.1M381.3 568.1L379.5 555.7M381.3 568.1L358.0 557.8M381.3 568.1L353.4 559.3M381.3 568.1L361.5 561.0M381.3 568.1L376.3 559.7M381.3 568.1L368.3 563.7M381.3 568.1L358.7 563.7M381.3 568.1L353.0 568.1M381.3 568.1L356.2 566.9M381.3 568.1L354.0 571.3M381.3 568.1L371.9 568.3M381.3 568.1L388.0 569.1M381.3 568.1L358.3 576.8M381.3 568.1L385.2 579.8M371.9 576.5L358.7 554.1M371.9 576.5L365.5 552.0M371.9 576.5L358.0 557.8M371.9 576.5L361.5 561.0M371.9 576.5L381.5 562.5M371.9 576.5L356.2 566.9M371.9 576.5L375.1 565.5M371.9 576.5L371.9 568.3M371.9 576.5L388.0 569.1M371.9 576.5L358.3 576.8M371.9 576.5L392.8 575.3M368.5 571.4L365.5 552.0M368.5 571.4L366.5 555.7M368.5 571.4L353.4 559.3M368.5 571.4L361.5 561.0M368.5 571.4L381.5 562.5M368.5 571.4L366.8 569.6M368.5 571.4L388.0 569.1M368.5 571.4L358.3 576.8M368.5 571.4L367.9 579.8M368.5 571.4L392.8 575.3M366.0 546.8L366.5 555.7M366.0 546.8L379.5 555.7M366.0 546.8L353.4 559.3M366.0 546.8L376.3 559.7M366.0 546.8L368.3 563.7M366.0 546.8L381.5 562.5M366.0 546.8L358.7 563.7M366.0 546.8L356.2 566.9M366.0 546.8L354.0 571.3M366.0 546.8L375.1 565.5M366.0 546.8L371.9 568.3M366.0 546.8L388.0 569.1M366.0 546.8L360.3 572.5M366.0 546.8L392.8 575.3M358.7 554.1L365.5 552.0M358.7 554.1L366.5 555.7M358.7 554.1L379.5 555.7M358.7 554.1L353.4 559.3M358.7 554.1L376.3 559.7M358.7 554.1L368.3 563.7M358.7 554.1L381.5 562.5M358.7 554.1L353.0 568.1M358.7 554.1L375.1 565.5M358.7 554.1L371.9 568.3M358.7 554.1L358.3 576.8M358.7 554.1L392.8 575.3M365.5 552.0L366.5 555.7M365.5 552.0L358.0 557.8M365.5 552.0L361.5 561.0M365.5 552.0L368.3 563.7M365.5 552.0L358.7 563.7M365.5 552.0L371.9 568.3M365.5 552.0L388.0 569.1M365.5 552.0L358.3 576.8M365.5 552.0L367.9 579.8M365.5 552.0L385.2 579.8M366.5 555.7L379.5 555.7M366.5 555.7L381.5 562.5M366.5 555.7L358.7 563.7M366.5 555.7L375.1 565.5M366.5 555.7L371.9 568.3M366.5 555.7L360.3 572.5M366.5 555.7L358.3 576.8M379.5 555.7L358.0 557.8M379.5 555.7L353.4 559.3M379.5 555.7L368.3 563.7M379.5 555.7L381.5 562.5M379.5 555.7L358.7 563.7M379.5 555.7L356.2 566.9M379.5 555.7L354.0 571.3M379.5 555.7L366.8 569.6M379.5 555.7L360.3 572.5M379.5 555.7L368.5 572.1M379.5 555.7L367.9 579.8M379.5 555.7L385.2 579.8M358.0 557.8L353.4 559.3M358.0 557.8L376.3 559.7M358.0 557.8L381.5 562.5M358.0 557.8L353.0 568.1M358.0 557.8L354.0 571.3M358.0 557.8L375.1 565.5M358.0 557.8L371.9 568.3M358.0 557.8L388.0 569.1M358.0 557.8L360.3 572.5M358.0 557.8L368.5 572.1M358.0 557.8L358.3 576.8M358.0 557.8L367.9 579.8M353.4 559.3L376.3 559.7M353.4 559.3L368.3 563.7M353.4 559.3L381.5 562.5M353.4 559.3L358.7 563.7M353.4 559.3L353.0 568.1M353.4 559.3L354.0 571.3M353.4 559.3L368.5 572.1M353.4 559.3L358.3 576.8M353.4 559.3L367.9 579.8M361.5 561.0L376.3 559.7M361.5 561.0L353.0 568.1M361.5 561.0L356.2 566.9M361.5 561.0L375.1 565.5M361.5 561.0L371.9 568.3M361.5 561.0L388.0 569.1M361.5 561.0L360.3 572.5M361.5 561.0L368.5 572.1M361.5 561.0L358.3 576.8M361.5 561.0L385.2 579.8M361.5 561.0L392.8 575.3M376.3 559.7L368.3 563.7M376.3 559.7L381.5 562.5M376.3 559.7L354.0 571.3M376.3 559.7L371.9 568.3M376.3 559.7L366.8 569.6M376.3 559.7L388.0 569.1M376.3 559.7L360.3 572.5M376.3 559.7L368.5 572.1M376.3 559.7L367.9 579.8M376.3 559.7L392.8 575.3M368.3 563.7L358.7 563.7M368.3 563.7L353.0 568.1M368.3 563.7L388.0 569.1M368.3 563.7L367.9 579.8M368.3 563.7L385.2 579.8M381.5 562.5L353.0 568.1M381.5 562.5L375.1 565.5M381.5 562.5L371.9 568.3M381.5 562.5L388.0 569.1M381.5 562.5L360.3 572.5M381.5 562.5L358.3 576.8M381.5 562.5L367.9 579.8M381.5 562.5L385.2 579.8M381.5 562.5L392.8 575.3M358.7 563.7L375.1 565.5M358.7 563.7L371.9 568.3M358.7 563.7L366.8 569.6M358.7 563.7L388.0 569.1M358.7 563.7L360.3 572.5M358.7 563.7L367.9 579.8M358.7 563.7L385.2 579.8M358.7 563.7L392.8 575.3M353.0 568.1L356.2 566.9M353.0 568.1L375.1 565.5M353.0 568.1L388.0 569.1M353.0 568.1L360.3 572.5M353.0 568.1L368.5 572.1M353.0 568.1L385.2 579.8M356.2 566.9L354.0 571.3M356.2 566.9L375.1 565.5M356.2 566.9L371.9 568.3M356.2 566.9L366.8 569.6M356.2 566.9L358.3 576.8M356.2 566.9L385.2 579.8M356.2 566.9L392.8 575.3M354.0 571.3L371.9 568.3M354.0 571.3L366.8 569.6M354.0 571.3L388.0 569.1M354.0 571.3L367.9 579.8M375.1 565.5L388.0 569.1M375.1 565.5L358.3 576.8M375.1 565.5L392.8 575.3M371.9 568.3L360.3 572.5M371.9 568.3L368.5 572.1M371.9 568.3L358.3 576.8M371.9 568.3L385.2 579.8M371.9 568.3L392.8 575.3M366.8 569.6L388.0 569.1M366.8 569.6L368.5 572.1M366.8 569.6L358.3 576.8M366.8 569.6L385.2 579.8M366.8 569.6L392.8 575.3M388.0 569.1L368.5 572.1M388.0 569.1L358.3 576.8M388.0 569.1L385.2 579.8M388.0 569.1L392.8 575.3M360.3 572.5L358.3 576.8M360.3 572.5L385.2 579.8M360.3 572.5L392.8 575.3M368.5 572.1L358.3 576.8M368.5 572.1L392.8 575.3M358.3 576.8L385.2 579.8"/>
<polygon points="364.94,562.14 367.34,564.54 364.94,566.94 362.54,564.54" fill="#4d4d4d" stroke="#444" stroke-width="0.2"/>
<polygon points="367.76,552.21 370.16,554.61 367.76,557.01 365.36,554.61" fill="#4d4d4d" stroke="#444" stroke-width="0.2"/>
<polygon points="382.14,569.62 384.54,572.02 382.14,574.42 379.74,572.02" fill="#4d4d4d" stroke="#444" stroke-width="0.2"/>
<polygon points="367.98,551.59 370.38,553.99 367.98,556.39 365.58,553.99" fill="#4d4d4d" stroke="#444" stroke-width="0.2"/>
<polygon points="372.62,557.86 375.02,560.26 372.62,562.66 370.22,560.26" fill="#4d4d4d" stroke="#444" stroke-width="0.2"/>
<polygon points="375.26,561.09 377.66,563.49 375.26,565.89 372.86,563.49" fill="#4d4d4d" stroke="#444" stroke-width="0.2"/>
<polygon points="371.49,573.11 373.89,575.51 371.49,577.91 369.09,575.51" fill="#4d4d4d" stroke="#444" stroke-width="0.2"/>
<polygon points="376.66,571.59 379.06,573.99 376.66,576.39 374.26,573.99" fill="#4d4d4d" stroke="#444" stroke-width="0.2"/>
<polygon points="380.34,572.32 382.74,574.72 380.34,577.12 377.94,574.72" fill="#4d4d4d" stroke="#444" stroke-width="0.2"/>
<polygon points="362.71,564.28 365.11,566.68 362.71,569.08 360.31,566.68" fill="#4d4d4d" stroke="#444" stroke-width="0.2"/>
<polygon points="366.94,557.21 369.34,559.61 366.94,562.01 364.54,559.61" fill="#4d4d4d" stroke="#444" stroke-width="0.2"/>
<polygon points="388.22,573.18 390.62,575.58 388.22,577.98 385.82,575.58" fill="#4d4d4d" stroke="#444" stroke-width="0.2"/>
<polygon points="379.29,563.84 381.69,566.24 379.29,568.64 376.89,566.24" fill="#4d4d4d" stroke="#444" stroke-width="0.2"/>
<polygon points="380.14,568.91 382.54,571.31 380.14,573.71 377.74,571.31" fill="#4d4d4d" stroke="#444" stroke-width="0.2"/>
<polygon points="371.69,557.24 374.09,559.64 371.69,562.04 369.29,559.64" fill="#4d4d4d" stroke="#444" stroke-width="0.2"/>
<polygon points="371.39,558.30 373.79,560.70 371.39,563.10 368.99,560.70" fill="#4d4d4d" stroke="#444" stroke-width="0.2"/>
<polygon points="365.66,565.86 368.06,568.26 365.66,570.66 363.26,568.26" fill="#4d4d4d" stroke="#444" stroke-width="0.2"/>
<polygon points="372.31,556.30 374.71,558.70 372.31,561.10 369.91,558.70" fill="#4d4d4d" stroke="#444" stroke-width="0.2"/>
<polygon points="369.13,565.34 371.53,567.74 369.13,570.14 366.73,567.74" fill="#4d4d4d" stroke="#444" stroke-width="0.2"/>
<polygon points="382.54,566.85 384.94,569.25 382.54,571.65 380.14,569.25" fill="#4d4d4d" stroke="#444" stroke-width="0.2"/>
<polygon points="376.32,567.24 378.72,569.64 376.32,572.04 373.92,569.64" fill="#4d4d4d" stroke="#444" stroke-width="0.2"/>
<polygon points="373.70,560.79 376.10,563.19 373.70,565.59 371.30,563.19" fill="#4d4d4d" stroke="#444" stroke-width="0.2"/>
<polygon points="381.29,568.43 383.69,570.83 381.29,573.23 378.89,570.83" fill="#4d4d4d" stroke="#444" stroke-width="0.2"/>
<polygon points="366.48,566.51 368.88,568.91 366.48,571.31 364.08,568.91" fill="#4d4d4d" stroke="#444" stroke-width="0.2"/>
<polygon points="362.00,562.55 364.40,564.95 362.00,567.35 359.60,564.95" fill="#4d4d4d" stroke="#444" stroke-width="0.2"/>
<polygon points="370.32,560.90 372.72,563.30 370.32,565.70 367.92,563.30" fill="#4d4d4d" stroke="#444" stroke-width="0.2"/>
<polygon points="361.02,571.39 363.42,573.79 361.02,576.19 358.62,573.79" fill="#4d4d4d" stroke="#444" stroke-width="0.2"/>
<polygon points="381.26,565.70 383.66,568.10 381.26,570.50 378.86,568.10" fill="#4d4d4d" stroke="#444" stroke-width="0.2"/>
<polygon points="371.94,574.13 374.34,576.53 371.94,578.93 369.54,576.53" fill="#4d4d4d" stroke="#444" stroke-width="0.2"/>
<polygon points="368.49,569.03 370.89,571.43 368.49,573.83 366.09,571.43" fill="#4d4d4d" stroke="#444" stroke-width="0.2"/>
<polygon points="366.00,544.40 368.40,546.80 366.00,549.20 363.60,546.80" fill="#4d4d4d" stroke="#444" stroke-width="0.2"/>
<polygon points="358.70,551.70 361.10,554.10 358.70,556.50 356.30,554.10" fill="#4d4d4d" stroke="#444" stroke-width="0.2"/>
<polygon points="365.50,549.60 367.90,552.00 365.50,554.40 363.10,552.00" fill="#4d4d4d" stroke="#444" stroke-width="0.2"/>
<polygon points="366.50,553.30 368.90,555.70 366.50,558.10 364.10,555.70" fill="#138f8f" stroke="#444" stroke-width="0.2"/>
<polygon points="379.50,553.30 381.90,555.70 379.50,558.10 377.10,555.70" fill="#b43cf0" stroke="#444" stroke-width="0.2"/>
<polygon points="358.00,555.40 360.40,557.80 358.00,560.20 355.60,557.80" fill="#0000ee" stroke="#444" stroke-width="0.2"/>
<polygon points="353.40,556.90 355.80,559.30 353.40,561.70 351.00,559.30" fill="#138f8f" stroke="#444" stroke-width="0.2"/>
<polygon points="361.50,558.60 363.90,561.00 361.50,563.40 359.10,561.00" fill="#0000ee" stroke="#444" stroke-width="0.2"/>
<polygon points="376.30,557.30 378.70,559.70 376.30,562.10 373.90,559.70" fill="#0000ee" stroke="#444" stroke-width="0.2"/>
<polygon points="368.30,561.30 370.70,563.70 368.30,566.10 365.90,563.70" fill="#f04a10" stroke="#444" stroke-width="0.2"/>
<polygon points="381.50,560.10 383.90,562.50 381.50,564.90 379.10,562.50" fill="#138f8f" stroke="#444" stroke-width="0.2"/>
<polygon points="358.70,561.30 361.10,563.70 358.70,566.10 356.30,563.70" fill="#4d4d4d" stroke="#444" stroke-width="0.2"/>
<polygon points="353.00,565.70 355.40,568.10 353.00,570.50 350.60,568.10" fill="#138f8f" stroke="#444" stroke-width="0.2"/>
<polygon points="356.20,564.50 358.60,566.90 356.20,569.30 353.80,566.90" fill="#0000ee" stroke="#444" stroke-width="0.2"/>
<polygon points="354.00,568.90 356.40,571.30 354.00,573.70 351.60,571.30" fill="#0000ee" stroke="#444" stroke-width="0.2"/>
<polygon points="375.10,563.10 377.50,565.50 375.10,567.90 372.70,565.50" fill="#138f8f" stroke="#444" stroke-width="0.2"/>
<polygon points="371.90,565.90 374.30,568.30 371.90,570.70 369.50,568.30" fill="#138f8f" stroke="#444" stroke-width="0.2"/>
<polygon points="366.80,567.20 369.20,569.60 366.80,572.00 364.40,569.60" fill="#0000ee" stroke="#444" stroke-width="0.2"/>
<polygon points="388.00,566.70 390.40,569.10 388.00,571.50 385.60,569.10" fill="#b43cf0" stroke="#444" stroke-width="0.2"/>
<polygon points="360.30,570.10 362.70,572.50 360.30,574.90 357.90,572.50" fill="#138f8f" stroke="#444" stroke-width="0.2"/>
<polygon points="368.50,569.70 370.90,572.10 368.50,574.50 366.10,572.10" fill="#138f8f" stroke="#444" stroke-width="0.2"/>
<polygon points="358.30,574.40 360.70,576.80 358.30,579.20 355.90,576.80" fill="#138f8f" stroke="#444" stroke-width="0.2"/>
<polygon points="367.90,577.40 370.30,579.80 367.90,582.20 365.50,579.80" fill="#138f8f" stroke="#444" stroke-width="0.2"/>
<polygon points="385.20,577.40 387.60,579.80 385.20,582.20 382.80,579.80" fill="#138f8f" stroke="#444" stroke-width="0.2"/>
<polygon points="392.80,572.90 395.20,575.30 392.80,577.70 390.40,575.30" fill="#4d4d4d" stroke="#444" stroke-width="0.2"/>
<rect x="402.30" y="536.40" width="114.00" height="71.10" fill="#fff" stroke="#7fbbe8" stroke-width="0.9" rx="6"/>
<text x="407.9" y="542.2" font-size="6.6" font-style="italic" xml:space="preserve" textLength="72.2" lengthAdjust="spacingAndGlyphs"><tspan fill="#ff4a12" font-weight="bold">Islet</tspan><tspan fill="#ff4a12"> - LOC5518173</tspan><tspan fill="#7a7a7a">, </tspan><tspan fill="#454545" font-weight="bold">Pou3</tspan><tspan fill="#7a7a7a"> -</tspan></text>
<text x="407.9" y="550.2" font-size="6.6" font-style="italic" xml:space="preserve" textLength="100.9" lengthAdjust="spacingAndGlyphs"><tspan fill="#7a7a7a">LOC5504763, </tspan><tspan fill="#454545" font-weight="bold">Etv1/4/5</tspan><tspan fill="#7a7a7a"> - LOC5509069,</tspan></text>
<text x="407.9" y="558.1" font-size="6.6" font-style="italic" xml:space="preserve" textLength="70.3" lengthAdjust="spacingAndGlyphs"><tspan fill="#454545" font-weight="bold">Gata</tspan><tspan fill="#7a7a7a"> - LOC5521983, </tspan><tspan fill="#1515f0" font-weight="bold">Helt</tspan><tspan fill="#1515f0"> -</tspan></text>
<text x="407.9" y="566.1" font-size="6.6" font-style="italic" xml:space="preserve" textLength="98.0" lengthAdjust="spacingAndGlyphs"><tspan fill="#1515f0">LOC5506384, </tspan><tspan fill="#1515f0" font-weight="bold">Nem43</tspan><tspan fill="#1515f0"> - LOC5506840,</tspan></text>
<text x="407.9" y="574.1" font-size="6.6" font-style="italic" xml:space="preserve" textLength="67.7" lengthAdjust="spacingAndGlyphs"><tspan fill="#1515f0" font-weight="bold">Npas/Sim</tspan><tspan fill="#1515f0"> - LOC5515802,</tspan></text>
<text x="407.9" y="582.1" font-size="6.6" font-style="italic" xml:space="preserve" textLength="99.7" lengthAdjust="spacingAndGlyphs"><tspan fill="#1515f0" font-weight="bold">NvAshA_Nem17</tspan><tspan fill="#1515f0"> - LOC5502681</tspan><tspan fill="#7a7a7a">, </tspan><tspan fill="#454545" font-weight="bold">Tcf</tspan><tspan fill="#7a7a7a"> -</tspan></text>
<text x="407.9" y="590.1" font-size="6.6" font-style="italic" xml:space="preserve" textLength="94.5" lengthAdjust="spacingAndGlyphs"><tspan fill="#7a7a7a">LOC5512752, </tspan><tspan fill="#454545" font-weight="bold">bHLH</tspan><tspan fill="#7a7a7a"> - LOC5516813,</tspan></text>
<text x="407.9" y="598.0" font-size="6.6" font-style="italic" xml:space="preserve" textLength="91.4" lengthAdjust="spacingAndGlyphs"><tspan fill="#454545" font-weight="bold">bZIP</tspan><tspan fill="#7a7a7a"> (LOC5497987, LOC5511974),</tspan></text>
<text x="407.9" y="606.0" font-size="6.6" font-style="italic" xml:space="preserve" textLength="53.8" lengthAdjust="spacingAndGlyphs"><tspan fill="#454545" font-weight="bold">FoxP</tspan><tspan fill="#7a7a7a"> - LOC5519051</tspan></text>
<ellipse cx="372.7" cy="620.4" rx="26.6" ry="21.5" fill="#fff" stroke="#5dade2" stroke-width="0.9" stroke-dasharray="3 2"/>
<ellipse cx="372.7" cy="620.4" rx="10.6" ry="8.6" fill="#555" fill-opacity="0.45"/>
<path fill="none" stroke="#333" stroke-width="0.35" stroke-opacity="0.45" d="M371.6 623.4L379.7 620.2M371.7 619.4L381.3 620.1M374.3 617.7L382.6 620.2M375.1 618.5L384.2 619.9M371.4 618.5L385.6 620.1M371.2 619.3L386.8 618.3M374.1 620.3L389.1 621.0M374.8 621.6L390.1 619.8M370.8 620.4L379.6 622.0M371.8 619.7L381.8 621.6M372.9 620.9L382.7 622.2M373.3 617.2L384.8 622.8M372.5 619.7L386.1 623.4M375.5 620.0L388.3 624.4M372.6 620.4L390.2 623.9M373.9 618.7L378.1 624.6M372.5 620.2L379.8 625.3M372.7 620.0L380.3 627.2M371.9 620.5L382.4 627.6M370.7 622.8L382.1 630.0M372.7 617.6L385.4 629.8M372.3 621.8L387.3 631.3M372.4 620.2L375.6 625.3M369.2 622.5L377.9 626.7M372.8 617.4L379.2 627.9M372.0 622.6L379.4 630.4M373.3 618.1L381.5 631.0M371.8 620.8L380.1 634.2M375.8 620.8L373.8 625.8M373.8 619.9L374.9 627.6M372.8 618.9L373.5 630.1M370.7 618.3L374.6 632.0M371.8 622.3L377.0 634.0M372.6 622.2L375.9 635.9M373.9 620.6L371.8 626.1M371.9 623.6L371.0 628.3M374.4 622.3L370.5 631.0M376.5 622.7L371.3 633.1M373.0 621.0L369.7 635.5M373.5 623.8L368.6 625.2M371.2 617.6L367.9 627.1M372.0 620.4L367.2 629.0M371.8 621.8L367.5 632.2M373.6 620.3L365.9 633.8M372.8 623.3L366.5 624.1M375.7 623.0L364.9 625.0M372.1 622.3L363.4 625.6M371.0 617.6L362.5 627.3M375.3 621.7L360.0 627.7M373.7 622.6L359.0 629.2M375.2 620.8L356.5 630.3M373.1 621.3L366.4 623.3M374.0 620.7L364.2 624.1M370.7 624.2L362.4 624.1M371.6 619.5L360.1 625.5M373.6 620.3L358.2 625.6M373.5 624.1L356.8 627.9M374.9 619.7L366.0 620.8M373.2 620.3L364.5 619.4M374.6 619.1L362.5 620.9M371.3 617.9L361.4 620.6M373.5 621.0L359.8 621.0M373.8 621.7L358.2 621.0M370.9 619.9L356.8 620.0M371.1 622.3L356.0 617.7M374.0 618.3L366.1 619.4M373.5 620.6L362.7 617.1M372.9 621.5L360.4 616.3M371.8 620.0L358.1 616.6M371.7 619.4L354.9 615.2M371.2 622.2L351.7 615.1M373.6 620.1L366.2 617.0M370.2 623.9L363.5 616.4M372.8 620.7L361.7 613.4M373.7 623.0L360.2 610.9M372.3 616.9L356.5 610.4M372.3 620.4L368.9 615.1M371.9 622.6L368.3 613.7M372.1 620.9L367.0 612.9M371.5 621.6L366.0 610.9M371.7 621.7L367.3 609.3M372.9 620.7L365.3 607.4M373.2 618.0L363.3 607.0M372.1 620.8L362.7 604.7M372.2 622.2L371.5 614.8M374.1 619.3L369.9 613.6M374.5 620.1L371.9 612.1M373.6 622.3L369.7 610.7M371.1 619.2L368.6 608.9M372.6 620.1L370.6 607.5M370.2 621.4L371.1 605.9M373.0 620.7L374.5 614.3M373.2 621.5L375.5 612.9M371.5 620.9L375.6 610.5M372.1 619.7L376.1 607.9M371.4 622.3L379.1 605.7M369.1 619.4L376.8 616.1M373.8 619.9L378.0 614.7M371.8 622.0L377.6 613.0M371.3 620.0L379.0 612.3M373.3 619.6L380.6 611.6M372.0 620.5L382.2 611.2M374.2 619.0L382.6 609.7M373.5 620.3L378.8 616.6M372.2 618.4L380.0 615.4M375.3 621.3L382.5 615.3M373.1 620.0L382.5 612.6M375.2 619.5L384.8 611.7M371.2 619.3L387.0 610.8M372.7 620.9L389.1 609.7M369.7 620.9L379.4 617.8M373.1 622.0L381.8 618.0M372.2 622.7L384.8 616.8M375.7 619.6L387.4 615.2M372.3 621.9L389.7 614.6M374.5 620.4L392.0 614.2M374.5 618.1L382.4 617.8M374.1 621.1L375.9 612.7M374.1 621.2L377.0 619.4M373.7 619.8L365.9 617.2M374.8 617.3L363.0 616.5M373.1 619.5L373.4 611.5M375.7 618.7L379.4 625.3M372.9 620.4L368.3 613.4M373.9 620.4L365.2 614.8M371.1 620.2L369.2 628.6M374.5 621.6L365.5 624.3M371.7 618.6L380.2 615.8M370.8 620.3L370.7 624.4M372.5 619.9L368.6 626.7M372.0 620.7L383.3 620.2M374.7 621.9L367.0 623.8M372.1 621.6L375.1 616.0M372.4 622.4L371.6 620.9M374.3 621.9L376.0 626.5M376.1 622.0L369.6 613.8M374.1 622.5L365.5 627.0M371.2 620.0L369.5 617.9M372.2 621.7L382.7 624.1M372.8 618.6L383.4 619.7M371.6 620.1L367.7 617.3M372.1 619.8L377.5 622.9M370.5 620.6L374.6 629.0M370.8 619.9L380.4 615.4M371.8 620.0L375.9 623.9M374.9 619.8L369.4 628.8M372.1 616.7L377.8 627.3M371.4 620.8L369.2 614.3M372.3 621.6L378.2 619.2M372.3 621.6L368.3 619.9M373.1 622.1L374.3 621.3M372.3 621.8L371.1 623.3M372.0 619.3L383.0 623.8M374.5 618.4L370.1 628.7M371.4 622.9L369.9 613.0M373.0 621.0L366.6 613.1M373.1 620.4L379.5 615.1M375.7 620.5L364.0 617.6M374.9 620.4L371.3 613.8M371.7 620.0L368.3 620.3M372.8 624.3L377.0 615.2M371.8 621.1L376.9 621.9M370.4 621.3L376.7 617.2M372.5 621.0L365.5 625.1M372.9 619.7L376.8 616.4M372.8 620.4L367.2 624.2M374.3 620.3L383.0 621.9M372.5 618.5L383.6 621.5M374.1 620.2L375.2 623.3M371.4 622.2L378.6 613.7M374.1 620.4L373.6 627.1M372.8 618.4L363.3 621.5M369.2 620.6L376.7 627.9M370.5 621.4L382.1 620.2M372.2 620.8L382.2 616.2M371.9 621.1L365.2 626.1M373.9 620.6L377.0 614.4M373.9 621.6L379.6 624.8M372.5 617.9L377.9 617.8M373.7 619.5L366.3 613.6M371.2 617.6L371.0 619.4M370.1 622.4L368.9 617.0M375.4 622.4L378.4 614.7"/>
<path fill="none" stroke="#6a6a6a" stroke-width="2.8" stroke-linecap="round" d="M379.7 620.2h0M381.3 620.1h0M382.6 620.2h0M384.2 619.9h0M385.6 620.1h0M386.8 618.3h0M389.1 621.0h0M390.1 619.8h0M379.6 622.0h0M381.8 621.6h0M382.7 622.2h0M384.8 622.8h0M386.1 623.4h0M388.3 624.4h0M390.2 623.9h0M378.1 624.6h0M379.8 625.3h0M380.3 627.2h0M382.4 627.6h0M382.1 630.0h0M385.4 629.8h0M387.3 631.3h0M375.6 625.3h0M377.9 626.7h0M379.2 627.9h0M379.4 630.4h0M381.5 631.0h0M380.1 634.2h0M373.8 625.8h0M374.9 627.6h0M373.5 630.1h0M374.6 632.0h0M377.0 634.0h0M375.9 635.9h0M371.8 626.1h0M371.0 628.3h0M370.5 631.0h0M371.3 633.1h0M369.7 635.5h0M368.6 625.2h0M367.9 627.1h0M367.2 629.0h0M367.5 632.2h0M365.9 633.8h0M366.5 624.1h0M364.9 625.0h0M363.4 625.6h0M362.5 627.3h0M360.0 627.7h0M359.0 629.2h0M356.5 630.3h0M366.4 623.3h0M364.2 624.1h0M362.4 624.1h0M360.1 625.5h0M358.2 625.6h0M356.8 627.9h0M366.0 620.8h0M364.5 619.4h0M362.5 620.9h0M361.4 620.6h0M359.8 621.0h0M358.2 621.0h0M356.8 620.0h0M356.0 617.7h0M366.1 619.4h0M362.7 617.1h0M360.4 616.3h0M358.1 616.6h0M354.9 615.2h0M351.7 615.1h0M366.2 617.0h0M363.5 616.4h0M361.7 613.4h0M360.2 610.9h0M356.5 610.4h0M368.9 615.1h0M368.3 613.7h0M367.0 612.9h0M366.0 610.9h0M367.3 609.3h0M365.3 607.4h0M363.3 607.0h0M362.7 604.7h0M371.5 614.8h0M369.9 613.6h0M371.9 612.1h0M369.7 610.7h0M368.6 608.9h0M370.6 607.5h0M371.1 605.9h0M374.5 614.3h0M375.5 612.9h0M375.6 610.5h0M376.1 607.9h0M379.1 605.7h0M376.8 616.1h0M378.0 614.7h0M377.6 613.0h0M379.0 612.3h0M380.6 611.6h0M382.2 611.2h0M382.6 609.7h0M378.8 616.6h0M380.0 615.4h0M382.5 615.3h0M382.5 612.6h0M384.8 611.7h0M387.0 610.8h0M389.1 609.7h0M379.4 617.8h0M381.8 618.0h0M384.8 616.8h0M387.4 615.2h0M389.7 614.6h0M392.0 614.2h0M382.4 617.8h0M375.9 612.7h0M377.0 619.4h0M365.9 617.2h0M363.0 616.5h0M373.4 611.5h0M379.4 625.3h0M368.3 613.4h0M365.2 614.8h0M369.2 628.6h0M365.5 624.3h0M380.2 615.8h0M370.7 624.4h0M368.6 626.7h0M383.3 620.2h0M367.0 623.8h0M375.1 616.0h0M371.6 620.9h0M376.0 626.5h0M369.6 613.8h0M365.5 627.0h0M369.5 617.9h0M382.7 624.1h0M383.4 619.7h0M367.7 617.3h0M377.5 622.9h0M374.6 629.0h0M380.4 615.4h0M375.9 623.9h0M369.4 628.8h0M377.8 627.3h0M369.2 614.3h0M378.2 619.2h0M368.3 619.9h0M374.3 621.3h0M371.1 623.3h0M383.0 623.8h0M370.1 628.7h0M369.9 613.0h0M366.6 613.1h0M379.5 615.1h0M364.0 617.6h0M371.3 613.8h0M368.3 620.3h0M377.0 615.2h0M376.9 621.9h0M376.7 617.2h0M365.5 625.1h0M376.8 616.4h0M367.2 624.2h0M383.0 621.9h0M383.6 621.5h0M375.2 623.3h0M378.6 613.7h0M373.6 627.1h0M363.3 621.5h0M376.7 627.9h0M382.1 620.2h0M382.2 616.2h0M365.2 626.1h0M377.0 614.4h0M379.6 624.8h0M377.9 617.8h0M366.3 613.6h0M371.0 619.4h0M368.9 617.0h0M378.4 614.7h0"/>
<path fill="none" stroke="#a8a8a8" stroke-width="2.0" stroke-linecap="round" d="M379.7 620.2h0M381.3 620.1h0M382.6 620.2h0M384.2 619.9h0M385.6 620.1h0M386.8 618.3h0M389.1 621.0h0M390.1 619.8h0M379.6 622.0h0M381.8 621.6h0M382.7 622.2h0M384.8 622.8h0M386.1 623.4h0M388.3 624.4h0M390.2 623.9h0M378.1 624.6h0M379.8 625.3h0M380.3 627.2h0M382.4 627.6h0M382.1 630.0h0M385.4 629.8h0M387.3 631.3h0M375.6 625.3h0M377.9 626.7h0M379.2 627.9h0M379.4 630.4h0M381.5 631.0h0M380.1 634.2h0M373.8 625.8h0M374.9 627.6h0M373.5 630.1h0M374.6 632.0h0M377.0 634.0h0M375.9 635.9h0M371.8 626.1h0M371.0 628.3h0M370.5 631.0h0M371.3 633.1h0M369.7 635.5h0M368.6 625.2h0M367.9 627.1h0M367.2 629.0h0M367.5 632.2h0M365.9 633.8h0M366.5 624.1h0M364.9 625.0h0M363.4 625.6h0M362.5 627.3h0M360.0 627.7h0M359.0 629.2h0M356.5 630.3h0M366.4 623.3h0M364.2 624.1h0M362.4 624.1h0M360.1 625.5h0M358.2 625.6h0M356.8 627.9h0M366.0 620.8h0M364.5 619.4h0M362.5 620.9h0M361.4 620.6h0M359.8 621.0h0M358.2 621.0h0M356.8 620.0h0M356.0 617.7h0M366.1 619.4h0M362.7 617.1h0M360.4 616.3h0M358.1 616.6h0M354.9 615.2h0M351.7 615.1h0M366.2 617.0h0M363.5 616.4h0M361.7 613.4h0M360.2 610.9h0M356.5 610.4h0M368.9 615.1h0M368.3 613.7h0M367.0 612.9h0M366.0 610.9h0M367.3 609.3h0M365.3 607.4h0M363.3 607.0h0M362.7 604.7h0M371.5 614.8h0M369.9 613.6h0M371.9 612.1h0M369.7 610.7h0M368.6 608.9h0M370.6 607.5h0M371.1 605.9h0M374.5 614.3h0M375.5 612.9h0M375.6 610.5h0M376.1 607.9h0M379.1 605.7h0M376.8 616.1h0M378.0 614.7h0M377.6 613.0h0M379.0 612.3h0M380.6 611.6h0M382.2 611.2h0M382.6 609.7h0M378.8 616.6h0M380.0 615.4h0M382.5 615.3h0M382.5 612.6h0M384.8 611.7h0M387.0 610.8h0M389.1 609.7h0M379.4 617.8h0M381.8 618.0h0M384.8 616.8h0M387.4 615.2h0M389.7 614.6h0M392.0 614.2h0M382.4 617.8h0M375.9 612.7h0M377.0 619.4h0M365.9 617.2h0M363.0 616.5h0M373.4 611.5h0M379.4 625.3h0M368.3 613.4h0M365.2 614.8h0M369.2 628.6h0M365.5 624.3h0M380.2 615.8h0M370.7 624.4h0M368.6 626.7h0M383.3 620.2h0M367.0 623.8h0M375.1 616.0h0M371.6 620.9h0M376.0 626.5h0M369.6 613.8h0M365.5 627.0h0M369.5 617.9h0M382.7 624.1h0M383.4 619.7h0M367.7 617.3h0M377.5 622.9h0M374.6 629.0h0M380.4 615.4h0M375.9 623.9h0M369.4 628.8h0M377.8 627.3h0M369.2 614.3h0M378.2 619.2h0M368.3 619.9h0M374.3 621.3h0M371.1 623.3h0M383.0 623.8h0M370.1 628.7h0M369.9 613.0h0M366.6 613.1h0M379.5 615.1h0M364.0 617.6h0M371.3 613.8h0M368.3 620.3h0M377.0 615.2h0M376.9 621.9h0M376.7 617.2h0M365.5 625.1h0M376.8 616.4h0M367.2 624.2h0M383.0 621.9h0M383.6 621.5h0M375.2 623.3h0M378.6 613.7h0M373.6 627.1h0M363.3 621.5h0M376.7 627.9h0M382.1 620.2h0M382.2 616.2h0M365.2 626.1h0M377.0 614.4h0M379.6 624.8h0M377.9 617.8h0M366.3 613.6h0M371.0 619.4h0M368.9 617.0h0M378.4 614.7h0"/>
<circle cx="370.70" cy="612.40" r="1.30" fill="#2e7fd8" stroke="#333" stroke-width="0.3"/>
<circle cx="368.70" cy="618.40" r="1.30" fill="#2e7fd8" stroke="#333" stroke-width="0.3"/>
<circle cx="375.70" cy="623.40" r="1.30" fill="#2e7fd8" stroke="#333" stroke-width="0.3"/>
<circle cx="369.70" cy="626.40" r="1.30" fill="#2e7fd8" stroke="#333" stroke-width="0.3"/>
<circle cx="372.70" cy="607.40" r="1.30" fill="#2e7fd8" stroke="#333" stroke-width="0.3"/>
<circle cx="378.70" cy="615.40" r="1.30" fill="#2e7fd8" stroke="#333" stroke-width="0.3"/>
<circle cx="364.70" cy="624.40" r="1.30" fill="#2e7fd8" stroke="#333" stroke-width="0.3"/>
<circle cx="366.70" cy="611.40" r="1.30" fill="#2e7fd8" stroke="#333" stroke-width="0.3"/>
<rect x="402.30" y="612.20" width="114.00" height="25.50" fill="#fff" stroke="#7fbbe8" stroke-width="0.9" rx="6" stroke-dasharray="3 2"/>
<text x="407.0" y="619.7" font-size="6.6" font-style="italic" xml:space="preserve" textLength="103.5" lengthAdjust="spacingAndGlyphs"><tspan fill="#7a7a7a">Elav</tspan><tspan fill="#7a7a7a"> - LOC5506254, </tspan><tspan fill="#2e7fd8" font-weight="bold">PC</tspan><tspan fill="#2e7fd8"> - LOC5504528,</tspan></text>
<text x="407.0" y="627.7" font-size="6.6" font-style="italic" xml:space="preserve" textLength="87.0" lengthAdjust="spacingAndGlyphs"><tspan fill="#2e7fd8" font-weight="bold">endothelin converting enzyme</tspan><tspan fill="#2e7fd8"> -</tspan></text>
<text x="407.0" y="635.7" font-size="6.6" font-style="italic" xml:space="preserve" textLength="34.5" lengthAdjust="spacingAndGlyphs"><tspan fill="#2e7fd8">LOC5512643</tspan></text>
<ellipse cx="552.0" cy="565.8" rx="26.5" ry="21.5" fill="#fff" stroke="#8fb0dc" stroke-width="0.9" transform="rotate(0 552.0 565.8)"/>
<path fill="none" stroke="#555" stroke-width="0.22" stroke-opacity="0.45" d="M529.2 565.8L565.5 550.9M529.2 565.8L547.3 566.1M529.2 565.8L553.7 564.8M529.2 565.8L547.0 570.6M529.2 565.8L552.8 570.6M529.2 565.8L558.5 569.8M529.2 565.8L562.0 572.4M529.2 565.8L548.9 574.3M529.2 565.8L553.3 574.2M529.2 565.8L559.0 575.7M529.2 565.8L549.8 578.5M529.2 565.8L546.7 579.8M529.2 565.8L561.2 580.7M565.5 550.9L547.3 566.1M565.5 550.9L553.7 564.8M565.5 550.9L547.0 570.6M565.5 550.9L552.6 567.8M565.5 550.9L552.8 570.6M565.5 550.9L558.5 569.8M565.5 550.9L565.1 571.1M565.5 550.9L562.0 572.4M565.5 550.9L562.9 573.7M565.5 550.9L553.3 574.2M565.5 550.9L559.0 575.7M565.5 550.9L561.2 580.7M547.3 566.1L562.9 566.7M547.3 566.1L547.0 570.6M547.3 566.1L552.6 567.8M547.3 566.1L558.5 569.8M547.3 566.1L562.9 573.7M547.3 566.1L548.9 574.3M547.3 566.1L553.3 574.2M547.3 566.1L559.0 575.7M547.3 566.1L549.8 578.5M547.3 566.1L546.7 579.8M547.3 566.1L561.2 580.7M553.7 564.8L562.9 566.7M553.7 564.8L547.0 570.6M553.7 564.8L552.6 567.8M553.7 564.8L552.8 570.6M553.7 564.8L565.1 571.1M553.7 564.8L562.0 572.4M553.7 564.8L562.9 573.7M553.7 564.8L548.9 574.3M553.7 564.8L553.3 574.2M553.7 564.8L549.8 578.5M553.7 564.8L546.7 579.8M562.9 566.7L547.0 570.6M562.9 566.7L552.6 567.8M562.9 566.7L552.8 570.6M562.9 566.7L558.5 569.8M562.9 566.7L565.1 571.1M562.9 566.7L562.0 572.4M562.9 566.7L562.9 573.7M562.9 566.7L553.3 574.2M562.9 566.7L559.0 575.7M562.9 566.7L561.2 580.7M547.0 570.6L552.6 567.8M547.0 570.6L552.8 570.6M547.0 570.6L558.5 569.8M547.0 570.6L565.1 571.1M547.0 570.6L562.0 572.4M547.0 570.6L562.9 573.7M547.0 570.6L553.3 574.2M547.0 570.6L549.8 578.5M547.0 570.6L546.7 579.8M547.0 570.6L561.2 580.7M552.6 567.8L558.5 569.8M552.6 567.8L562.0 572.4M552.6 567.8L562.9 573.7M552.6 567.8L548.9 574.3M552.6 567.8L553.3 574.2M552.6 567.8L559.0 575.7M552.6 567.8L549.8 578.5M552.6 567.8L546.7 579.8M552.8 570.6L558.5 569.8M552.8 570.6L565.1 571.1M552.8 570.6L562.9 573.7M552.8 570.6L548.9 574.3M552.8 570.6L553.3 574.2M552.8 570.6L559.0 575.7M552.8 570.6L546.7 579.8M552.8 570.6L561.2 580.7M558.5 569.8L565.1 571.1M558.5 569.8L562.9 573.7M558.5 569.8L548.9 574.3M558.5 569.8L559.0 575.7M558.5 569.8L549.8 578.5M558.5 569.8L561.2 580.7M565.1 571.1L562.0 572.4M565.1 571.1L562.9 573.7M565.1 571.1L548.9 574.3M565.1 571.1L553.3 574.2M565.1 571.1L549.8 578.5M565.1 571.1L546.7 579.8M562.0 572.4L553.3 574.2M562.0 572.4L559.0 575.7M562.0 572.4L549.8 578.5M562.0 572.4L546.7 579.8M562.0 572.4L561.2 580.7M562.9 573.7L548.9 574.3M562.9 573.7L553.3 574.2M562.9 573.7L559.0 575.7M562.9 573.7L561.2 580.7M548.9 574.3L553.3 574.2M548.9 574.3L559.0 575.7M548.9 574.3L549.8 578.5M548.9 574.3L546.7 579.8M548.9 574.3L561.2 580.7M553.3 574.2L549.8 578.5M553.3 574.2L546.7 579.8M553.3 574.2L561.2 580.7M559.0 575.7L549.8 578.5M559.0 575.7L546.7 579.8M559.0 575.7L561.2 580.7M549.8 578.5L546.7 579.8M549.8 578.5L561.2 580.7M546.7 579.8L561.2 580.7"/>
<polygon points="529.20,563.40 531.60,565.80 529.20,568.20 526.80,565.80" fill="#4d4d4d" stroke="#444" stroke-width="0.2"/>
<polygon points="565.50,548.50 567.90,550.90 565.50,553.30 563.10,550.90" fill="#138f8f" stroke="#444" stroke-width="0.2"/>
<polygon points="547.30,563.70 549.70,566.10 547.30,568.50 544.90,566.10" fill="#0000ee" stroke="#444" stroke-width="0.2"/>
<polygon points="553.70,562.40 556.10,564.80 553.70,567.20 551.30,564.80" fill="#f04a10" stroke="#444" stroke-width="0.2"/>
<polygon points="562.90,564.30 565.30,566.70 562.90,569.10 560.50,566.70" fill="#4d4d4d" stroke="#444" stroke-width="0.2"/>
<polygon points="547.00,568.20 549.40,570.60 547.00,573.00 544.60,570.60" fill="#4d4d4d" stroke="#444" stroke-width="0.2"/>
<polygon points="552.60,565.40 555.00,567.80 552.60,570.20 550.20,567.80" fill="#138f8f" stroke="#444" stroke-width="0.2"/>
<polygon points="552.80,568.20 555.20,570.60 552.80,573.00 550.40,570.60" fill="#138f8f" stroke="#444" stroke-width="0.2"/>
<polygon points="558.50,567.40 560.90,569.80 558.50,572.20 556.10,569.80" fill="#138f8f" stroke="#444" stroke-width="0.2"/>
<polygon points="565.10,568.70 567.50,571.10 565.10,573.50 562.70,571.10" fill="#4d4d4d" stroke="#444" stroke-width="0.2"/>
<polygon points="562.00,570.00 564.40,572.40 562.00,574.80 559.60,572.40" fill="#4d4d4d" stroke="#444" stroke-width="0.2"/>
<polygon points="562.90,571.30 565.30,573.70 562.90,576.10 560.50,573.70" fill="#f04a10" stroke="#444" stroke-width="0.2"/>
<polygon points="548.90,571.90 551.30,574.30 548.90,576.70 546.50,574.30" fill="#138f8f" stroke="#444" stroke-width="0.2"/>
<polygon points="553.30,571.80 555.70,574.20 553.30,576.60 550.90,574.20" fill="#138f8f" stroke="#444" stroke-width="0.2"/>
<polygon points="559.00,573.30 561.40,575.70 559.00,578.10 556.60,575.70" fill="#4d4d4d" stroke="#444" stroke-width="0.2"/>
<polygon points="549.80,576.10 552.20,578.50 549.80,580.90 547.40,578.50" fill="#f04a10" stroke="#444" stroke-width="0.2"/>
<polygon points="546.70,577.40 549.10,579.80 546.70,582.20 544.30,579.80" fill="#138f8f" stroke="#444" stroke-width="0.2"/>
<polygon points="561.20,578.30 563.60,580.70 561.20,583.10 558.80,580.70" fill="#138f8f" stroke="#444" stroke-width="0.2"/>
<rect x="582.10" y="539.40" width="98.80" height="44.10" fill="#fff" stroke="#a9c0e4" stroke-width="0.9" rx="6"/>
<text x="586.3" y="548.5" font-size="6.6" font-style="italic" xml:space="preserve" textLength="89.9" lengthAdjust="spacingAndGlyphs"><tspan fill="#1515f0" font-weight="bold">bHLH_Nem8</tspan><tspan fill="#1515f0"> - LOC5521242</tspan><tspan fill="#7a7a7a">, </tspan><tspan fill="#ff4a12" font-weight="bold">Bsx-</tspan></text>
<text x="586.3" y="556.4" font-size="6.6" font-style="italic" xml:space="preserve" textLength="72.5" lengthAdjust="spacingAndGlyphs"><tspan fill="#ff4a12" font-weight="bold">like</tspan><tspan fill="#ff4a12"> - LOC5506473</tspan><tspan fill="#7a7a7a">, </tspan><tspan fill="#ff4a12" font-weight="bold">Prop1</tspan><tspan fill="#ff4a12"> -</tspan></text>
<text x="586.3" y="564.3" font-size="6.6" font-style="italic" xml:space="preserve" textLength="73.8" lengthAdjust="spacingAndGlyphs"><tspan fill="#ff4a12">LOC5514903, LOC5508153</tspan><tspan fill="#7a7a7a">,</tspan></text>
<text x="586.3" y="572.2" font-size="6.6" font-style="italic" xml:space="preserve" textLength="89.6" lengthAdjust="spacingAndGlyphs"><tspan fill="#118a8a" font-weight="bold">Prdm14d</tspan><tspan fill="#118a8a"> - LOC5515903</tspan><tspan fill="#7a7a7a">, </tspan><tspan fill="#454545">FoxN2/3</tspan></text>
<text x="586.3" y="580.1" font-size="6.6" font-style="italic" xml:space="preserve" textLength="38.0" lengthAdjust="spacingAndGlyphs"><tspan fill="#454545">- LOC5521230</tspan></text>
<ellipse cx="550.1" cy="614.8" rx="22.3" ry="21" fill="#fff" stroke="#8fb0dc" stroke-width="0.9" stroke-dasharray="3 2"/>
<ellipse cx="550.1" cy="614.8" rx="8.9" ry="8.4" fill="#555" fill-opacity="0.45"/>
<path fill="none" stroke="#333" stroke-width="0.35" stroke-opacity="0.45" d="M551.7 615.3L556.2 615.4M549.1 615.8L557.5 615.3M549.9 616.0L559.1 615.3M551.3 616.7L559.9 614.8M549.2 614.7L561.6 616.0M549.3 615.8L563.1 617.2M549.9 614.2L564.3 616.6M550.7 614.2L565.9 616.5M551.1 617.1L556.1 617.1M551.1 616.8L557.9 618.1M550.9 612.7L560.0 618.4M550.4 614.7L561.2 619.3M550.3 615.3L563.9 619.6M549.7 616.0L553.8 619.1M549.6 614.6L555.5 619.5M547.1 616.4L556.1 620.6M552.1 613.1L558.4 619.7M551.9 614.7L558.3 621.5M547.5 617.8L559.5 621.6M549.0 617.4L559.6 623.1M553.7 612.6L553.1 619.3M552.4 615.5L554.2 620.7M549.8 613.7L554.6 622.7M549.7 613.3L555.5 624.5M550.3 615.4L555.3 626.3M551.9 615.7L557.2 626.6M550.0 613.5L551.6 620.1M552.5 615.0L551.8 622.0M548.9 614.3L551.7 623.4M549.0 611.9L551.5 625.4M549.0 615.0L554.0 625.7M548.3 614.8L552.4 627.7M554.5 616.6L552.6 629.7M549.8 615.6L549.0 620.4M548.4 614.7L548.4 622.1M553.0 613.5L548.6 623.5M552.8 613.9L547.4 625.7M549.7 614.6L545.8 627.1M551.3 613.4L547.5 619.6M554.1 613.1L547.1 621.3M551.8 614.9L547.8 622.9M550.2 615.9L545.5 624.2M547.5 613.6L545.8 625.5M549.5 612.7L545.4 618.2M550.4 611.7L544.7 619.3M550.6 614.2L543.6 619.4M549.6 614.4L542.9 621.1M546.1 617.8L542.2 621.5M551.2 615.3L539.8 620.8M551.6 615.6L540.0 622.5M554.3 616.9L539.4 624.3M550.9 613.0L544.2 616.4M550.1 612.7L542.6 616.0M549.8 613.1L541.0 617.1M552.1 614.8L538.9 617.2M549.4 614.9L538.0 617.2M548.6 612.6L544.5 614.4M547.3 616.4L542.5 613.9M550.8 616.5L541.3 614.2M546.2 616.9L540.4 613.6M550.9 616.3L538.5 614.2M550.7 616.7L537.2 614.3M551.3 614.5L535.7 613.7M550.5 614.5L534.4 613.7M548.8 612.9L544.7 612.0M551.4 615.1L542.1 612.5M549.6 616.8L540.7 611.8M551.9 613.7L538.9 612.0M550.5 613.9L537.2 609.1M552.5 617.1L534.9 609.9M548.9 613.4L545.2 611.1M549.7 615.0L544.5 609.9M551.3 613.4L542.7 609.7M548.1 616.0L541.5 608.1M550.2 616.7L539.5 607.6M549.6 615.9L547.5 609.8M550.3 615.4L547.0 608.8M552.5 615.1L546.6 607.5M547.0 616.5L545.3 605.8M552.5 615.3L542.9 605.9M548.2 617.3L545.2 603.3M548.1 612.9L548.9 609.2M550.4 611.1L548.6 608.1M551.3 612.2L548.3 606.8M550.9 613.8L547.6 606.2M549.9 615.5L546.8 604.8M548.8 613.4L547.9 603.5M549.2 614.9L545.3 602.7M548.9 616.3L546.2 601.3M547.6 613.8L551.2 609.2M549.6 615.9L551.8 608.0M550.3 617.3L551.6 605.6M549.8 615.1L552.5 603.9M549.9 613.7L553.0 602.2M552.6 611.6L553.7 600.9M546.0 613.6L552.5 609.9M550.6 612.8L553.7 609.0M549.8 614.4L554.6 608.0M549.8 614.2L555.3 606.8M549.4 614.3L555.3 605.3M552.2 614.9L554.8 603.2M551.8 613.5L556.3 602.4M549.4 611.3L553.5 610.5M551.8 615.0L554.6 610.0M549.6 613.2L555.6 609.3M550.8 615.3L555.4 608.1M549.5 616.3L557.5 608.1M550.7 615.1L558.4 607.3M550.2 614.5L559.4 607.6M547.3 609.6L559.1 605.3M549.2 615.3L555.6 613.3M550.9 613.3L557.6 613.6M549.8 614.5L558.6 612.0M549.9 615.2L559.6 611.6M549.1 614.7L561.4 611.2M549.0 616.4L562.3 608.7M549.3 617.2L564.4 610.0M547.7 615.5L543.6 611.2M548.8 614.8L545.1 620.4M550.0 614.1L551.3 622.4M551.2 612.2L545.1 620.4M550.2 616.6L545.9 621.0M550.5 615.5L555.5 613.9M552.6 615.5L555.4 615.8M548.6 616.0L543.8 615.4M551.0 613.4L549.4 622.0M552.8 615.2L546.8 612.0M551.5 615.4L555.0 619.4M550.9 617.6L550.4 622.0M548.9 614.7L556.2 614.1M551.2 614.0L541.6 613.9M550.2 613.7L554.3 612.9M547.2 614.3L549.6 616.3M547.3 614.7L550.3 611.9M546.9 615.7L551.5 617.4M550.4 612.1L550.5 614.6M552.0 615.2L552.0 617.7M549.9 611.4L545.0 618.6M551.8 618.0L555.7 609.2M548.4 613.2L542.0 612.8M548.2 616.3L551.7 621.7M551.5 615.3L543.8 619.8M548.4 614.9L541.5 617.0M548.3 611.1L556.1 615.2M548.4 615.5L548.0 619.1M549.5 615.5L543.5 611.0M553.0 615.8L551.5 622.5M549.9 615.2L552.8 619.8M552.0 614.9L546.8 611.9M550.2 614.4L547.5 611.8M551.6 616.4L543.2 618.8M548.6 614.6L553.2 613.0M548.2 612.4L552.0 613.9M549.4 615.4L541.0 613.4M549.8 616.2L557.8 610.9M548.6 613.9L546.3 621.4M549.9 616.1L546.3 617.7M551.7 612.8L545.4 607.4M548.0 612.8L550.0 616.6M551.2 612.7L543.9 611.1M546.8 615.1L558.6 614.3M551.3 614.7L541.8 614.5M548.7 618.0L551.0 606.2M551.1 613.9L557.4 619.0M551.2 613.1L550.2 610.7M550.9 616.1L545.2 622.2"/>
<path fill="none" stroke="#6a6a6a" stroke-width="2.8" stroke-linecap="round" d="M556.2 615.4h0M557.5 615.3h0M559.1 615.3h0M559.9 614.8h0M561.6 616.0h0M563.1 617.2h0M564.3 616.6h0M565.9 616.5h0M556.1 617.1h0M557.9 618.1h0M560.0 618.4h0M561.2 619.3h0M563.9 619.6h0M553.8 619.1h0M555.5 619.5h0M556.1 620.6h0M558.4 619.7h0M558.3 621.5h0M559.5 621.6h0M559.6 623.1h0M553.1 619.3h0M554.2 620.7h0M554.6 622.7h0M555.5 624.5h0M555.3 626.3h0M557.2 626.6h0M551.6 620.1h0M551.8 622.0h0M551.7 623.4h0M551.5 625.4h0M554.0 625.7h0M552.4 627.7h0M552.6 629.7h0M549.0 620.4h0M548.4 622.1h0M548.6 623.5h0M547.4 625.7h0M545.8 627.1h0M547.5 619.6h0M547.1 621.3h0M547.8 622.9h0M545.5 624.2h0M545.8 625.5h0M545.4 618.2h0M544.7 619.3h0M543.6 619.4h0M542.9 621.1h0M542.2 621.5h0M539.8 620.8h0M540.0 622.5h0M539.4 624.3h0M544.2 616.4h0M542.6 616.0h0M541.0 617.1h0M538.9 617.2h0M538.0 617.2h0M544.5 614.4h0M542.5 613.9h0M541.3 614.2h0M540.4 613.6h0M538.5 614.2h0M537.2 614.3h0M535.7 613.7h0M534.4 613.7h0M544.7 612.0h0M542.1 612.5h0M540.7 611.8h0M538.9 612.0h0M537.2 609.1h0M534.9 609.9h0M545.2 611.1h0M544.5 609.9h0M542.7 609.7h0M541.5 608.1h0M539.5 607.6h0M547.5 609.8h0M547.0 608.8h0M546.6 607.5h0M545.3 605.8h0M542.9 605.9h0M545.2 603.3h0M548.9 609.2h0M548.6 608.1h0M548.3 606.8h0M547.6 606.2h0M546.8 604.8h0M547.9 603.5h0M545.3 602.7h0M546.2 601.3h0M551.2 609.2h0M551.8 608.0h0M551.6 605.6h0M552.5 603.9h0M553.0 602.2h0M553.7 600.9h0M552.5 609.9h0M553.7 609.0h0M554.6 608.0h0M555.3 606.8h0M555.3 605.3h0M554.8 603.2h0M556.3 602.4h0M553.5 610.5h0M554.6 610.0h0M555.6 609.3h0M555.4 608.1h0M557.5 608.1h0M558.4 607.3h0M559.4 607.6h0M559.1 605.3h0M555.6 613.3h0M557.6 613.6h0M558.6 612.0h0M559.6 611.6h0M561.4 611.2h0M562.3 608.7h0M564.4 610.0h0M543.6 611.2h0M545.1 620.4h0M551.3 622.4h0M545.1 620.4h0M545.9 621.0h0M555.5 613.9h0M555.4 615.8h0M543.8 615.4h0M549.4 622.0h0M546.8 612.0h0M555.0 619.4h0M550.4 622.0h0M556.2 614.1h0M541.6 613.9h0M554.3 612.9h0M549.6 616.3h0M550.3 611.9h0M551.5 617.4h0M550.5 614.6h0M552.0 617.7h0M545.0 618.6h0M555.7 609.2h0M542.0 612.8h0M551.7 621.7h0M543.8 619.8h0M541.5 617.0h0M556.1 615.2h0M548.0 619.1h0M543.5 611.0h0M551.5 622.5h0M552.8 619.8h0M546.8 611.9h0M547.5 611.8h0M543.2 618.8h0M553.2 613.0h0M552.0 613.9h0M541.0 613.4h0M557.8 610.9h0M546.3 621.4h0M546.3 617.7h0M545.4 607.4h0M550.0 616.6h0M543.9 611.1h0M558.6 614.3h0M541.8 614.5h0M551.0 606.2h0M557.4 619.0h0M550.2 610.7h0M545.2 622.2h0"/>
<path fill="none" stroke="#a8a8a8" stroke-width="2.0" stroke-linecap="round" d="M556.2 615.4h0M557.5 615.3h0M559.1 615.3h0M559.9 614.8h0M561.6 616.0h0M563.1 617.2h0M564.3 616.6h0M565.9 616.5h0M556.1 617.1h0M557.9 618.1h0M560.0 618.4h0M561.2 619.3h0M563.9 619.6h0M553.8 619.1h0M555.5 619.5h0M556.1 620.6h0M558.4 619.7h0M558.3 621.5h0M559.5 621.6h0M559.6 623.1h0M553.1 619.3h0M554.2 620.7h0M554.6 622.7h0M555.5 624.5h0M555.3 626.3h0M557.2 626.6h0M551.6 620.1h0M551.8 622.0h0M551.7 623.4h0M551.5 625.4h0M554.0 625.7h0M552.4 627.7h0M552.6 629.7h0M549.0 620.4h0M548.4 622.1h0M548.6 623.5h0M547.4 625.7h0M545.8 627.1h0M547.5 619.6h0M547.1 621.3h0M547.8 622.9h0M545.5 624.2h0M545.8 625.5h0M545.4 618.2h0M544.7 619.3h0M543.6 619.4h0M542.9 621.1h0M542.2 621.5h0M539.8 620.8h0M540.0 622.5h0M539.4 624.3h0M544.2 616.4h0M542.6 616.0h0M541.0 617.1h0M538.9 617.2h0M538.0 617.2h0M544.5 614.4h0M542.5 613.9h0M541.3 614.2h0M540.4 613.6h0M538.5 614.2h0M537.2 614.3h0M535.7 613.7h0M534.4 613.7h0M544.7 612.0h0M542.1 612.5h0M540.7 611.8h0M538.9 612.0h0M537.2 609.1h0M534.9 609.9h0M545.2 611.1h0M544.5 609.9h0M542.7 609.7h0M541.5 608.1h0M539.5 607.6h0M547.5 609.8h0M547.0 608.8h0M546.6 607.5h0M545.3 605.8h0M542.9 605.9h0M545.2 603.3h0M548.9 609.2h0M548.6 608.1h0M548.3 606.8h0M547.6 606.2h0M546.8 604.8h0M547.9 603.5h0M545.3 602.7h0M546.2 601.3h0M551.2 609.2h0M551.8 608.0h0M551.6 605.6h0M552.5 603.9h0M553.0 602.2h0M553.7 600.9h0M552.5 609.9h0M553.7 609.0h0M554.6 608.0h0M555.3 606.8h0M555.3 605.3h0M554.8 603.2h0M556.3 602.4h0M553.5 610.5h0M554.6 610.0h0M555.6 609.3h0M555.4 608.1h0M557.5 608.1h0M558.4 607.3h0M559.4 607.6h0M559.1 605.3h0M555.6 613.3h0M557.6 613.6h0M558.6 612.0h0M559.6 611.6h0M561.4 611.2h0M562.3 608.7h0M564.4 610.0h0M543.6 611.2h0M545.1 620.4h0M551.3 622.4h0M545.1 620.4h0M545.9 621.0h0M555.5 613.9h0M555.4 615.8h0M543.8 615.4h0M549.4 622.0h0M546.8 612.0h0M555.0 619.4h0M550.4 622.0h0M556.2 614.1h0M541.6 613.9h0M554.3 612.9h0M549.6 616.3h0M550.3 611.9h0M551.5 617.4h0M550.5 614.6h0M552.0 617.7h0M545.0 618.6h0M555.7 609.2h0M542.0 612.8h0M551.7 621.7h0M543.8 619.8h0M541.5 617.0h0M556.1 615.2h0M548.0 619.1h0M543.5 611.0h0M551.5 622.5h0M552.8 619.8h0M546.8 611.9h0M547.5 611.8h0M543.2 618.8h0M553.2 613.0h0M552.0 613.9h0M541.0 613.4h0M557.8 610.9h0M546.3 621.4h0M546.3 617.7h0M545.4 607.4h0M550.0 616.6h0M543.9 611.1h0M558.6 614.3h0M541.8 614.5h0M551.0 606.2h0M557.4 619.0h0M550.2 610.7h0M545.2 622.2h0"/>
<circle cx="543.69" cy="612.12" r="1.25" fill="#2e7fd8" stroke="#333" stroke-width="0.3"/>
<circle cx="549.89" cy="621.00" r="1.25" fill="#2e7fd8" stroke="#333" stroke-width="0.3"/>
<circle cx="546.01" cy="617.62" r="1.25" fill="#2e7fd8" stroke="#333" stroke-width="0.3"/>
<circle cx="546.43" cy="615.62" r="1.25" fill="#2e7fd8" stroke="#333" stroke-width="0.3"/>
<circle cx="550.93" cy="621.51" r="1.25" fill="#2e7fd8" stroke="#333" stroke-width="0.3"/>
<circle cx="542.27" cy="611.14" r="1.25" fill="#2e7fd8" stroke="#333" stroke-width="0.3"/>
<circle cx="547.78" cy="616.16" r="1.25" fill="#2e7fd8" stroke="#333" stroke-width="0.3"/>
<circle cx="555.07" cy="611.48" r="1.25" fill="#2e7fd8" stroke="#333" stroke-width="0.3"/>
<circle cx="546.57" cy="617.01" r="1.25" fill="#2e7fd8" stroke="#333" stroke-width="0.3"/>
<circle cx="545.90" cy="624.67" r="1.25" fill="#2e7fd8" stroke="#333" stroke-width="0.3"/>
<circle cx="549.53" cy="616.66" r="1.25" fill="#2e7fd8" stroke="#333" stroke-width="0.3"/>
<circle cx="542.34" cy="612.62" r="1.25" fill="#2e7fd8" stroke="#333" stroke-width="0.3"/>
<circle cx="553.45" cy="613.05" r="1.25" fill="#2e7fd8" stroke="#333" stroke-width="0.3"/>
<circle cx="546.37" cy="624.15" r="1.25" fill="#2e7fd8" stroke="#333" stroke-width="0.3"/>
<circle cx="532.10" cy="618.80" r="1.30" fill="#2e7fd8" stroke="#333" stroke-width="0.3"/>
<circle cx="533.10" cy="613.80" r="1.30" fill="#fff" stroke="#333" stroke-width="0.3"/>
<rect x="582.10" y="594.30" width="98.80" height="39.70" fill="#fff" stroke="#a9c0e4" stroke-width="0.9" rx="6" stroke-dasharray="3 2"/>
<text x="586.3" y="604.6" font-size="6.6" font-style="italic" xml:space="preserve" textLength="63.1" lengthAdjust="spacingAndGlyphs"><tspan fill="#2e7fd8" font-weight="bold">PRGa</tspan><tspan fill="#2e7fd8"> - LOC116604750,</tspan></text>
<text x="586.3" y="612.6" font-size="6.6" font-style="italic" xml:space="preserve" textLength="92.8" lengthAdjust="spacingAndGlyphs"><tspan fill="#2e7fd8" font-weight="bold">PRGa-R.221</tspan><tspan fill="#2e7fd8"> - LOC5514441, </tspan><tspan fill="#2e7fd8" font-weight="bold">GPCR</tspan></text>
<text x="586.3" y="620.6" font-size="6.6" font-style="italic" xml:space="preserve" textLength="65.6" lengthAdjust="spacingAndGlyphs"><tspan fill="#2e7fd8" font-weight="bold">Class A</tspan><tspan fill="#2e7fd8"> – (LOC5506558,</tspan></text>
<text x="586.3" y="628.7" font-size="6.6" font-style="italic" xml:space="preserve" textLength="74.2" lengthAdjust="spacingAndGlyphs"><tspan fill="#2e7fd8">LOC5514083, LOC5517902)</tspan></text>
<ellipse cx="551.1" cy="678.9" rx="28.7" ry="24.5" fill="#fff" stroke="#8fb0dc" stroke-width="0.9" transform="rotate(0 551.1 678.9)"/>
<path fill="none" stroke="#555" stroke-width="0.22" stroke-opacity="0.4" d="M559.0 660.1L545.0 672.3M559.0 660.1L549.8 673.2M559.0 660.1L534.4 678.0M559.0 660.1L547.8 678.5M559.0 660.1L555.5 677.3M559.0 660.1L561.6 678.2M559.0 660.1L560.7 681.5M559.0 660.1L526.8 683.7M559.0 660.1L543.2 684.6M559.0 660.1L568.0 694.2M545.0 672.3L549.8 673.2M545.0 672.3L534.4 678.0M545.0 672.3L547.8 678.5M545.0 672.3L555.5 677.3M545.0 672.3L561.6 678.2M545.0 672.3L560.7 681.5M545.0 672.3L526.8 683.7M545.0 672.3L568.0 694.2M549.8 673.2L534.4 678.0M549.8 673.2L555.5 677.3M549.8 673.2L561.6 678.2M549.8 673.2L560.7 681.5M549.8 673.2L526.8 683.7M549.8 673.2L543.2 684.6M549.8 673.2L568.0 694.2M534.4 678.0L547.8 678.5M534.4 678.0L555.5 677.3M534.4 678.0L561.6 678.2M534.4 678.0L560.7 681.5M534.4 678.0L526.8 683.7M534.4 678.0L543.2 684.6M534.4 678.0L568.0 694.2M547.8 678.5L555.5 677.3M547.8 678.5L561.6 678.2M547.8 678.5L560.7 681.5M547.8 678.5L526.8 683.7M547.8 678.5L543.2 684.6M547.8 678.5L568.0 694.2M555.5 677.3L561.6 678.2M555.5 677.3L560.7 681.5M555.5 677.3L526.8 683.7M555.5 677.3L543.2 684.6M555.5 677.3L568.0 694.2M561.6 678.2L560.7 681.5M561.6 678.2L526.8 683.7M561.6 678.2L543.2 684.6M561.6 678.2L568.0 694.2M560.7 681.5L526.8 683.7M560.7 681.5L568.0 694.2M526.8 683.7L543.2 684.6M526.8 683.7L568.0 694.2M543.2 684.6L568.0 694.2"/>
<polygon points="559.00,657.70 561.40,660.10 559.00,662.50 556.60,660.10" fill="#4d4d4d" stroke="#444" stroke-width="0.2"/>
<polygon points="545.00,669.90 547.40,672.30 545.00,674.70 542.60,672.30" fill="#f04a10" stroke="#444" stroke-width="0.2"/>
<polygon points="549.80,670.80 552.20,673.20 549.80,675.60 547.40,673.20" fill="#4d4d4d" stroke="#444" stroke-width="0.2"/>
<polygon points="534.40,675.60 536.80,678.00 534.40,680.40 532.00,678.00" fill="#4d4d4d" stroke="#444" stroke-width="0.2"/>
<polygon points="547.80,676.10 550.20,678.50 547.80,680.90 545.40,678.50" fill="#f04a10" stroke="#444" stroke-width="0.2"/>
<polygon points="555.50,674.90 557.90,677.30 555.50,679.70 553.10,677.30" fill="#138f8f" stroke="#444" stroke-width="0.2"/>
<polygon points="561.60,675.80 564.00,678.20 561.60,680.60 559.20,678.20" fill="#f04a10" stroke="#444" stroke-width="0.2"/>
<polygon points="560.70,679.10 563.10,681.50 560.70,683.90 558.30,681.50" fill="#4d4d4d" stroke="#444" stroke-width="0.2"/>
<polygon points="526.80,681.30 529.20,683.70 526.80,686.10 524.40,683.70" fill="#138f8f" stroke="#444" stroke-width="0.2"/>
<polygon points="543.20,682.20 545.60,684.60 543.20,687.00 540.80,684.60" fill="#f04a10" stroke="#444" stroke-width="0.2"/>
<polygon points="568.00,691.80 570.40,694.20 568.00,696.60 565.60,694.20" fill="#138f8f" stroke="#444" stroke-width="0.2"/>
<rect x="582.10" y="643.20" width="98.80" height="71.10" fill="#fff" stroke="#a9c0e4" stroke-width="0.9" rx="6"/>
<text x="587.4" y="653.6" font-size="6.6" font-style="italic" xml:space="preserve" textLength="83.5" lengthAdjust="spacingAndGlyphs"><tspan fill="#ff4a12" font-weight="bold">Dlx</tspan><tspan fill="#ff4a12"> - LOC5518688, </tspan><tspan fill="#ff4a12" font-weight="bold">Msx4/MsxD</tspan></text>
<text x="587.4" y="661.5" font-size="6.6" font-style="italic" xml:space="preserve" textLength="79.4" lengthAdjust="spacingAndGlyphs"><tspan fill="#ff4a12" font-weight="bold">- Msx1/2</tspan><tspan fill="#ff4a12"> - LOC5505086, </tspan><tspan fill="#ff4a12" font-weight="bold">Vax</tspan><tspan fill="#ff4a12"> -</tspan></text>
<text x="587.4" y="669.4" font-size="6.6" font-style="italic" xml:space="preserve" textLength="88.3" lengthAdjust="spacingAndGlyphs"><tspan fill="#ff4a12">LOC5508578, </tspan><tspan fill="#ff4a12" font-weight="bold">homeobox protein</tspan></text>
<text x="587.4" y="677.3" font-size="6.6" font-style="italic" xml:space="preserve" textLength="85.9" lengthAdjust="spacingAndGlyphs"><tspan fill="#ff4a12" font-weight="bold">not2</tspan><tspan fill="#ff4a12"> - LOC5521575</tspan><tspan fill="#1515f0">, </tspan><tspan fill="#454545">unchar. Sox</tspan></text>
<text x="587.4" y="685.2" font-size="6.6" font-style="italic" xml:space="preserve" textLength="71.6" lengthAdjust="spacingAndGlyphs"><tspan fill="#454545">- LOC5507492, </tspan><tspan fill="#454545" font-weight="bold">NvFoxD.2</tspan><tspan fill="#454545"> -</tspan></text>
<text x="587.4" y="693.1" font-size="6.6" font-style="italic" xml:space="preserve" textLength="65.9" lengthAdjust="spacingAndGlyphs"><tspan fill="#454545">LOC116621169, </tspan><tspan fill="#454545" font-weight="bold">NvNR7</tspan><tspan fill="#454545"> -</tspan></text>
<text x="587.4" y="701.0" font-size="6.6" font-style="italic" xml:space="preserve" textLength="80.3" lengthAdjust="spacingAndGlyphs"><tspan fill="#454545">LOC550988,  </tspan><tspan fill="#454545" font-weight="bold">NvFox4/FoxQ2</tspan><tspan fill="#454545"> -</tspan></text>
<text x="587.4" y="708.9" font-size="6.6" font-style="italic" xml:space="preserve" textLength="40.5" lengthAdjust="spacingAndGlyphs"><tspan fill="#454545">LOC116613859</tspan></text>
<ellipse cx="547.7" cy="734.8" rx="24.7" ry="22.9" fill="#fff" stroke="#8fb0dc" stroke-width="0.9" stroke-dasharray="3 2"/>
<ellipse cx="547.7" cy="734.8" rx="9.9" ry="9.2" fill="#555" fill-opacity="0.45"/>
<path fill="none" stroke="#333" stroke-width="0.35" stroke-opacity="0.45" d="M546.7 734.2L554.1 734.7M548.4 733.8L556.6 734.4M548.7 733.5L558.2 734.1M546.5 733.5L560.2 734.3M546.9 733.7L561.8 732.3M545.5 733.6L563.9 732.9M546.4 736.4L554.2 736.0M546.1 735.3L555.4 737.6M546.3 736.1L556.5 738.8M547.5 733.9L557.8 739.0M549.4 737.0L559.8 739.1M550.0 736.2L560.9 739.4M547.8 733.8L561.9 740.6M546.9 733.9L553.3 738.3M548.4 734.1L554.5 739.4M548.0 735.1L557.2 740.8M547.5 733.8L558.9 741.5M546.1 738.6L560.6 743.0M547.5 732.4L550.1 740.7M545.8 733.8L550.8 741.9M550.4 735.0L551.6 743.4M546.3 737.4L553.2 743.7M544.9 736.5L554.0 744.8M551.9 734.8L554.0 746.4M549.2 735.8L548.0 740.8M543.3 735.3L548.7 742.1M546.8 730.6L548.6 743.5M549.0 733.9L548.1 745.6M548.2 735.5L549.1 746.8M546.8 731.2L549.5 748.6M547.0 733.6L545.4 740.3M545.9 733.5L545.7 741.7M547.7 737.1L545.9 742.8M547.8 735.1L545.0 743.9M549.3 735.5L545.8 745.3M547.3 733.8L544.0 746.0M545.9 736.2L545.1 740.6M547.5 736.6L544.2 741.9M546.5 733.9L543.1 742.7M548.3 737.0L542.3 743.7M547.4 733.9L542.8 746.1M548.5 732.8L542.5 738.8M549.4 732.9L542.3 739.5M545.3 734.9L541.4 741.1M546.8 736.8L539.8 740.5M548.9 735.5L539.5 742.7M544.6 734.7L537.9 742.4M546.4 731.8L536.2 742.2M550.4 731.9L541.6 737.3M546.2 733.4L541.1 738.2M546.7 735.0L539.7 738.9M548.3 732.8L538.8 739.6M548.3 735.7L537.1 738.4M548.1 737.2L536.1 740.3M546.9 734.2L534.8 740.1M547.0 733.0L534.0 740.6M547.5 736.4L541.0 734.9M548.5 734.8L539.4 735.9M547.9 736.8L538.1 736.3M549.5 731.9L536.7 736.2M545.6 736.3L535.2 735.9M548.8 735.8L541.7 732.4M549.1 733.1L540.3 732.3M545.8 735.5L538.7 733.2M545.8 734.9L538.3 731.8M550.8 732.1L537.3 730.3M548.5 737.2L536.7 729.5M549.6 734.1L534.7 731.0M546.3 734.8L543.0 730.4M545.7 735.0L541.9 729.5M547.1 734.3L540.5 728.4M548.9 734.8L538.9 727.9M546.7 734.5L538.5 726.0M547.3 734.4L536.0 726.0M546.9 736.1L534.9 725.1M547.0 736.4L544.2 729.8M548.6 736.3L544.0 728.3M548.3 732.8L542.6 727.0M551.3 734.1L542.7 725.4M546.0 735.0L541.0 724.4M547.9 731.7L546.7 728.5M545.5 734.2L546.5 727.7M547.0 733.1L546.0 726.5M546.2 734.7L546.5 725.1M546.1 735.3L545.8 723.6M548.0 734.0L546.1 722.4M550.2 737.1L546.4 721.4M545.4 734.7L548.5 728.6M549.8 733.6L549.0 727.6M544.3 733.3L549.3 726.5M546.5 733.7L547.4 725.6M548.1 735.6L549.3 724.0M548.5 731.7L550.1 723.0M546.6 736.2L549.9 721.8M546.8 733.0L549.2 720.7M547.2 738.1L551.8 729.6M545.5 734.0L552.2 728.9M547.1 733.3L553.6 727.3M547.4 733.9L554.1 726.3M545.6 734.2L553.0 724.1M546.8 733.9L557.3 724.2M548.0 735.4L556.3 722.1M548.4 735.5L552.5 730.6M545.8 735.0L553.5 729.3M547.3 733.3L555.4 728.5M547.7 734.4L557.1 727.9M547.3 735.4L556.5 724.9M545.8 734.6L559.1 723.7M546.3 734.0L553.8 732.2M546.8 735.8L555.6 732.3M548.5 735.4L557.1 732.1M545.8 735.0L557.9 731.3M550.0 736.5L559.6 731.6M548.5 734.9L561.0 731.9M546.4 735.2L553.7 730.0M545.4 734.5L542.7 730.7M545.5 733.3L555.0 732.0M545.5 735.2L555.6 729.2M547.0 735.2L544.0 725.9M548.5 735.2L541.4 735.2M546.6 735.2L551.9 729.0M545.6 734.0L544.6 742.2M548.4 734.4L544.0 735.3M547.8 734.8L551.5 729.0M551.0 732.0L555.2 733.6M545.9 736.8L552.8 732.8M545.8 734.7L549.2 741.6M549.9 732.0L548.7 726.1M547.4 735.8L545.5 732.1M549.4 733.8L546.2 735.9M548.6 734.2L540.7 741.6M548.2 734.1L542.7 741.4M548.4 735.8L544.9 732.3M549.0 734.1L546.6 732.3M546.5 735.3L550.9 741.5M549.1 735.5L554.8 741.6M546.3 734.8L540.3 738.2M547.5 733.5L551.0 734.1M551.0 734.4L549.8 734.8M547.1 734.5L540.9 730.2M545.8 734.0L553.9 734.3M546.8 733.5L555.6 732.3M546.9 729.8L543.5 735.4M547.6 734.4L548.3 740.6M546.2 733.3L544.1 739.6M544.3 733.8L550.0 729.3M548.0 734.9L546.3 733.4M547.6 734.1L553.2 741.1M549.5 736.9L552.2 731.4M545.7 737.2L552.6 735.7M548.4 732.7L543.7 739.3M547.3 735.3L542.4 732.8M550.7 734.3L542.2 728.0M549.3 733.9L549.6 726.7"/>
<path fill="none" stroke="#6a6a6a" stroke-width="2.8" stroke-linecap="round" d="M554.1 734.7h0M556.6 734.4h0M558.2 734.1h0M560.2 734.3h0M561.8 732.3h0M563.9 732.9h0M554.2 736.0h0M555.4 737.6h0M556.5 738.8h0M557.8 739.0h0M559.8 739.1h0M560.9 739.4h0M561.9 740.6h0M553.3 738.3h0M554.5 739.4h0M557.2 740.8h0M558.9 741.5h0M560.6 743.0h0M550.1 740.7h0M550.8 741.9h0M551.6 743.4h0M553.2 743.7h0M554.0 744.8h0M554.0 746.4h0M548.0 740.8h0M548.7 742.1h0M548.6 743.5h0M548.1 745.6h0M549.1 746.8h0M549.5 748.6h0M545.4 740.3h0M545.7 741.7h0M545.9 742.8h0M545.0 743.9h0M545.8 745.3h0M544.0 746.0h0M545.1 740.6h0M544.2 741.9h0M543.1 742.7h0M542.3 743.7h0M542.8 746.1h0M542.5 738.8h0M542.3 739.5h0M541.4 741.1h0M539.8 740.5h0M539.5 742.7h0M537.9 742.4h0M536.2 742.2h0M541.6 737.3h0M541.1 738.2h0M539.7 738.9h0M538.8 739.6h0M537.1 738.4h0M536.1 740.3h0M534.8 740.1h0M534.0 740.6h0M541.0 734.9h0M539.4 735.9h0M538.1 736.3h0M536.7 736.2h0M535.2 735.9h0M541.7 732.4h0M540.3 732.3h0M538.7 733.2h0M538.3 731.8h0M537.3 730.3h0M536.7 729.5h0M534.7 731.0h0M543.0 730.4h0M541.9 729.5h0M540.5 728.4h0M538.9 727.9h0M538.5 726.0h0M536.0 726.0h0M534.9 725.1h0M544.2 729.8h0M544.0 728.3h0M542.6 727.0h0M542.7 725.4h0M541.0 724.4h0M546.7 728.5h0M546.5 727.7h0M546.0 726.5h0M546.5 725.1h0M545.8 723.6h0M546.1 722.4h0M546.4 721.4h0M548.5 728.6h0M549.0 727.6h0M549.3 726.5h0M547.4 725.6h0M549.3 724.0h0M550.1 723.0h0M549.9 721.8h0M549.2 720.7h0M551.8 729.6h0M552.2 728.9h0M553.6 727.3h0M554.1 726.3h0M553.0 724.1h0M557.3 724.2h0M556.3 722.1h0M552.5 730.6h0M553.5 729.3h0M555.4 728.5h0M557.1 727.9h0M556.5 724.9h0M559.1 723.7h0M553.8 732.2h0M555.6 732.3h0M557.1 732.1h0M557.9 731.3h0M559.6 731.6h0M561.0 731.9h0M553.7 730.0h0M542.7 730.7h0M555.0 732.0h0M555.6 729.2h0M544.0 725.9h0M541.4 735.2h0M551.9 729.0h0M544.6 742.2h0M544.0 735.3h0M551.5 729.0h0M555.2 733.6h0M552.8 732.8h0M549.2 741.6h0M548.7 726.1h0M545.5 732.1h0M546.2 735.9h0M540.7 741.6h0M542.7 741.4h0M544.9 732.3h0M546.6 732.3h0M550.9 741.5h0M554.8 741.6h0M540.3 738.2h0M551.0 734.1h0M549.8 734.8h0M540.9 730.2h0M553.9 734.3h0M555.6 732.3h0M543.5 735.4h0M548.3 740.6h0M544.1 739.6h0M550.0 729.3h0M546.3 733.4h0M553.2 741.1h0M552.2 731.4h0M552.6 735.7h0M543.7 739.3h0M542.4 732.8h0M542.2 728.0h0M549.6 726.7h0"/>
<path fill="none" stroke="#a8a8a8" stroke-width="2.0" stroke-linecap="round" d="M554.1 734.7h0M556.6 734.4h0M558.2 734.1h0M560.2 734.3h0M561.8 732.3h0M563.9 732.9h0M554.2 736.0h0M555.4 737.6h0M556.5 738.8h0M557.8 739.0h0M559.8 739.1h0M560.9 739.4h0M561.9 740.6h0M553.3 738.3h0M554.5 739.4h0M557.2 740.8h0M558.9 741.5h0M560.6 743.0h0M550.1 740.7h0M550.8 741.9h0M551.6 743.4h0M553.2 743.7h0M554.0 744.8h0M554.0 746.4h0M548.0 740.8h0M548.7 742.1h0M548.6 743.5h0M548.1 745.6h0M549.1 746.8h0M549.5 748.6h0M545.4 740.3h0M545.7 741.7h0M545.9 742.8h0M545.0 743.9h0M545.8 745.3h0M544.0 746.0h0M545.1 740.6h0M544.2 741.9h0M543.1 742.7h0M542.3 743.7h0M542.8 746.1h0M542.5 738.8h0M542.3 739.5h0M541.4 741.1h0M539.8 740.5h0M539.5 742.7h0M537.9 742.4h0M536.2 742.2h0M541.6 737.3h0M541.1 738.2h0M539.7 738.9h0M538.8 739.6h0M537.1 738.4h0M536.1 740.3h0M534.8 740.1h0M534.0 740.6h0M541.0 734.9h0M539.4 735.9h0M538.1 736.3h0M536.7 736.2h0M535.2 735.9h0M541.7 732.4h0M540.3 732.3h0M538.7 733.2h0M538.3 731.8h0M537.3 730.3h0M536.7 729.5h0M534.7 731.0h0M543.0 730.4h0M541.9 729.5h0M540.5 728.4h0M538.9 727.9h0M538.5 726.0h0M536.0 726.0h0M534.9 725.1h0M544.2 729.8h0M544.0 728.3h0M542.6 727.0h0M542.7 725.4h0M541.0 724.4h0M546.7 728.5h0M546.5 727.7h0M546.0 726.5h0M546.5 725.1h0M545.8 723.6h0M546.1 722.4h0M546.4 721.4h0M548.5 728.6h0M549.0 727.6h0M549.3 726.5h0M547.4 725.6h0M549.3 724.0h0M550.1 723.0h0M549.9 721.8h0M549.2 720.7h0M551.8 729.6h0M552.2 728.9h0M553.6 727.3h0M554.1 726.3h0M553.0 724.1h0M557.3 724.2h0M556.3 722.1h0M552.5 730.6h0M553.5 729.3h0M555.4 728.5h0M557.1 727.9h0M556.5 724.9h0M559.1 723.7h0M553.8 732.2h0M555.6 732.3h0M557.1 732.1h0M557.9 731.3h0M559.6 731.6h0M561.0 731.9h0M553.7 730.0h0M542.7 730.7h0M555.0 732.0h0M555.6 729.2h0M544.0 725.9h0M541.4 735.2h0M551.9 729.0h0M544.6 742.2h0M544.0 735.3h0M551.5 729.0h0M555.2 733.6h0M552.8 732.8h0M549.2 741.6h0M548.7 726.1h0M545.5 732.1h0M546.2 735.9h0M540.7 741.6h0M542.7 741.4h0M544.9 732.3h0M546.6 732.3h0M550.9 741.5h0M554.8 741.6h0M540.3 738.2h0M551.0 734.1h0M549.8 734.8h0M540.9 730.2h0M553.9 734.3h0M555.6 732.3h0M543.5 735.4h0M548.3 740.6h0M544.1 739.6h0M550.0 729.3h0M546.3 733.4h0M553.2 741.1h0M552.2 731.4h0M552.6 735.7h0M543.7 739.3h0M542.4 732.8h0M542.2 728.0h0M549.6 726.7h0"/>
<circle cx="549.12" cy="744.28" r="1.25" fill="#2e7fd8" stroke="#333" stroke-width="0.3"/>
<circle cx="546.73" cy="738.85" r="1.25" fill="#2e7fd8" stroke="#333" stroke-width="0.3"/>
<circle cx="555.73" cy="740.80" r="1.25" fill="#2e7fd8" stroke="#333" stroke-width="0.3"/>
<circle cx="553.90" cy="740.80" r="1.25" fill="#2e7fd8" stroke="#333" stroke-width="0.3"/>
<circle cx="560.62" cy="735.48" r="1.25" fill="#2e7fd8" stroke="#333" stroke-width="0.3"/>
<circle cx="556.29" cy="732.27" r="1.25" fill="#2e7fd8" stroke="#333" stroke-width="0.3"/>
<circle cx="551.04" cy="732.92" r="1.25" fill="#2e7fd8" stroke="#333" stroke-width="0.3"/>
<circle cx="543.26" cy="730.27" r="1.25" fill="#2e7fd8" stroke="#333" stroke-width="0.3"/>
<circle cx="553.31" cy="727.56" r="1.25" fill="#2e7fd8" stroke="#333" stroke-width="0.3"/>
<circle cx="546.73" cy="732.99" r="1.25" fill="#2e7fd8" stroke="#333" stroke-width="0.3"/>
<circle cx="556.05" cy="737.45" r="1.25" fill="#2e7fd8" stroke="#333" stroke-width="0.3"/>
<circle cx="554.29" cy="730.65" r="1.25" fill="#2e7fd8" stroke="#333" stroke-width="0.3"/>
<circle cx="544.06" cy="730.77" r="1.25" fill="#2e7fd8" stroke="#333" stroke-width="0.3"/>
<circle cx="549.61" cy="740.26" r="1.25" fill="#2e7fd8" stroke="#333" stroke-width="0.3"/>
<circle cx="556.81" cy="731.95" r="1.25" fill="#2e7fd8" stroke="#333" stroke-width="0.3"/>
<circle cx="559.23" cy="738.16" r="1.25" fill="#2e7fd8" stroke="#333" stroke-width="0.3"/>
<circle cx="549.07" cy="728.55" r="1.25" fill="#2e7fd8" stroke="#333" stroke-width="0.3"/>
<circle cx="554.38" cy="740.49" r="1.25" fill="#2e7fd8" stroke="#333" stroke-width="0.3"/>
<circle cx="549.29" cy="729.04" r="1.25" fill="#2e7fd8" stroke="#333" stroke-width="0.3"/>
<circle cx="544.89" cy="744.59" r="1.25" fill="#2e7fd8" stroke="#333" stroke-width="0.3"/>
<circle cx="547.54" cy="745.40" r="1.25" fill="#2e7fd8" stroke="#333" stroke-width="0.3"/>
<circle cx="555.32" cy="741.69" r="1.25" fill="#2e7fd8" stroke="#333" stroke-width="0.3"/>
<circle cx="559.33" cy="736.42" r="1.25" fill="#2e7fd8" stroke="#333" stroke-width="0.3"/>
<circle cx="551.13" cy="727.77" r="1.25" fill="#2e7fd8" stroke="#333" stroke-width="0.3"/>
<circle cx="545.36" cy="731.70" r="1.25" fill="#2e7fd8" stroke="#333" stroke-width="0.3"/>
<circle cx="554.13" cy="730.55" r="1.25" fill="#2e7fd8" stroke="#333" stroke-width="0.3"/>
<circle cx="559.44" cy="734.61" r="1.25" fill="#2e7fd8" stroke="#333" stroke-width="0.3"/>
<circle cx="556.26" cy="736.84" r="1.25" fill="#2e7fd8" stroke="#333" stroke-width="0.3"/>
<circle cx="553.36" cy="734.62" r="1.25" fill="#2e7fd8" stroke="#333" stroke-width="0.3"/>
<circle cx="558.58" cy="737.50" r="1.25" fill="#2e7fd8" stroke="#333" stroke-width="0.3"/>
<circle cx="547.15" cy="727.86" r="1.25" fill="#2e7fd8" stroke="#333" stroke-width="0.3"/>
<circle cx="558.69" cy="735.03" r="1.25" fill="#2e7fd8" stroke="#333" stroke-width="0.3"/>
<circle cx="548.35" cy="730.14" r="1.25" fill="#2e7fd8" stroke="#333" stroke-width="0.3"/>
<circle cx="555.76" cy="730.32" r="1.25" fill="#2e7fd8" stroke="#333" stroke-width="0.3"/>
<circle cx="556.36" cy="742.31" r="1.25" fill="#2e7fd8" stroke="#333" stroke-width="0.3"/>
<circle cx="556.41" cy="738.53" r="1.25" fill="#2e7fd8" stroke="#333" stroke-width="0.3"/>
<circle cx="545.71" cy="744.78" r="1.25" fill="#2e7fd8" stroke="#333" stroke-width="0.3"/>
<circle cx="551.87" cy="742.60" r="1.25" fill="#2e7fd8" stroke="#333" stroke-width="0.3"/>
<circle cx="546.38" cy="735.08" r="1.25" fill="#2e7fd8" stroke="#333" stroke-width="0.3"/>
<circle cx="545.29" cy="738.32" r="1.25" fill="#2e7fd8" stroke="#333" stroke-width="0.3"/>
<circle cx="527.70" cy="734.80" r="1.30" fill="#2e7fd8" stroke="#333" stroke-width="0.3"/>
<circle cx="546.70" cy="731.80" r="1.30" fill="#fff" stroke="#333" stroke-width="0.3"/>
<rect x="582.10" y="720.30" width="98.80" height="33.70" fill="#fff" stroke="#a9c0e4" stroke-width="0.9" rx="6" stroke-dasharray="3 2"/>
<text x="586.3" y="727.5" font-size="6.6" font-style="italic" xml:space="preserve" textLength="85.8" lengthAdjust="spacingAndGlyphs"><tspan fill="#2e7fd8">LWa-like</tspan><tspan fill="#2e7fd8"> - LOC5514164</tspan><tspan fill="#454545">, </tspan><tspan fill="#454545" font-weight="bold">Class8-</tspan></text>
<text x="586.3" y="735.4" font-size="6.6" font-style="italic" xml:space="preserve" textLength="83.4" lengthAdjust="spacingAndGlyphs"><tspan fill="#454545" font-weight="bold">like</tspan><tspan fill="#454545"> - LOC116614269, </tspan><tspan fill="#454545" font-weight="bold">ShakR6</tspan><tspan fill="#454545"> -</tspan></text>
<text x="586.3" y="743.4" font-size="6.6" font-style="italic" xml:space="preserve" textLength="75.6" lengthAdjust="spacingAndGlyphs"><tspan fill="#454545">LOC5507790, Class A GPCR</tspan></text>
<text x="586.3" y="751.4" font-size="6.6" font-style="italic" xml:space="preserve" textLength="76.1" lengthAdjust="spacingAndGlyphs"><tspan fill="#454545">(</tspan><tspan fill="#2e7fd8">LOC5513953, LOC5515932</tspan><tspan fill="#454545">)</tspan></text>
<ellipse cx="201.8" cy="685.8" rx="26" ry="22" fill="#fff" stroke="#4cd08a" stroke-width="0.9" transform="rotate(0 201.8 685.8)"/>
<path fill="none" stroke="#555" stroke-width="0.22" stroke-opacity="0.5" d="M196.5 671.6L202.2 669.8M196.5 671.6L210.1 669.2M196.5 671.6L206.3 675.8M196.5 671.6L201.8 682.3M196.5 671.6L208.6 681.5M196.5 671.6L205.7 684.5M196.5 671.6L218.6 685.2M196.5 671.6L182.9 685.8M196.5 671.6L180.3 689.8M196.5 671.6L201.8 688.7M196.5 671.6L207.0 687.0M196.5 671.6L192.8 690.6M196.5 671.6L197.4 691.1M196.5 671.6L199.6 693.7M196.5 671.6L205.3 692.4M196.5 671.6L219.1 695.5M196.5 671.6L215.6 698.7M202.2 669.8L210.1 669.2M202.2 669.8L196.5 677.3M202.2 669.8L201.8 682.3M202.2 669.8L208.6 681.5M202.2 669.8L212.7 681.0M202.2 669.8L205.7 684.5M202.2 669.8L218.6 685.2M202.2 669.8L182.9 685.8M202.2 669.8L180.3 689.8M202.2 669.8L201.8 688.7M202.2 669.8L207.0 687.0M202.2 669.8L192.8 690.6M202.2 669.8L199.6 693.7M202.2 669.8L215.6 698.7M202.2 669.8L190.8 701.0M210.1 669.2L206.3 675.8M210.1 669.2L196.5 677.3M210.1 669.2L201.8 682.3M210.1 669.2L212.7 681.0M210.1 669.2L205.7 684.5M210.1 669.2L218.6 685.2M210.1 669.2L182.9 685.8M210.1 669.2L201.8 688.7M210.1 669.2L207.0 687.0M210.1 669.2L192.8 690.6M210.1 669.2L197.4 691.1M210.1 669.2L199.6 693.7M210.1 669.2L205.3 692.4M210.1 669.2L219.1 695.5M210.1 669.2L190.8 701.0M206.3 675.8L196.5 677.3M206.3 675.8L201.8 682.3M206.3 675.8L208.6 681.5M206.3 675.8L212.7 681.0M206.3 675.8L205.7 684.5M206.3 675.8L218.6 685.2M206.3 675.8L180.3 689.8M206.3 675.8L201.8 688.7M206.3 675.8L207.0 687.0M206.3 675.8L192.8 690.6M206.3 675.8L197.4 691.1M206.3 675.8L219.1 695.5M206.3 675.8L215.6 698.7M196.5 677.3L201.8 682.3M196.5 677.3L208.6 681.5M196.5 677.3L212.7 681.0M196.5 677.3L205.7 684.5M196.5 677.3L218.6 685.2M196.5 677.3L182.9 685.8M196.5 677.3L201.8 688.7M196.5 677.3L207.0 687.0M196.5 677.3L197.4 691.1M196.5 677.3L199.6 693.7M196.5 677.3L205.3 692.4M196.5 677.3L215.6 698.7M196.5 677.3L190.8 701.0M201.8 682.3L212.7 681.0M201.8 682.3L205.7 684.5M201.8 682.3L218.6 685.2M201.8 682.3L182.9 685.8M201.8 682.3L180.3 689.8M201.8 682.3L201.8 688.7M201.8 682.3L207.0 687.0M201.8 682.3L192.8 690.6M201.8 682.3L199.6 693.7M201.8 682.3L215.6 698.7M201.8 682.3L190.8 701.0M208.6 681.5L212.7 681.0M208.6 681.5L205.7 684.5M208.6 681.5L218.6 685.2M208.6 681.5L182.9 685.8M208.6 681.5L201.8 688.7M208.6 681.5L207.0 687.0M208.6 681.5L197.4 691.1M208.6 681.5L199.6 693.7M208.6 681.5L205.3 692.4M208.6 681.5L215.6 698.7M208.6 681.5L190.8 701.0M212.7 681.0L218.6 685.2M212.7 681.0L201.8 688.7M212.7 681.0L207.0 687.0M212.7 681.0L192.8 690.6M212.7 681.0L197.4 691.1M212.7 681.0L199.6 693.7M212.7 681.0L205.3 692.4M212.7 681.0L215.6 698.7M212.7 681.0L190.8 701.0M205.7 684.5L218.6 685.2M205.7 684.5L182.9 685.8M205.7 684.5L180.3 689.8M205.7 684.5L201.8 688.7M205.7 684.5L207.0 687.0M205.7 684.5L192.8 690.6M205.7 684.5L197.4 691.1M205.7 684.5L199.6 693.7M205.7 684.5L219.1 695.5M205.7 684.5L190.8 701.0M218.6 685.2L182.9 685.8M218.6 685.2L207.0 687.0M218.6 685.2L192.8 690.6M218.6 685.2L197.4 691.1M218.6 685.2L199.6 693.7M218.6 685.2L205.3 692.4M218.6 685.2L219.1 695.5M218.6 685.2L215.6 698.7M182.9 685.8L180.3 689.8M182.9 685.8L201.8 688.7M182.9 685.8L207.0 687.0M182.9 685.8L192.8 690.6M182.9 685.8L197.4 691.1M182.9 685.8L199.6 693.7M182.9 685.8L205.3 692.4M182.9 685.8L219.1 695.5M182.9 685.8L190.8 701.0M180.3 689.8L207.0 687.0M180.3 689.8L199.6 693.7M180.3 689.8L205.3 692.4M180.3 689.8L219.1 695.5M180.3 689.8L190.8 701.0M201.8 688.7L207.0 687.0M201.8 688.7L192.8 690.6M201.8 688.7L197.4 691.1M201.8 688.7L199.6 693.7M201.8 688.7L205.3 692.4M201.8 688.7L219.1 695.5M201.8 688.7L215.6 698.7M201.8 688.7L190.8 701.0M207.0 687.0L192.8 690.6M207.0 687.0L197.4 691.1M207.0 687.0L199.6 693.7M207.0 687.0L205.3 692.4M207.0 687.0L219.1 695.5M207.0 687.0L190.8 701.0M192.8 690.6L199.6 693.7M192.8 690.6L205.3 692.4M192.8 690.6L215.6 698.7M192.8 690.6L190.8 701.0M197.4 691.1L199.6 693.7M197.4 691.1L205.3 692.4M197.4 691.1L219.1 695.5M197.4 691.1L215.6 698.7M197.4 691.1L190.8 701.0M199.6 693.7L205.3 692.4M199.6 693.7L219.1 695.5M199.6 693.7L215.6 698.7M199.6 693.7L190.8 701.0M205.3 692.4L219.1 695.5M205.3 692.4L215.6 698.7M205.3 692.4L190.8 701.0M219.1 695.5L190.8 701.0"/>
<polygon points="196.50,669.20 198.90,671.60 196.50,674.00 194.10,671.60" fill="#4d4d4d" stroke="#444" stroke-width="0.2"/>
<polygon points="202.20,667.40 204.60,669.80 202.20,672.20 199.80,669.80" fill="#138f8f" stroke="#444" stroke-width="0.2"/>
<polygon points="210.10,666.80 212.50,669.20 210.10,671.60 207.70,669.20" fill="#4d4d4d" stroke="#444" stroke-width="0.2"/>
<polygon points="206.30,673.40 208.70,675.80 206.30,678.20 203.90,675.80" fill="#0000ee" stroke="#444" stroke-width="0.2"/>
<polygon points="196.50,674.90 198.90,677.30 196.50,679.70 194.10,677.30" fill="#138f8f" stroke="#444" stroke-width="0.2"/>
<polygon points="201.80,679.90 204.20,682.30 201.80,684.70 199.40,682.30" fill="#138f8f" stroke="#444" stroke-width="0.2"/>
<polygon points="208.60,679.10 211.00,681.50 208.60,683.90 206.20,681.50" fill="#138f8f" stroke="#444" stroke-width="0.2"/>
<polygon points="212.70,678.60 215.10,681.00 212.70,683.40 210.30,681.00" fill="#f04a10" stroke="#444" stroke-width="0.2"/>
<polygon points="205.70,682.10 208.10,684.50 205.70,686.90 203.30,684.50" fill="#4d4d4d" stroke="#444" stroke-width="0.2"/>
<polygon points="218.60,682.80 221.00,685.20 218.60,687.60 216.20,685.20" fill="#b43cf0" stroke="#444" stroke-width="0.2"/>
<polygon points="182.90,683.40 185.30,685.80 182.90,688.20 180.50,685.80" fill="#138f8f" stroke="#444" stroke-width="0.2"/>
<polygon points="180.30,687.40 182.70,689.80 180.30,692.20 177.90,689.80" fill="#138f8f" stroke="#444" stroke-width="0.2"/>
<polygon points="201.80,686.30 204.20,688.70 201.80,691.10 199.40,688.70" fill="#138f8f" stroke="#444" stroke-width="0.2"/>
<polygon points="207.00,684.60 209.40,687.00 207.00,689.40 204.60,687.00" fill="#138f8f" stroke="#444" stroke-width="0.2"/>
<polygon points="192.80,688.20 195.20,690.60 192.80,693.00 190.40,690.60" fill="#4d4d4d" stroke="#444" stroke-width="0.2"/>
<polygon points="197.40,688.70 199.80,691.10 197.40,693.50 195.00,691.10" fill="#4d4d4d" stroke="#444" stroke-width="0.2"/>
<polygon points="199.60,691.30 202.00,693.70 199.60,696.10 197.20,693.70" fill="#0000ee" stroke="#444" stroke-width="0.2"/>
<polygon points="205.30,690.00 207.70,692.40 205.30,694.80 202.90,692.40" fill="#b43cf0" stroke="#444" stroke-width="0.2"/>
<polygon points="219.10,693.10 221.50,695.50 219.10,697.90 216.70,695.50" fill="#138f8f" stroke="#444" stroke-width="0.2"/>
<polygon points="215.60,696.30 218.00,698.70 215.60,701.10 213.20,698.70" fill="#138f8f" stroke="#444" stroke-width="0.2"/>
<polygon points="190.80,698.60 193.20,701.00 190.80,703.40 188.40,701.00" fill="#4d4d4d" stroke="#444" stroke-width="0.2"/>
<rect x="229.90" y="664.80" width="109.80" height="49.20" fill="#fff" stroke="#4cd08a" stroke-width="0.9" rx="6"/>
<text x="235.3" y="672.6" font-size="6.6" font-style="italic" xml:space="preserve" textLength="94.8" lengthAdjust="spacingAndGlyphs"><tspan fill="#1515f0" font-weight="bold">Myc - Nem34</tspan><tspan fill="#1515f0"> - LOC5521047,  </tspan><tspan fill="#1515f0" font-weight="bold">Myc -</tspan></text>
<text x="235.3" y="680.4" font-size="6.6" font-style="italic" xml:space="preserve" textLength="85.4" lengthAdjust="spacingAndGlyphs"><tspan fill="#1515f0" font-weight="bold">Nem66</tspan><tspan fill="#1515f0"> - LOC5521076</tspan><tspan fill="#7a7a7a">, </tspan><tspan fill="#7a7a7a">NvFox6</tspan><tspan fill="#7a7a7a"> -</tspan></text>
<text x="235.3" y="688.3" font-size="6.6" font-style="italic" xml:space="preserve" textLength="92.9" lengthAdjust="spacingAndGlyphs"><tspan fill="#7a7a7a">LOC5517194, </tspan><tspan fill="#ff4a12" font-weight="bold">Nkx6</tspan><tspan fill="#ff4a12"> - LOC5501715</tspan><tspan fill="#7a7a7a">,</tspan></text>
<text x="235.3" y="696.2" font-size="6.6" font-style="italic" xml:space="preserve" textLength="90.5" lengthAdjust="spacingAndGlyphs"><tspan fill="#7a7a7a">Sox_unk</tspan><tspan fill="#7a7a7a"> - LOC5511097, </tspan><tspan fill="#454545">FoxN1/4</tspan><tspan fill="#7a7a7a"> -</tspan></text>
<text x="235.3" y="704.0" font-size="6.6" font-style="italic" xml:space="preserve" textLength="69.1" lengthAdjust="spacingAndGlyphs"><tspan fill="#454545">LOC5507165, </tspan><tspan fill="#b23cf0" font-weight="bold">bZIP - FOS:</tspan></text>
<text x="235.3" y="711.9" font-size="6.6" font-style="italic" xml:space="preserve" textLength="84.7" lengthAdjust="spacingAndGlyphs"><tspan fill="#b23cf0">LOC116616645, LOC125556791</tspan></text>
<ellipse cx="200.3" cy="738.1" rx="23.7" ry="21.2" fill="#fff" stroke="#4cd08a" stroke-width="0.9" stroke-dasharray="3 2"/>
<ellipse cx="200.3" cy="738.1" rx="9.5" ry="8.5" fill="#555" fill-opacity="0.45"/>
<path fill="none" stroke="#333" stroke-width="0.35" stroke-opacity="0.45" d="M199.3 737.9L206.5 738.5M199.5 740.3L209.5 737.2M197.7 739.5L211.4 737.6M198.7 739.7L214.0 738.2M201.2 738.9L217.3 738.7M200.9 737.3L206.0 740.4M200.0 737.8L207.9 741.1M199.0 737.1L208.8 741.9M202.6 736.4L211.1 741.0M200.5 736.8L211.8 743.2M199.9 737.3L214.0 742.7M198.8 738.2L214.5 744.9M199.1 738.3L215.9 745.7M200.7 739.9L205.0 741.7M199.2 736.5L206.2 742.0M202.1 737.5L207.2 743.1M201.6 739.8L208.0 744.3M198.9 741.3L209.0 745.5M201.4 739.3L210.7 746.0M198.5 734.6L212.0 746.6M198.8 737.9L212.6 747.3M200.7 735.5L203.5 743.0M202.4 736.9L204.5 745.4M203.5 741.4L205.1 747.2M201.8 737.4L206.7 748.1M198.8 735.7L208.0 749.7M202.4 736.9L201.4 743.4M200.8 738.4L202.0 745.3M199.2 739.3L201.7 746.6M199.4 740.4L200.7 747.8M200.4 736.6L202.0 749.8M200.0 737.2L200.9 750.8M201.4 737.8L202.9 752.4M201.1 739.3L198.8 744.0M201.6 736.6L198.1 746.2M199.2 735.6L196.7 747.5M197.4 740.6L197.9 749.5M202.2 738.0L198.5 751.6M200.3 735.2L196.5 753.8M199.6 737.7L196.1 743.3M199.4 736.7L195.4 744.9M200.9 737.3L193.9 747.1M201.2 738.2L192.5 748.4M201.0 739.4L190.9 750.8M200.7 739.4L194.7 741.3M199.6 737.6L194.6 742.9M198.9 738.2L192.5 742.6M202.5 738.2L191.7 744.2M197.7 738.1L190.7 745.5M200.6 737.8L188.7 745.4M199.9 736.5L187.0 745.3M200.8 737.6L184.5 744.9M201.1 736.8L194.1 740.8M201.7 739.0L191.9 740.2M200.7 737.7L189.5 739.8M199.9 738.5L187.9 741.3M203.1 738.2L185.7 741.7M198.4 737.5L193.7 737.9M200.8 737.7L192.9 738.0M202.7 737.2L191.5 737.6M201.9 735.9L190.5 735.7M200.0 738.3L188.5 736.0M202.4 738.1L187.2 737.7M199.7 735.9L185.9 739.0M199.6 740.2L184.5 738.2M199.3 738.4L194.3 736.9M198.6 738.1L191.9 734.9M199.5 740.5L189.0 736.0M202.0 737.0L187.5 734.9M202.2 738.4L185.4 733.8M198.4 736.1L195.0 734.7M199.9 739.1L194.1 732.9M199.7 738.7L191.8 732.4M200.4 737.8L190.9 730.7M197.7 737.0L187.6 730.8M201.2 738.3L186.9 728.9M201.6 738.0L196.3 733.2M200.3 737.7L196.4 731.0M199.9 738.2L194.8 729.7M200.3 738.4L193.6 728.5M199.6 736.6L193.7 726.4M199.4 739.4L192.3 725.6M199.8 737.0L190.3 724.2M200.5 738.5L198.5 732.5M199.0 736.3L198.9 730.1M200.4 739.9L198.1 729.0M202.0 737.8L195.0 727.5M200.4 736.7L195.3 724.7M197.8 737.3L202.0 732.9M199.6 736.2L201.6 731.0M200.2 738.6L202.8 729.5M197.9 738.4L201.0 728.1M198.8 740.0L203.2 727.1M199.7 738.2L203.5 725.3M198.6 737.2L203.0 723.4M199.9 739.0L205.5 723.0M202.3 737.9L204.2 733.0M200.2 737.7L204.2 731.5M200.2 737.2L204.0 729.7M198.8 738.3L206.1 728.7M198.3 739.8L207.2 727.5M201.4 741.6L206.1 724.7M201.3 736.7L208.9 723.9M201.7 736.8L205.9 734.4M201.8 737.2L207.1 733.5M202.8 737.8L209.1 732.6M197.7 734.1L210.6 732.3M199.9 737.0L211.2 729.7M199.7 737.4L214.9 730.9M198.4 739.4L214.6 727.1M200.9 739.6L206.4 736.8M200.5 739.6L208.4 736.2M200.6 740.4L210.9 735.3M201.2 736.6L213.6 735.5M199.7 735.7L214.4 734.0M201.3 735.6L217.0 733.6M198.9 736.0L201.7 741.5M200.1 736.3L193.1 742.4M200.6 737.2L191.7 739.7M199.9 736.0L203.3 735.5M198.3 737.6L205.8 733.4M202.6 736.8L194.0 741.2M199.1 735.1L205.1 734.5M201.2 737.1L208.4 743.0M202.3 735.7L202.7 740.1M197.3 736.4L199.3 733.2M201.5 740.5L198.3 745.1M200.4 739.6L204.8 734.8M198.7 738.0L206.8 734.2M199.6 738.0L194.6 734.0M202.5 739.0L204.2 738.4M200.1 739.3L196.6 731.5M199.5 735.7L206.8 742.2M197.6 737.5L192.8 739.2M198.4 740.6L196.6 740.6M198.4 735.9L194.3 745.0M201.2 736.0L203.8 745.8M202.5 736.9L197.6 737.6M199.6 738.3L200.8 737.0M198.6 739.3L203.3 733.7M202.3 738.4L207.7 734.4M198.9 739.0L195.3 743.6M200.9 738.3L204.4 737.8M199.6 737.1L201.8 742.7M202.0 740.6L202.4 734.1M202.5 738.9L200.5 745.1M201.7 735.2L194.7 735.2M200.0 737.7L198.6 737.6M197.5 739.3L202.0 738.2M198.7 739.1L208.5 740.7M200.2 736.1L203.8 737.7M199.0 739.6L199.4 738.8M199.0 738.4L192.9 741.0M201.4 738.6L193.6 732.2M201.5 738.1L198.1 737.4M197.9 741.5L195.5 742.3M201.2 738.8L199.4 739.5M199.1 739.3L195.5 733.6M199.3 738.8L198.8 732.9M201.4 739.6L204.9 740.1M200.4 738.2L203.3 743.5M200.4 735.6L201.9 740.2M198.3 740.5L196.6 737.6M202.0 740.8L203.0 740.0M199.4 736.1L197.8 730.4M202.7 738.9L203.1 731.8M201.2 739.7L194.6 732.3M199.8 737.9L193.9 740.9M199.4 741.3L198.5 731.2M200.4 736.8L194.1 733.6"/>
<path fill="none" stroke="#6a6a6a" stroke-width="2.8" stroke-linecap="round" d="M206.5 738.5h0M209.5 737.2h0M211.4 737.6h0M214.0 738.2h0M217.3 738.7h0M206.0 740.4h0M207.9 741.1h0M208.8 741.9h0M211.1 741.0h0M211.8 743.2h0M214.0 742.7h0M214.5 744.9h0M215.9 745.7h0M205.0 741.7h0M206.2 742.0h0M207.2 743.1h0M208.0 744.3h0M209.0 745.5h0M210.7 746.0h0M212.0 746.6h0M212.6 747.3h0M203.5 743.0h0M204.5 745.4h0M205.1 747.2h0M206.7 748.1h0M208.0 749.7h0M201.4 743.4h0M202.0 745.3h0M201.7 746.6h0M200.7 747.8h0M202.0 749.8h0M200.9 750.8h0M202.9 752.4h0M198.8 744.0h0M198.1 746.2h0M196.7 747.5h0M197.9 749.5h0M198.5 751.6h0M196.5 753.8h0M196.1 743.3h0M195.4 744.9h0M193.9 747.1h0M192.5 748.4h0M190.9 750.8h0M194.7 741.3h0M194.6 742.9h0M192.5 742.6h0M191.7 744.2h0M190.7 745.5h0M188.7 745.4h0M187.0 745.3h0M184.5 744.9h0M194.1 740.8h0M191.9 740.2h0M189.5 739.8h0M187.9 741.3h0M185.7 741.7h0M193.7 737.9h0M192.9 738.0h0M191.5 737.6h0M190.5 735.7h0M188.5 736.0h0M187.2 737.7h0M185.9 739.0h0M184.5 738.2h0M194.3 736.9h0M191.9 734.9h0M189.0 736.0h0M187.5 734.9h0M185.4 733.8h0M195.0 734.7h0M194.1 732.9h0M191.8 732.4h0M190.9 730.7h0M187.6 730.8h0M186.9 728.9h0M196.3 733.2h0M196.4 731.0h0M194.8 729.7h0M193.6 728.5h0M193.7 726.4h0M192.3 725.6h0M190.3 724.2h0M198.5 732.5h0M198.9 730.1h0M198.1 729.0h0M195.0 727.5h0M195.3 724.7h0M202.0 732.9h0M201.6 731.0h0M202.8 729.5h0M201.0 728.1h0M203.2 727.1h0M203.5 725.3h0M203.0 723.4h0M205.5 723.0h0M204.2 733.0h0M204.2 731.5h0M204.0 729.7h0M206.1 728.7h0M207.2 727.5h0M206.1 724.7h0M208.9 723.9h0M205.9 734.4h0M207.1 733.5h0M209.1 732.6h0M210.6 732.3h0M211.2 729.7h0M214.9 730.9h0M214.6 727.1h0M206.4 736.8h0M208.4 736.2h0M210.9 735.3h0M213.6 735.5h0M214.4 734.0h0M217.0 733.6h0M201.7 741.5h0M193.1 742.4h0M191.7 739.7h0M203.3 735.5h0M205.8 733.4h0M194.0 741.2h0M205.1 734.5h0M208.4 743.0h0M202.7 740.1h0M199.3 733.2h0M198.3 745.1h0M204.8 734.8h0M206.8 734.2h0M194.6 734.0h0M204.2 738.4h0M196.6 731.5h0M206.8 742.2h0M192.8 739.2h0M196.6 740.6h0M194.3 745.0h0M203.8 745.8h0M197.6 737.6h0M200.8 737.0h0M203.3 733.7h0M207.7 734.4h0M195.3 743.6h0M204.4 737.8h0M201.8 742.7h0M202.4 734.1h0M200.5 745.1h0M194.7 735.2h0M198.6 737.6h0M202.0 738.2h0M208.5 740.7h0M203.8 737.7h0M199.4 738.8h0M192.9 741.0h0M193.6 732.2h0M198.1 737.4h0M195.5 742.3h0M199.4 739.5h0M195.5 733.6h0M198.8 732.9h0M204.9 740.1h0M203.3 743.5h0M201.9 740.2h0M196.6 737.6h0M203.0 740.0h0M197.8 730.4h0M203.1 731.8h0M194.6 732.3h0M193.9 740.9h0M198.5 731.2h0M194.1 733.6h0"/>
<path fill="none" stroke="#a8a8a8" stroke-width="2.0" stroke-linecap="round" d="M206.5 738.5h0M209.5 737.2h0M211.4 737.6h0M214.0 738.2h0M217.3 738.7h0M206.0 740.4h0M207.9 741.1h0M208.8 741.9h0M211.1 741.0h0M211.8 743.2h0M214.0 742.7h0M214.5 744.9h0M215.9 745.7h0M205.0 741.7h0M206.2 742.0h0M207.2 743.1h0M208.0 744.3h0M209.0 745.5h0M210.7 746.0h0M212.0 746.6h0M212.6 747.3h0M203.5 743.0h0M204.5 745.4h0M205.1 747.2h0M206.7 748.1h0M208.0 749.7h0M201.4 743.4h0M202.0 745.3h0M201.7 746.6h0M200.7 747.8h0M202.0 749.8h0M200.9 750.8h0M202.9 752.4h0M198.8 744.0h0M198.1 746.2h0M196.7 747.5h0M197.9 749.5h0M198.5 751.6h0M196.5 753.8h0M196.1 743.3h0M195.4 744.9h0M193.9 747.1h0M192.5 748.4h0M190.9 750.8h0M194.7 741.3h0M194.6 742.9h0M192.5 742.6h0M191.7 744.2h0M190.7 745.5h0M188.7 745.4h0M187.0 745.3h0M184.5 744.9h0M194.1 740.8h0M191.9 740.2h0M189.5 739.8h0M187.9 741.3h0M185.7 741.7h0M193.7 737.9h0M192.9 738.0h0M191.5 737.6h0M190.5 735.7h0M188.5 736.0h0M187.2 737.7h0M185.9 739.0h0M184.5 738.2h0M194.3 736.9h0M191.9 734.9h0M189.0 736.0h0M187.5 734.9h0M185.4 733.8h0M195.0 734.7h0M194.1 732.9h0M191.8 732.4h0M190.9 730.7h0M187.6 730.8h0M186.9 728.9h0M196.3 733.2h0M196.4 731.0h0M194.8 729.7h0M193.6 728.5h0M193.7 726.4h0M192.3 725.6h0M190.3 724.2h0M198.5 732.5h0M198.9 730.1h0M198.1 729.0h0M195.0 727.5h0M195.3 724.7h0M202.0 732.9h0M201.6 731.0h0M202.8 729.5h0M201.0 728.1h0M203.2 727.1h0M203.5 725.3h0M203.0 723.4h0M205.5 723.0h0M204.2 733.0h0M204.2 731.5h0M204.0 729.7h0M206.1 728.7h0M207.2 727.5h0M206.1 724.7h0M208.9 723.9h0M205.9 734.4h0M207.1 733.5h0M209.1 732.6h0M210.6 732.3h0M211.2 729.7h0M214.9 730.9h0M214.6 727.1h0M206.4 736.8h0M208.4 736.2h0M210.9 735.3h0M213.6 735.5h0M214.4 734.0h0M217.0 733.6h0M201.7 741.5h0M193.1 742.4h0M191.7 739.7h0M203.3 735.5h0M205.8 733.4h0M194.0 741.2h0M205.1 734.5h0M208.4 743.0h0M202.7 740.1h0M199.3 733.2h0M198.3 745.1h0M204.8 734.8h0M206.8 734.2h0M194.6 734.0h0M204.2 738.4h0M196.6 731.5h0M206.8 742.2h0M192.8 739.2h0M196.6 740.6h0M194.3 745.0h0M203.8 745.8h0M197.6 737.6h0M200.8 737.0h0M203.3 733.7h0M207.7 734.4h0M195.3 743.6h0M204.4 737.8h0M201.8 742.7h0M202.4 734.1h0M200.5 745.1h0M194.7 735.2h0M198.6 737.6h0M202.0 738.2h0M208.5 740.7h0M203.8 737.7h0M199.4 738.8h0M192.9 741.0h0M193.6 732.2h0M198.1 737.4h0M195.5 742.3h0M199.4 739.5h0M195.5 733.6h0M198.8 732.9h0M204.9 740.1h0M203.3 743.5h0M201.9 740.2h0M196.6 737.6h0M203.0 740.0h0M197.8 730.4h0M203.1 731.8h0M194.6 732.3h0M193.9 740.9h0M198.5 731.2h0M194.1 733.6h0"/>
<circle cx="203.13" cy="737.73" r="1.25" fill="#2fb35a" stroke="#333" stroke-width="0.3"/>
<circle cx="194.81" cy="731.10" r="1.25" fill="#2fb35a" stroke="#333" stroke-width="0.3"/>
<circle cx="205.24" cy="731.83" r="1.25" fill="#2fb35a" stroke="#333" stroke-width="0.3"/>
<circle cx="199.95" cy="733.38" r="1.25" fill="#2fb35a" stroke="#333" stroke-width="0.3"/>
<circle cx="202.09" cy="730.39" r="1.25" fill="#2fb35a" stroke="#333" stroke-width="0.3"/>
<circle cx="195.38" cy="735.89" r="1.25" fill="#2fb35a" stroke="#333" stroke-width="0.3"/>
<circle cx="199.18" cy="736.22" r="1.25" fill="#2fb35a" stroke="#333" stroke-width="0.3"/>
<circle cx="191.65" cy="737.99" r="1.25" fill="#2fb35a" stroke="#333" stroke-width="0.3"/>
<circle cx="195.94" cy="744.38" r="1.25" fill="#2fb35a" stroke="#333" stroke-width="0.3"/>
<circle cx="206.09" cy="740.00" r="1.25" fill="#2fb35a" stroke="#333" stroke-width="0.3"/>
<circle cx="192.30" cy="727.10" r="1.30" fill="#2fb35a" stroke="#333" stroke-width="0.3"/>
<circle cx="199.30" cy="728.10" r="1.30" fill="#2fb35a" stroke="#333" stroke-width="0.3"/>
<circle cx="208.30" cy="730.10" r="1.30" fill="#2fb35a" stroke="#333" stroke-width="0.3"/>
<circle cx="218.30" cy="736.10" r="1.30" fill="#2fb35a" stroke="#333" stroke-width="0.3"/>
<circle cx="214.30" cy="736.10" r="1.30" fill="#2fb35a" stroke="#333" stroke-width="0.3"/>
<circle cx="186.30" cy="744.10" r="1.30" fill="#2fb35a" stroke="#333" stroke-width="0.3"/>
<rect x="229.90" y="720.60" width="109.80" height="33.70" fill="#fff" stroke="#4cd08a" stroke-width="0.9" rx="6" stroke-dasharray="3 2"/>
<text x="234.0" y="727.8" font-size="6.6" font-style="italic" xml:space="preserve" textLength="55.8" lengthAdjust="spacingAndGlyphs"><tspan fill="#2fb35a" font-weight="bold">Ano8</tspan><tspan fill="#2fb35a"> - LOC5510393,</tspan></text>
<text x="234.0" y="735.7" font-size="6.6" font-style="italic" xml:space="preserve" textLength="74.4" lengthAdjust="spacingAndGlyphs"><tspan fill="#2fb35a" font-weight="bold">PKD1-lik2</tspan><tspan fill="#2fb35a"> - LOC116609855,</tspan></text>
<text x="234.0" y="743.7" font-size="6.6" font-style="italic" xml:space="preserve" textLength="83.7" lengthAdjust="spacingAndGlyphs"><tspan fill="#2fb35a" font-weight="bold">GPCR Class A –</tspan><tspan fill="#2fb35a"> (LOC5516504,</tspan></text>
<text x="234.0" y="751.7" font-size="6.6" font-style="italic" xml:space="preserve" textLength="42.5" lengthAdjust="spacingAndGlyphs"><tspan fill="#2fb35a">LOC116615991)</tspan></text>
<ellipse cx="373.5" cy="685.8" rx="28" ry="19.5" fill="#fff" stroke="#3b3bef" stroke-width="0.9" transform="rotate(25 373.5 685.8)"/>
<path fill="none" stroke="#555" stroke-width="0.22" stroke-opacity="0.4" d="M380.5 671.4L373.9 674.4M380.5 671.4L378.3 675.8M380.5 671.4L372.1 680.3M380.5 671.4L380.9 681.5M380.5 671.4L376.5 683.5M380.5 671.4L352.0 685.2M380.5 671.4L363.0 687.8M380.5 671.4L363.0 690.5M380.5 671.4L378.7 690.6M380.5 671.4L377.6 693.7M380.5 671.4L388.3 701.6M373.9 674.4L378.3 675.8M373.9 674.4L369.1 680.3M373.9 674.4L372.1 680.3M373.9 674.4L380.9 681.5M373.9 674.4L363.0 687.8M373.9 674.4L363.0 690.5M373.9 674.4L378.7 690.6M373.9 674.4L377.6 693.7M373.9 674.4L388.3 701.6M378.3 675.8L369.1 680.3M378.3 675.8L372.1 680.3M378.3 675.8L380.9 681.5M378.3 675.8L376.5 683.5M378.3 675.8L352.0 685.2M378.3 675.8L363.0 687.8M378.3 675.8L363.0 690.5M378.3 675.8L378.7 690.6M378.3 675.8L377.6 693.7M378.3 675.8L388.3 701.6M369.1 680.3L372.1 680.3M369.1 680.3L380.9 681.5M369.1 680.3L376.5 683.5M369.1 680.3L363.0 690.5M369.1 680.3L378.7 690.6M369.1 680.3L377.6 693.7M369.1 680.3L388.3 701.6M372.1 680.3L380.9 681.5M372.1 680.3L376.5 683.5M372.1 680.3L352.0 685.2M372.1 680.3L363.0 687.8M372.1 680.3L363.0 690.5M372.1 680.3L378.7 690.6M372.1 680.3L388.3 701.6M380.9 681.5L376.5 683.5M380.9 681.5L352.0 685.2M380.9 681.5L363.0 690.5M380.9 681.5L377.6 693.7M380.9 681.5L388.3 701.6M376.5 683.5L352.0 685.2M376.5 683.5L363.0 687.8M376.5 683.5L363.0 690.5M376.5 683.5L378.7 690.6M376.5 683.5L377.6 693.7M352.0 685.2L363.0 687.8M352.0 685.2L363.0 690.5M352.0 685.2L378.7 690.6M352.0 685.2L377.6 693.7M352.0 685.2L388.3 701.6M363.0 687.8L363.0 690.5M363.0 687.8L378.7 690.6M363.0 687.8L377.6 693.7M363.0 687.8L388.3 701.6M363.0 690.5L378.7 690.6M363.0 690.5L377.6 693.7M363.0 690.5L388.3 701.6M378.7 690.6L377.6 693.7M378.7 690.6L388.3 701.6M377.6 693.7L388.3 701.6"/>
<polygon points="380.50,669.00 382.90,671.40 380.50,673.80 378.10,671.40" fill="#4d4d4d" stroke="#444" stroke-width="0.2"/>
<polygon points="373.90,672.00 376.30,674.40 373.90,676.80 371.50,674.40" fill="#138f8f" stroke="#444" stroke-width="0.2"/>
<polygon points="378.30,673.40 380.70,675.80 378.30,678.20 375.90,675.80" fill="#4d4d4d" stroke="#444" stroke-width="0.2"/>
<polygon points="369.10,677.90 371.50,680.30 369.10,682.70 366.70,680.30" fill="#138f8f" stroke="#444" stroke-width="0.2"/>
<polygon points="372.10,677.90 374.50,680.30 372.10,682.70 369.70,680.30" fill="#4d4d4d" stroke="#444" stroke-width="0.2"/>
<polygon points="380.90,679.10 383.30,681.50 380.90,683.90 378.50,681.50" fill="#138f8f" stroke="#444" stroke-width="0.2"/>
<polygon points="376.50,681.10 378.90,683.50 376.50,685.90 374.10,683.50" fill="#138f8f" stroke="#444" stroke-width="0.2"/>
<polygon points="352.00,682.80 354.40,685.20 352.00,687.60 349.60,685.20" fill="#b43cf0" stroke="#444" stroke-width="0.2"/>
<polygon points="363.00,685.40 365.40,687.80 363.00,690.20 360.60,687.80" fill="#b43cf0" stroke="#444" stroke-width="0.2"/>
<polygon points="363.00,688.10 365.40,690.50 363.00,692.90 360.60,690.50" fill="#4d4d4d" stroke="#444" stroke-width="0.2"/>
<polygon points="378.70,688.20 381.10,690.60 378.70,693.00 376.30,690.60" fill="#138f8f" stroke="#444" stroke-width="0.2"/>
<polygon points="377.60,691.30 380.00,693.70 377.60,696.10 375.20,693.70" fill="#138f8f" stroke="#444" stroke-width="0.2"/>
<polygon points="388.30,699.20 390.70,701.60 388.30,704.00 385.90,701.60" fill="#0000ee" stroke="#444" stroke-width="0.2"/>
<rect x="402.40" y="668.80" width="114.10" height="41.50" fill="#fff" stroke="#5a5af0" stroke-width="0.9" rx="6"/>
<text x="407.5" y="684.3" font-size="6.6" font-style="italic" xml:space="preserve" textLength="99.1" lengthAdjust="spacingAndGlyphs"><tspan fill="#1515f0" font-weight="bold">SREB - Nem40</tspan><tspan fill="#1515f0"> - LOC5516451, </tspan><tspan fill="#b23cf0" font-weight="bold">bZIP -</tspan></text>
<text x="407.5" y="692.1" font-size="6.6" font-style="italic" xml:space="preserve" textLength="95.0" lengthAdjust="spacingAndGlyphs"><tspan fill="#b23cf0" font-weight="bold">ATF6 family;</tspan><tspan fill="#b23cf0"> LOC5508397; </tspan><tspan fill="#b23cf0" font-weight="bold">unchar:</tspan></text>
<text x="407.5" y="700.0" font-size="6.6" font-style="italic" xml:space="preserve" textLength="34.5" lengthAdjust="spacingAndGlyphs"><tspan fill="#b23cf0">LOC5521517</tspan></text>
<ellipse cx="371.9" cy="737.0" rx="24.0" ry="19.0" fill="#fff" stroke="#3b3bef" stroke-width="0.9" stroke-dasharray="3 2"/>
<ellipse cx="371.9" cy="737.0" rx="9.6" ry="7.6" fill="#555" fill-opacity="0.45"/>
<path fill="none" stroke="#333" stroke-width="0.35" stroke-opacity="0.45" d="M370.5 734.6L378.0 737.3M371.5 734.8L380.1 737.0M371.9 735.2L382.6 736.7M370.3 736.2L384.3 736.1M372.9 740.1L386.4 737.5M372.4 737.4L387.9 737.7M370.5 740.2L390.5 738.7M371.2 738.7L378.3 738.6M374.2 735.9L380.0 739.7M372.5 736.9L382.1 739.9M373.4 737.5L384.0 739.9M372.1 738.0L384.7 742.1M372.8 737.4L388.1 739.1M372.5 737.7L390.3 738.5M370.6 735.0L376.8 740.6M372.0 737.8L378.6 742.2M371.6 737.4L381.4 743.1M374.8 739.9L382.2 745.3M370.0 735.6L383.8 747.1M371.6 738.2L374.8 741.8M375.0 737.2L375.6 742.6M370.0 737.3L375.8 744.0M370.8 733.8L378.0 744.5M371.2 738.6L378.2 745.8M373.2 738.1L378.3 747.5M374.5 738.1L379.3 748.3M370.1 736.7L372.3 742.3M372.0 735.6L372.6 743.2M372.0 736.5L372.7 745.0M372.3 738.6L373.3 746.1M371.0 734.3L372.8 747.7M370.8 738.5L373.6 748.8M370.8 734.2L370.6 741.8M371.1 734.8L370.9 743.3M374.2 739.6L370.7 744.3M372.3 734.9L371.0 745.9M371.5 738.1L368.8 747.1M371.8 734.8L371.0 748.2M373.4 737.0L370.7 749.8M370.1 737.4L369.7 750.6M369.7 738.5L369.3 741.3M370.3 736.2L366.7 742.9M372.8 737.7L366.5 744.7M372.3 740.9L364.7 745.7M373.0 738.3L364.7 747.9M373.5 739.6L360.8 748.2M374.8 736.1L367.0 740.2M371.7 738.4L365.5 742.2M369.3 738.1L363.5 743.3M371.8 735.2L361.8 743.9M373.2 736.6L360.3 746.1M373.8 736.2L366.0 738.5M369.5 738.1L363.5 738.2M369.7 736.4L361.3 739.0M374.4 736.2L359.1 739.8M372.3 739.1L357.5 739.9M372.2 736.6L356.1 741.0M372.4 735.5L365.4 736.8M372.0 736.1L363.9 737.2M373.6 735.2L361.4 738.1M371.5 740.2L359.3 736.1M371.6 736.1L357.4 737.4M374.8 735.6L355.9 736.2M375.1 738.2L354.0 736.3M372.4 739.0L351.4 737.3M371.0 736.7L365.8 735.5M370.9 739.7L364.9 734.9M374.5 737.9L363.6 734.3M372.3 734.5L362.0 734.0M373.1 734.7L360.9 734.1M367.0 737.3L359.3 733.6M370.3 738.1L358.3 733.4M371.2 740.6L356.9 733.1M373.1 738.6L366.6 734.4M370.4 736.0L365.4 733.4M372.0 737.1L363.9 732.7M372.5 738.4L362.8 731.8M372.9 739.8L361.8 730.6M369.8 734.8L358.6 731.3M371.7 734.5L358.5 729.7M372.4 735.8L356.0 730.1M367.7 738.3L367.6 732.6M370.0 736.2L366.3 731.6M371.4 735.4L365.3 729.4M372.2 737.6L362.9 728.0M372.7 736.2L360.5 727.1M372.4 736.0L370.6 732.0M371.0 739.3L370.7 730.1M371.7 735.4L370.5 728.3M371.7 736.2L371.2 726.2M372.5 740.2L370.0 724.6M371.1 735.7L373.3 731.8M370.1 738.2L373.8 730.6M373.4 737.7L374.2 729.6M373.1 736.2L374.1 728.4M371.4 737.3L374.0 726.8M374.3 733.9L375.3 725.6M372.2 737.3L375.4 724.0M372.4 738.9L378.7 723.6M371.1 736.3L374.3 732.6M370.1 739.5L376.4 731.4M375.2 733.7L375.8 729.0M372.0 737.7L377.1 727.6M372.9 735.9L375.9 725.4M371.6 737.7L380.0 725.1M371.0 737.8L379.6 723.0M372.3 736.5L376.8 734.2M375.5 738.6L378.3 732.8M370.4 736.6L381.8 733.0M372.1 737.4L381.7 730.0M371.2 737.5L385.2 731.3M373.4 737.6L385.7 729.1M371.2 740.0L387.4 727.9M373.2 739.4L377.7 734.9M372.0 737.8L378.6 733.8M372.9 737.4L380.1 734.0M373.5 739.5L380.7 732.6M370.5 736.4L382.3 732.9M371.8 737.6L383.1 731.1M373.0 737.9L385.2 732.0M368.7 738.3L386.3 731.0M372.1 737.8L365.4 740.5M371.7 738.0L372.1 729.7M372.5 737.9L373.6 738.4M371.1 736.9L374.2 738.5M371.2 736.5L372.8 737.3M371.1 735.0L371.9 739.7M370.5 738.2L368.8 731.2M370.8 738.5L381.5 735.3M371.8 740.2L371.7 729.2M370.9 737.7L376.6 737.7M371.9 736.7L378.1 734.5M374.2 737.9L374.3 743.7M371.1 737.2L365.3 739.7M370.2 737.6L369.9 740.6M371.9 738.1L378.6 740.2M371.9 739.1L381.5 734.7M371.0 739.2L372.8 729.3M369.4 735.2L368.3 740.3M373.3 735.7L378.8 734.1M370.0 739.6L371.4 736.2M373.6 737.9L372.8 742.5M373.3 736.1L370.8 729.8M369.6 737.6L372.2 732.4M370.7 736.3L365.0 742.0M374.2 739.9L378.9 736.6M372.8 736.4L374.6 742.9M373.3 736.1L366.0 735.9M374.1 737.4L372.7 741.9M372.6 737.7L369.2 735.2M372.2 733.8L362.4 735.0M368.8 738.7L371.7 733.0M372.0 736.2L369.1 738.3M372.9 736.6L371.2 730.7M372.5 736.0L375.4 742.2M372.4 737.8L365.6 733.6M372.2 739.1L367.8 740.1M370.9 739.7L365.7 743.3M371.6 736.9L368.4 742.0M370.8 740.3L367.8 737.8M374.6 736.0L368.2 739.1M369.7 738.6L369.2 741.3M374.0 736.4L366.2 743.3M371.8 738.0L370.2 741.4M375.7 736.5L368.4 732.8M371.4 739.2L363.8 736.4M373.1 736.0L379.3 739.9M373.3 737.6L376.0 739.4M372.6 735.4L375.6 729.6M371.9 737.3L370.0 734.1M372.7 736.3L366.9 738.6M372.2 738.6L374.5 733.8M372.5 739.3L374.6 743.0M372.7 737.3L366.9 732.3M369.6 737.9L362.1 738.0M371.6 735.6L362.5 739.0M372.6 739.7L366.6 740.4M373.2 741.1L366.5 742.2M373.0 735.0L371.9 733.1"/>
<path fill="none" stroke="#6a6a6a" stroke-width="2.8" stroke-linecap="round" d="M378.0 737.3h0M380.1 737.0h0M382.6 736.7h0M384.3 736.1h0M386.4 737.5h0M387.9 737.7h0M390.5 738.7h0M378.3 738.6h0M380.0 739.7h0M382.1 739.9h0M384.0 739.9h0M384.7 742.1h0M388.1 739.1h0M390.3 738.5h0M376.8 740.6h0M378.6 742.2h0M381.4 743.1h0M382.2 745.3h0M383.8 747.1h0M374.8 741.8h0M375.6 742.6h0M375.8 744.0h0M378.0 744.5h0M378.2 745.8h0M378.3 747.5h0M379.3 748.3h0M372.3 742.3h0M372.6 743.2h0M372.7 745.0h0M373.3 746.1h0M372.8 747.7h0M373.6 748.8h0M370.6 741.8h0M370.9 743.3h0M370.7 744.3h0M371.0 745.9h0M368.8 747.1h0M371.0 748.2h0M370.7 749.8h0M369.7 750.6h0M369.3 741.3h0M366.7 742.9h0M366.5 744.7h0M364.7 745.7h0M364.7 747.9h0M360.8 748.2h0M367.0 740.2h0M365.5 742.2h0M363.5 743.3h0M361.8 743.9h0M360.3 746.1h0M366.0 738.5h0M363.5 738.2h0M361.3 739.0h0M359.1 739.8h0M357.5 739.9h0M356.1 741.0h0M365.4 736.8h0M363.9 737.2h0M361.4 738.1h0M359.3 736.1h0M357.4 737.4h0M355.9 736.2h0M354.0 736.3h0M351.4 737.3h0M365.8 735.5h0M364.9 734.9h0M363.6 734.3h0M362.0 734.0h0M360.9 734.1h0M359.3 733.6h0M358.3 733.4h0M356.9 733.1h0M366.6 734.4h0M365.4 733.4h0M363.9 732.7h0M362.8 731.8h0M361.8 730.6h0M358.6 731.3h0M358.5 729.7h0M356.0 730.1h0M367.6 732.6h0M366.3 731.6h0M365.3 729.4h0M362.9 728.0h0M360.5 727.1h0M370.6 732.0h0M370.7 730.1h0M370.5 728.3h0M371.2 726.2h0M370.0 724.6h0M373.3 731.8h0M373.8 730.6h0M374.2 729.6h0M374.1 728.4h0M374.0 726.8h0M375.3 725.6h0M375.4 724.0h0M378.7 723.6h0M374.3 732.6h0M376.4 731.4h0M375.8 729.0h0M377.1 727.6h0M375.9 725.4h0M380.0 725.1h0M379.6 723.0h0M376.8 734.2h0M378.3 732.8h0M381.8 733.0h0M381.7 730.0h0M385.2 731.3h0M385.7 729.1h0M387.4 727.9h0M377.7 734.9h0M378.6 733.8h0M380.1 734.0h0M380.7 732.6h0M382.3 732.9h0M383.1 731.1h0M385.2 732.0h0M386.3 731.0h0M365.4 740.5h0M372.1 729.7h0M373.6 738.4h0M374.2 738.5h0M372.8 737.3h0M371.9 739.7h0M368.8 731.2h0M381.5 735.3h0M371.7 729.2h0M376.6 737.7h0M378.1 734.5h0M374.3 743.7h0M365.3 739.7h0M369.9 740.6h0M378.6 740.2h0M381.5 734.7h0M372.8 729.3h0M368.3 740.3h0M378.8 734.1h0M371.4 736.2h0M372.8 742.5h0M370.8 729.8h0M372.2 732.4h0M365.0 742.0h0M378.9 736.6h0M374.6 742.9h0M366.0 735.9h0M372.7 741.9h0M369.2 735.2h0M362.4 735.0h0M371.7 733.0h0M369.1 738.3h0M371.2 730.7h0M375.4 742.2h0M365.6 733.6h0M367.8 740.1h0M365.7 743.3h0M368.4 742.0h0M367.8 737.8h0M368.2 739.1h0M369.2 741.3h0M366.2 743.3h0M370.2 741.4h0M368.4 732.8h0M363.8 736.4h0M379.3 739.9h0M376.0 739.4h0M375.6 729.6h0M370.0 734.1h0M366.9 738.6h0M374.5 733.8h0M374.6 743.0h0M366.9 732.3h0M362.1 738.0h0M362.5 739.0h0M366.6 740.4h0M366.5 742.2h0M371.9 733.1h0"/>
<path fill="none" stroke="#a8a8a8" stroke-width="2.0" stroke-linecap="round" d="M378.0 737.3h0M380.1 737.0h0M382.6 736.7h0M384.3 736.1h0M386.4 737.5h0M387.9 737.7h0M390.5 738.7h0M378.3 738.6h0M380.0 739.7h0M382.1 739.9h0M384.0 739.9h0M384.7 742.1h0M388.1 739.1h0M390.3 738.5h0M376.8 740.6h0M378.6 742.2h0M381.4 743.1h0M382.2 745.3h0M383.8 747.1h0M374.8 741.8h0M375.6 742.6h0M375.8 744.0h0M378.0 744.5h0M378.2 745.8h0M378.3 747.5h0M379.3 748.3h0M372.3 742.3h0M372.6 743.2h0M372.7 745.0h0M373.3 746.1h0M372.8 747.7h0M373.6 748.8h0M370.6 741.8h0M370.9 743.3h0M370.7 744.3h0M371.0 745.9h0M368.8 747.1h0M371.0 748.2h0M370.7 749.8h0M369.7 750.6h0M369.3 741.3h0M366.7 742.9h0M366.5 744.7h0M364.7 745.7h0M364.7 747.9h0M360.8 748.2h0M367.0 740.2h0M365.5 742.2h0M363.5 743.3h0M361.8 743.9h0M360.3 746.1h0M366.0 738.5h0M363.5 738.2h0M361.3 739.0h0M359.1 739.8h0M357.5 739.9h0M356.1 741.0h0M365.4 736.8h0M363.9 737.2h0M361.4 738.1h0M359.3 736.1h0M357.4 737.4h0M355.9 736.2h0M354.0 736.3h0M351.4 737.3h0M365.8 735.5h0M364.9 734.9h0M363.6 734.3h0M362.0 734.0h0M360.9 734.1h0M359.3 733.6h0M358.3 733.4h0M356.9 733.1h0M366.6 734.4h0M365.4 733.4h0M363.9 732.7h0M362.8 731.8h0M361.8 730.6h0M358.6 731.3h0M358.5 729.7h0M356.0 730.1h0M367.6 732.6h0M366.3 731.6h0M365.3 729.4h0M362.9 728.0h0M360.5 727.1h0M370.6 732.0h0M370.7 730.1h0M370.5 728.3h0M371.2 726.2h0M370.0 724.6h0M373.3 731.8h0M373.8 730.6h0M374.2 729.6h0M374.1 728.4h0M374.0 726.8h0M375.3 725.6h0M375.4 724.0h0M378.7 723.6h0M374.3 732.6h0M376.4 731.4h0M375.8 729.0h0M377.1 727.6h0M375.9 725.4h0M380.0 725.1h0M379.6 723.0h0M376.8 734.2h0M378.3 732.8h0M381.8 733.0h0M381.7 730.0h0M385.2 731.3h0M385.7 729.1h0M387.4 727.9h0M377.7 734.9h0M378.6 733.8h0M380.1 734.0h0M380.7 732.6h0M382.3 732.9h0M383.1 731.1h0M385.2 732.0h0M386.3 731.0h0M365.4 740.5h0M372.1 729.7h0M373.6 738.4h0M374.2 738.5h0M372.8 737.3h0M371.9 739.7h0M368.8 731.2h0M381.5 735.3h0M371.7 729.2h0M376.6 737.7h0M378.1 734.5h0M374.3 743.7h0M365.3 739.7h0M369.9 740.6h0M378.6 740.2h0M381.5 734.7h0M372.8 729.3h0M368.3 740.3h0M378.8 734.1h0M371.4 736.2h0M372.8 742.5h0M370.8 729.8h0M372.2 732.4h0M365.0 742.0h0M378.9 736.6h0M374.6 742.9h0M366.0 735.9h0M372.7 741.9h0M369.2 735.2h0M362.4 735.0h0M371.7 733.0h0M369.1 738.3h0M371.2 730.7h0M375.4 742.2h0M365.6 733.6h0M367.8 740.1h0M365.7 743.3h0M368.4 742.0h0M367.8 737.8h0M368.2 739.1h0M369.2 741.3h0M366.2 743.3h0M370.2 741.4h0M368.4 732.8h0M363.8 736.4h0M379.3 739.9h0M376.0 739.4h0M375.6 729.6h0M370.0 734.1h0M366.9 738.6h0M374.5 733.8h0M374.6 743.0h0M366.9 732.3h0M362.1 738.0h0M362.5 739.0h0M366.6 740.4h0M366.5 742.2h0M371.9 733.1h0"/>
<circle cx="382.45" cy="740.31" r="1.25" fill="#fff" stroke="#333" stroke-width="0.3"/>
<circle cx="382.21" cy="735.11" r="1.25" fill="#fff" stroke="#333" stroke-width="0.3"/>
<circle cx="363.43" cy="733.31" r="1.25" fill="#fff" stroke="#333" stroke-width="0.3"/>
<circle cx="360.89" cy="738.00" r="1.25" fill="#fff" stroke="#333" stroke-width="0.3"/>
<circle cx="364.08" cy="733.68" r="1.25" fill="#fff" stroke="#333" stroke-width="0.3"/>
<circle cx="364.03" cy="741.23" r="1.25" fill="#fff" stroke="#333" stroke-width="0.3"/>
<circle cx="361.94" cy="732.23" r="1.25" fill="#fff" stroke="#333" stroke-width="0.3"/>
<circle cx="372.89" cy="731.60" r="1.25" fill="#fff" stroke="#333" stroke-width="0.3"/>
<circle cx="370.82" cy="732.49" r="1.25" fill="#fff" stroke="#333" stroke-width="0.3"/>
<circle cx="363.26" cy="737.80" r="1.25" fill="#fff" stroke="#333" stroke-width="0.3"/>
<circle cx="371.43" cy="734.47" r="1.25" fill="#fff" stroke="#333" stroke-width="0.3"/>
<circle cx="375.00" cy="740.23" r="1.25" fill="#fff" stroke="#333" stroke-width="0.3"/>
<circle cx="368.28" cy="734.32" r="1.25" fill="#fff" stroke="#333" stroke-width="0.3"/>
<circle cx="361.41" cy="733.73" r="1.25" fill="#fff" stroke="#333" stroke-width="0.3"/>
<circle cx="366.81" cy="738.98" r="1.25" fill="#fff" stroke="#333" stroke-width="0.3"/>
<circle cx="365.59" cy="733.51" r="1.25" fill="#fff" stroke="#333" stroke-width="0.3"/>
<circle cx="367.23" cy="738.55" r="1.25" fill="#fff" stroke="#333" stroke-width="0.3"/>
<circle cx="369.00" cy="731.91" r="1.25" fill="#fff" stroke="#333" stroke-width="0.3"/>
<circle cx="380.32" cy="736.38" r="1.25" fill="#fff" stroke="#333" stroke-width="0.3"/>
<circle cx="367.13" cy="728.68" r="1.25" fill="#fff" stroke="#333" stroke-width="0.3"/>
<circle cx="373.64" cy="736.86" r="1.25" fill="#fff" stroke="#333" stroke-width="0.3"/>
<circle cx="375.37" cy="735.66" r="1.25" fill="#fff" stroke="#333" stroke-width="0.3"/>
<circle cx="369.90" cy="736.00" r="1.30" fill="#2fb35a" stroke="#333" stroke-width="0.3"/>
<rect x="402.40" y="720.30" width="114.10" height="33.30" fill="#fff" stroke="#5a5af0" stroke-width="0.9" rx="6" stroke-dasharray="3 2"/>
<text x="406.5" y="727.2" font-size="6.6" font-style="italic" xml:space="preserve" textLength="71.6" lengthAdjust="spacingAndGlyphs"><tspan fill="#1a1a1a" font-weight="bold">PKD2-like1</tspan><tspan fill="#454545"> - LOC5519186,</tspan></text>
<text x="406.5" y="735.2" font-size="6.6" font-style="italic" xml:space="preserve" textLength="73.4" lengthAdjust="spacingAndGlyphs"><tspan fill="#1a1a1a" font-weight="bold">NvNav2.5</tspan><tspan fill="#454545"> - LOC116614450,</tspan></text>
<text x="406.5" y="743.3" font-size="6.6" font-style="italic" xml:space="preserve" textLength="80.7" lengthAdjust="spacingAndGlyphs"><tspan fill="#1a1a1a" font-weight="bold">GPCR Class A</tspan><tspan fill="#454545"> - LOC5513566,</tspan></text>
<text x="406.5" y="751.4" font-size="6.6" font-style="italic" xml:space="preserve" textLength="34.5" lengthAdjust="spacingAndGlyphs"><tspan fill="#454545">LOC5515950</tspan></text>
<rect x="213.50" y="760.40" width="89.70" height="28.30" fill="#fff" stroke="#666" stroke-width="0.8" stroke-dasharray="3 2"/>
<text x="215.9" y="769.6" font-size="6.3" fill="#000" font-weight="bold" textLength="22.5" lengthAdjust="spacingAndGlyphs">Effector</text>
<text x="215.9" y="777.1" font-size="6.3" fill="#000" font-weight="bold" textLength="31.5" lengthAdjust="spacingAndGlyphs">expression</text>
<text x="215.9" y="783.9" font-size="6.3" fill="#000" font-weight="bold" textLength="11.5" lengthAdjust="spacingAndGlyphs">bias</text>
<circle cx="256.50" cy="767.30" r="2.20" fill="#2f6fd0" stroke="none" stroke-width="1"/>
<circle cx="256.50" cy="775.50" r="2.20" fill="#fff" stroke="#333" stroke-width="0.4"/>
<circle cx="256.50" cy="781.30" r="2.20" fill="#3cc47a" stroke="none" stroke-width="1"/>
<text x="260.7" y="766.8" font-size="4.9" fill="#333" textLength="36.0" lengthAdjust="spacingAndGlyphs">Any peptidergic</text>
<text x="260.7" y="772.1" font-size="4.9" fill="#333" textLength="32.0" lengthAdjust="spacingAndGlyphs">neural cluster</text>
<text x="260.7" y="777.3" font-size="4.9" fill="#333" textLength="11.0" lengthAdjust="spacingAndGlyphs">Both</text>
<text x="260.7" y="783.1" font-size="4.9" fill="#333" textLength="36.0" lengthAdjust="spacingAndGlyphs">Late cnidocytes</text>
<rect x="317.50" y="760.40" width="125.90" height="24.80" fill="#fff" stroke="#111" stroke-width="0.9"/>
<text x="324.0" y="774.6" font-size="7.2" fill="#000" font-weight="bold" textLength="31.0" lengthAdjust="spacingAndGlyphs">TF Family</text>
<polygon points="358.40,765.00 361.40,768.00 358.40,771.00 355.40,768.00" fill="#0000ee" stroke="none" stroke-width="1"/>
<text x="362.2" y="770.0" font-size="5.6" fill="#333">bHLH</text>
<polygon points="380.60,765.00 383.60,768.00 380.60,771.00 377.60,768.00" fill="#f04a10" stroke="none" stroke-width="1"/>
<text x="384.4" y="770.0" font-size="5.6" fill="#333" textLength="32.0" lengthAdjust="spacingAndGlyphs">Homeodomain</text>
<polygon points="424.50,765.00 427.50,768.00 424.50,771.00 421.50,768.00" fill="#138f8f" stroke="none" stroke-width="1"/>
<text x="428.3" y="770.0" font-size="5.6" fill="#333">ZF</text>
<polygon points="358.40,772.50 361.40,775.50 358.40,778.50 355.40,775.50" fill="#b43cf0" stroke="none" stroke-width="1"/>
<text x="362.2" y="777.5" font-size="5.6" fill="#333">bZIP</text>
<polygon points="380.60,772.50 383.60,775.50 380.60,778.50 377.60,775.50" fill="#bdbdbd" stroke="none" stroke-width="1"/>
<text x="384.4" y="777.5" font-size="5.6" fill="#333">Other</text>
</svg>
</body></html>
